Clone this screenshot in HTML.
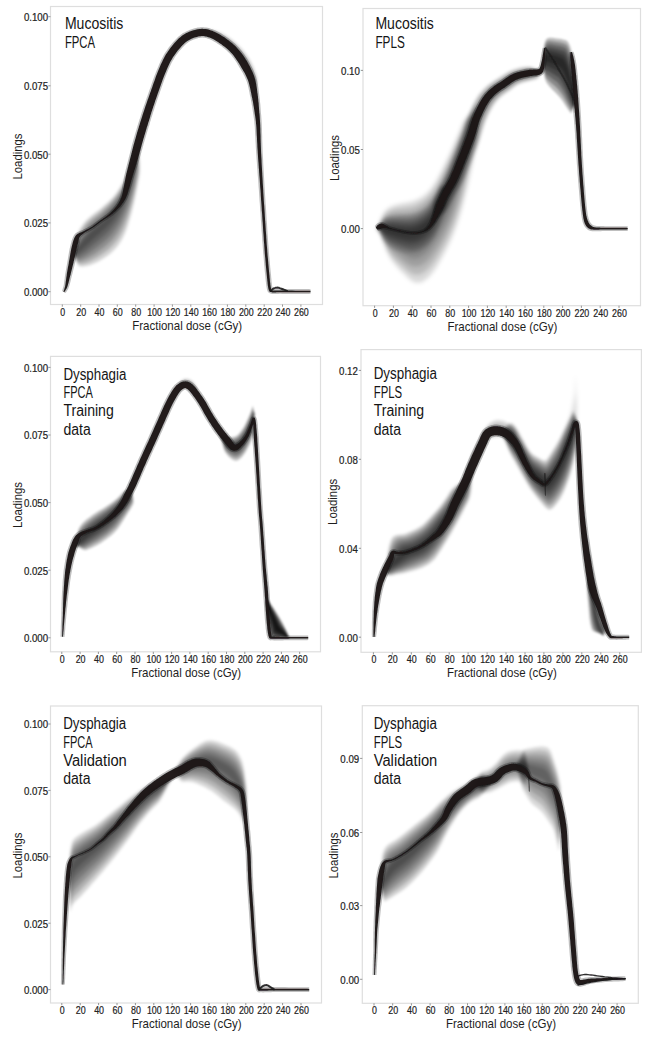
<!DOCTYPE html><html><head><meta charset="utf-8"><style>html,body{margin:0;padding:0;background:#fff;}svg{display:block}</style></head><body>
<svg width="650" height="1039" viewBox="0 0 650 1039">
<defs>
<filter id="b0_5" x="-20%" y="-20%" width="140%" height="140%"><feGaussianBlur stdDeviation="0.5"/></filter>
<filter id="b0_6" x="-20%" y="-20%" width="140%" height="140%"><feGaussianBlur stdDeviation="0.6"/></filter>
<filter id="b0_9" x="-20%" y="-20%" width="140%" height="140%"><feGaussianBlur stdDeviation="0.9"/></filter>
<filter id="b1_2" x="-20%" y="-20%" width="140%" height="140%"><feGaussianBlur stdDeviation="1.2"/></filter>
<filter id="b1_3" x="-20%" y="-20%" width="140%" height="140%"><feGaussianBlur stdDeviation="1.3"/></filter>
<filter id="b1_4" x="-20%" y="-20%" width="140%" height="140%"><feGaussianBlur stdDeviation="1.4"/></filter>
<filter id="b1_5" x="-20%" y="-20%" width="140%" height="140%"><feGaussianBlur stdDeviation="1.5"/></filter>
<filter id="b1_6" x="-20%" y="-20%" width="140%" height="140%"><feGaussianBlur stdDeviation="1.6"/></filter>
<filter id="b2_0" x="-20%" y="-20%" width="140%" height="140%"><feGaussianBlur stdDeviation="2.0"/></filter>
</defs>
<rect width="650" height="1039" fill="#fff"/>
<rect x="50.5" y="6.5" width="272" height="298" fill="none" stroke="#dedede" stroke-width="1.2"/>
<path d="M62.3,304.5v2.2M80.7,304.5v2.2M99,304.5v2.2M117.3,304.5v2.2M135.7,304.5v2.2M154.1,304.5v2.2M172.4,304.5v2.2M190.8,304.5v2.2M209.1,304.5v2.2M227.4,304.5v2.2M245.8,304.5v2.2M264.2,304.5v2.2M282.5,304.5v2.2M300.9,304.5v2.2M50.5,291.7h-2.2M50.5,222.9h-2.2M50.5,154.2h-2.2M50.5,85.8h-2.2M50.5,16.7h-2.2" stroke="#8a8a8a" stroke-width="0.9" fill="none"/>
<g font-family='"Liberation Sans", sans-serif' font-size="10.2" fill="#222" stroke="#222" stroke-width="0.2" text-anchor="middle"><text x="62.8" y="315.5" textLength="4.9" lengthAdjust="spacingAndGlyphs">0</text><text x="81.2" y="315.5" textLength="9.9" lengthAdjust="spacingAndGlyphs">20</text><text x="99.5" y="315.5" textLength="9.9" lengthAdjust="spacingAndGlyphs">40</text><text x="117.8" y="315.5" textLength="9.9" lengthAdjust="spacingAndGlyphs">60</text><text x="136.2" y="315.5" textLength="9.9" lengthAdjust="spacingAndGlyphs">80</text><text x="154.6" y="315.5" textLength="14.8" lengthAdjust="spacingAndGlyphs">100</text><text x="172.9" y="315.5" textLength="14.8" lengthAdjust="spacingAndGlyphs">120</text><text x="191.2" y="315.5" textLength="14.8" lengthAdjust="spacingAndGlyphs">140</text><text x="209.6" y="315.5" textLength="14.8" lengthAdjust="spacingAndGlyphs">160</text><text x="227.9" y="315.5" textLength="14.8" lengthAdjust="spacingAndGlyphs">180</text><text x="246.3" y="315.5" textLength="14.8" lengthAdjust="spacingAndGlyphs">200</text><text x="264.7" y="315.5" textLength="14.8" lengthAdjust="spacingAndGlyphs">220</text><text x="283" y="315.5" textLength="14.8" lengthAdjust="spacingAndGlyphs">240</text><text x="301.4" y="315.5" textLength="14.8" lengthAdjust="spacingAndGlyphs">260</text><text x="48.1" y="296" text-anchor="end" textLength="24.2" lengthAdjust="spacingAndGlyphs">0.000</text><text x="48.1" y="227.2" text-anchor="end" textLength="24.2" lengthAdjust="spacingAndGlyphs">0.025</text><text x="48.1" y="158.5" text-anchor="end" textLength="24.2" lengthAdjust="spacingAndGlyphs">0.050</text><text x="48.1" y="90.1" text-anchor="end" textLength="24.2" lengthAdjust="spacingAndGlyphs">0.075</text><text x="48.1" y="21" text-anchor="end" textLength="24.2" lengthAdjust="spacingAndGlyphs">0.100</text></g>
<text x="187.2" y="329.6" font-family='"Liberation Sans", sans-serif' font-size="12.8" fill="#1e1e1e" text-anchor="middle" textLength="110" lengthAdjust="spacingAndGlyphs">Fractional dose (cGy)</text>
<text transform="translate(22.3,156.5) rotate(-90)" font-family='"Liberation Sans", sans-serif' font-size="12.4" fill="#1e1e1e" text-anchor="middle" textLength="46" lengthAdjust="spacingAndGlyphs">Loadings</text>
<text x="64.9" y="28.8" font-family='"Liberation Sans", sans-serif' font-size="16" fill="#151515" textLength="58.5" lengthAdjust="spacingAndGlyphs">Mucositis</text>
<text x="64.9" y="47.7" font-family='"Liberation Sans", sans-serif' font-size="16" fill="#151515" textLength="30.2" lengthAdjust="spacingAndGlyphs">FPCA</text>
<g fill="#000" fill-opacity="0.182" filter="url(#b1_5)"><path d="M73,253.6 74,249.3 74.5,243.5 75.3,240.2 76.3,237 77.5,233.9 78.9,230.9 80.6,228 82.5,225.2 84.5,222.5 86.7,220 89.2,217.7 91.8,215.6 94.4,213.6 97.1,211.5 99.8,209.5 102.3,207.3 104.8,205.1 107.3,202.9 109.8,200.6 112.2,198.2 114.4,195.7 116.5,193.1 118.4,190.3 120.2,187.5 121.8,184.6 123.4,181.6 124.8,178.6 126.2,175.5 127.3,172.4 128.4,169.2 129.3,166 130.2,162.7 131.1,159.5 132.1,156.5 133.4,154 134.7,151.7 136,149.4 137.2,146.7 138.1,143.6 139.1,145.4 138.7,149.4 138.8,154.4 139.2,159.8 139.6,165.4 139.7,170.6 139.4,174.9 138.7,178.7 138,182.5 137.3,186.3 136.6,190.1 135.8,193.9 135,197.7 134.2,201.4 133.3,205.2 132.4,209 131.5,212.7 130.4,216.4 129.4,220.1 128.3,223.8 127.1,227.5 125.7,231.2 124.2,234.7 122.5,238.2 120.6,241.5 118.5,244.7 116.1,247.8 113.4,250.6 110.6,253.2 107.6,255.6 104.4,257.8 101.1,259.8 97.7,261.7 94.2,263.3 90.6,264.7 86.9,265.8 83.1,266.4 79.2,266.3 75.2,259.9 73,255.4Z"/><path d="M73,253.7 74.1,249.9 74.8,244.8 75.8,241.7 76.9,238.7 78.3,235.7 79.8,232.7 81.6,229.9 83.6,227.2 85.7,224.6 87.9,222.1 90.4,219.7 93,217.6 95.7,215.5 98.4,213.5 101,211.3 103.5,209.1 106,206.8 108.4,204.5 110.8,202.1 113.1,199.7 115.3,197.1 117.3,194.4 119.2,191.6 120.9,188.7 122.5,185.8 124,182.8 125.4,179.7 126.7,176.6 127.9,173.4 128.9,170.2 129.8,166.9 130.7,163.7 131.6,160.4 132.6,157.4 133.8,154.7 135,152.2 136.2,149.7 137.3,146.9 138.1,143.7 139,145.2 138.6,149.1 138.5,153.8 138.7,158.9 138.9,164.2 138.9,169.1 138.5,173.2 137.8,177 137.1,180.7 136.3,184.4 135.6,188.2 134.7,191.9 133.9,195.6 133,199.3 132.1,203 131.1,206.6 130,210.3 128.9,213.9 127.8,217.5 126.5,221.1 125.2,224.6 123.8,228.1 122.1,231.5 120.3,234.8 118.4,238.1 116.2,241.1 113.7,244.1 111.1,246.8 108.3,249.4 105.3,251.7 102.2,253.9 99.1,256.1 95.9,258 92.6,259.8 89.2,261.4 85.8,262.7 82.2,263.5 78.7,263.8 75.1,258.8 73,255.2Z"/><path d="M73,253.8 74.2,250.5 75.1,246.1 76.2,243.3 77.6,240.4 79,237.5 80.7,234.6 82.6,231.9 84.7,229.2 86.8,226.6 89.2,224.1 91.7,221.8 94.3,219.7 97,217.5 99.6,215.4 102.2,213.2 104.7,210.9 107.1,208.5 109.5,206.2 111.8,203.7 114,201.2 116.1,198.6 118.1,195.8 119.9,192.9 121.6,190 123.2,187 124.6,183.9 126,180.8 127.3,177.7 128.4,174.4 129.4,171.2 130.3,167.9 131.2,164.6 132.1,161.3 133,158.2 134.1,155.4 135.3,152.7 136.4,149.9 137.4,147 138.2,143.8 138.9,145 138.4,148.8 138.2,153.3 138.2,158.1 138.3,162.9 138.1,167.6 137.6,171.6 136.9,175.2 136.1,178.9 135.4,182.6 134.6,186.3 133.7,189.9 132.8,193.5 131.8,197.1 130.8,200.7 129.8,204.3 128.6,207.9 127.4,211.4 126.1,214.9 124.8,218.3 123.3,221.7 121.8,225 120,228.3 118.1,231.5 116.1,234.6 113.8,237.6 111.4,240.4 108.7,243 106,245.5 103,247.9 100.1,250.1 97.1,252.3 94,254.4 90.9,256.3 87.8,258.1 84.6,259.6 81.4,260.7 78.2,261.3 75,257.6 73,255Z"/><path d="M73,253.9 74.2,251.2 75.3,247.5 76.7,244.8 78.2,242.1 79.8,239.3 81.6,236.5 83.6,233.9 85.7,231.2 88,228.7 90.4,226.2 92.9,223.9 95.6,221.7 98.2,219.5 100.9,217.4 103.4,215.1 105.8,212.7 108.2,210.3 110.6,207.8 112.8,205.3 115,202.7 117,200 118.9,197.2 120.7,194.2 122.3,191.3 123.8,188.2 125.3,185.1 126.6,181.9 127.8,178.7 128.9,175.5 129.9,172.2 130.8,168.9 131.7,165.5 132.6,162.2 133.5,159 134.5,156 135.5,153.1 136.5,150.2 137.5,147.2 138.3,143.9 138.8,144.8 138.2,148.5 137.9,152.7 137.8,157.2 137.6,161.7 137.3,166 136.7,169.9 135.9,173.5 135.2,177.1 134.4,180.7 133.5,184.3 132.7,187.9 131.7,191.5 130.7,195 129.6,198.5 128.4,202 127.2,205.4 125.9,208.8 124.5,212.2 123,215.5 121.4,218.8 119.8,222 117.9,225.1 116,228.1 113.8,231.1 111.5,234 109,236.7 106.4,239.2 103.6,241.7 100.8,244 97.9,246.3 95,248.6 92.2,250.7 89.2,252.8 86.4,254.7 83.5,256.5 80.6,257.9 77.7,258.9 74.8,256.5 73,254.8Z"/><path d="M73,254 74.3,251.8 75.6,248.8 77.1,246.3 78.8,243.7 80.6,241.1 82.5,238.4 84.6,235.8 86.8,233.3 89.1,230.7 91.6,228.3 94.2,226 96.8,223.7 99.5,221.5 102.1,219.3 104.6,217 107,214.5 109.4,212 111.6,209.5 113.8,206.9 115.9,204.2 117.9,201.4 119.7,198.5 121.4,195.6 123,192.5 124.5,189.4 125.9,186.2 127.2,183 128.4,179.8 129.5,176.5 130.4,173.2 131.3,169.8 132.2,166.5 133.1,163.1 133.9,159.8 134.8,156.7 135.8,153.6 136.7,150.5 137.5,147.3 138.3,144 138.7,144.6 138.1,148.2 137.6,152.2 137.3,156.3 136.9,160.5 136.5,164.5 135.8,168.2 135,171.8 134.2,175.3 133.4,178.9 132.5,182.4 131.6,185.9 130.6,189.4 129.5,192.8 128.3,196.3 127.1,199.7 125.8,203 124.4,206.3 122.9,209.6 121.3,212.7 119.6,215.8 117.8,218.9 115.8,221.9 113.8,224.8 111.6,227.6 109.2,230.4 106.7,232.9 104.1,235.4 101.3,237.8 98.5,240.2 95.8,242.5 93,244.8 90.3,247.1 87.6,249.3 84.9,251.4 82.3,253.3 79.7,255 77.2,256.4 74.7,255.3 73,254.6Z"/><path d="M73,254.1 74.4,252.4 75.9,250.1 77.6,247.8 79.4,245.4 81.3,242.9 83.4,240.3 85.6,237.8 87.9,235.3 90.3,232.8 92.8,230.4 95.4,228 98.1,225.8 100.8,223.5 103.3,221.2 105.8,218.8 108.2,216.3 110.5,213.7 112.7,211.1 114.8,208.4 116.9,205.7 118.8,202.8 120.5,199.9 122.2,196.9 123.7,193.8 125.2,190.6 126.5,187.4 127.8,184.2 129,180.9 130,177.5 131,174.2 131.8,170.8 132.7,167.4 133.5,164 134.4,160.6 135.2,157.4 136,154.1 136.9,150.8 137.6,147.5 138.4,144.1 138.6,144.4 137.9,147.9 137.3,151.7 136.8,155.4 136.2,159.2 135.6,163 134.9,166.6 134.1,170.1 133.3,173.5 132.5,177 131.5,180.5 130.6,183.9 129.5,187.3 128.3,190.7 127.1,194 125.8,197.3 124.4,200.6 122.9,203.8 121.3,206.9 119.5,210 117.7,212.9 115.8,215.8 113.7,218.7 111.6,221.4 109.3,224.2 106.9,226.8 104.4,229.2 101.7,231.6 99,234 96.3,236.3 93.6,238.7 91,241 88.5,243.4 85.9,245.7 83.5,248 81.2,250.2 78.9,252.2 76.7,253.9 74.6,254.2 73,254.4Z"/></g>
<g fill="#000" fill-opacity="0.082" filter="url(#b1_2)"><path d="M176,43.6 178.6,41.6 181.2,39 183.9,36.1 186.7,33.5 189.5,31.8 192.4,30.5 195.4,29.6 198.5,28.9 201.6,28.5 204.8,28.5 207.9,28.6 211,29.1 214.1,29.8 217.1,30.7 220.1,31.8 223,33.1 225.7,34.6 228.4,36.3 231,38.1 233.5,40 235.9,42.1 238.2,44.2 240.5,46.5 242.6,48.8 244.6,51.2 246.5,53.7 248.3,56.3 250,59 251.5,61.8 253,64.6 254.3,67.5 255.4,70.4 256.5,73.4 257.4,76.4 257.9,79.7 257.5,83.5 256.8,87.4 256.3,91.1 256.4,94.4 255.5,95 254.7,92.2 253.7,89.6 252.5,87.1 251.4,84.6 250.6,81.9 249.7,79.1 248.7,76.4 247.6,73.6 246.5,71 245.2,68.4 243.9,65.8 242.4,63.3 240.7,60.9 239,58.6 237.2,56.3 235.2,54.1 233.2,52.1 231,50.1 228.8,48.2 226.5,46.4 224.2,44.6 221.9,42.9 219.4,41.3 216.9,39.9 214.3,38.7 211.5,37.7 208.7,36.9 205.9,36.3 203,36 200.1,36.1 197.2,36.6 194.4,37.4 191.7,38.4 189,39.4 186.3,40.5 183.7,41.4 181.2,42.2 178.6,43.2 176,44.5Z"/><path d="M176,43.7 178.6,41.8 181.2,39.4 183.9,36.7 186.6,34.3 189.4,32.7 192.3,31.4 195.3,30.5 198.3,29.8 201.4,29.4 204.6,29.3 207.7,29.5 210.8,30 213.8,30.7 216.8,31.6 219.7,32.8 222.6,34.1 225.3,35.6 227.9,37.3 230.5,39.1 233,41 235.4,43 237.6,45.1 239.8,47.4 241.9,49.7 244,52.1 245.9,54.6 247.6,57.2 249.3,59.8 250.8,62.6 252.2,65.4 253.5,68.2 254.6,71.1 255.7,74.1 256.6,77.1 257.1,80.3 256.9,83.9 256.4,87.7 256.1,91.3 256.3,94.5 255.6,95 254.8,92.1 253.9,89.5 252.8,86.9 251.8,84.4 250.9,81.6 250,78.8 249,76.1 248,73.3 246.8,70.7 245.6,68 244.2,65.4 242.7,62.9 241,60.5 239.3,58.2 237.4,55.9 235.5,53.8 233.4,51.7 231.3,49.7 229,47.8 226.8,46 224.4,44.2 222.1,42.5 219.6,40.9 217.1,39.5 214.4,38.3 211.7,37.3 208.8,36.5 206,36 203.1,35.7 200.2,35.7 197.3,36.2 194.5,37 191.7,38 189,39 186.3,40.2 183.7,41.1 181.2,42.1 178.6,43.1 176,44.4Z"/><path d="M176,43.8 178.6,42 181.2,39.7 183.9,37.3 186.6,35.1 189.4,33.6 192.2,32.4 195.2,31.4 198.2,30.7 201.2,30.3 204.3,30.2 207.4,30.4 210.5,30.9 213.5,31.6 216.5,32.6 219.4,33.7 222.1,35.1 224.8,36.6 227.5,38.2 230,40 232.4,41.9 234.8,43.9 237.1,46.1 239.2,48.3 241.3,50.6 243.3,53 245.2,55.4 246.9,58 248.6,60.6 250.1,63.3 251.5,66.1 252.7,68.9 253.9,71.8 254.9,74.7 255.8,77.7 256.4,80.8 256.3,84.3 256.1,87.9 255.9,91.4 256.2,94.5 255.6,94.9 254.9,92.1 254,89.4 253,86.8 252.1,84.1 251.3,81.3 250.4,78.5 249.4,75.8 248.3,73 247.1,70.3 245.9,67.7 244.5,65.1 243,62.6 241.3,60.2 239.6,57.8 237.7,55.6 235.7,53.4 233.7,51.3 231.5,49.3 229.3,47.4 227,45.6 224.6,43.8 222.3,42.1 219.8,40.5 217.2,39.1 214.5,37.9 211.8,36.9 209,36.1 206.1,35.6 203.2,35.3 200.2,35.3 197.3,35.8 194.5,36.6 191.7,37.6 189,38.7 186.4,39.8 183.8,40.9 181.2,41.9 178.6,43.1 176,44.4Z"/><path d="M176,43.9 178.6,42.2 181.2,40.1 183.9,38 186.5,35.9 189.3,34.4 192.1,33.3 195,32.3 198,31.6 201.1,31.2 204.1,31.1 207.2,31.3 210.2,31.8 213.2,32.6 216.1,33.5 219,34.6 221.7,36 224.4,37.5 227,39.2 229.5,41 231.9,42.9 234.2,44.9 236.5,47 238.6,49.2 240.7,51.4 242.6,53.8 244.5,56.2 246.2,58.8 247.9,61.4 249.3,64.1 250.7,66.8 251.9,69.6 253.1,72.5 254.1,75.4 255,78.3 255.6,81.4 255.8,84.8 255.7,88.2 255.7,91.5 256.1,94.6 255.7,94.9 255,92 254.2,89.3 253.3,86.6 252.4,83.9 251.6,81 250.7,78.2 249.7,75.5 248.6,72.7 247.5,70 246.2,67.4 244.8,64.8 243.3,62.3 241.6,59.8 239.8,57.5 238,55.2 236,53 233.9,50.9 231.8,48.9 229.5,47 227.2,45.2 224.8,43.4 222.4,41.7 220,40.1 217.4,38.7 214.7,37.5 211.9,36.5 209.1,35.7 206.2,35.2 203.3,34.9 200.3,35 197.4,35.4 194.6,36.2 191.8,37.2 189,38.3 186.4,39.5 183.8,40.6 181.2,41.7 178.6,43 176,44.3Z"/><path d="M176,44 178.6,42.4 181.2,40.5 183.8,38.6 186.5,36.8 189.2,35.3 192.1,34.2 194.9,33.2 197.9,32.5 200.9,32.1 203.9,32 207,32.2 210,32.7 212.9,33.5 215.8,34.4 218.6,35.6 221.3,37 223.9,38.5 226.5,40.2 228.9,42 231.3,43.9 233.6,45.8 235.9,47.9 238,50.1 240,52.3 242,54.7 243.8,57.1 245.6,59.6 247.1,62.2 248.6,64.9 249.9,67.6 251.2,70.4 252.3,73.2 253.3,76.1 254.2,79 254.9,82 255.2,85.2 255.4,88.4 255.6,91.6 256,94.7 255.7,94.9 255.1,92 254.3,89.2 253.5,86.4 252.7,83.6 251.9,80.8 251,78 250.1,75.2 249,72.4 247.8,69.7 246.5,67 245.1,64.4 243.6,61.9 241.9,59.5 240.1,57.1 238.2,54.8 236.3,52.6 234.2,50.5 232,48.5 229.8,46.6 227.4,44.7 225.1,43 222.6,41.3 220.1,39.7 217.5,38.3 214.8,37.1 212,36.1 209.2,35.4 206.3,34.8 203.3,34.5 200.4,34.6 197.5,35 194.6,35.8 191.8,36.8 189.1,37.9 186.4,39.1 183.8,40.3 181.2,41.6 178.6,42.9 176,44.3Z"/><path d="M176,44.1 178.6,42.5 181.2,40.9 183.8,39.2 186.5,37.6 189.2,36.2 192,35.1 194.8,34.1 197.7,33.4 200.7,32.9 203.7,32.9 206.7,33.1 209.7,33.7 212.6,34.4 215.5,35.4 218.2,36.5 220.9,37.9 223.5,39.5 226,41.2 228.4,42.9 230.8,44.8 233.1,46.8 235.3,48.8 237.4,51 239.4,53.2 241.3,55.5 243.2,57.9 244.9,60.4 246.4,63 247.9,65.6 249.2,68.3 250.4,71.1 251.5,73.9 252.5,76.7 253.4,79.6 254.1,82.5 254.6,85.6 255,88.7 255.4,91.8 255.9,94.7 255.8,94.8 255.1,91.9 254.5,89.1 253.8,86.2 253,83.4 252.3,80.5 251.4,77.7 250.4,74.9 249.3,72.1 248.1,69.4 246.8,66.7 245.4,64.1 243.9,61.6 242.2,59.1 240.4,56.7 238.5,54.4 236.5,52.2 234.4,50.1 232.3,48.1 230,46.2 227.7,44.3 225.3,42.6 222.8,40.9 220.3,39.3 217.7,37.9 215,36.7 212.2,35.7 209.3,35 206.4,34.4 203.4,34.1 200.5,34.2 197.5,34.7 194.7,35.4 191.9,36.4 189.1,37.5 186.4,38.8 183.8,40.1 181.2,41.4 178.6,42.8 176,44.2Z"/></g>
<path d="M62,291.1 62,290.9 62.1,290.7 62.2,290.5 62.3,290.3 62.3,290 62.4,289.8 62.5,289.5 62.6,289.2 62.7,288.9 62.8,288.6 62.9,288.2 63,287.8 63.1,287.5 63.2,287.3 63.3,287 63.4,286.7 63.4,286.4 63.5,285.9 63.7,285.4 63.8,284.7 63.9,283.9 64,283 64.2,281.9 64.3,280.7 64.5,279.5 64.7,278.2 64.8,276.9 65,275.6 65.2,274.3 65.4,273.1 65.6,271.9 65.8,270.8 66,269.6 66.2,268.4 66.4,267.3 66.6,266.1 66.8,265 67,263.8 67.2,262.7 67.4,261.5 67.6,260.4 67.8,259.2 68,258 68.2,256.8 68.4,255.6 68.6,254.5 68.8,253.3 69,252.1 69.2,251 69.4,249.9 69.6,248.8 69.9,247.8 70.1,246.8 70.3,245.8 70.6,244.8 70.8,243.8 71.1,242.9 71.3,242 71.5,241.1 71.8,240.3 72,239.7 72.2,239.1 72.5,238.5 72.7,237.8 73,237.2 73.3,236.5 73.7,235.8 74.1,235 74.7,234.3 75.3,233.6 76,233 76.8,232.5 77.6,232.1 78.3,231.7 79.1,231.4 79.8,231.1 80.6,230.8 81.3,230.5 82,230.2 82.8,229.9 83.5,229.5 84.3,229.1 85.1,228.7 85.9,228.3 86.7,227.9 87.5,227.5 88.3,227.1 89.1,226.6 90,226.2 90.8,225.7 91.6,225.1 92.6,224.4 93.5,223.7 94.5,223 95.5,222.3 96.5,221.5 97.5,220.8 98.4,220 99.3,219.4 100.2,218.7 101,218.1 101.8,217.5 102.6,217 103.3,216.5 104,216 104.6,215.6 105.3,215.1 105.9,214.7 106.5,214.2 107.1,213.8 107.6,213.3 108.2,212.8 108.7,212.4 109.2,211.9 109.7,211.5 110.2,211.1 110.6,210.6 111.1,210.1 111.6,209.6 112.1,209.1 112.6,208.5 113.1,207.9 113.6,207.3 114.2,206.7 114.7,206 115.2,205.4 115.7,204.8 116.1,204.1 116.6,203.4 117,202.8 117.4,202.1 117.8,201.3 118.2,200.6 118.5,199.9 118.9,199.1 119.2,198.4 119.5,197.6 119.8,196.8 120.1,195.9 120.4,195.1 120.6,194.2 120.9,193.3 121.1,192.3 121.3,191.2 121.6,190.1 121.8,189 122,187.8 122.2,186.7 122.4,185.5 122.6,184.4 122.9,183.4 123.1,182.3 123.3,181.3 123.5,180.3 123.6,179.3 123.8,178.3 124,177.3 124.2,176.2 124.4,175.2 124.7,174.2 124.9,173.2 125.1,172.2 125.4,171.2 125.6,170.2 125.8,169.3 126.1,168.3 126.3,167.4 126.5,166.4 126.8,165.5 127,164.6 127.2,163.7 127.5,162.8 127.7,161.9 127.9,161 128.2,160.1 128.4,159.2 128.6,158.3 128.8,157.4 129.1,156.5 129.3,155.6 129.5,154.7 129.8,153.7 130,152.8 130.2,151.8 130.5,150.9 130.7,149.9 131,148.9 131.2,148 131.4,147 131.7,146.1 131.9,145.1 132.2,144.2 132.4,143.3 132.7,142.4 132.9,141.5 133.2,140.6 133.4,139.7 133.7,138.8 133.9,137.9 134.2,137 134.5,136 134.8,135.1 135,134.1 135.3,133.2 135.6,132.2 135.9,131.2 136.2,130.3 136.5,129.3 136.8,128.3 137,127.4 137.3,126.5 137.6,125.6 137.9,124.7 138.1,123.8 138.4,122.9 138.7,122.1 139,121.2 139.3,120.3 139.5,119.3 139.9,118.4 140.2,117.4 140.5,116.4 140.8,115.4 141.1,114.4 141.4,113.4 141.8,112.3 142.2,111.2 142.5,110 142.9,108.8 143.4,107.5 143.8,106.2 144.3,104.8 144.8,103.4 145.3,102 145.8,100.5 146.3,98.9 146.9,97.3 147.5,95.7 148.1,94 148.7,92.2 149.3,90.4 150,88.4 150.8,86.4 151.5,84.2 152.3,82 153,79.8 153.8,77.7 154.6,75.5 155.4,73.5 156.2,71.5 156.9,69.7 157.7,67.9 158.4,66.2 159.1,64.5 159.9,62.8 160.6,61.2 161.4,59.6 162.2,58 163,56.4 163.9,54.8 164.8,53.3 165.8,51.8 166.8,50.4 167.7,48.9 168.7,47.6 169.7,46.3 170.8,45 171.8,43.8 172.8,42.6 173.7,41.5 174.7,40.4 175.6,39.4 176.6,38.4 177.5,37.5 178.5,36.6 179.6,35.7 180.7,34.8 181.8,33.9 183,33.1 184.3,32.4 185.7,31.7 187.1,31 188.5,30.4 190,29.8 191.5,29.2 193.1,28.7 194.6,28.3 196.1,27.9 197.7,27.6 199.2,27.4 200.6,27.3 202,27.2 203.4,27.3 204.8,27.4 206.1,27.5 207.5,27.8 208.8,28.1 210.1,28.4 211.4,28.9 212.7,29.3 214.2,29.9 215.6,30.5 217.1,31.2 218.5,32 220,32.8 221.4,33.6 222.8,34.5 224.2,35.4 225.6,36.3 226.9,37.2 228.1,38.1 229.4,39 230.6,39.9 231.9,40.9 233.1,41.9 234.3,43 235.5,44.1 236.6,45.2 237.8,46.4 238.9,47.6 240.1,48.9 241.2,50.2 242.2,51.5 243.3,52.9 244.3,54.3 245.2,55.7 246.2,57.1 247.1,58.6 248,60 248.9,61.4 249.7,62.9 250.5,64.4 251.3,65.9 252.1,67.4 252.9,69 253.6,70.6 254.3,72.2 255,73.9 255.6,75.6 256.2,77.3 256.7,79.2 257.2,81 257.6,82.9 257.9,84.8 258.2,86.7 258.5,88.5 258.7,90.3 258.9,92 259.1,93.6 259.3,95.2 259.5,96.8 259.7,98.3 259.9,99.8 260,101.2 260.1,102.6 260.3,103.9 260.4,105.3 260.5,106.7 260.6,108.1 260.7,109.5 260.8,110.9 260.9,112.3 261,113.7 261.2,115 261.3,116.4 261.4,117.9 261.5,119.4 261.6,121 261.7,122.8 261.8,124.8 261.9,126.9 262,129.1 262,131.4 262.1,133.7 262.2,136.2 262.2,138.8 262.3,141.4 262.4,144.1 262.5,146.9 262.6,149.8 262.7,152.8 262.9,156 263.1,159.2 263.2,162.6 263.4,166 263.6,169.5 263.8,173 264,176.5 264.2,179.9 264.4,183.3 264.6,186.7 264.8,190 265,193.4 265.2,196.7 265.4,200.1 265.6,203.4 265.9,206.8 266.1,210.1 266.3,213.5 266.5,216.8 266.7,220.2 267,223.7 267.2,227.1 267.4,230.6 267.6,234.1 267.9,237.6 268.1,240.9 268.3,244.1 268.6,247.2 268.8,250.2 269,253 269.2,255.7 269.5,258.3 269.7,260.8 269.9,263.2 270.1,265.5 270.3,267.7 270.5,269.8 270.7,271.8 270.9,273.7 271.1,275.5 271.2,277.2 271.4,278.8 271.5,280.3 271.6,281.7 271.8,283 271.9,284.1 272,285.2 272.2,286.1 272.3,287 272.5,287.8 272.6,288.4 272.6,288.9 272.6,289.1 272.6,289.1 272.4,288.8 272.2,288.6 272,288.5 272.1,288.6 272.4,288.8 272.7,288.9 272.9,288.9 273.1,289 273.4,289 273.9,289 274.6,289 275.5,289 276.7,288.9 278.2,288.9 280,289 282.3,289 285.2,289 288.5,289 292.1,289 295.8,289.1 299.4,289.1 302.9,289.1 306,289.1 308.6,289.1 310.5,289.2 310.5,293.8 308.6,293.9 306,293.9 302.9,293.9 299.4,293.9 295.8,293.9 292.1,293.9 288.5,293.9 285.2,293.9 282.3,293.9 280,293.8 278.2,293.9 276.8,293.9 275.7,294 274.8,294 274,294 273.4,294.1 272.7,294.1 272,294 271.3,293.8 270.6,293.6 270,293.4 269.4,293.1 268.7,292.7 268,292 267.5,291.3 267.3,290.6 267.1,290 267,289.4 266.8,288.8 266.7,288 266.5,287.1 266.3,286 266.2,284.8 266,283.6 265.9,282.3 265.7,280.9 265.6,279.4 265.4,277.8 265.3,276.1 265.1,274.3 264.9,272.4 264.7,270.4 264.5,268.2 264.3,266 264.1,263.7 263.9,261.3 263.7,258.8 263.5,256.1 263.2,253.4 263,250.6 262.8,247.7 262.6,244.6 262.3,241.3 262.1,237.9 261.9,234.5 261.6,231 261.4,227.5 261.2,224 260.9,220.6 260.7,217.2 260.5,213.8 260.2,210.5 260,207.2 259.8,203.8 259.5,200.4 259.3,197.1 259.1,193.7 258.9,190.4 258.6,187 258.4,183.7 258.2,180.3 257.9,176.9 257.6,173.4 257.4,169.9 257.1,166.4 256.9,163 256.6,159.6 256.4,156.3 256.2,153.2 256,150.2 255.8,147.3 255.7,144.4 255.5,141.7 255.4,139 255.3,136.5 255.1,134 255,131.6 254.9,129.4 254.8,127.3 254.6,125.2 254.4,123.4 254.3,121.6 254.1,120.1 253.9,118.6 253.7,117.2 253.5,115.9 253.3,114.6 253.1,113.2 252.9,111.9 252.7,110.5 252.5,109 252.3,107.7 252.1,106.3 251.8,105 251.6,103.7 251.4,102.4 251.1,101 250.9,99.7 250.6,98.3 250.3,96.8 249.9,95.2 249.6,93.5 249.3,91.8 248.9,90.1 248.6,88.4 248.2,86.8 247.8,85.1 247.3,83.6 246.9,82.1 246.4,80.7 245.8,79.3 245.2,77.9 244.6,76.5 243.9,75.2 243.2,73.8 242.5,72.5 241.7,71.2 240.9,69.8 240.1,68.5 239.3,67.2 238.5,65.8 237.7,64.5 236.9,63.1 236.1,61.8 235.2,60.6 234.4,59.3 233.5,58.1 232.6,57 231.8,55.8 230.9,54.8 230,53.8 229,52.8 228.1,51.9 227.1,50.9 226.1,50 225.1,49.2 224,48.3 222.9,47.5 221.9,46.6 220.7,45.8 219.6,45 218.4,44.2 217.2,43.4 216,42.6 214.7,41.9 213.5,41.2 212.3,40.6 211.2,40 210.1,39.5 209.1,39.1 208.1,38.7 207.1,38.4 206.2,38.1 205.4,38 204.6,37.8 203.8,37.7 203,37.7 202.2,37.6 201.3,37.7 200.4,37.8 199.5,37.9 198.4,38.1 197.3,38.4 196.1,38.8 194.9,39.2 193.8,39.6 192.6,40.1 191.5,40.6 190.4,41.1 189.5,41.6 188.6,42.1 187.8,42.7 187.1,43.2 186.3,43.8 185.6,44.4 184.9,45.1 184.1,45.9 183.3,46.7 182.5,47.6 181.7,48.5 180.8,49.5 179.9,50.6 179,51.6 178.1,52.8 177.2,53.9 176.4,55.1 175.5,56.3 174.7,57.6 173.9,58.9 173.1,60.2 172.3,61.5 171.6,62.8 170.9,64.2 170.2,65.7 169.5,67.2 168.8,68.7 168.1,70.3 167.4,72 166.7,73.7 166,75.5 165.3,77.3 164.5,79.3 163.8,81.3 163,83.4 162.3,85.6 161.5,87.7 160.8,89.8 160,91.9 159.4,93.9 158.7,95.8 158.1,97.5 157.5,99.2 157,100.8 156.4,102.4 155.9,103.9 155.4,105.4 154.9,106.8 154.5,108.2 154.1,109.6 153.6,110.9 153.2,112.1 152.9,113.3 152.5,114.5 152.2,115.5 151.9,116.6 151.5,117.6 151.2,118.6 150.9,119.6 150.7,120.6 150.3,121.6 150,122.6 149.7,123.6 149.5,124.5 149.2,125.4 148.9,126.2 148.6,127.1 148.4,127.9 148.1,128.8 147.8,129.7 147.6,130.6 147.3,131.5 147,132.5 146.7,133.4 146.4,134.4 146.2,135.3 145.9,136.3 145.6,137.2 145.3,138.2 145.1,139.1 144.8,140 144.5,140.9 144.3,141.8 144,142.7 143.8,143.6 143.5,144.5 143.3,145.4 143,146.2 142.8,147.1 142.6,148 142.3,148.9 142.1,149.8 141.8,150.8 141.5,151.7 141.3,152.7 141,153.6 140.8,154.6 140.5,155.5 140.2,156.5 140,157.5 139.7,158.4 139.4,159.3 139.2,160.2 138.9,161.2 138.6,162 138.4,162.9 138.1,163.8 137.8,164.7 137.6,165.6 137.3,166.5 137,167.4 136.7,168.3 136.4,169.2 136.1,170.2 135.8,171.1 135.6,172 135.3,172.9 135,173.8 134.7,174.8 134.4,175.7 134.1,176.6 133.9,177.5 133.6,178.5 133.3,179.4 133.1,180.4 132.8,181.4 132.5,182.4 132.3,183.4 132,184.5 131.7,185.5 131.4,186.6 131,187.6 130.7,188.7 130.4,189.8 130,191 129.7,192.2 129.3,193.3 128.9,194.5 128.5,195.7 128.1,196.8 127.6,197.9 127.2,198.9 126.7,199.9 126.1,200.8 125.6,201.7 125.1,202.6 124.5,203.4 124,204.2 123.4,204.9 122.8,205.7 122.2,206.4 121.6,207.2 121,207.9 120.4,208.6 119.7,209.3 119.1,210 118.4,210.6 117.8,211.2 117.1,211.8 116.5,212.4 115.9,212.9 115.3,213.5 114.7,214 114.1,214.5 113.6,214.9 113,215.4 112.4,215.8 111.8,216.3 111.2,216.7 110.6,217.2 109.9,217.6 109.3,218.1 108.6,218.6 107.9,219 107.2,219.4 106.5,219.9 105.8,220.3 105.1,220.8 104.3,221.3 103.6,221.8 102.8,222.3 101.9,222.9 101.1,223.6 100.1,224.3 99.1,225 98.1,225.8 97.1,226.5 96.1,227.3 95.1,228 94.2,228.7 93.2,229.3 92.3,229.9 91.4,230.5 90.5,231 89.7,231.5 88.9,232 88.1,232.4 87.3,232.8 86.6,233.2 85.9,233.6 85.2,234.1 84.6,234.6 83.9,235.1 83.3,235.6 82.7,236.1 82.2,236.5 81.7,236.9 81.4,237.3 81.1,237.7 80.8,238.1 80.7,238.4 80.6,238.6 80.5,238.8 80.5,239.1 80.4,239.3 80.4,239.6 80.3,240.1 80.2,240.6 80.1,241.2 80,241.9 79.8,242.7 79.6,243.4 79.4,244.2 79.2,245 79,245.9 78.7,246.8 78.5,247.7 78.3,248.7 78.1,249.7 77.8,250.7 77.6,251.7 77.3,252.7 77.1,253.8 76.8,254.9 76.6,256 76.3,257.2 76.1,258.4 75.8,259.5 75.6,260.7 75.3,261.9 75,263.1 74.7,264.2 74.5,265.4 74.2,266.5 73.9,267.7 73.6,268.8 73.3,269.9 73.1,271.1 72.8,272.2 72.5,273.4 72.2,274.5 71.9,275.7 71.6,276.9 71.3,278.1 71,279.4 70.7,280.7 70.4,281.9 70.1,283.1 69.8,284.2 69.5,285.2 69.2,286.1 69,286.8 68.7,287.5 68.5,288.1 68.3,288.6 68.1,289 67.9,289.4 67.7,289.7 67.5,290 67.4,290.2 67.2,290.4 67,290.8 66.8,291.1 66.6,291.4 66.5,291.7 66.3,292 66.1,292.2 65.9,292.5 65.8,292.6 65.7,292.8 65.6,292.9Z" fill="#000" fill-opacity="0.25" filter="url(#b0_6)"/>
<path d="M63.4,291.8 63.5,291.7 63.5,291.5 63.6,291.2 63.7,291 63.8,290.7 63.9,290.5 64,290.2 64.1,289.8 64.2,289.5 64.3,289.2 64.4,288.8 64.5,288.5 64.6,288.2 64.7,287.9 64.8,287.6 64.9,287.3 65,286.9 65.1,286.4 65.2,285.8 65.3,285.1 65.5,284.3 65.6,283.3 65.7,282.2 65.9,281 66.1,279.8 66.2,278.5 66.4,277.2 66.6,275.9 66.8,274.6 66.9,273.4 67.1,272.3 67.3,271.1 67.5,269.9 67.7,268.8 67.9,267.6 68.1,266.5 68.4,265.3 68.6,264.1 68.8,263 68.9,261.8 69.1,260.7 69.4,259.5 69.6,258.3 69.8,257.1 70,255.9 70.2,254.8 70.4,253.6 70.6,252.4 70.8,251.3 71,250.2 71.2,249.2 71.4,248.2 71.7,247.1 71.9,246.1 72.1,245.2 72.4,244.2 72.6,243.3 72.8,242.4 73.1,241.5 73.3,240.8 73.6,240.1 73.8,239.5 74,238.9 74.2,238.3 74.5,237.7 74.8,237.1 75.1,236.5 75.5,235.9 76,235.3 76.5,234.7 77.1,234.2 77.8,233.8 78.5,233.4 79.2,233 79.9,232.7 80.6,232.5 81.4,232.2 82.1,231.9 82.8,231.6 83.6,231.3 84.3,230.9 85.1,230.5 85.9,230.1 86.6,229.7 87.5,229.3 88.3,228.9 89.1,228.5 89.9,228 90.8,227.5 91.7,227 92.6,226.4 93.5,225.7 94.5,225 95.5,224.3 96.5,223.5 97.4,222.8 98.4,222 99.4,221.3 100.3,220.6 101.2,220 102,219.4 102.7,218.9 103.5,218.3 104.2,217.8 104.9,217.4 105.5,216.9 106.2,216.5 106.8,216 107.4,215.5 108,215.1 108.6,214.6 109.2,214.1 109.7,213.6 110.2,213.2 110.7,212.7 111.2,212.3 111.7,211.8 112.2,211.3 112.7,210.8 113.2,210.2 113.7,209.6 114.3,209 114.8,208.4 115.3,207.8 115.9,207.1 116.4,206.4 116.9,205.8 117.4,205.1 117.8,204.4 118.3,203.7 118.7,202.9 119.1,202.2 119.5,201.4 119.9,200.7 120.3,199.9 120.6,199.1 120.9,198.3 121.3,197.4 121.6,196.6 121.9,195.7 122.1,194.7 122.4,193.8 122.6,192.7 122.9,191.6 123.1,190.5 123.3,189.3 123.5,188.2 123.8,187 124,185.9 124.2,184.8 124.4,183.7 124.6,182.7 124.8,181.7 125,180.7 125.2,179.7 125.4,178.6 125.6,177.6 125.8,176.6 126,175.6 126.2,174.6 126.4,173.6 126.7,172.6 126.9,171.6 127.1,170.7 127.4,169.7 127.6,168.7 127.8,167.8 128.1,166.9 128.3,166 128.5,165 128.8,164.1 129,163.2 129.2,162.3 129.5,161.4 129.7,160.5 129.9,159.6 130.1,158.7 130.4,157.8 130.6,156.9 130.8,156 131.1,155.1 131.3,154.2 131.5,153.2 131.8,152.2 132,151.3 132.3,150.3 132.5,149.3 132.7,148.4 133,147.4 133.2,146.5 133.5,145.6 133.7,144.6 134,143.7 134.2,142.9 134.5,142 134.7,141.1 135,140.2 135.2,139.3 135.5,138.4 135.8,137.4 136,136.5 136.3,135.5 136.6,134.6 136.9,133.6 137.1,132.6 137.4,131.7 137.7,130.7 138,129.8 138.3,128.8 138.6,127.9 138.8,126.9 139.1,126.1 139.4,125.2 139.7,124.3 139.9,123.4 140.2,122.5 140.5,121.6 140.8,120.7 141.1,119.8 141.4,118.8 141.7,117.9 142,116.9 142.3,115.9 142.6,114.9 143,113.8 143.3,112.8 143.7,111.7 144.1,110.5 144.5,109.3 144.9,108 145.3,106.7 145.8,105.3 146.3,103.9 146.8,102.5 147.3,101 147.8,99.5 148.4,97.9 149,96.2 149.6,94.5 150.2,92.8 150.9,90.9 151.5,89 152.3,86.9 153,84.7 153.8,82.6 154.6,80.4 155.3,78.2 156.1,76.1 156.9,74.1 157.7,72.1 158.4,70.3 159.1,68.5 159.9,66.8 160.6,65.1 161.3,63.5 162.1,61.9 162.8,60.3 163.6,58.7 164.4,57.2 165.3,55.6 166.2,54.1 167.1,52.7 168.1,51.3 169,49.9 170,48.5 171,47.2 172,46 173,44.8 174,43.6 174.9,42.5 175.9,41.5 176.8,40.5 177.7,39.6 178.6,38.6 179.6,37.7 180.6,36.9 181.6,36.1 182.7,35.3 183.9,34.5 185.1,33.8 186.4,33.1 187.7,32.5 189.1,31.8 190.6,31.3 192,30.8 193.5,30.3 195,29.9 196.5,29.5 197.9,29.2 199.4,29 200.7,28.9 202.1,28.8 203.4,28.9 204.6,29 205.9,29.1 207.1,29.3 208.4,29.6 209.6,30 210.9,30.4 212.2,30.8 213.5,31.4 214.9,32 216.3,32.7 217.8,33.4 219.2,34.2 220.6,35 222,35.9 223.3,36.7 224.7,37.6 225.9,38.5 227.2,39.4 228.4,40.3 229.6,41.2 230.8,42.2 232,43.1 233.2,44.2 234.4,45.2 235.5,46.3 236.6,47.5 237.7,48.7 238.8,49.9 239.9,51.2 240.9,52.5 242,53.8 243,55.2 243.9,56.6 244.9,58 245.8,59.4 246.7,60.8 247.5,62.3 248.3,63.7 249.1,65.2 249.9,66.6 250.7,68.2 251.4,69.7 252.2,71.3 252.9,72.9 253.5,74.5 254.1,76.1 254.7,77.9 255.2,79.6 255.6,81.4 256,83.3 256.3,85.1 256.6,86.9 256.9,88.8 257.1,90.5 257.3,92.3 257.6,93.9 257.8,95.5 258,97 258.1,98.5 258.3,100 258.4,101.4 258.6,102.8 258.7,104.1 258.8,105.5 258.9,106.9 259,108.3 259.1,109.7 259.2,111.1 259.3,112.5 259.5,113.8 259.6,115.2 259.7,116.6 259.8,118 259.9,119.5 260,121.2 260.1,122.9 260.2,124.9 260.3,126.9 260.4,129.1 260.4,131.4 260.5,133.8 260.6,136.3 260.6,138.8 260.7,141.5 260.8,144.2 260.9,147 261,149.9 261.1,152.9 261.3,156.1 261.5,159.3 261.6,162.7 261.8,166.1 262,169.6 262.2,173.1 262.4,176.6 262.6,180 262.8,183.4 263,186.8 263.2,190.1 263.4,193.5 263.6,196.8 263.8,200.2 264,203.5 264.3,206.9 264.5,210.2 264.7,213.6 264.9,216.9 265.1,220.3 265.4,223.8 265.6,227.2 265.8,230.8 266.1,234.2 266.3,237.7 266.5,241 266.7,244.3 267,247.4 267.2,250.3 267.4,253.1 267.6,255.8 267.9,258.4 268.1,260.9 268.3,263.3 268.5,265.6 268.7,267.8 268.9,270 269.1,272 269.3,273.9 269.5,275.7 269.6,277.4 269.8,279 269.9,280.5 270,281.9 270.2,283.1 270.3,284.3 270.5,285.4 270.6,286.4 270.8,287.3 270.9,288.1 271,288.7 271,289.2 271.1,289.5 271.1,289.7 271.1,289.8 271.1,289.8 271.2,289.9 271.4,290.1 271.8,290.3 272.3,290.4 272.6,290.5 273,290.6 273.4,290.6 273.9,290.6 274.7,290.6 275.6,290.6 276.8,290.5 278.2,290.5 280,290.6 282.3,290.6 285.2,290.6 288.5,290.6 292.1,290.6 295.8,290.7 299.4,290.7 302.9,290.7 306,290.7 308.6,290.7 310.5,290.8 310.5,292.2 308.6,292.3 306,292.3 302.9,292.3 299.4,292.3 295.8,292.3 292.1,292.3 288.5,292.3 285.2,292.3 282.3,292.3 280,292.2 278.2,292.3 276.8,292.3 275.7,292.4 274.7,292.4 274,292.4 273.4,292.5 272.8,292.5 272.3,292.4 271.7,292.3 271.2,292.1 270.6,292 270.1,291.8 269.7,291.5 269.3,291.1 269,290.6 268.8,290.2 268.7,289.7 268.5,289.1 268.4,288.5 268.2,287.7 268.1,286.8 267.9,285.8 267.7,284.6 267.6,283.4 267.5,282.1 267.3,280.7 267.2,279.2 267,277.6 266.9,275.9 266.7,274.1 266.5,272.2 266.3,270.2 266.1,268.1 265.9,265.9 265.7,263.6 265.5,261.1 265.3,258.6 265,256 264.8,253.3 264.6,250.5 264.4,247.6 264.2,244.4 263.9,241.2 263.7,237.8 263.5,234.4 263.2,230.9 263,227.4 262.8,223.9 262.5,220.5 262.3,217.1 262.1,213.7 261.8,210.4 261.6,207 261.4,203.7 261.1,200.3 260.9,197 260.7,193.6 260.5,190.3 260.2,186.9 260,183.6 259.8,180.2 259.5,176.8 259.2,173.3 259,169.8 258.7,166.3 258.5,162.9 258.2,159.5 258,156.3 257.8,153.1 257.6,150.1 257.4,147.2 257.3,144.4 257.1,141.6 257,139 256.9,136.4 256.7,133.9 256.6,131.6 256.5,129.3 256.4,127.2 256.2,125.1 256,123.2 255.9,121.5 255.7,119.9 255.5,118.4 255.3,117 255.1,115.7 254.9,114.4 254.7,113.1 254.5,111.7 254.3,110.3 254.1,108.9 253.9,107.5 253.6,106.1 253.4,104.8 253.2,103.5 253,102.1 252.7,100.8 252.4,99.4 252.2,98 251.8,96.5 251.5,94.9 251.2,93.3 250.8,91.6 250.5,89.9 250.1,88.1 249.7,86.4 249.3,84.8 248.9,83.2 248.4,81.6 247.9,80.1 247.3,78.7 246.7,77.3 246.1,75.9 245.4,74.5 244.7,73.1 243.9,71.8 243.1,70.4 242.3,69 241.5,67.7 240.7,66.3 239.9,65 239.1,63.6 238.2,62.3 237.4,61 236.5,59.7 235.7,58.4 234.8,57.2 233.9,56 233,54.8 232.1,53.7 231.1,52.7 230.2,51.7 229.2,50.7 228.2,49.7 227.1,48.8 226.1,47.9 225,47.1 223.9,46.2 222.8,45.4 221.7,44.5 220.5,43.7 219.3,42.9 218,42.1 216.8,41.3 215.5,40.5 214.3,39.8 213,39.1 211.9,38.5 210.7,38 209.6,37.6 208.6,37.2 207.6,36.9 206.6,36.6 205.7,36.4 204.8,36.2 203.9,36.1 203.1,36.1 202.2,36 201.2,36.1 200.2,36.2 199.2,36.3 198.1,36.6 196.9,36.9 195.7,37.2 194.4,37.6 193.2,38.1 192,38.6 190.8,39.1 189.7,39.7 188.7,40.2 187.8,40.8 186.9,41.3 186.1,41.9 185.3,42.6 184.5,43.2 183.8,44 183,44.7 182.2,45.6 181.3,46.5 180.5,47.5 179.6,48.5 178.7,49.5 177.8,50.6 176.9,51.8 176,53 175.1,54.2 174.2,55.4 173.3,56.7 172.5,58 171.7,59.4 170.9,60.7 170.2,62.1 169.5,63.5 168.8,65 168.1,66.5 167.4,68.1 166.7,69.7 166,71.4 165.3,73.1 164.5,74.9 163.8,76.7 163,78.7 162.3,80.8 161.5,82.9 160.8,85 160,87.2 159.3,89.3 158.5,91.4 157.8,93.4 157.2,95.2 156.6,97 156,98.7 155.4,100.3 154.9,101.9 154.4,103.4 153.9,104.9 153.4,106.3 153,107.7 152.5,109.1 152.1,110.4 151.7,111.6 151.3,112.8 151,114 150.6,115.1 150.3,116.1 150,117.2 149.7,118.2 149.4,119.2 149.1,120.2 148.8,121.2 148.5,122.1 148.2,123.1 147.9,124 147.7,124.9 147.4,125.7 147.1,126.6 146.8,127.5 146.6,128.3 146.3,129.2 146,130.1 145.8,131.1 145.5,132 145.2,132.9 144.9,133.9 144.6,134.9 144.3,135.8 144.1,136.8 143.8,137.7 143.5,138.6 143.2,139.6 143,140.5 142.7,141.4 142.5,142.3 142.2,143.2 142,144 141.7,144.9 141.5,145.8 141.3,146.7 141,147.6 140.8,148.5 140.5,149.4 140.3,150.4 140,151.3 139.7,152.3 139.5,153.2 139.2,154.2 139,155.1 138.7,156.1 138.4,157 138.2,158 137.9,158.9 137.6,159.8 137.4,160.7 137.1,161.6 136.8,162.5 136.6,163.4 136.3,164.3 136,165.2 135.7,166.1 135.5,167 135.2,167.9 134.9,168.8 134.6,169.7 134.3,170.6 134,171.6 133.7,172.5 133.4,173.4 133.2,174.3 132.9,175.3 132.6,176.2 132.3,177.2 132,178.1 131.8,179.1 131.5,180 131.2,181 131,182 130.7,183.1 130.4,184.1 130.1,185.2 129.8,186.2 129.5,187.3 129.2,188.3 128.8,189.5 128.5,190.6 128.1,191.8 127.8,192.9 127.4,194.1 127,195.2 126.6,196.3 126.1,197.3 125.7,198.3 125.2,199.2 124.7,200.1 124.2,201 123.7,201.8 123.1,202.6 122.6,203.3 122,204.1 121.5,204.8 120.9,205.5 120.3,206.2 119.7,206.9 119.1,207.6 118.5,208.3 117.9,208.9 117.2,209.5 116.6,210.1 116,210.7 115.4,211.2 114.8,211.8 114.2,212.3 113.6,212.8 113.1,213.3 112.5,213.7 112,214.2 111.4,214.6 110.8,215 110.2,215.5 109.6,215.9 109,216.3 108.3,216.8 107.7,217.2 107,217.7 106.3,218.1 105.6,218.5 104.9,219 104.2,219.4 103.4,219.9 102.7,220.4 101.8,221 101,221.6 100.1,222.3 99.1,223 98.2,223.7 97.2,224.5 96.2,225.3 95.2,226 94.2,226.7 93.2,227.4 92.3,228 91.5,228.6 90.6,229.1 89.7,229.6 88.9,230.1 88.1,230.6 87.3,231 86.6,231.4 85.8,231.8 85.1,232.3 84.4,232.7 83.8,233.2 83.1,233.7 82.5,234.2 81.9,234.7 81.4,235.1 80.9,235.6 80.4,236 80,236.5 79.7,236.9 79.5,237.3 79.3,237.7 79.1,238 79,238.4 78.9,238.7 78.9,239.1 78.8,239.6 78.7,240.2 78.6,240.8 78.5,241.5 78.3,242.2 78.1,243 77.9,243.8 77.6,244.6 77.4,245.5 77.2,246.4 77,247.3 76.7,248.3 76.5,249.3 76.3,250.3 76,251.4 75.8,252.4 75.5,253.5 75.3,254.6 75,255.7 74.8,256.9 74.5,258.1 74.2,259.2 74,260.4 73.7,261.6 73.5,262.8 73.2,263.9 72.9,265.1 72.6,266.2 72.3,267.3 72.1,268.5 71.8,269.6 71.5,270.8 71.2,271.9 70.9,273 70.7,274.2 70.4,275.3 70,276.6 69.7,277.8 69.4,279.1 69.1,280.4 68.8,281.6 68.5,282.7 68.2,283.8 67.9,284.8 67.7,285.7 67.4,286.4 67.2,287 67,287.6 66.8,288 66.6,288.4 66.4,288.7 66.2,289 66.1,289.3 65.9,289.5 65.7,289.8 65.6,290.1 65.4,290.4 65.2,290.7 65,291 64.8,291.3 64.7,291.5 64.5,291.7 64.4,291.9 64.3,292.1 64.2,292.2Z" fill="#1a1718" fill-opacity="0.97" filter="url(#b0_5)"/>
<path d="M270.5,291 270.9,290.7 271.4,290.2 272,289.7 272.7,289.1 273.3,288.7 274,288.3 274.6,288.1 275.3,287.9 275.9,287.7 276.6,287.7 277.3,287.6 278,287.7 278.8,287.8 279.6,288.1 280.5,288.4 281.4,288.7 282.2,289 283,289.3 283.8,289.6 284.6,289.9 285.3,290.2 286,290.6 286.6,290.8 287,291" fill="none" stroke="#1a1718" stroke-opacity="0.9" stroke-width="2.0" stroke-linecap="round" stroke-linejoin="round" filter="url(#b0_5)"/>
<rect x="363" y="8.5" width="277.5" height="297.2" fill="none" stroke="#dedede" stroke-width="1.2"/>
<path d="M374.6,305.7v2.2M393.4,305.7v2.2M412.2,305.7v2.2M431,305.7v2.2M449.8,305.7v2.2M468.6,305.7v2.2M487.4,305.7v2.2M506.2,305.7v2.2M525,305.7v2.2M543.8,305.7v2.2M562.6,305.7v2.2M581.4,305.7v2.2M600.2,305.7v2.2M619,305.7v2.2M363,228.6h-2.2M363,149.5h-2.2M363,70.4h-2.2" stroke="#8a8a8a" stroke-width="0.9" fill="none"/>
<g font-family='"Liberation Sans", sans-serif' font-size="10.2" fill="#222" stroke="#222" stroke-width="0.2" text-anchor="middle"><text x="375.1" y="316.7" textLength="4.9" lengthAdjust="spacingAndGlyphs">0</text><text x="393.9" y="316.7" textLength="9.9" lengthAdjust="spacingAndGlyphs">20</text><text x="412.7" y="316.7" textLength="9.9" lengthAdjust="spacingAndGlyphs">40</text><text x="431.5" y="316.7" textLength="9.9" lengthAdjust="spacingAndGlyphs">60</text><text x="450.3" y="316.7" textLength="9.9" lengthAdjust="spacingAndGlyphs">80</text><text x="469.1" y="316.7" textLength="14.8" lengthAdjust="spacingAndGlyphs">100</text><text x="487.9" y="316.7" textLength="14.8" lengthAdjust="spacingAndGlyphs">120</text><text x="506.7" y="316.7" textLength="14.8" lengthAdjust="spacingAndGlyphs">140</text><text x="525.5" y="316.7" textLength="14.8" lengthAdjust="spacingAndGlyphs">160</text><text x="544.3" y="316.7" textLength="14.8" lengthAdjust="spacingAndGlyphs">180</text><text x="563.1" y="316.7" textLength="14.8" lengthAdjust="spacingAndGlyphs">200</text><text x="581.9" y="316.7" textLength="14.8" lengthAdjust="spacingAndGlyphs">220</text><text x="600.7" y="316.7" textLength="14.8" lengthAdjust="spacingAndGlyphs">240</text><text x="619.5" y="316.7" textLength="14.8" lengthAdjust="spacingAndGlyphs">260</text><text x="359.9" y="232.9" text-anchor="end" textLength="18.9" lengthAdjust="spacingAndGlyphs">0.00</text><text x="359.9" y="153.8" text-anchor="end" textLength="18.9" lengthAdjust="spacingAndGlyphs">0.05</text><text x="359.9" y="74.7" text-anchor="end" textLength="18.9" lengthAdjust="spacingAndGlyphs">0.10</text></g>
<text x="502.4" y="330.8" font-family='"Liberation Sans", sans-serif' font-size="12.8" fill="#1e1e1e" text-anchor="middle" textLength="110" lengthAdjust="spacingAndGlyphs">Fractional dose (cGy)</text>
<text transform="translate(338.8,158.1) rotate(-90)" font-family='"Liberation Sans", sans-serif' font-size="12.4" fill="#1e1e1e" text-anchor="middle" textLength="46" lengthAdjust="spacingAndGlyphs">Loadings</text>
<text x="375.4" y="28.7" font-family='"Liberation Sans", sans-serif' font-size="16" fill="#151515" textLength="58.5" lengthAdjust="spacingAndGlyphs">Mucositis</text>
<text x="375.4" y="47.5" font-family='"Liberation Sans", sans-serif' font-size="16" fill="#151515" textLength="29.4" lengthAdjust="spacingAndGlyphs">FPLS</text>
<g fill="#000" fill-opacity="0.149" filter="url(#b2_0)"><path d="M376.5,228.3 377.9,227.2 379.3,224.2 381,219.2 383.4,213.5 386.4,209.8 389.9,207.3 393.7,205.5 397.8,204.4 402,203.6 406.2,202.7 410.4,201.9 414.5,200.8 418.4,199.1 422.1,197 425.5,194.4 428.6,191.5 431.3,188.3 433.8,184.8 436.1,181.2 438.2,177.5 440.1,173.7 442.1,169.9 444,166.1 445.9,162.3 447.7,158.4 449.6,154.6 451.3,150.7 453.1,146.8 454.8,142.9 456.5,139 458.2,135.1 459.9,131.2 461.5,127.3 463,123.3 464.9,119.7 467.6,116.8 470.8,113.9 473.8,110.4 476.1,106 477.9,106.9 476.9,112.6 477,119.5 477.7,127.5 478,135.7 477.1,142.7 475.7,149.3 474.3,155.8 472.8,162.3 471.3,168.8 469.8,175.4 468.4,181.9 466.9,188.4 465.3,194.9 463.7,201.4 462,207.9 460.2,214.3 458.2,220.7 456.1,227 453.7,233.3 451.1,239.4 448.3,245.5 445.3,251.5 442.1,257.4 438.8,263.2 435.3,268.9 431.4,274.3 426.7,279 421,282.5 414.4,282.5 409,278.7 404.2,274.1 399.4,269.4 395,264.4 390.8,259.1 387.2,252.3 383.8,242.7 380.8,234.6 378.4,230.1 376.5,228.5Z"/><path d="M376.5,228.3 378,227.4 379.4,224.9 381.2,220.7 383.6,216.1 386.7,213.1 390.2,211.1 394.1,209.7 398.3,209.1 402.5,208.6 406.7,208.1 411.1,207.3 415.3,206 419.2,204.1 422.9,201.8 426.4,199 429.5,195.9 432.3,192.5 434.8,188.8 437.1,185.1 439.2,181.2 441.2,177.2 443.2,173.3 445.1,169.3 447,165.3 448.8,161.3 450.6,157.3 452.4,153.2 454.1,149.2 455.8,145.1 457.5,141 459.2,137 460.9,132.9 462.5,128.7 464,124.6 465.7,120.7 468.3,117.5 471.2,114.3 474,110.6 476.2,106.1 477.7,106.8 476.6,112.4 476.4,118.9 476.7,126.4 476.7,134.1 475.7,140.8 474.3,147.1 472.8,153.3 471.3,159.6 469.8,165.9 468.3,172.1 466.8,178.4 465.3,184.6 463.7,190.9 462.1,197.1 460.4,203.3 458.6,209.5 456.6,215.6 454.5,221.7 452.2,227.7 449.6,233.6 446.9,239.5 443.9,245.2 440.8,250.8 437.5,256.3 434,261.7 430.1,266.8 425.5,271.2 419.9,274.4 413.6,274.6 408.3,271.2 403.5,267.1 398.8,263 394.4,258.7 390.4,254.2 386.8,248.4 383.5,240.4 380.6,233.6 378.3,229.8 376.5,228.5Z"/><path d="M376.5,228.4 378,227.6 379.5,225.6 381.4,222.3 383.9,218.7 387,216.4 390.5,214.9 394.5,214 398.7,213.7 402.9,213.6 407.3,213.4 411.8,212.7 416.1,211.2 420.1,209.1 423.8,206.5 427.2,203.6 430.4,200.3 433.2,196.7 435.8,192.9 438.1,189 440.2,184.9 442.3,180.8 444.2,176.7 446.2,172.5 448,168.4 449.9,164.2 451.6,160 453.4,155.7 455.1,151.5 456.8,147.3 458.5,143 460.2,138.8 461.8,134.5 463.4,130.2 464.9,125.9 466.6,121.8 468.9,118.3 471.6,114.7 474.2,110.7 476.3,106.2 477.5,106.8 476.3,112.2 475.8,118.4 475.7,125.3 475.3,132.5 474.3,138.8 472.9,144.9 471.4,150.9 469.9,156.9 468.3,162.9 466.8,168.9 465.3,174.9 463.8,180.9 462.1,186.8 460.5,192.8 458.8,198.8 457,204.7 455,210.5 452.9,216.4 450.6,222.1 448.1,227.8 445.4,233.4 442.5,238.9 439.4,244.2 436.1,249.4 432.6,254.5 428.8,259.3 424.2,263.4 418.9,266.3 412.8,266.6 407.6,263.7 402.9,260.2 398.2,256.6 393.9,253 389.9,249.3 386.4,244.5 383.2,238 380.5,232.6 378.3,229.5 376.5,228.5Z"/><path d="M376.5,228.4 378,227.8 379.6,226.3 381.6,223.9 384.1,221.2 387.3,219.6 390.9,218.7 394.8,218.3 399.1,218.4 403.4,218.6 407.8,218.7 412.5,218 416.9,216.4 421,214.1 424.7,211.3 428.1,208.2 431.3,204.7 434.1,200.9 436.7,196.9 439.1,192.8 441.3,188.6 443.3,184.4 445.3,180.1 447.2,175.7 449.1,171.4 450.9,167 452.7,162.7 454.4,158.3 456.1,153.8 457.8,149.4 459.5,145 461.1,140.6 462.8,136.1 464.3,131.7 465.9,127.2 467.5,122.9 469.6,119 472,115.1 474.4,110.8 476.4,106.2 477.3,106.7 476,111.9 475.2,117.8 474.6,124.3 474,130.9 472.9,136.9 471.5,142.7 470,148.4 468.4,154.2 466.8,159.9 465.3,165.6 463.8,171.4 462.2,177.1 460.6,182.8 458.9,188.5 457.2,194.2 455.3,199.8 453.4,205.5 451.3,211 449,216.5 446.6,222 444,227.3 441.1,232.5 438.1,237.6 434.8,242.5 431.3,247.3 427.5,251.7 423,255.6 417.8,258.3 412,258.6 406.9,256.2 402.3,253.2 397.7,250.2 393.4,247.3 389.5,244.3 386,240.6 383,235.7 380.3,231.5 378.2,229.2 376.5,228.4Z"/><path d="M376.5,228.4 378.1,228 379.7,227 381.8,225.4 384.4,223.8 387.6,222.9 391.2,222.5 395.2,222.5 399.5,223 403.9,223.6 408.4,224 413.2,223.4 417.7,221.6 421.8,219.1 425.6,216.1 429,212.7 432.2,209 435.1,205.1 437.7,201 440.1,196.7 442.3,192.3 444.4,187.9 446.4,183.4 448.3,179 450.2,174.4 452,169.9 453.7,165.3 455.5,160.8 457.1,156.2 458.8,151.6 460.5,147 462.1,142.4 463.7,137.8 465.3,133.1 466.8,128.5 468.4,123.9 470.3,119.7 472.5,115.4 474.6,111 476.6,106.3 477.2,106.6 475.7,111.7 474.5,117.3 473.6,123.2 472.7,129.3 471.5,135 470,140.5 468.5,146 467,151.4 465.4,156.9 463.8,162.4 462.2,167.9 460.6,173.3 459,178.8 457.3,184.2 455.6,189.6 453.7,195 451.8,200.4 449.7,205.7 447.5,211 445.1,216.1 442.5,221.2 439.7,226.2 436.7,231 433.5,235.7 430,240.1 426.2,244.2 421.8,247.7 416.7,250.2 411.1,250.6 406.2,248.7 401.6,246.2 397.1,243.8 392.9,241.5 389.1,239.4 385.7,236.8 382.7,233.3 380.2,230.5 378.2,228.9 376.5,228.4Z"/><path d="M376.5,228.4 378.1,228.2 379.8,227.7 382,227 384.6,226.4 387.9,226.2 391.6,226.3 395.6,226.8 399.9,227.6 404.3,228.7 408.9,229.3 413.9,228.8 418.5,226.9 422.7,224.2 426.5,220.9 429.9,217.3 433.1,213.4 436,209.3 438.7,205 441.1,200.6 443.3,196.1 445.4,191.5 447.5,186.8 449.4,182.2 451.3,177.5 453.1,172.8 454.8,168 456.5,163.3 458.2,158.5 459.8,153.7 461.4,149 463.1,144.2 464.7,139.4 466.2,134.6 467.7,129.8 469.2,125 471,120.4 472.9,115.8 474.8,111.1 476.7,106.3 477,106.5 475.3,111.5 473.9,116.7 472.6,122.2 471.4,127.7 470.1,133 468.6,138.3 467.1,143.5 465.5,148.7 463.9,153.9 462.3,159.1 460.7,164.4 459.1,169.6 457.4,174.7 455.7,179.9 454,185.1 452.1,190.2 450.2,195.3 448.1,200.4 445.9,205.4 443.6,210.3 441.1,215.2 438.3,219.9 435.3,224.4 432.1,228.8 428.7,232.9 424.9,236.7 420.6,239.9 415.7,242.2 410.3,242.6 405.5,241.2 401,239.3 396.5,237.4 392.4,235.8 388.6,234.5 385.3,232.9 382.4,231 380,229.4 378.2,228.7 376.5,228.4Z"/></g>
<g fill="#000" fill-opacity="0.109" filter="url(#b1_5)"><path d="M377,228.1 378.1,227.5 379.2,225.7 380.5,222.7 382.1,219.5 384,217.7 386.2,216.6 388.4,215.9 390.8,215.5 393.2,215.3 395.6,215.2 397.9,215 400.3,214.8 402.7,214.7 405.1,214.6 407.5,214.3 409.8,214 412.2,213.6 414.5,213 416.8,212.3 419,211.5 421.1,210.4 423.2,209.2 425.1,207.7 426.9,206.2 428.5,204.4 429.9,202.5 431.3,200.5 432.5,198.5 433.7,196.5 435,194.4 436.2,192.4 437.4,190.3 438.6,188.3 439.9,186.2 441.2,184.7 442.8,184.9 444.6,185.6 446.2,185.7 447.5,184.4 448.1,187.7 447.3,191.4 446.7,196.9 446.3,203.1 445.8,208.6 445,212.1 444,214.9 443,217.8 442,220.6 441,223.4 439.9,226.2 438.8,229 437.6,231.8 436.4,234.5 435.1,237.2 433.5,239.7 431.8,242.2 429.8,244.5 427.7,246.6 425.4,248.5 422.9,250.1 420.3,251.5 417.5,252.6 414.5,253.3 411.5,253.5 408.6,253.5 405.6,253.2 402.6,252.7 399.7,252.1 396.8,251.2 394.1,250 391.4,248.6 388.9,246.9 386.7,245 384.6,242.9 382.7,240 381,235.6 379.5,231.8 378.2,229.5 377,228.6Z"/><path d="M377,228.2 378.1,227.6 379.2,226.1 380.5,223.6 382.1,221 384.1,219.6 386.2,218.8 388.5,218.2 390.8,218 393.2,217.9 395.6,217.9 398.1,217.8 400.5,217.7 402.9,217.6 405.3,217.5 407.8,217.3 410.2,217 412.6,216.5 414.9,215.9 417.2,215.2 419.5,214.2 421.6,213.1 423.7,211.8 425.6,210.3 427.4,208.7 429,206.9 430.4,204.9 431.7,202.9 433,200.8 434.2,198.7 435.4,196.6 436.6,194.5 437.8,192.4 439,190.3 440.2,188.2 441.5,186.5 443.1,186.2 444.7,186.4 446.3,186.2 447.6,184.7 448.1,187.4 447.2,190.9 446.5,195.9 446,201.4 445.4,206.4 444.5,209.7 443.5,212.5 442.5,215.3 441.5,218 440.4,220.8 439.3,223.5 438.2,226.2 437.1,228.9 435.8,231.6 434.5,234.2 432.9,236.7 431.1,239 429.2,241.2 427.1,243.3 424.8,245.1 422.3,246.7 419.7,248 417,249 414.1,249.7 411.2,250 408.2,249.9 405.3,249.7 402.4,249.3 399.5,248.7 396.7,247.9 394,246.9 391.4,245.6 388.9,244.1 386.6,242.4 384.5,240.6 382.6,238.1 380.9,234.5 379.5,231.2 378.2,229.3 377,228.6Z"/><path d="M377,228.2 378.1,227.8 379.3,226.6 380.5,224.6 382.2,222.6 384.1,221.5 386.3,220.9 388.5,220.5 390.9,220.5 393.3,220.5 395.7,220.6 398.2,220.6 400.7,220.5 403.1,220.5 405.6,220.4 408.1,220.2 410.5,219.9 413,219.4 415.3,218.8 417.7,218 419.9,217 422.1,215.8 424.2,214.5 426.1,212.9 427.9,211.2 429.5,209.3 430.9,207.3 432.2,205.2 433.4,203.1 434.6,200.9 435.9,198.8 437.1,196.6 438.3,194.5 439.4,192.3 440.6,190.1 441.9,188.3 443.4,187.6 444.9,187.3 446.4,186.6 447.6,184.9 448,187.1 447.1,190.4 446.3,194.9 445.7,199.8 445,204.2 444,207.4 443,210.1 442,212.7 441,215.4 439.9,218.1 438.8,220.8 437.6,223.4 436.5,226 435.2,228.6 433.9,231.2 432.3,233.6 430.5,235.9 428.6,238 426.5,239.9 424.2,241.7 421.8,243.2 419.2,244.5 416.5,245.5 413.7,246.1 410.8,246.4 407.9,246.4 405,246.2 402.2,245.8 399.4,245.3 396.6,244.6 393.9,243.7 391.3,242.6 388.9,241.3 386.6,239.8 384.5,238.2 382.6,236.2 380.9,233.3 379.4,230.7 378.2,229.1 377,228.5Z"/><path d="M377,228.2 378.1,227.9 379.3,227 380.6,225.6 382.2,224.1 384.2,223.3 386.3,223 388.6,222.9 390.9,222.9 393.4,223.1 395.8,223.3 398.3,223.3 400.8,223.4 403.3,223.4 405.9,223.3 408.4,223.2 410.9,222.9 413.3,222.4 415.8,221.7 418.1,220.8 420.4,219.8 422.6,218.5 424.7,217.1 426.6,215.5 428.4,213.7 430,211.8 431.4,209.7 432.7,207.6 433.9,205.4 435.1,203.2 436.3,201 437.5,198.7 438.7,196.5 439.8,194.3 441,192.1 442.2,190.1 443.6,189 445.1,188.1 446.4,187 447.7,185.2 448,186.8 447,189.9 446.1,193.8 445.4,198.1 444.6,202 443.6,205 442.5,207.6 441.5,210.2 440.4,212.8 439.3,215.5 438.2,218 437.1,220.6 435.9,223.2 434.6,225.7 433.3,228.2 431.7,230.5 429.9,232.7 428,234.7 425.9,236.6 423.6,238.3 421.2,239.7 418.7,240.9 416,241.9 413.2,242.5 410.4,242.8 407.6,242.8 404.8,242.6 402,242.3 399.2,241.9 396.5,241.3 393.8,240.5 391.2,239.5 388.8,238.4 386.5,237.2 384.4,235.9 382.5,234.3 380.8,232.1 379.4,230.1 378.2,228.9 377,228.5Z"/><path d="M377,228.3 378.1,228.1 379.3,227.5 380.6,226.6 382.3,225.6 384.2,225.2 386.3,225.1 388.6,225.2 391,225.4 393.4,225.7 395.9,226 398.5,226.1 401,226.2 403.6,226.3 406.1,226.2 408.7,226.1 411.2,225.8 413.7,225.3 416.2,224.6 418.6,223.7 420.9,222.6 423.1,221.3 425.2,219.7 427.1,218.1 428.9,216.2 430.5,214.3 431.9,212.1 433.2,209.9 434.4,207.6 435.6,205.4 436.8,203.1 438,200.9 439.1,198.6 440.2,196.3 441.4,194 442.6,191.9 443.9,190.3 445.2,189 446.5,187.4 447.7,185.4 447.9,186.5 446.9,189.3 445.9,192.8 445.1,196.4 444.1,199.9 443.1,202.6 442,205.2 441,207.7 439.9,210.3 438.8,212.8 437.6,215.3 436.5,217.8 435.3,220.3 434,222.8 432.7,225.2 431.1,227.4 429.3,229.5 427.4,231.5 425.3,233.3 423,234.9 420.6,236.3 418.1,237.4 415.5,238.3 412.8,238.9 410,239.2 407.3,239.2 404.5,239.1 401.8,238.8 399.1,238.5 396.4,238 393.7,237.3 391.2,236.5 388.8,235.6 386.5,234.6 384.4,233.6 382.4,232.5 380.8,230.9 379.4,229.5 378.2,228.7 377,228.4Z"/><path d="M377,228.3 378.2,228.2 379.3,228 380.6,227.5 382.3,227.2 384.2,227.1 386.4,227.3 388.6,227.5 391,227.9 393.5,228.3 396,228.7 398.6,228.9 401.2,229 403.8,229.1 406.4,229.2 409,229 411.6,228.7 414.1,228.2 416.6,227.5 419.1,226.5 421.4,225.3 423.6,224 425.7,222.4 427.6,220.6 429.4,218.7 431,216.7 432.4,214.5 433.6,212.2 434.8,209.9 436,207.6 437.2,205.3 438.4,203 439.5,200.6 440.6,198.3 441.8,195.9 442.9,193.7 444.2,191.7 445.4,189.8 446.6,187.9 447.8,185.7 447.9,186.2 446.8,188.8 445.7,191.7 444.7,194.8 443.7,197.7 442.6,200.2 441.5,202.7 440.4,205.2 439.4,207.7 438.2,210.1 437.1,212.6 435.9,215 434.7,217.5 433.5,219.9 432.1,222.2 430.5,224.3 428.7,226.4 426.8,228.3 424.7,230 422.4,231.5 420.1,232.8 417.6,233.9 415,234.7 412.4,235.3 409.7,235.6 407,235.7 404.3,235.6 401.6,235.4 398.9,235.1 396.2,234.7 393.7,234.1 391.1,233.4 388.7,232.7 386.4,232 384.3,231.3 382.4,230.6 380.7,229.7 379.4,229 378.2,228.6 377,228.4Z"/></g>
<g fill="#000" fill-opacity="0.149" filter="url(#b1_5)"><path d="M432.1,222 433.1,216.9 432.9,211 432.6,204.9 433.6,199.5 435.7,194.7 437.8,189.9 440.2,185.1 442.8,180.5 445.1,175.8 447.3,171 449.4,166.1 451.3,161.2 453.3,156.3 455.3,151.4 457.2,146.5 459.2,141.6 461,136.6 462.8,131.7 464.3,126.6 465.8,121.5 467.4,116.5 469.4,111.6 471.6,106.8 473.9,102.1 476.5,97.5 479.6,93.1 483.1,89.2 486.9,85.6 491.1,82.4 495.6,79.5 500.1,76.8 504.5,73.9 509,71.2 513.9,69.2 519,67.8 524.2,66.8 529.6,66.5 536.7,69.1 541.9,69.9 542.7,70.9 540.3,74.7 537.4,79.1 532.7,80.3 527.8,81.5 523,82.8 518.3,84.5 514.2,87.3 510.2,90.4 506.2,93.3 502.1,96.2 498.4,99.6 495.2,103.4 492.6,107.6 490.2,112 488,116.5 486,121.1 484.4,125.8 482.9,130.6 481.5,135.4 480,140.2 478.3,144.9 476.5,149.5 474.6,154.2 472.8,158.8 470.9,163.5 469,168.1 467.2,172.7 465.3,177.4 463.2,181.9 460.9,186.3 458.3,190.6 455.6,194.8 453.2,199.2 450.8,203.6 448.6,208 445.3,211.9 440.9,215.3 436.7,218.7 433.7,222.9Z"/><path d="M432.2,222.1 433.4,217 433.6,211.3 433.6,205.5 434.9,200.2 436.9,195.4 439.1,190.6 441.5,186 444.1,181.3 446.5,176.7 448.7,171.9 450.7,167 452.6,162.2 454.6,157.3 456.6,152.4 458.5,147.5 460.5,142.6 462.3,137.7 464.1,132.8 465.6,127.7 467.1,122.7 468.7,117.7 470.6,112.8 472.8,108 475.1,103.3 477.6,98.7 480.6,94.4 484.1,90.4 487.9,86.8 492,83.5 496.4,80.7 500.9,77.9 505.3,75 509.8,72.3 514.7,70.3 519.7,68.9 524.9,67.9 530.3,67.5 537,69.6 542,70 542.6,70.8 540,74.2 536.8,78.1 532,79.2 527.1,80.4 522.2,81.6 517.5,83.4 513.4,86.2 509.4,89.2 505.3,92.1 501.2,95.1 497.5,98.4 494.2,102.2 491.5,106.4 489,110.8 486.8,115.3 484.8,119.9 483.1,124.6 481.7,129.5 480.2,134.3 478.7,139 477,143.8 475.2,148.5 473.3,153.1 471.5,157.8 469.6,162.4 467.7,167.1 465.9,171.8 463.9,176.4 461.9,181 459.6,185.5 457,189.8 454.4,194 451.9,198.4 449.6,202.9 447.3,207.3 444.2,211.4 440.2,214.9 436.4,218.6 433.6,222.8Z"/><path d="M432.4,222.2 433.7,217.2 434.2,211.7 434.7,206.1 436.1,201 438.2,196.2 440.4,191.4 442.8,186.8 445.4,182.2 447.8,177.6 450,172.8 452,168 454,163.1 455.9,158.3 457.9,153.4 459.8,148.5 461.7,143.7 463.6,138.8 465.4,133.9 466.9,128.9 468.4,123.8 470,118.9 471.9,114 474,109.2 476.3,104.5 478.8,99.9 481.7,95.6 485.1,91.6 488.8,87.9 492.9,84.7 497.3,81.8 501.8,79.1 506.1,76.1 510.6,73.4 515.4,71.4 520.5,70.1 525.6,69 530.9,68.6 537.3,70 542,70 542.6,70.8 539.7,73.8 536.1,77 531.3,78.1 526.4,79.2 521.5,80.5 516.8,82.3 512.6,85.1 508.5,88.1 504.4,91 500.3,93.9 496.5,97.3 493.2,101.1 490.4,105.2 487.9,109.6 485.6,114.1 483.6,118.7 481.9,123.5 480.4,128.3 478.9,133.1 477.4,137.9 475.7,142.7 473.9,147.4 472,152.1 470.2,156.8 468.3,161.4 466.4,166.1 464.5,170.8 462.6,175.5 460.6,180.1 458.3,184.6 455.7,188.9 453.1,193.2 450.6,197.6 448.3,202.1 446.1,206.6 443.2,210.8 439.5,214.6 436.1,218.4 433.4,222.7Z"/><path d="M432.5,222.2 434,217.3 434.9,212.1 435.7,206.7 437.3,201.7 439.5,196.9 441.7,192.2 444.1,187.6 446.6,183 449.1,178.4 451.3,173.7 453.3,168.9 455.3,164.1 457.2,159.2 459.2,154.4 461.1,149.6 463,144.7 464.9,139.9 466.7,135 468.2,130 469.7,125 471.3,120 473.1,115.2 475.2,110.4 477.4,105.7 479.9,101.1 482.8,96.8 486.1,92.7 489.8,89.1 493.8,85.8 498.2,83 502.6,80.2 506.9,77.3 511.4,74.5 516.2,72.6 521.2,71.2 526.3,70.2 531.6,69.6 537.6,70.5 542.1,70.1 542.5,70.7 539.4,73.3 535.5,76 530.6,76.9 525.6,78.1 520.7,79.4 516,81.2 511.8,84 507.7,87 503.5,89.8 499.4,92.7 495.6,96.1 492.2,99.9 489.3,104 486.7,108.4 484.5,112.9 482.4,117.5 480.6,122.3 479.1,127.1 477.6,132 476.1,136.8 474.4,141.6 472.6,146.3 470.8,151 468.9,155.7 467,160.4 465.1,165.1 463.2,169.9 461.3,174.5 459.3,179.2 457,183.7 454.4,188.1 451.8,192.4 449.3,196.8 447,201.4 444.8,205.9 442.1,210.2 438.9,214.2 435.8,218.3 433.3,222.7Z"/><path d="M432.6,222.3 434.3,217.5 435.6,212.4 436.8,207.3 438.6,202.4 440.7,197.6 443,193 445.4,188.4 447.9,183.9 450.4,179.3 452.6,174.6 454.7,169.9 456.6,165 458.5,160.2 460.5,155.4 462.4,150.6 464.3,145.8 466.2,140.9 468,136.1 469.6,131.1 471,126.2 472.6,121.2 474.4,116.3 476.4,111.6 478.6,106.9 481.1,102.3 483.9,98 487.1,93.9 490.8,90.3 494.8,87 499.1,84.1 503.5,81.3 507.7,78.4 512.1,75.6 516.9,73.7 521.9,72.3 527,71.3 532.2,70.7 537.9,71 542.2,70.2 542.4,70.6 539.1,72.8 534.8,74.9 529.9,75.8 524.9,76.9 520,78.2 515.2,80.1 510.9,82.8 506.8,85.9 502.6,88.7 498.4,91.6 494.6,94.9 491.2,98.7 488.2,102.8 485.6,107.2 483.3,111.7 481.2,116.3 479.4,121.1 477.8,125.9 476.3,130.8 474.8,135.7 473.1,140.5 471.3,145.2 469.5,150 467.6,154.7 465.7,159.4 463.8,164.2 461.9,168.9 460,173.6 457.9,178.3 455.7,182.8 453.1,187.2 450.5,191.6 448.1,196.1 445.8,200.6 443.6,205.2 441,209.6 438.2,213.8 435.5,218.1 433.2,222.6Z"/><path d="M432.8,222.4 434.6,217.7 436.2,212.8 437.9,207.9 439.8,203.1 442,198.4 444.2,193.7 446.7,189.2 449.2,184.7 451.7,180.2 454,175.5 456,170.8 457.9,166 459.8,161.2 461.8,156.4 463.7,151.6 465.6,146.8 467.5,142 469.2,137.2 470.9,132.3 472.4,127.3 473.9,122.4 475.6,117.5 477.6,112.8 479.8,108.1 482.2,103.5 485,99.2 488.1,95.1 491.7,91.4 495.7,88.1 500,85.3 504.3,82.5 508.5,79.5 512.9,76.8 517.7,74.8 522.7,73.5 527.7,72.4 532.9,71.7 538.2,71.4 542.2,70.3 542.4,70.5 538.8,72.4 534.2,73.9 529.1,74.7 524.1,75.8 519.2,77.1 514.5,79 510.1,81.7 506,84.7 501.7,87.6 497.5,90.4 493.6,93.8 490.2,97.5 487.1,101.6 484.5,106 482.1,110.5 480,115.1 478.1,119.9 476.5,124.7 475,129.6 473.5,134.5 471.8,139.4 470,144.2 468.2,148.9 466.3,153.7 464.4,158.4 462.5,163.2 460.6,167.9 458.6,172.7 456.6,177.4 454.3,181.9 451.8,186.4 449.2,190.8 446.8,195.3 444.5,199.9 442.3,204.5 440,209 437.6,213.5 435.2,218 433,222.5Z"/></g>
<g fill="#000" fill-opacity="0.271" filter="url(#b1_2)"><path d="M543.5,64.9 543.6,59.7 543.7,56.9 543.8,54.3 543.9,51.7 544,49.2 544.2,46.6 544.5,44 545.1,41.5 546.2,39.2 548.3,37.9 550.9,37.7 553.4,38 556,38.4 558.5,38.7 561.1,39 563.6,39.7 566,40.3 568,42 569.2,44.2 570.1,46.6 570.8,49.1 571.4,51.6 571.9,54.1 572.3,56.6 572.7,59.2 573.1,61.7 573.4,64.3 573.7,66.8 573.9,69.4 574.2,71.9 574.4,74.5 574.6,77.1 574.8,79.6 575,82.2 575.2,84.7 575.2,88.6 575.1,94.3 575,99.7 575.3,103.2 575,106.7 574.3,106.7 573.1,109.4 571.8,112.5 570.7,113.1 569.9,111.8 569,110.6 568.2,109.4 567.3,108.2 566.5,106.9 565.7,105.7 564.9,104.4 564.1,103.2 563.3,101.9 562.5,100.7 561.6,99.5 560.7,98.3 559.7,97.2 558.8,96.1 557.8,94.9 556.8,93.9 555.7,92.8 554.7,91.7 553.6,90.7 552.5,89.7 551.5,88.6 550.5,87.5 549.5,86.4 548.6,85.3 547.6,84.1 546.8,82.9 546.1,81.6 545.5,80.2 545.1,78.8 544.8,77.3 544.5,75.9 544.2,74.4 544,72.9 543.7,71.1 543.5,66.1Z"/><path d="M543.5,64.9 543.6,60.5 543.7,58 543.8,55.7 543.9,53.4 544,51.1 544.2,48.9 544.6,46.6 545.1,44.3 546.2,42.3 548.3,41.1 550.7,41 553.2,41.4 555.6,41.8 558,42.2 560.5,42.6 562.9,43.2 565.2,43.9 567.1,45.5 568.3,47.7 569.2,50 570,52.4 570.6,54.8 571.1,57.2 571.6,59.6 572,62.1 572.4,64.5 572.7,67 573,69.5 573.4,71.9 573.6,74.4 573.9,76.9 574.2,79.3 574.4,81.8 574.7,84.3 574.9,86.7 575,90.3 574.9,95.3 575,100.2 575.3,103.5 575,106.3 574.3,106.1 573.3,108 572.1,110.2 571.1,110.3 570.4,109 569.6,107.6 568.8,106.3 568,104.9 567.2,103.6 566.5,102.2 565.7,100.8 565,99.4 564.3,98 563.5,96.7 562.6,95.3 561.8,94 560.9,92.8 559.9,91.5 559,90.3 558,89.1 556.9,87.9 555.8,86.8 554.6,85.8 553.4,84.8 552.2,83.8 551.1,82.7 549.9,81.7 548.8,80.7 547.7,79.6 546.7,78.7 546,77.7 545.4,76.7 545,75.7 544.7,74.6 544.4,73.5 544.2,72.5 543.9,71.4 543.7,70 543.5,65.9Z"/><path d="M543.5,65 543.6,61.3 543.7,59.1 543.8,57.1 543.9,55.1 544.1,53.1 544.3,51.1 544.6,49.1 545.2,47.1 546.3,45.4 548.2,44.4 550.5,44.3 552.9,44.8 555.2,45.3 557.5,45.7 559.9,46.1 562.2,46.8 564.4,47.5 566.3,49.1 567.5,51.2 568.4,53.4 569.1,55.7 569.8,58 570.3,60.3 570.8,62.6 571.3,65 571.7,67.4 572.1,69.7 572.4,72.1 572.8,74.5 573.1,76.8 573.4,79.2 573.7,81.6 574,84 574.3,86.3 574.6,88.7 574.8,92 574.8,96.4 574.9,100.7 575.2,103.7 575,106 574.4,105.4 573.5,106.5 572.5,107.9 571.6,107.6 570.9,106.1 570.2,104.6 569.4,103.1 568.7,101.7 568,100.2 567.3,98.7 566.6,97.2 565.9,95.6 565.2,94.1 564.5,92.7 563.7,91.2 562.9,89.8 562,88.4 561.1,87 560.1,85.6 559.2,84.3 558.1,83 556.9,81.8 555.5,80.8 554.2,79.9 552.9,78.9 551.6,78 550.3,77 549,76.1 547.8,75.2 546.7,74.4 545.9,73.8 545.3,73.2 544.9,72.5 544.6,71.9 544.4,71.2 544.1,70.5 543.9,69.8 543.7,68.9 543.5,65.8Z"/><path d="M543.5,65.1 543.6,62.1 543.7,60.2 543.8,58.5 544,56.8 544.1,55.1 544.4,53.4 544.7,51.6 545.3,49.9 546.3,48.4 548.2,47.6 550.4,47.7 552.6,48.1 554.8,48.7 557,49.1 559.3,49.7 561.5,50.4 563.6,51.1 565.4,52.6 566.6,54.6 567.5,56.8 568.3,58.9 569,61.2 569.6,63.4 570.1,65.6 570.6,67.9 571,70.2 571.4,72.4 571.8,74.7 572.2,77 572.6,79.3 572.9,81.6 573.3,83.8 573.6,86.1 574,88.4 574.3,90.7 574.5,93.6 574.7,97.5 574.9,101.2 575.2,103.9 575.1,105.7 574.5,104.7 573.7,105 572.8,105.6 572,104.8 571.4,103.2 570.7,101.6 570.1,100 569.4,98.4 568.7,96.8 568.1,95.2 567.4,93.5 566.8,91.9 566.1,90.3 565.5,88.6 564.7,87.1 563.9,85.5 563.1,84 562.3,82.4 561.3,80.9 560.4,79.5 559.3,78 558,76.8 556.5,75.9 555,75 553.5,74.1 552.1,73.2 550.7,72.3 549.2,71.5 547.8,70.7 546.6,70.2 545.8,70 545.2,69.7 544.8,69.4 544.5,69.2 544.3,68.9 544.1,68.6 543.9,68.3 543.7,67.8 543.5,65.7Z"/><path d="M543.5,65.2 543.6,62.9 543.8,61.4 543.9,59.9 544,58.5 544.2,57 544.4,55.6 544.8,54.2 545.3,52.8 546.3,51.5 548.1,50.8 550.2,51 552.3,51.5 554.4,52.1 556.6,52.6 558.7,53.2 560.8,53.9 562.8,54.7 564.5,56.2 565.7,58.1 566.6,60.2 567.4,62.2 568.1,64.4 568.8,66.5 569.3,68.6 569.9,70.8 570.3,73 570.8,75.2 571.2,77.4 571.6,79.6 572,81.7 572.4,83.9 572.8,86.1 573.2,88.3 573.6,90.5 574,92.7 574.3,95.3 574.5,98.5 574.8,101.7 575.2,104.2 575.1,105.3 574.6,104 573.9,103.6 573.1,103.3 572.5,102.1 571.9,100.4 571.3,98.6 570.7,96.9 570.1,95.1 569.5,93.4 568.9,91.7 568.3,89.9 567.7,88.1 567.1,86.4 566.4,84.6 565.8,82.9 565,81.2 564.2,79.5 563.4,77.9 562.5,76.3 561.6,74.7 560.5,73.1 559.1,71.9 557.4,71 555.8,70.1 554.2,69.3 552.6,68.5 551,67.7 549.5,66.9 547.9,66.2 546.5,66 545.7,66.1 545.1,66.2 544.7,66.3 544.5,66.4 544.2,66.5 544,66.6 543.9,66.7 543.7,66.7 543.5,65.6Z"/><path d="M543.5,65.3 543.6,63.7 543.8,62.5 543.9,61.3 544.1,60.2 544.3,59 544.5,57.9 544.9,56.7 545.4,55.6 546.4,54.5 548.1,54.1 550.1,54.3 552.1,54.9 554.1,55.6 556.1,56.1 558.1,56.7 560.1,57.5 562,58.3 563.7,59.7 564.8,61.6 565.8,63.5 566.6,65.5 567.3,67.5 568,69.6 568.6,71.6 569.1,73.7 569.6,75.8 570.1,77.9 570.6,80 571,82.1 571.5,84.2 571.9,86.3 572.4,88.4 572.8,90.5 573.2,92.6 573.7,94.7 574,97 574.4,99.6 574.8,102.2 575.2,104.4 575.1,105 574.6,103.3 574.1,102.1 573.5,100.9 572.9,99.4 572.4,97.5 571.8,95.6 571.3,93.8 570.8,91.9 570.2,90 569.7,88.1 569.1,86.3 568.6,84.4 568,82.5 567.4,80.6 566.8,78.8 566.1,76.9 565.4,75.1 564.6,73.4 563.7,71.6 562.8,69.9 561.6,68.2 560.2,66.9 558.4,66 556.7,65.2 554.9,64.5 553.2,63.7 551.4,63 549.7,62.3 548,61.8 546.5,61.8 545.6,62.2 545,62.7 544.7,63.2 544.4,63.7 544.2,64.2 544,64.7 543.8,65.2 543.7,65.6 543.5,65.5Z"/></g>
<path d="M374.9,226.3 375,226.1 375.1,225.9 375.2,225.6 375.4,225.4 375.7,225.1 375.9,224.7 376.2,224.4 376.5,224.1 376.9,223.7 377.2,223.4 377.5,223.3 377.8,223.1 378.1,223 378.5,222.8 378.9,222.6 379.4,222.4 380,222.3 380.6,222.1 381.3,222 382,222 382.7,222.1 383.3,222.3 383.8,222.6 384.3,222.8 384.8,223 385.2,223.3 385.6,223.6 386,223.8 386.4,224.1 386.8,224.3 387.3,224.6 387.9,224.8 388.3,225.1 388.8,225.4 389.3,225.6 389.8,225.9 390.3,226.2 391,226.5 391.7,226.8 392.5,227.1 393.5,227.3 394.7,227.6 396,228 397.3,228.3 398.7,228.7 400.1,229 401.5,229.3 402.9,229.6 404.2,229.9 405.3,230.1 406.4,230.3 407.5,230.5 408.5,230.6 409.5,230.8 410.5,230.9 411.4,231 412.3,231.1 413.2,231.1 414,231.1 414.9,231.1 415.8,231 416.7,230.8 417.6,230.7 418.4,230.5 419.3,230.3 420.1,230.1 420.9,229.8 421.7,229.5 422.4,229.2 423,228.9 423.6,228.5 424.1,228.1 424.6,227.7 425.1,227.3 425.5,226.9 425.9,226.4 426.3,225.9 426.7,225.3 427.1,224.7 427.6,224.1 427.9,223.4 428.3,222.7 428.7,221.9 429.1,221.1 429.4,220.3 429.8,219.3 430.2,218.4 430.6,217.4 431,216.4 431.4,215.3 431.8,214.3 432.2,213.2 432.5,212 432.9,210.8 433.3,209.6 433.8,208.3 434.2,207 434.6,205.7 435.1,204.4 435.6,203.1 436.1,201.8 436.7,200.5 437.2,199.3 437.8,198 438.3,196.7 438.9,195.4 439.5,194.1 440.1,192.8 440.7,191.5 441.4,190.1 442.1,188.7 442.9,187.3 443.7,185.9 444.5,184.5 445.2,183.2 446,181.8 446.8,180.5 447.5,179.1 448.2,177.7 448.9,176.2 449.7,174.6 450.4,173 451.1,171.3 451.8,169.6 452.6,167.8 453.3,165.9 454.1,164 454.9,162.1 455.7,160 456.5,158 457.4,155.8 458.3,153.6 459.2,151.3 460.1,148.9 461.1,146.5 462,144.2 462.9,141.8 463.8,139.5 464.6,137.3 465.4,135.2 466.1,133.2 466.7,131.3 467.3,129.4 467.9,127.5 468.4,125.6 469,123.7 469.5,121.8 470.2,119.9 470.8,118 471.6,116.1 472.3,114.2 473.1,112.3 474,110.5 474.8,108.7 475.7,106.9 476.6,105.1 477.5,103.4 478.4,101.8 479.3,100.2 480.2,98.7 481.1,97.3 482,96 483,94.8 483.9,93.6 484.8,92.5 485.8,91.5 486.8,90.5 487.8,89.5 488.7,88.6 489.8,87.6 490.9,86.6 492.1,85.7 493.3,84.8 494.5,84 495.7,83.2 496.8,82.5 498,81.7 499.1,81 500.2,80.3 501.2,79.7 502.2,79 503.2,78.3 504.3,77.5 505.3,76.8 506.4,76 507.6,75.2 508.8,74.4 510.1,73.7 511.4,73 512.8,72.3 514.2,71.7 515.7,71.2 517.2,70.8 518.6,70.4 520.1,70 521.5,69.7 522.9,69.4 524.2,69.1 525.5,68.8 526.8,68.6 528.2,68.4 529.6,68.2 530.9,68.1 532.2,68.1 533.4,68 534.5,68 535.4,67.9 536.2,67.9 536.9,67.8 537.3,67.8 537.7,67.7 537.9,67.7 538,67.7 537.9,67.9 537.7,68.1 537.6,68.3 537.6,68.4 537.7,68.3 537.9,68 538.2,67.6 538.4,67.2 538.6,66.8 538.8,66.2 539,65.5 539.2,64.7 539.4,63.9 539.6,63.1 539.8,62.2 540,61.4 540.2,60.5 540.4,59.8 540.6,59 540.7,58.2 540.8,57.3 541,56.5 541.1,55.7 541.2,54.9 541.4,54.1 541.5,53.4 541.6,52.7 541.7,52.1 541.9,51.4 542,50.8 542.1,50.3 542.2,49.7 542.3,49.2 542.4,48.8 542.5,48.4 542.6,48 542.7,47.7 546.9,48.3 546.9,48.5 546.9,48.9 546.9,49.3 546.9,49.8 546.9,50.3 546.9,50.8 546.9,51.4 546.8,52 546.8,52.7 546.8,53.3 546.8,54 546.7,54.7 546.7,55.4 546.7,56.3 546.6,57.1 546.6,58 546.6,58.8 546.5,59.7 546.4,60.6 546.4,61.5 546.3,62.3 546.3,63.1 546.2,64 546.1,65 546,65.9 545.9,66.8 545.8,67.8 545.7,68.7 545.5,69.6 545.2,70.4 545,71.1 544.8,71.6 544.6,72.2 544.2,73 543.6,73.7 542.9,74.5 542.2,75.1 541.4,75.5 540.6,75.9 539.7,76.2 538.6,76.5 537.5,76.8 536.3,76.9 535.2,77.1 534,77.2 532.9,77.3 531.8,77.5 530.7,77.6 529.6,77.8 528.6,78 527.4,78.3 526.2,78.5 524.9,78.8 523.7,79.1 522.4,79.4 521.2,79.7 520,80.1 518.9,80.5 517.8,80.9 516.8,81.3 515.9,81.7 514.9,82.2 514,82.8 513.1,83.4 512.1,84.1 511.1,84.8 510.1,85.6 509,86.3 507.9,87.1 506.8,87.9 505.7,88.7 504.5,89.5 503.4,90.2 502.3,90.9 501.3,91.6 500.2,92.3 499.3,93 498.3,93.7 497.5,94.4 496.6,95.2 495.7,96 494.9,96.8 494.1,97.6 493.3,98.4 492.6,99.3 491.9,100.1 491.2,101.1 490.5,102 489.7,103.1 489,104.3 488.2,105.5 487.5,106.9 486.7,108.4 485.9,109.9 485.1,111.5 484.3,113.1 483.6,114.8 482.8,116.5 482.1,118.2 481.4,119.9 480.8,121.6 480.3,123.2 479.7,125 479.2,126.7 478.7,128.6 478.2,130.5 477.6,132.5 477,134.5 476.3,136.6 475.6,138.8 474.8,141 473.9,143.3 473,145.7 472.1,148.1 471.1,150.5 470.2,152.9 469.2,155.3 468.3,157.6 467.4,159.9 466.5,162 465.7,164.1 464.9,166.1 464.1,168 463.3,170 462.6,171.8 461.8,173.7 461,175.5 460.3,177.3 459.5,179.1 458.7,180.8 457.8,182.5 456.9,184.1 456.1,185.7 455.2,187.2 454.4,188.6 453.5,189.9 452.7,191.2 452,192.5 451.3,193.7 450.6,194.9 449.9,196.2 449.2,197.4 448.6,198.6 448,199.8 447.3,201 446.7,202.2 446.1,203.4 445.5,204.6 445,205.8 444.4,206.9 443.8,208.1 443.2,209.3 442.7,210.4 442.1,211.6 441.5,212.8 441,214 440.4,215.2 439.8,216.4 439.2,217.6 438.6,218.7 438,219.7 437.5,220.7 436.9,221.7 436.3,222.7 435.7,223.6 435.1,224.5 434.5,225.4 433.8,226.3 433.1,227.1 432.4,227.9 431.8,228.6 431.1,229.3 430.4,229.9 429.7,230.5 429,231 428.2,231.5 427.5,232 426.7,232.4 425.8,232.7 425,233.1 424.1,233.4 423.1,233.7 422.2,234 421.2,234.3 420.2,234.5 419.2,234.6 418.2,234.7 417.1,234.8 416.1,234.9 415.1,234.9 414.1,235 413.1,235 412.1,234.9 411,234.8 410,234.7 409,234.6 408,234.4 406.9,234.3 405.8,234.1 404.7,233.9 403.4,233.7 402.1,233.4 400.7,233.1 399.2,232.8 397.8,232.5 396.4,232.1 395,231.8 393.7,231.5 392.5,231.2 391.5,230.9 390.5,230.8 389.7,230.6 388.9,230.4 388.2,230.3 387.6,230.1 387,230 386.5,229.9 386.1,229.8 385.6,229.7 385.2,229.7 384.6,229.6 384.1,229.6 383.7,229.6 383.2,229.6 382.9,229.6 382.6,229.6 382.3,229.7 382.1,229.8 382,229.9 382,230 382,230 382,230 382,230 382,230 381.9,230.1 381.7,230.1 381.6,230.2 381.3,230.3 381,230.5 380.8,230.6 380.6,230.6 380.3,230.5 380.1,230.6 379.8,230.6 379.5,230.7 379.2,230.7 378.9,230.8 378.6,230.9 378.3,230.9 378.1,230.9ZM573.4,51.7 573.5,52 573.7,52.3 573.8,52.7 574,53.1 574.1,53.6 574.3,54.1 574.4,54.7 574.6,55.3 574.8,55.9 575,56.6 575.1,57.3 575.3,58 575.4,58.7 575.6,59.5 575.8,60.3 575.9,61.2 576.1,62.2 576.3,63.2 576.5,64.4 576.7,65.6 576.8,66.9 577,68.3 577.2,69.9 577.3,71.4 577.5,73.1 577.7,74.8 577.9,76.5 578,78.2 578.2,79.9 578.4,81.7 578.5,83.4 578.7,85.2 578.8,87 579,88.9 579.2,90.7 579.3,92.6 579.5,94.4 579.6,96.2 579.7,98 579.9,99.7 580,101.3 580.1,102.9 580.2,104.4 580.3,105.9 580.4,107.3 580.5,108.8 580.6,110.2 580.7,111.7 580.8,113.2 580.9,114.7 581,116.2 581.1,117.6 581.1,119 581.2,120.4 581.3,121.8 581.4,123.3 581.5,124.9 581.6,126.6 581.7,128.6 581.8,130.8 581.9,133.3 582,136 582.2,138.9 582.3,142 582.5,145.1 582.6,148.4 582.8,151.7 582.9,155 583.1,158.2 583.3,161.3 583.5,164.4 583.7,167.6 583.9,170.8 584.1,174 584.4,177.3 584.6,180.4 584.8,183.5 585.1,186.5 585.3,189.4 585.5,192 585.7,194.6 585.9,197 586.1,199.3 586.3,201.6 586.5,203.7 586.7,205.7 586.9,207.6 587.1,209.4 587.3,211 587.5,212.6 587.7,213.9 587.9,215.2 588.1,216.2 588.4,217.2 588.6,218 588.8,218.7 589,219.4 589.2,220 589.5,220.6 589.7,221.2 590,221.7 590.2,222.1 590.4,222.5 590.6,222.8 590.8,223 591,223.3 591.2,223.5 591.4,223.7 591.7,223.9 592,224.1 592.2,224.4 592.4,224.6 592.6,224.7 592.7,224.9 593,225 593.2,225.1 593.6,225.3 594.1,225.4 594.6,225.6 595.3,225.7 595.9,225.8 596.6,225.9 597.3,225.9 598,226 598.9,226 599.8,226 600.9,226.1 602.1,226.1 603.5,226.1 605,226.2 606.9,226.2 609.1,226.2 611.6,226.2 614.3,226.2 617,226.2 619.6,226.2 622.2,226.2 624.4,226.2 626.3,226.2 627.7,226.3 627.7,230.9 626.3,231 624.4,231 622.2,231 619.6,231 617,231 614.3,231 611.6,231 609.1,231 606.9,231 605,231 603.5,231.1 602.1,231.1 600.9,231.2 599.9,231.2 598.9,231.3 598,231.3 597.2,231.3 596.4,231.3 595.5,231.3 594.7,231.3 593.9,231.3 593.2,231.2 592.6,231.2 591.9,231.2 591.2,231.1 590.6,230.9 589.9,230.7 589.2,230.5 588.6,230.2 588,229.9 587.5,229.5 586.9,229 586.4,228.6 585.9,228 585.4,227.5 584.9,226.8 584.4,226.2 584,225.4 583.6,224.6 583.3,223.8 583,223 582.7,222.2 582.5,221.4 582.3,220.5 582,219.5 581.9,218.5 581.7,217.4 581.5,216.2 581.3,214.9 581.1,213.4 580.9,211.8 580.7,210.1 580.5,208.3 580.3,206.3 580.1,204.3 579.9,202.1 579.7,199.9 579.5,197.5 579.3,195.1 579.1,192.6 578.9,189.9 578.6,187 578.4,184 578.1,180.9 577.9,177.8 577.6,174.5 577.4,171.3 577.2,168 576.9,164.8 576.7,161.7 576.5,158.6 576.3,155.3 576.1,152.1 575.9,148.8 575.7,145.5 575.5,142.3 575.3,139.3 575.1,136.4 575,133.7 574.8,131.2 574.7,129 574.5,127.1 574.4,125.3 574.2,123.8 574.1,122.3 574,120.9 573.9,119.5 573.8,118.2 573.6,116.8 573.5,115.3 573.4,113.8 573.2,112.3 573.1,110.8 573,109.4 572.8,107.9 572.7,106.5 572.6,105 572.4,103.5 572.3,101.9 572.1,100.3 572,98.6 571.8,96.9 571.7,95.1 571.5,93.2 571.4,91.4 571.2,89.5 571.1,87.7 570.9,85.9 570.8,84.1 570.6,82.3 570.5,80.6 570.4,78.9 570.2,77.2 570.1,75.5 569.9,73.8 569.8,72.2 569.7,70.6 569.6,69.1 569.4,67.7 569.3,66.4 569.2,65.2 569.2,64.1 569.1,63.1 569,62.2 568.9,61.3 568.9,60.5 568.8,59.7 568.7,58.9 568.7,58.1 568.6,57.4 568.6,56.7 568.7,56 568.7,55.4 568.7,54.8 568.7,54.3 568.8,53.7 568.8,53.3 568.9,52.9 568.9,52.5 569,52.3Z" fill="#000" fill-opacity="0.25" filter="url(#b0_6)"/>
<path d="M375.8,227.6 375.9,227.4 376,227.2 376.2,226.9 376.3,226.7 376.6,226.4 376.8,226.1 377.1,225.8 377.3,225.4 377.6,225.1 377.9,224.9 378.2,224.7 378.5,224.6 378.8,224.4 379.1,224.3 379.5,224.1 379.9,224 380.4,223.8 380.9,223.7 381.4,223.6 382,223.6 382.5,223.7 383,223.9 383.5,224.1 383.9,224.3 384.3,224.6 384.7,224.8 385.1,225.1 385.5,225.3 385.9,225.6 386.4,225.9 386.8,226.1 387.3,226.3 387.8,226.6 388.2,226.9 388.7,227.1 389.2,227.4 389.8,227.7 390.5,228 391.2,228.3 392.1,228.6 393.1,228.9 394.3,229.2 395.6,229.5 396.9,229.9 398.3,230.2 399.8,230.6 401.2,230.9 402.5,231.2 403.8,231.5 405.1,231.7 406.2,231.9 407.3,232.1 408.3,232.2 409.3,232.4 410.3,232.5 411.2,232.6 412.2,232.6 413.1,232.7 414,232.7 415,232.7 415.9,232.6 416.9,232.4 417.8,232.3 418.7,232.1 419.6,231.9 420.5,231.6 421.4,231.3 422.2,231 423,230.7 423.7,230.4 424.4,229.9 425,229.5 425.5,229.1 426,228.6 426.5,228.1 427,227.6 427.5,227 427.9,226.4 428.4,225.8 428.8,225.1 429.2,224.4 429.7,223.6 430.1,222.8 430.5,221.9 430.8,221 431.2,220.1 431.6,219.1 432,218.1 432.4,217 432.8,216 433.2,214.9 433.6,213.8 434,212.6 434.4,211.4 434.8,210.2 435.3,208.9 435.7,207.6 436.1,206.3 436.6,205 437.1,203.7 437.6,202.4 438.1,201.2 438.7,199.9 439.2,198.7 439.8,197.4 440.3,196.1 440.9,194.8 441.5,193.5 442.2,192.2 442.8,190.8 443.5,189.4 444.3,188.1 445.1,186.7 445.8,185.4 446.6,184 447.4,182.6 448.1,181.2 448.9,179.8 449.6,178.4 450.4,176.9 451.1,175.3 451.8,173.6 452.6,171.9 453.3,170.2 454.1,168.4 454.8,166.5 455.6,164.6 456.3,162.7 457.1,160.6 458,158.6 458.8,156.4 459.7,154.2 460.7,151.9 461.6,149.5 462.6,147.1 463.5,144.7 464.4,142.4 465.3,140.1 466.2,137.8 466.9,135.7 467.6,133.7 468.2,131.8 468.8,129.9 469.4,128 470,126.1 470.5,124.2 471.1,122.3 471.7,120.4 472.3,118.5 473.1,116.7 473.8,114.8 474.6,113 475.4,111.2 476.3,109.4 477.1,107.6 478,105.9 478.9,104.2 479.8,102.6 480.7,101 481.6,99.6 482.4,98.2 483.3,96.9 484.2,95.8 485.1,94.6 486.1,93.6 487,92.5 487.9,91.6 488.9,90.6 489.8,89.7 490.9,88.8 492,87.9 493.1,87 494.2,86.1 495.4,85.3 496.5,84.5 497.7,83.8 498.8,83.1 499.9,82.4 501,81.7 502.1,81 503.1,80.3 504.2,79.6 505.2,78.8 506.3,78.1 507.4,77.3 508.5,76.5 509.6,75.8 510.9,75.1 512.1,74.4 513.5,73.8 514.8,73.2 516.2,72.7 517.6,72.3 519,71.9 520.5,71.5 521.9,71.2 523.2,70.9 524.6,70.7 525.8,70.4 527.1,70.2 528.4,70 529.8,69.8 531.1,69.7 532.3,69.7 533.5,69.6 534.6,69.6 535.6,69.5 536.5,69.5 537.2,69.4 537.7,69.3 538.2,69.2 538.6,69.1 538.8,69.1 538.8,69.1 538.9,69.2 538.9,69.2 539,69.2 539.2,69 539.4,68.6 539.7,68.2 539.9,67.7 540.1,67.2 540.4,66.5 540.6,65.8 540.8,65 541,64.2 541.2,63.3 541.4,62.4 541.6,61.6 541.8,60.8 542,60 542.1,59.2 542.3,58.4 542.4,57.5 542.6,56.7 542.7,55.9 542.8,55.1 543,54.3 543.1,53.6 543.2,52.9 543.3,52.2 543.5,51.6 543.6,51 543.7,50.4 543.8,49.9 543.9,49.4 544,49 544.1,48.6 544.2,48.2 544.3,47.9 545.3,48.1 545.3,48.4 545.3,48.7 545.3,49.1 545.3,49.6 545.3,50.1 545.3,50.6 545.3,51.2 545.2,51.8 545.2,52.5 545.2,53.1 545.2,53.8 545.1,54.5 545.1,55.3 545.1,56.1 545.1,56.9 545,57.8 545,58.7 544.9,59.5 544.9,60.4 544.8,61.2 544.7,62.1 544.7,62.9 544.6,63.8 544.5,64.7 544.5,65.6 544.4,66.5 544.3,67.4 544.1,68.3 543.9,69.1 543.7,69.8 543.5,70.4 543.4,70.9 543.2,71.5 542.9,72 542.5,72.6 542,73.2 541.4,73.7 540.7,74 540.1,74.4 539.3,74.7 538.3,75 537.3,75.2 536.2,75.4 535.1,75.5 533.9,75.6 532.8,75.7 531.6,75.9 530.5,76 529.4,76.2 528.3,76.4 527.1,76.7 525.9,77 524.6,77.2 523.3,77.5 522,77.8 520.8,78.2 519.5,78.6 518.3,78.9 517.2,79.4 516.1,79.8 515.1,80.3 514.1,80.9 513.2,81.5 512.2,82.1 511.2,82.8 510.2,83.5 509.2,84.3 508.1,85 507,85.8 505.9,86.6 504.8,87.4 503.7,88.1 502.5,88.8 501.4,89.6 500.4,90.3 499.3,91 498.3,91.7 497.4,92.5 496.4,93.2 495.5,94 494.7,94.8 493.8,95.7 493,96.5 492.2,97.4 491.4,98.2 490.7,99.1 489.9,100.1 489.2,101.1 488.4,102.2 487.6,103.4 486.9,104.7 486.1,106.1 485.3,107.6 484.5,109.2 483.7,110.8 482.9,112.5 482.1,114.2 481.4,115.9 480.6,117.6 479.9,119.3 479.3,121 478.7,122.7 478.2,124.5 477.7,126.3 477.2,128.1 476.6,130 476.1,132 475.5,134 474.8,136.1 474.1,138.3 473.3,140.5 472.4,142.8 471.5,145.1 470.6,147.5 469.6,149.9 468.7,152.3 467.7,154.7 466.8,157 465.9,159.3 465,161.4 464.2,163.5 463.4,165.5 462.6,167.4 461.9,169.4 461.1,171.2 460.3,173.1 459.6,174.9 458.8,176.7 458,178.4 457.2,180.1 456.4,181.8 455.5,183.4 454.7,184.9 453.8,186.4 453,187.8 452.2,189.1 451.4,190.4 450.6,191.7 449.9,192.9 449.2,194.2 448.5,195.4 447.8,196.7 447.2,197.9 446.5,199.1 445.9,200.3 445.3,201.5 444.7,202.7 444.1,203.9 443.5,205.1 442.9,206.3 442.3,207.5 441.7,208.6 441.2,209.8 440.6,211 440,212.3 439.5,213.5 438.9,214.6 438.3,215.8 437.8,216.9 437.2,218 436.6,219 436,220 435.4,221 434.9,221.9 434.3,222.9 433.7,223.7 433.1,224.6 432.5,225.4 431.8,226.2 431.2,226.9 430.5,227.6 429.9,228.2 429.3,228.8 428.6,229.3 428,229.8 427.3,230.2 426.6,230.6 425.8,231 425.1,231.3 424.3,231.6 423.5,232 422.6,232.2 421.7,232.5 420.8,232.7 419.9,232.9 418.9,233 417.9,233.2 417,233.3 416,233.3 415,233.3 414.1,233.4 413.1,233.4 412.1,233.3 411.2,233.2 410.2,233.1 409.2,233 408.2,232.9 407.2,232.7 406.1,232.5 404.9,232.3 403.7,232.1 402.4,231.8 401,231.5 399.6,231.2 398.2,230.9 396.8,230.6 395.4,230.2 394.1,229.9 392.9,229.6 391.9,229.4 391,229.2 390.2,229.1 389.4,228.9 388.8,228.8 388.2,228.6 387.6,228.5 387.1,228.4 386.6,228.3 386.1,228.2 385.6,228.1 385.1,228.1 384.6,228.1 384.1,228 383.7,228 383.3,228 383,228.1 382.6,228.1 382.4,228.2 382.2,228.3 382,228.4 381.9,228.4 381.8,228.4 381.6,228.5 381.5,228.5 381.3,228.6 381.1,228.7 380.9,228.8 380.6,228.9 380.3,229 380.1,229.1 379.8,229.2 379.5,229.2 379.2,229.2 378.9,229.3 378.6,229.4 378.3,229.4 377.9,229.5 377.7,229.6 377.4,229.6 377.2,229.6ZM571.8,51.9 571.9,52.2 572.1,52.5 572.2,52.9 572.4,53.3 572.5,53.8 572.7,54.3 572.8,54.9 573,55.5 573.2,56.1 573.4,56.8 573.5,57.5 573.7,58.2 573.8,58.9 574,59.7 574.2,60.6 574.4,61.4 574.5,62.4 574.7,63.4 574.9,64.6 575.1,65.8 575.2,67.1 575.4,68.5 575.6,70 575.7,71.6 575.9,73.2 576.1,74.9 576.3,76.6 576.4,78.4 576.6,80.1 576.8,81.8 576.9,83.5 577.1,85.3 577.3,87.2 577.4,89 577.6,90.9 577.7,92.7 577.9,94.6 578,96.4 578.2,98.1 578.3,99.8 578.4,101.4 578.5,103 578.6,104.5 578.7,106 578.8,107.4 578.9,108.9 579,110.4 579.1,111.8 579.2,113.3 579.3,114.8 579.4,116.3 579.5,117.8 579.6,119.1 579.6,120.5 579.7,121.9 579.8,123.4 579.9,125 580,126.7 580.1,128.7 580.2,130.9 580.3,133.4 580.4,136.1 580.6,139 580.7,142 580.9,145.2 581,148.5 581.2,151.8 581.3,155 581.5,158.3 581.7,161.4 581.9,164.5 582.1,167.7 582.3,170.9 582.5,174.2 582.8,177.4 583,180.6 583.2,183.7 583.5,186.7 583.7,189.5 583.9,192.2 584.1,194.7 584.3,197.1 584.5,199.5 584.7,201.7 584.9,203.8 585.1,205.9 585.3,207.8 585.5,209.6 585.7,211.2 585.9,212.8 586.1,214.2 586.3,215.4 586.6,216.5 586.8,217.5 587,218.4 587.2,219.1 587.5,219.8 587.7,220.5 588,221.1 588.3,221.8 588.5,222.4 588.8,222.9 589,223.3 589.3,223.7 589.5,224 589.8,224.4 590.1,224.7 590.4,224.9 590.7,225.2 591.1,225.4 591.4,225.7 591.7,226 591.9,226.2 592.2,226.4 592.5,226.5 592.9,226.7 593.3,226.9 593.8,227 594.4,227.2 595.1,227.3 595.8,227.4 596.5,227.5 597.3,227.5 598,227.6 598.9,227.6 599.8,227.6 600.9,227.7 602.1,227.7 603.5,227.7 605,227.8 606.9,227.8 609.1,227.8 611.6,227.8 614.3,227.8 617,227.8 619.6,227.8 622.2,227.8 624.4,227.8 626.3,227.8 627.7,227.9 627.7,229.3 626.3,229.4 624.4,229.4 622.2,229.4 619.6,229.4 617,229.4 614.3,229.4 611.6,229.4 609.1,229.4 606.9,229.4 605,229.4 603.5,229.5 602.1,229.5 600.9,229.6 599.9,229.6 598.9,229.7 598,229.7 597.2,229.7 596.4,229.7 595.7,229.7 594.9,229.7 594.1,229.7 593.5,229.7 592.8,229.6 592.2,229.6 591.7,229.5 591.1,229.4 590.5,229.3 590,229.1 589.4,228.8 588.9,228.6 588.4,228.2 588,227.8 587.5,227.4 587,227 586.6,226.5 586.2,225.9 585.8,225.3 585.4,224.7 585.1,224 584.7,223.2 584.5,222.5 584.2,221.7 584,220.9 583.8,220.1 583.6,219.2 583.4,218.2 583.2,217.1 583.1,216 582.9,214.7 582.7,213.2 582.5,211.6 582.3,209.9 582.1,208.1 581.9,206.2 581.7,204.1 581.5,202 581.3,199.7 581.1,197.4 580.9,195 580.7,192.4 580.5,189.8 580.2,186.9 580,183.9 579.7,180.8 579.5,177.6 579.2,174.4 579,171.2 578.8,167.9 578.5,164.7 578.3,161.6 578.1,158.5 577.9,155.2 577.7,152 577.5,148.7 577.3,145.4 577.1,142.2 576.9,139.2 576.7,136.3 576.6,133.6 576.4,131.1 576.2,128.9 576.1,127 576,125.2 575.8,123.6 575.7,122.2 575.6,120.8 575.5,119.4 575.4,118.1 575.2,116.6 575.1,115.2 575,113.6 574.8,112.1 574.7,110.7 574.6,109.2 574.4,107.8 574.3,106.3 574.2,104.9 574,103.4 573.9,101.8 573.7,100.2 573.6,98.5 573.4,96.7 573.3,94.9 573.1,93.1 573,91.3 572.8,89.4 572.7,87.5 572.5,85.7 572.4,83.9 572.2,82.2 572.1,80.5 571.9,78.8 571.8,77 571.7,75.3 571.5,73.6 571.4,72 571.3,70.4 571.2,68.9 571,67.5 570.9,66.2 570.8,65 570.7,63.9 570.7,62.9 570.6,62 570.5,61.1 570.4,60.2 570.4,59.4 570.3,58.7 570.3,57.9 570.2,57.2 570.2,56.5 570.2,55.8 570.3,55.2 570.3,54.6 570.3,54.1 570.4,53.6 570.4,53.1 570.5,52.7 570.5,52.4 570.6,52.1Z" fill="#1a1718" fill-opacity="0.97" filter="url(#b0_5)"/>
<path d="M545.5,48 545.8,48.4 546.1,49 546.5,49.6 547,50.4 547.5,51.2 548,52 548.6,52.9 549.2,53.8 549.9,54.7 550.5,55.8 551.3,56.8 552,58 552.8,59.3 553.6,60.6 554.5,62.1 555.3,63.5 556.1,64.9 556.9,66.2 557.6,67.4 558.2,68.4 558.8,69.5 559.3,70.5 559.9,71.5 560.5,72.5 561.1,73.5 561.7,74.5 562.3,75.5 562.9,76.5 563.6,77.6 564.3,79 565.1,80.6 566.1,82.4 567,84.3 568,86.3 568.9,88.3 569.8,90.1 570.6,91.9 571.5,93.9 572.2,95.7 573,97.5 573.6,98.9 574,100" fill="none" stroke="#1a1718" stroke-opacity="0.55" stroke-width="2.0" stroke-linecap="round" stroke-linejoin="round" filter="url(#b0_5)"/>
<rect x="50.5" y="356.4" width="270" height="295.4" fill="none" stroke="#dedede" stroke-width="1.2"/>
<path d="M61.8,651.8v2.2M80.1,651.8v2.2M98.4,651.8v2.2M116.7,651.8v2.2M135,651.8v2.2M153.3,651.8v2.2M171.6,651.8v2.2M189.9,651.8v2.2M208.2,651.8v2.2M226.5,651.8v2.2M244.8,651.8v2.2M263.1,651.8v2.2M281.4,651.8v2.2M299.7,651.8v2.2M50.5,637.8h-2.2M50.5,570.2h-2.2M50.5,502.6h-2.2M50.5,435h-2.2M50.5,367.4h-2.2" stroke="#8a8a8a" stroke-width="0.9" fill="none"/>
<g font-family='"Liberation Sans", sans-serif' font-size="10.2" fill="#222" stroke="#222" stroke-width="0.2" text-anchor="middle"><text x="62.3" y="662.8" textLength="4.9" lengthAdjust="spacingAndGlyphs">0</text><text x="80.6" y="662.8" textLength="9.9" lengthAdjust="spacingAndGlyphs">20</text><text x="98.9" y="662.8" textLength="9.9" lengthAdjust="spacingAndGlyphs">40</text><text x="117.2" y="662.8" textLength="9.9" lengthAdjust="spacingAndGlyphs">60</text><text x="135.5" y="662.8" textLength="9.9" lengthAdjust="spacingAndGlyphs">80</text><text x="153.8" y="662.8" textLength="14.8" lengthAdjust="spacingAndGlyphs">100</text><text x="172.1" y="662.8" textLength="14.8" lengthAdjust="spacingAndGlyphs">120</text><text x="190.4" y="662.8" textLength="14.8" lengthAdjust="spacingAndGlyphs">140</text><text x="208.7" y="662.8" textLength="14.8" lengthAdjust="spacingAndGlyphs">160</text><text x="227" y="662.8" textLength="14.8" lengthAdjust="spacingAndGlyphs">180</text><text x="245.3" y="662.8" textLength="14.8" lengthAdjust="spacingAndGlyphs">200</text><text x="263.6" y="662.8" textLength="14.8" lengthAdjust="spacingAndGlyphs">220</text><text x="281.9" y="662.8" textLength="14.8" lengthAdjust="spacingAndGlyphs">240</text><text x="300.2" y="662.8" textLength="14.8" lengthAdjust="spacingAndGlyphs">260</text><text x="48.1" y="642.1" text-anchor="end" textLength="24.2" lengthAdjust="spacingAndGlyphs">0.000</text><text x="48.1" y="574.5" text-anchor="end" textLength="24.2" lengthAdjust="spacingAndGlyphs">0.025</text><text x="48.1" y="506.9" text-anchor="end" textLength="24.2" lengthAdjust="spacingAndGlyphs">0.050</text><text x="48.1" y="439.3" text-anchor="end" textLength="24.2" lengthAdjust="spacingAndGlyphs">0.075</text><text x="48.1" y="371.7" text-anchor="end" textLength="24.2" lengthAdjust="spacingAndGlyphs">0.100</text></g>
<text x="186.2" y="676.9" font-family='"Liberation Sans", sans-serif' font-size="12.8" fill="#1e1e1e" text-anchor="middle" textLength="110" lengthAdjust="spacingAndGlyphs">Fractional dose (cGy)</text>
<text transform="translate(22.3,505.1) rotate(-90)" font-family='"Liberation Sans", sans-serif' font-size="12.4" fill="#1e1e1e" text-anchor="middle" textLength="46" lengthAdjust="spacingAndGlyphs">Loadings</text>
<text x="63.4" y="379.6" font-family='"Liberation Sans", sans-serif' font-size="16" fill="#151515" textLength="63" lengthAdjust="spacingAndGlyphs">Dysphagia</text>
<text x="63.4" y="397.9" font-family='"Liberation Sans", sans-serif' font-size="16" fill="#151515" textLength="29.4" lengthAdjust="spacingAndGlyphs">FPCA</text>
<text x="63.4" y="416.3" font-family='"Liberation Sans", sans-serif' font-size="16" fill="#151515" textLength="50.4" lengthAdjust="spacingAndGlyphs">Training</text>
<text x="63.4" y="434.6" font-family='"Liberation Sans", sans-serif' font-size="16" fill="#151515" textLength="27.3" lengthAdjust="spacingAndGlyphs">data</text>
<g fill="#000" fill-opacity="0.223" filter="url(#b1_3)"><path d="M76,545.4 76.9,543 77.4,539.7 77.6,535.9 77.6,532.4 78.1,530.1 78.9,528.2 79.9,526.5 81.1,524.8 82.3,523.2 83.7,521.8 85.3,520.4 86.8,519.1 88.4,517.9 90.1,516.7 91.7,515.5 93.4,514.3 95.1,513.2 96.8,512.1 98.5,511 100.2,510 102,508.9 103.7,507.9 105.4,506.8 107.1,505.7 108.8,504.5 110.5,503.4 112.1,502.2 113.8,501 115.4,499.7 116.9,498.4 118.4,497 119.8,495.6 121.2,494.1 122.5,492.5 123.9,491.1 125.9,490.5 128.2,490 130.1,489.3 131.4,487.8 132.8,489.3 132.4,491.9 132.9,495.3 133.5,499 133.7,502.3 133,504.7 131.9,506.7 130.7,508.7 129.6,510.7 128.3,512.6 127.1,514.6 125.9,516.5 124.6,518.4 123.4,520.4 122.2,522.3 121,524.2 119.7,526.2 118.4,528 117,529.8 115.4,531.6 113.8,533.2 112.1,534.7 110.4,536.2 108.6,537.6 106.7,539 104.9,540.3 103,541.6 101.1,542.9 99.1,544.1 97.1,545.2 95.1,546.2 93,547.2 90.9,548.2 88.8,549.1 86.7,550 84.4,550.3 81.6,549 79.1,547.5 77.3,546.7 76,547.5Z"/><path d="M76,545.5 76.9,543.3 77.6,540.3 77.9,536.9 78.1,533.8 78.7,531.6 79.6,529.8 80.7,528.1 81.9,526.5 83.3,525 84.8,523.5 86.3,522.2 87.9,520.9 89.5,519.7 91.2,518.4 92.9,517.3 94.5,516.1 96.2,514.9 97.9,513.8 99.6,512.7 101.4,511.6 103.1,510.5 104.8,509.4 106.5,508.2 108.2,507 109.8,505.9 111.5,504.6 113.1,503.4 114.7,502.2 116.2,500.8 117.8,499.5 119.2,498.1 120.7,496.6 122,495 123.3,493.4 124.7,492 126.5,491.1 128.5,490.4 130.3,489.5 131.5,487.9 132.7,489.2 132.2,491.6 132.4,494.8 132.8,498.2 132.8,501.3 132,503.6 130.9,505.6 129.7,507.5 128.5,509.4 127.3,511.3 126,513.2 124.8,515.1 123.5,516.9 122.2,518.8 121,520.7 119.7,522.5 118.4,524.4 117,526.2 115.6,527.9 114,529.6 112.4,531.1 110.7,532.6 109,534.1 107.2,535.5 105.4,536.8 103.5,538.2 101.6,539.4 99.8,540.7 97.8,541.9 95.9,543 93.9,544.1 91.9,545.2 89.9,546.2 87.9,547.2 85.9,548.2 83.7,548.6 81.2,547.8 79,546.8 77.3,546.4 76,547.3Z"/><path d="M76,545.7 76.9,543.6 77.7,540.9 78.2,537.9 78.6,535.1 79.4,533.1 80.4,531.4 81.6,529.7 82.8,528.2 84.3,526.7 85.8,525.3 87.3,523.9 89,522.7 90.6,521.4 92.3,520.2 94,519 95.7,517.8 97.4,516.6 99.1,515.5 100.8,514.3 102.5,513.2 104.2,512.1 105.9,510.9 107.6,509.7 109.2,508.4 110.8,507.2 112.4,505.9 114,504.6 115.6,503.3 117.1,502 118.6,500.5 120.1,499.1 121.5,497.6 122.8,496 124.1,494.4 125.4,492.8 127.1,491.7 128.9,490.8 130.5,489.7 131.6,488.1 132.5,489.1 132,491.4 132,494.3 132.1,497.4 131.9,500.3 131.1,502.5 129.9,504.4 128.7,506.3 127.5,508.2 126.2,510 125,511.8 123.7,513.7 122.3,515.5 121,517.3 119.7,519 118.4,520.8 117.1,522.6 115.7,524.3 114.2,526 112.7,527.6 111,529.1 109.3,530.6 107.6,532 105.8,533.4 104,534.7 102.2,536 100.3,537.3 98.5,538.5 96.6,539.7 94.6,540.9 92.7,542 90.8,543.1 88.9,544.2 87,545.3 85.1,546.4 83.1,547 80.9,546.6 78.8,546.1 77.2,546.1 76,547.1Z"/><path d="M76,545.8 77,543.9 77.8,541.5 78.5,538.9 79.1,536.4 80,534.6 81.1,532.9 82.4,531.4 83.7,529.8 85.2,528.4 86.8,527 88.4,525.7 90,524.5 91.7,523.2 93.4,522 95.1,520.8 96.8,519.6 98.5,518.4 100.2,517.2 101.9,516 103.7,514.8 105.3,513.6 107,512.4 108.6,511.1 110.2,509.8 111.8,508.5 113.4,507.2 115,505.9 116.5,504.5 118,503.1 119.5,501.6 120.9,500.1 122.3,498.6 123.6,496.9 124.9,495.3 126.1,493.7 127.6,492.4 129.2,491.2 130.6,489.8 131.7,488.2 132.4,488.9 131.8,491.2 131.6,493.8 131.4,496.6 131,499.3 130.1,501.4 128.9,503.3 127.7,505.1 126.5,506.9 125.2,508.7 123.9,510.5 122.5,512.2 121.2,514 119.9,515.7 118.5,517.4 117.2,519.1 115.8,520.8 114.3,522.5 112.8,524.1 111.3,525.6 109.6,527.1 107.9,528.5 106.2,529.9 104.4,531.2 102.6,532.5 100.8,533.8 99,535.1 97.1,536.3 95.3,537.6 93.4,538.7 91.6,539.9 89.7,541.1 87.9,542.2 86.1,543.4 84.3,544.5 82.5,545.4 80.5,545.4 78.7,545.3 77.2,545.7 76,546.9Z"/><path d="M76,546 77,544.1 77.9,542 78.8,539.9 79.6,537.8 80.6,536.1 81.9,534.5 83.2,533 84.6,531.5 86.2,530.1 87.8,528.8 89.4,527.5 91.1,526.2 92.8,525 94.5,523.8 96.2,522.5 98,521.3 99.7,520.1 101.4,518.9 103.1,517.7 104.8,516.4 106.5,515.2 108.1,513.9 109.7,512.6 111.3,511.2 112.8,509.9 114.4,508.5 115.9,507.1 117.4,505.6 118.9,504.2 120.3,502.7 121.8,501.1 123.1,499.5 124.4,497.9 125.6,496.2 126.9,494.5 128.2,493 129.6,491.6 130.8,490 131.8,488.3 132.3,488.8 131.6,490.9 131.1,493.3 130.7,495.9 130.1,498.2 129.1,500.2 128,502.1 126.7,503.9 125.5,505.7 124.2,507.4 122.8,509.1 121.4,510.8 120.1,512.5 118.7,514.1 117.3,515.8 115.9,517.4 114.5,519.1 113,520.6 111.5,522.2 109.9,523.6 108.2,525 106.5,526.4 104.8,527.8 103,529.1 101.2,530.4 99.4,531.7 97.6,532.9 95.8,534.2 94,535.4 92.2,536.6 90.4,537.8 88.6,539 86.9,540.2 85.2,541.5 83.5,542.7 81.9,543.7 80.1,544.2 78.5,544.6 77.1,545.4 76,546.7Z"/><path d="M76,546.1 77,544.4 78.1,542.6 79.1,540.9 80.1,539.1 81.3,537.6 82.6,536.1 84,534.6 85.5,533.2 87.1,531.9 88.8,530.5 90.4,529.3 92.2,528 93.9,526.8 95.6,525.5 97.4,524.3 99.1,523.1 100.8,521.8 102.5,520.6 104.2,519.3 105.9,518.1 107.6,516.8 109.2,515.4 110.8,514 112.3,512.6 113.8,511.2 115.3,509.7 116.8,508.3 118.3,506.8 119.8,505.3 121.2,503.7 122.6,502.2 123.9,500.5 125.2,498.8 126.4,497.1 127.6,495.3 128.8,493.7 129.9,492 131,490.2 131.9,488.4 132.2,488.6 131.4,490.7 130.7,492.9 130,495.1 129.2,497.2 128.2,499.1 127,500.9 125.7,502.7 124.4,504.4 123.1,506.1 121.7,507.8 120.3,509.4 118.9,511 117.5,512.6 116.1,514.2 114.6,515.7 113.2,517.3 111.7,518.8 110.1,520.2 108.5,521.7 106.8,523 105.1,524.3 103.4,525.7 101.6,527 99.9,528.2 98.1,529.5 96.3,530.7 94.5,532 92.8,533.2 91,534.4 89.2,535.7 87.5,536.9 85.9,538.2 84.3,539.5 82.7,540.9 81.2,542.1 79.7,543 78.3,543.9 77.1,545 76,546.5Z"/></g>
<g fill="#000" fill-opacity="0.206" filter="url(#b1_3)"><path d="M220,434.1 221,434.9 221.9,434.9 223,434.6 224,434.2 225.2,434.1 226.3,434.8 227.6,435.7 229,436.4 230.5,436.8 232,437 233.6,436.8 235.1,436.4 236.4,435.7 237.7,434.8 238.8,433.7 239.8,432.5 240.7,431.3 241.6,430 242.5,428.7 243.4,427.4 244.2,426.1 244.9,424.7 245.6,423.3 246.2,421.9 246.9,420.5 247.5,419.1 248.2,417.7 248.8,416.2 249.4,414.8 250,413.4 250.6,411.9 251.1,410.5 251.6,409 252.1,407.5 252.6,406.1 253,406.1 253.5,408.5 253.9,411.1 254.4,411.5 254.5,416 254.2,419.8 253.9,426.3 253.5,432.6 253,436 252.5,437.5 251.9,439 251.4,440.5 250.8,441.9 250.2,443.4 249.5,444.9 248.9,446.3 248.1,447.7 247.4,449.1 246.7,450.5 245.9,451.9 245,453.2 244.1,454.5 243.2,455.8 242.2,457 241.1,458.1 239.9,459.2 238.6,460.1 237.2,460.8 235.6,461 234.1,460.6 232.7,459.9 231.4,459.1 230.1,458.1 229,457 227.9,455.9 226.9,454.6 225.9,453.4 225,452.1 224.2,450.3 223.4,447.5 222.6,444.3 221.8,441.1 220.9,438.4 220,436.5Z"/><path d="M220,434.3 221,435.1 221.9,435.4 222.9,435.3 224,435.2 225.1,435.4 226.2,436.1 227.5,437.1 228.8,437.8 230.3,438.3 231.8,438.5 233.3,438.4 234.8,438.1 236.2,437.5 237.4,436.7 238.5,435.7 239.6,434.6 240.6,433.4 241.5,432.2 242.4,430.9 243.3,429.6 244.1,428.3 244.8,427 245.5,425.6 246.2,424.2 246.9,422.7 247.5,421.3 248.2,419.9 248.8,418.5 249.4,417.1 250,415.6 250.6,414.2 251.1,412.7 251.7,411.3 252.2,409.8 252.6,408.3 253,408.1 253.5,409.9 254,411.8 254.4,411.8 254.5,415.6 254.2,419 253.8,424.7 253.5,430.2 253,433.3 252.4,434.7 251.9,436.2 251.3,437.7 250.8,439.2 250.2,440.7 249.5,442.1 248.9,443.5 248.1,444.9 247.4,446.3 246.7,447.7 245.9,449.1 245.1,450.5 244.2,451.8 243.3,453 242.3,454.3 241.2,455.4 240.1,456.5 238.8,457.5 237.4,458.2 235.9,458.5 234.4,458.3 233,457.7 231.7,457 230.4,456.1 229.3,455.2 228.1,454.1 227.1,453 226.1,451.7 225.2,450.5 224.3,448.8 223.5,446.3 222.6,443.4 221.8,440.5 220.9,438 220,436.3Z"/><path d="M220,434.5 221,435.4 221.9,435.8 222.9,436 223.9,436.2 225,436.6 226.1,437.4 227.3,438.4 228.7,439.2 230.1,439.7 231.6,440 233.1,440 234.5,439.8 235.9,439.3 237.1,438.7 238.3,437.8 239.4,436.7 240.4,435.6 241.4,434.4 242.3,433.1 243.2,431.9 244,430.5 244.8,429.2 245.5,427.8 246.2,426.4 246.9,425 247.5,423.6 248.2,422.2 248.8,420.7 249.4,419.3 250,417.9 250.6,416.4 251.2,415 251.7,413.5 252.2,412 252.6,410.5 253.1,410.1 253.5,411.2 254,412.4 254.4,412.2 254.5,415.2 254.1,418.2 253.8,423 253.4,427.8 252.9,430.5 252.4,432 251.9,433.5 251.3,435 250.7,436.4 250.2,437.9 249.5,439.3 248.8,440.8 248.1,442.2 247.4,443.6 246.7,445 245.9,446.4 245.1,447.7 244.3,449 243.4,450.3 242.4,451.5 241.3,452.7 240.2,453.8 239,454.8 237.7,455.6 236.2,456 234.8,455.9 233.4,455.5 232,454.9 230.8,454.2 229.5,453.3 228.4,452.4 227.2,451.3 226.2,450.1 225.3,448.9 224.4,447.3 223.5,445.1 222.7,442.5 221.8,440 220.9,437.7 220,436.1Z"/><path d="M220,434.7 221,435.7 221.9,436.3 222.9,436.8 223.9,437.2 225,437.8 226,438.7 227.2,439.7 228.5,440.5 229.9,441.1 231.3,441.5 232.8,441.6 234.2,441.5 235.6,441.2 236.9,440.6 238.1,439.8 239.2,438.9 240.3,437.8 241.2,436.6 242.2,435.3 243.1,434.1 243.9,432.8 244.7,431.4 245.5,430 246.2,428.7 246.8,427.2 247.5,425.8 248.1,424.4 248.8,423 249.4,421.6 250,420.1 250.6,418.7 251.2,417.2 251.7,415.8 252.2,414.3 252.7,412.8 253.1,412.1 253.6,412.5 254,413.1 254.4,412.5 254.5,414.7 254.1,417.4 253.8,421.4 253.4,425.3 252.9,427.8 252.4,429.3 251.8,430.7 251.3,432.2 250.7,433.7 250.1,435.1 249.5,436.6 248.8,438 248.1,439.4 247.4,440.8 246.7,442.2 246,443.6 245.2,445 244.4,446.3 243.5,447.6 242.5,448.8 241.5,450 240.4,451.2 239.2,452.2 237.9,453 236.5,453.5 235.1,453.5 233.7,453.3 232.4,452.8 231.1,452.2 229.8,451.5 228.6,450.6 227.4,449.6 226.4,448.5 225.4,447.3 224.5,445.8 223.6,443.9 222.7,441.6 221.8,439.4 220.9,437.4 220,435.9Z"/><path d="M220,434.8 221,435.9 221.9,436.8 222.9,437.5 223.9,438.2 224.9,439 226,440 227.1,441 228.3,441.9 229.7,442.5 231.1,443 232.5,443.2 234,443.2 235.3,443 236.6,442.5 237.8,441.9 239,441 240.1,439.9 241.1,438.8 242.1,437.5 243,436.3 243.9,435 244.7,433.7 245.4,432.3 246.1,430.9 246.8,429.5 247.5,428.1 248.1,426.7 248.8,425.2 249.4,423.8 250,422.4 250.6,420.9 251.2,419.5 251.7,418 252.2,416.5 252.7,415 253.2,414.1 253.6,413.9 254,413.7 254.4,412.8 254.5,414.3 254.1,416.6 253.7,419.8 253.3,422.9 252.8,425 252.3,426.5 251.8,428 251.3,429.5 250.7,430.9 250.1,432.4 249.5,433.8 248.8,435.3 248.1,436.7 247.5,438.1 246.7,439.5 246,440.9 245.2,442.2 244.4,443.6 243.5,444.9 242.6,446.1 241.6,447.3 240.5,448.5 239.4,449.6 238.1,450.4 236.8,451 235.4,451.1 234.1,451.1 232.7,450.8 231.4,450.3 230.1,449.7 228.8,448.9 227.6,448 226.5,446.9 225.5,445.7 224.6,444.4 223.6,442.6 222.7,440.7 221.8,438.8 220.9,437.1 220,435.6Z"/><path d="M220,435 221,436.2 221.9,437.2 222.8,438.2 223.8,439.2 224.8,440.2 225.9,441.3 227,442.3 228.2,443.3 229.5,444 230.9,444.5 232.3,444.8 233.7,444.9 235,444.8 236.3,444.5 237.6,443.9 238.8,443.1 239.9,442.1 241,440.9 242,439.7 242.9,438.5 243.8,437.2 244.6,435.9 245.4,434.5 246.1,433.1 246.8,431.7 247.5,430.3 248.1,428.9 248.8,427.5 249.4,426.1 250.1,424.6 250.6,423.2 251.2,421.7 251.7,420.3 252.3,418.8 252.7,417.3 253.2,416 253.6,415.2 254,414.4 254.4,413.2 254.5,413.9 254.1,415.8 253.7,418.2 253.3,420.5 252.8,422.3 252.3,423.8 251.8,425.2 251.2,426.7 250.7,428.2 250.1,429.6 249.5,431.1 248.8,432.5 248.1,433.9 247.5,435.3 246.8,436.7 246,438.1 245.3,439.5 244.5,440.9 243.6,442.2 242.7,443.4 241.7,444.6 240.7,445.8 239.6,446.9 238.4,447.8 237.1,448.5 235.7,448.8 234.4,448.8 233.1,448.7 231.7,448.3 230.4,447.8 229.1,447.1 227.8,446.3 226.7,445.3 225.6,444.2 224.6,442.9 223.7,441.4 222.8,439.8 221.9,438.3 220.9,436.8 220,435.4Z"/></g>
<g fill="#000" fill-opacity="0.058" filter="url(#b1_3)"><path d="M178,385.1 178.6,384.4 179.1,383.2 179.6,381.8 180.2,380.7 180.7,380.1 181.2,379.8 181.8,379.4 182.4,379.1 182.9,378.8 183.5,378.5 184.1,378.2 184.8,378.1 185.4,378 186.1,377.9 186.7,377.9 187.4,378 188,378.1 188.7,378.3 189.3,378.5 189.9,378.7 190.5,379 191.1,379.4 191.6,379.7 192.1,380.1 192.6,380.6 193.1,381 193.5,381.5 193.9,382 194.3,382.6 194.7,383.1 195.1,383.6 195.5,384.2 195.8,384.7 196.2,385.3 196.5,386 196.9,387.3 197.3,388.8 197.6,390.2 198,391.1 198,392 197.6,391.7 197.2,391.8 196.9,391.9 196.5,391.9 196.1,391.5 195.7,391 195.4,390.5 195,390 194.6,389.6 194.2,389.1 193.8,388.6 193.3,388.2 192.9,387.7 192.4,387.3 191.9,386.9 191.4,386.6 190.8,386.3 190.3,386 189.7,385.8 189.1,385.6 188.5,385.4 187.9,385.2 187.3,385.1 186.7,385 186.1,385 185.4,385 184.8,385 184.2,385.1 183.6,385.3 183,385.5 182.4,385.7 181.9,386 181.3,386.3 180.8,386.5 180.2,386.7 179.7,386.5 179.1,386.2 178.6,385.9 178,386Z"/><path d="M178,385.1 178.6,384.5 179.1,383.5 179.6,382.3 180.2,381.3 180.7,380.8 181.3,380.4 181.8,380.1 182.4,379.7 182.9,379.4 183.5,379.2 184.1,378.9 184.8,378.8 185.4,378.7 186.1,378.6 186.7,378.6 187.4,378.7 188,378.8 188.7,379 189.3,379.2 189.9,379.5 190.5,379.7 191,380.1 191.6,380.4 192.1,380.8 192.6,381.2 193.1,381.7 193.5,382.2 193.9,382.7 194.3,383.2 194.7,383.7 195.1,384.3 195.5,384.8 195.8,385.3 196.2,385.9 196.5,386.6 196.9,387.7 197.3,389.1 197.6,390.3 198,391.1 198,391.9 197.6,391.6 197.2,391.6 196.9,391.6 196.5,391.5 196.1,391.1 195.7,390.6 195.4,390.1 195,389.6 194.6,389.1 194.2,388.6 193.8,388.2 193.3,387.7 192.9,387.3 192.4,386.9 191.9,386.5 191.4,386.1 190.9,385.8 190.3,385.6 189.7,385.3 189.1,385.1 188.5,384.9 187.9,384.8 187.3,384.6 186.7,384.6 186.1,384.5 185.4,384.5 184.8,384.6 184.2,384.7 183.6,384.8 183,385 182.4,385.3 181.9,385.5 181.3,385.8 180.8,386.1 180.2,386.3 179.6,386.2 179.1,386 178.6,385.8 178,385.9Z"/><path d="M178,385.2 178.6,384.7 179.1,383.8 179.6,382.8 180.2,381.9 180.7,381.4 181.3,381.1 181.8,380.7 182.4,380.4 183,380.1 183.5,379.8 184.2,379.6 184.8,379.5 185.4,379.4 186.1,379.3 186.7,379.4 187.4,379.4 188,379.5 188.6,379.7 189.3,379.9 189.9,380.2 190.4,380.4 191,380.7 191.6,381.1 192.1,381.5 192.6,381.9 193,382.4 193.5,382.9 193.9,383.4 194.3,383.9 194.7,384.4 195.1,384.9 195.4,385.4 195.8,386 196.2,386.5 196.5,387.2 196.9,388.2 197.3,389.4 197.6,390.5 198,391.2 198,391.8 197.6,391.5 197.2,391.4 196.9,391.3 196.5,391.1 196.1,390.7 195.7,390.2 195.4,389.7 195,389.2 194.6,388.7 194.2,388.2 193.8,387.7 193.3,387.3 192.9,386.8 192.4,386.4 191.9,386 191.4,385.7 190.9,385.4 190.3,385.1 189.7,384.8 189.1,384.6 188.6,384.4 187.9,384.3 187.3,384.2 186.7,384.1 186.1,384 185.4,384.1 184.8,384.1 184.2,384.2 183.6,384.4 183,384.6 182.4,384.8 181.9,385.1 181.3,385.4 180.7,385.7 180.2,385.9 179.6,385.9 179.1,385.8 178.6,385.7 178,385.8Z"/><path d="M178,385.3 178.6,384.8 179.1,384.1 179.6,383.2 180.2,382.5 180.7,382 181.3,381.7 181.8,381.4 182.4,381.1 183,380.8 183.6,380.5 184.2,380.3 184.8,380.1 185.4,380.1 186.1,380 186.7,380.1 187.4,380.1 188,380.3 188.6,380.4 189.2,380.6 189.8,380.9 190.4,381.1 191,381.4 191.5,381.8 192.1,382.2 192.6,382.6 193,383 193.4,383.5 193.9,384 194.3,384.5 194.7,385 195.1,385.5 195.4,386.1 195.8,386.6 196.2,387.1 196.5,387.8 196.9,388.7 197.3,389.7 197.6,390.6 198,391.3 198,391.8 197.6,391.4 197.2,391.2 196.9,391 196.5,390.7 196.1,390.3 195.8,389.8 195.4,389.3 195,388.8 194.6,388.3 194.2,387.8 193.8,387.3 193.4,386.8 192.9,386.4 192.4,386 192,385.6 191.4,385.2 190.9,384.9 190.3,384.6 189.7,384.4 189.2,384.1 188.6,384 187.9,383.8 187.3,383.7 186.7,383.6 186.1,383.6 185.4,383.6 184.8,383.6 184.2,383.8 183.6,383.9 183,384.1 182.4,384.4 181.9,384.7 181.3,385 180.7,385.3 180.2,385.5 179.6,385.6 179.1,385.6 178.6,385.6 178,385.8Z"/><path d="M178,385.4 178.6,385 179.1,384.4 179.6,383.7 180.2,383.1 180.7,382.7 181.3,382.4 181.8,382 182.4,381.7 183,381.5 183.6,381.2 184.2,381 184.8,380.8 185.4,380.8 186.1,380.8 186.7,380.8 187.4,380.9 188,381 188.6,381.1 189.2,381.3 189.8,381.6 190.4,381.8 191,382.1 191.5,382.5 192,382.8 192.5,383.3 193,383.7 193.4,384.2 193.9,384.7 194.3,385.2 194.7,385.7 195,386.2 195.4,386.7 195.8,387.2 196.2,387.8 196.5,388.4 196.9,389.1 197.2,390 197.6,390.8 198,391.4 198,391.7 197.6,391.3 197.2,391 196.9,390.7 196.5,390.3 196.1,389.8 195.8,389.3 195.4,388.8 195,388.3 194.6,387.8 194.2,387.3 193.8,386.9 193.4,386.4 192.9,385.9 192.5,385.5 192,385.1 191.4,384.8 190.9,384.5 190.3,384.2 189.8,383.9 189.2,383.7 188.6,383.5 188,383.3 187.3,383.2 186.7,383.1 186.1,383.1 185.4,383.1 184.8,383.2 184.2,383.3 183.6,383.5 183,383.7 182.4,384 181.9,384.2 181.3,384.5 180.7,384.8 180.2,385.1 179.6,385.3 179.1,385.4 178.6,385.5 178,385.7Z"/><path d="M178,385.5 178.6,385.1 179.1,384.7 179.6,384.2 180.2,383.7 180.7,383.3 181.3,383 181.8,382.7 182.4,382.4 183,382.1 183.6,381.9 184.2,381.7 184.8,381.5 185.4,381.5 186.1,381.5 186.7,381.5 187.3,381.6 188,381.7 188.6,381.8 189.2,382 189.8,382.3 190.4,382.5 191,382.8 191.5,383.2 192,383.5 192.5,383.9 193,384.4 193.4,384.8 193.8,385.3 194.2,385.8 194.6,386.3 195,386.8 195.4,387.3 195.8,387.9 196.2,388.4 196.5,388.9 196.9,389.6 197.2,390.3 197.6,390.9 198,391.5 198,391.7 197.6,391.2 197.2,390.8 196.9,390.4 196.5,389.9 196.1,389.4 195.8,388.9 195.4,388.4 195,387.9 194.6,387.4 194.2,386.9 193.8,386.4 193.4,386 192.9,385.5 192.5,385.1 192,384.7 191.5,384.3 190.9,384 190.4,383.7 189.8,383.4 189.2,383.2 188.6,383 188,382.9 187.3,382.7 186.7,382.7 186.1,382.6 185.4,382.6 184.8,382.7 184.2,382.8 183.6,383 183,383.2 182.4,383.5 181.8,383.8 181.3,384.1 180.7,384.4 180.2,384.7 179.6,384.9 179.1,385.2 178.6,385.4 178,385.7Z"/></g>
<g fill="#000" fill-opacity="0.358" filter="url(#b0_9)"><path d="M266,600.4 266.7,600.1 267.5,599.8 268.2,600.7 269,601.6 269.7,602.5 270.3,603.5 271,604.4 271.7,605.4 272.3,606.4 273,607.3 273.6,608.3 274.2,609.3 274.9,610.3 275.5,611.2 276.1,612.2 276.8,613.2 277.4,614.2 278,615.2 278.6,616.2 279.2,617.2 279.8,618.2 280.4,619.2 281,620.2 281.5,621.2 282.1,622.2 282.7,623.2 283.2,624.3 283.7,625.3 284.3,626.4 284.8,627.4 285.3,628.5 285.8,629.5 286.3,630.6 286.7,631.6 287.2,632.7 287.7,633.8 288.1,634.8 288.4,636.3 289,637.3 289,637.5 287.9,637.5 286.4,638 285,638 283.7,638 282.4,638 281.1,638 279.7,638 278.4,638 277.1,638.1 275.8,638.2 274.5,638.3 273.1,638.3 271.8,638.1 270.7,637.5 269.9,636.5 269.8,635.2 269.7,633.8 269.6,632.5 269.4,631.2 269.2,629.9 269,628.6 268.9,627.3 268.7,626 268.6,624.7 268.4,623.3 268.3,622 268.1,620.7 267.9,619.4 267.8,618.1 267.6,616.8 267.4,615.5 267.2,614.2 267.1,612.9 266.9,611.5 266.7,610.2 266.5,608.9 266.4,607.6 266.3,604.5 266,601.4Z"/><path d="M266,600.5 266.6,600.4 267.4,600.3 268.1,601.2 268.8,602.2 269.5,603.1 270.1,604.1 270.8,605.1 271.4,606.1 272,607.1 272.6,608 273.2,609 273.8,610 274.4,611 275,612 275.6,613 276.2,614.1 276.8,615.1 277.4,616.1 278,617.1 278.5,618.1 279.1,619.1 279.7,620.2 280.2,621.2 280.8,622.2 281.4,623.2 282,624.2 282.5,625.2 283.1,626.2 283.7,627.1 284.3,628.1 284.8,629.1 285.4,630.1 285.9,631.1 286.4,632.1 287,633.1 287.5,634.1 288,635.1 288.4,636.3 289,637.4 289,637.5 287.9,637.4 286.5,637.7 285.3,637.6 284.1,637.5 282.8,637.4 281.6,637.3 280.4,637.2 279.1,637.1 277.9,637.1 276.6,637 275.4,637 274.2,636.9 272.9,636.6 271.8,636 271.1,634.9 270.9,633.7 270.8,632.4 270.6,631.1 270.4,629.8 270.1,628.5 269.9,627.3 269.7,626 269.5,624.7 269.3,623.4 269.1,622.1 268.9,620.9 268.7,619.6 268.5,618.3 268.3,617 268.1,615.7 267.8,614.5 267.6,613.2 267.4,611.9 267.2,610.6 266.9,609.4 266.7,608.1 266.5,606.8 266.3,604.1 266,601.3Z"/><path d="M266,600.5 266.6,600.7 267.3,600.8 268,601.8 268.7,602.8 269.3,603.7 269.9,604.7 270.5,605.7 271.1,606.7 271.7,607.8 272.3,608.8 272.9,609.8 273.4,610.8 274,611.8 274.6,612.8 275.1,613.9 275.7,614.9 276.2,615.9 276.8,617 277.3,618 277.9,619 278.4,620.1 279,621.1 279.5,622.2 280,623.2 280.6,624.3 281.2,625.2 281.9,626.1 282.5,627 283.1,627.9 283.8,628.8 284.4,629.7 285,630.6 285.6,631.6 286.2,632.5 286.7,633.4 287.3,634.3 287.9,635.3 288.3,636.4 289,637.4 289,637.5 288,637.2 286.7,637.4 285.6,637.2 284.4,637 283.3,636.7 282.1,636.5 281,636.3 279.8,636.1 278.6,636 277.5,635.8 276.3,635.7 275.2,635.5 274,635.1 273,634.5 272.3,633.4 272,632.2 271.8,630.9 271.6,629.7 271.3,628.4 271.1,627.2 270.8,625.9 270.6,624.7 270.3,623.4 270.1,622.2 269.8,620.9 269.6,619.7 269.3,618.4 269.1,617.2 268.8,615.9 268.5,614.7 268.3,613.5 268,612.2 267.7,611 267.4,609.7 267.2,608.5 266.9,607.3 266.6,606.1 266.4,603.6 266,601.2Z"/><path d="M266,600.6 266.6,601 267.3,601.4 267.9,602.3 268.5,603.3 269.1,604.3 269.7,605.4 270.3,606.4 270.8,607.4 271.4,608.4 271.9,609.5 272.5,610.5 273,611.6 273.6,612.6 274.1,613.7 274.6,614.7 275.1,615.8 275.7,616.8 276.2,617.9 276.7,618.9 277.2,620 277.7,621 278.2,622.1 278.7,623.2 279.2,624.3 279.8,625.3 280.5,626.2 281.2,627.1 281.9,627.9 282.6,628.7 283.2,629.5 283.9,630.4 284.6,631.2 285.2,632.1 285.9,632.9 286.5,633.8 287.1,634.6 287.8,635.5 288.3,636.5 289,637.4 289,637.4 288,637.1 286.9,637.1 285.8,636.7 284.8,636.4 283.7,636.1 282.6,635.8 281.6,635.5 280.5,635.2 279.4,634.9 278.3,634.7 277.3,634.4 276.2,634.1 275.1,633.6 274.1,632.9 273.4,631.9 273.1,630.7 272.9,629.4 272.6,628.2 272.3,627 272,625.8 271.7,624.6 271.4,623.4 271.1,622.1 270.8,620.9 270.5,619.7 270.2,618.5 269.9,617.3 269.6,616.1 269.3,614.9 269,613.7 268.7,612.5 268.4,611.2 268,610 267.7,608.8 267.4,607.6 267,606.5 266.7,605.3 266.4,603.2 266,601.1Z"/><path d="M266,600.7 266.6,601.3 267.2,601.9 267.8,602.9 268.4,603.9 268.9,604.9 269.5,606 270,607 270.5,608.1 271.1,609.1 271.6,610.2 272.1,611.3 272.6,612.3 273.1,613.4 273.6,614.5 274.1,615.5 274.6,616.6 275.1,617.7 275.6,618.8 276.1,619.8 276.6,620.9 277.1,622 277.5,623.1 278,624.2 278.5,625.3 279.1,626.3 279.8,627.2 280.5,628 281.3,628.8 282,629.5 282.7,630.3 283.4,631 284.2,631.8 284.9,632.6 285.6,633.3 286.3,634.1 287,634.9 287.6,635.7 288.3,636.6 289,637.4 289,637.4 288.1,637 287.1,636.7 286.1,636.3 285.1,635.9 284.1,635.5 283.1,635 282.2,634.6 281.2,634.2 280.2,633.8 279.2,633.5 278.2,633.1 277.2,632.7 276.2,632.2 275.2,631.4 274.6,630.4 274.2,629.2 274,628 273.7,626.8 273.3,625.6 273,624.4 272.6,623.2 272.3,622 271.9,620.9 271.6,619.7 271.3,618.5 270.9,617.3 270.6,616.1 270.2,615 269.8,613.8 269.5,612.6 269.1,611.4 268.7,610.3 268.4,609.1 268,607.9 267.6,606.8 267.2,605.6 266.8,604.5 266.5,602.7 266,601Z"/><path d="M266,600.7 266.5,601.6 267.1,602.4 267.7,603.4 268.2,604.5 268.7,605.5 269.2,606.6 269.7,607.7 270.2,608.8 270.7,609.8 271.2,610.9 271.7,612 272.2,613.1 272.7,614.2 273.1,615.3 273.6,616.4 274.1,617.5 274.5,618.6 275,619.7 275.5,620.8 275.9,621.9 276.4,623 276.8,624.1 277.2,625.2 277.7,626.3 278.3,627.3 279.1,628.2 279.9,628.9 280.7,629.6 281.4,630.3 282.2,631 283,631.7 283.8,632.3 284.5,633 285.3,633.8 286,634.5 286.8,635.2 287.5,635.9 288.2,636.7 289,637.4 289,637.4 288.2,636.9 287.2,636.4 286.3,635.9 285.5,635.4 284.6,634.8 283.7,634.3 282.8,633.8 281.9,633.3 280.9,632.8 280,632.3 279.1,631.8 278.2,631.3 277.3,630.7 276.4,629.9 275.7,628.8 275.4,627.7 275,626.5 274.7,625.4 274.3,624.2 273.9,623 273.5,621.9 273.1,620.7 272.7,619.6 272.3,618.4 272,617.3 271.6,616.1 271.2,615 270.8,613.9 270.4,612.7 269.9,611.6 269.5,610.4 269.1,609.3 268.7,608.2 268.3,607 267.8,605.9 267.4,604.8 266.9,603.7 266.5,602.3 266,600.9Z"/></g>
<path d="M60.5,636.7 60.5,635.5 60.6,634.1 60.6,632.4 60.7,630.5 60.8,628.5 60.8,626.3 60.9,624 61,621.8 61.1,619.5 61.2,617.3 61.3,615.2 61.3,613 61.4,610.7 61.4,608.4 61.5,606 61.5,603.6 61.6,601.3 61.7,598.9 61.8,596.5 61.9,594.1 62,591.8 62.2,589.4 62.3,586.9 62.5,584.5 62.6,582.1 62.8,579.6 63,577.3 63.2,575 63.4,572.7 63.6,570.6 63.9,568.6 64.2,566.6 64.5,564.7 64.8,562.8 65.1,561 65.4,559.3 65.7,557.6 66,555.9 66.4,554.3 66.8,552.7 67.2,551.1 67.7,549.6 68.2,548 68.7,546.6 69.2,545.2 69.7,543.8 70.2,542.5 70.7,541.3 71.1,540.2 71.6,539.2 72.1,538.3 72.5,537.6 72.9,536.8 73.4,536.1 73.9,535.4 74.4,534.7 75,534 75.7,533.4 76.4,532.8 77.2,532.2 78.1,531.6 79.1,531.1 80,530.6 81,530.2 82,529.8 83,529.5 83.9,529.2 84.8,528.9 85.7,528.6 86.6,528.3 87.5,528 88.4,527.6 89.3,527.4 90.1,527.1 90.9,526.9 91.7,526.6 92.4,526.4 93.2,526.1 93.9,525.8 94.7,525.4 95.5,524.9 96.3,524.4 97.2,523.8 98.1,523.2 99,522.5 100,521.8 100.9,521.1 101.8,520.4 102.8,519.6 103.7,518.9 104.6,518.1 105.5,517.3 106.5,516.4 107.4,515.5 108.3,514.6 109.2,513.7 110.1,512.8 111,511.9 111.8,511.1 112.5,510.2 113.3,509.4 113.9,508.6 114.6,507.8 115.2,507 115.8,506.2 116.3,505.4 116.9,504.6 117.4,503.7 117.9,502.9 118.5,502 119,501.1 119.5,500.2 120,499.2 120.5,498.2 121.1,497.1 121.6,496.1 122.1,495 122.6,493.9 123.1,492.8 123.7,491.7 124.2,490.7 124.6,489.9 125.1,489 125.5,488.2 125.9,487.5 126.3,486.6 126.7,485.7 127.2,484.6 127.8,483.4 128.4,481.9 129.2,480.3 130,478.4 130.9,476.3 131.9,474.2 132.8,471.9 133.9,469.5 134.9,467.1 135.9,464.7 137,462.3 138,460 139.1,457.6 140.2,455.2 141.3,452.8 142.4,450.3 143.5,447.9 144.6,445.5 145.7,443.1 146.8,440.7 147.9,438.4 148.8,436.2 149.8,434.1 150.7,432.1 151.6,430.1 152.5,428.1 153.3,426.2 154.2,424.3 155,422.4 155.8,420.6 156.6,418.8 157.4,417 158.2,415.2 159,413.4 159.8,411.7 160.5,410 161.3,408.3 162,406.6 162.8,404.9 163.5,403.3 164.3,401.8 165,400.2 165.8,398.8 166.6,397.3 167.3,395.9 168.1,394.5 168.9,393.2 169.6,392 170.4,390.8 171.1,389.6 171.8,388.6 172.4,387.6 173.1,386.7 173.8,385.9 174.4,385.1 175.1,384.5 175.7,383.9 176.3,383.4 176.9,383 177.3,382.6 177.8,382.4 178.2,382.1 178.7,381.7 179.2,381.4 179.8,381.1 180.4,380.8 181,380.5 181.6,380.3 182.2,380.1 182.9,380 183.4,379.9 184,379.8 184.5,379.8 185,379.8 185.6,379.7 186.2,379.8 186.9,379.9 187.7,380 188.4,380.2 189.2,380.5 189.9,380.8 190.5,381.2 191,381.5 191.5,381.8 192.1,382.2 192.7,382.6 193.3,383.1 194,383.7 194.6,384.3 195.3,385 196,385.7 196.7,386.6 197.5,387.5 198.3,388.6 199.2,389.7 200.1,390.9 201,392.1 202,393.4 202.9,394.8 203.9,396.2 204.8,397.6 205.7,399 206.6,400.5 207.6,402 208.5,403.6 209.3,405.2 210.2,406.8 211.1,408.3 212,409.9 212.8,411.4 213.6,412.8 214.5,414.2 215.3,415.5 216.2,416.9 217,418.2 217.9,419.5 218.7,420.7 219.6,422 220.4,423.2 221.2,424.4 222.1,425.6 222.9,426.7 223.8,427.8 224.6,429 225.5,430.1 226.3,431.2 227.2,432.3 228.1,433.3 228.9,434.4 229.7,435.4 230.5,436.3 231.3,437.3 232.1,438.3 232.8,439.3 233.5,440.2 234.1,441.1 234.6,441.8 235.1,442.4 235.4,442.8 235.6,443 235.5,443 235.3,442.9 234.9,443 234.6,443 234.6,443.2 234.7,443.2 235,443.2 235.4,443 235.9,442.8 236.5,442.5 237.1,442.1 237.8,441.7 238.4,441.2 239,440.7 239.6,440.1 240.3,439.4 240.9,438.7 241.6,437.9 242.2,437.1 242.8,436.3 243.4,435.5 244,434.6 244.5,433.7 245,432.7 245.6,431.7 246.1,430.5 246.6,429.3 247,428.2 247.5,427 248,425.9 248.4,424.8 248.8,423.9 249.1,423.1 249.4,422.3 249.7,421.3 250,420.4 250.2,419.4 250.5,418.6 250.9,417.7 251.9,416.4 255.7,416.6 256.6,418.1 257,419.2 257.2,420.3 257.4,421.7 257.6,423.3 257.8,425 257.9,426.9 258.1,429 258.3,431.2 258.5,433.6 258.7,436 258.9,438.6 259,441.4 259.2,444.4 259.4,447.6 259.6,450.9 259.8,454.3 260,457.8 260.2,461.3 260.4,464.8 260.6,468.3 260.8,471.8 261,475.5 261.2,479.3 261.4,483.1 261.6,486.9 261.9,490.7 262.1,494.4 262.3,498 262.5,501.5 262.7,504.8 262.9,507.9 263.1,510.7 263.3,513.5 263.5,516.1 263.7,518.7 263.9,521.2 264.2,523.8 264.4,526.4 264.6,529.2 264.8,532.1 265,535.1 265.2,538.3 265.5,541.6 265.7,545 265.9,548.3 266.2,551.7 266.4,555 266.6,558.3 266.9,561.4 267.1,564.4 267.3,567.2 267.6,569.9 267.8,572.4 268.1,574.9 268.3,577.4 268.5,579.9 268.8,582.3 269,584.9 269.3,587.5 269.5,590.2 269.7,593.2 269.9,596.3 270.1,599.5 270.4,602.7 270.6,606 270.8,609.2 271,612.3 271.2,615.2 271.4,617.9 271.6,620.3 271.7,622.5 271.9,624.5 272,626.3 272.2,628 272.3,629.5 272.4,630.8 272.5,632 272.7,633 272.8,633.9 273,634.8 273.2,635.5 273.3,636.2 273.3,636.4 273,636 271.9,634.9 271,634.7 271,634.7 271.5,634.7 272.3,634.8 273.2,634.9 274.3,635 275.6,635.1 277.1,635.2 278.8,635.2 280.5,635.3 282.4,635.3 284.4,635.3 286.3,635.3 288.2,635.3 290,635.4 291.9,635.4 293.9,635.4 295.9,635.4 298.1,635.4 300.2,635.4 302.2,635.4 304,635.4 305.7,635.4 307.1,635.4 308.2,635.5 308.2,640.1 307.1,640.2 305.7,640.2 304,640.2 302.2,640.2 300.2,640.2 298.1,640.2 295.9,640.2 293.9,640.2 291.8,640.2 290,640.2 288.2,640.3 286.3,640.3 284.4,640.3 282.5,640.4 280.6,640.4 278.7,640.4 277,640.4 275.4,640.4 274,640.4 272.8,640.3 272,640.3 271.5,640.3 271,640.3 270.5,640.4 269.2,640 267.8,638.7 267.5,637.8 267.3,637.4 267.2,636.9 267,636.2 266.7,635.3 266.5,634.1 266.3,632.9 266.1,631.6 265.9,630.1 265.7,628.6 265.6,626.9 265.4,625 265.2,623 265,620.9 264.8,618.4 264.6,615.7 264.4,612.8 264.2,609.7 264,606.5 263.8,603.2 263.6,599.9 263.3,596.7 263.1,593.6 262.9,590.8 262.7,588 262.5,585.4 262.3,582.9 262.1,580.4 261.9,578 261.7,575.5 261.5,573 261.3,570.4 261.1,567.7 260.9,564.8 260.7,561.8 260.5,558.7 260.3,555.4 260.1,552.1 259.9,548.7 259.6,545.4 259.4,542 259.2,538.7 259,535.6 258.8,532.5 258.6,529.6 258.4,526.9 258.2,524.3 258,521.7 257.8,519.2 257.6,516.6 257.3,513.9 257.1,511.2 256.9,508.3 256.7,505.2 256.5,501.9 256.3,498.4 256,494.8 255.8,491 255.6,487.2 255.3,483.4 255.1,479.6 254.9,475.9 254.6,472.2 254.4,468.7 254.2,465.2 253.9,461.7 253.7,458.2 253.4,454.8 253.2,451.4 253,448 252.7,444.9 252.5,441.8 252.3,439 252.1,436.4 252,434 251.9,431.6 251.8,429.4 251.7,427.3 251.7,425.4 251.6,423.7 251.5,422.3 251.5,421.1 251.4,420.3 251.4,419.9 251.9,420.7 255.3,420.9 255.9,420.2 255.9,420.4 255.7,421 255.5,421.9 255.2,422.9 254.9,423.9 254.6,425 254.2,426.1 253.9,427 253.5,428 253.1,429.1 252.7,430.3 252.2,431.6 251.8,432.8 251.3,434.1 250.7,435.4 250.2,436.6 249.6,437.8 249,438.9 248.4,439.9 247.8,441 247.1,442 246.4,443 245.7,444 245,444.9 244.3,445.8 243.5,446.6 242.8,447.3 242.2,448 241.5,448.7 240.8,449.4 240,450.1 239.1,450.7 238.1,451.3 236.9,451.8 235.5,452.2 234,452.3 232.3,452.1 230.8,451.4 229.5,450.6 228.5,449.7 227.6,448.8 226.8,447.9 226.1,447 225.5,446.2 224.8,445.3 224.1,444.5 223.5,443.7 222.7,442.9 221.9,441.9 221,440.9 220.2,439.8 219.3,438.7 218.3,437.5 217.4,436.3 216.5,435.1 215.6,433.9 214.7,432.7 213.8,431.5 212.9,430.2 212,428.9 211.2,427.6 210.3,426.3 209.4,425 208.6,423.6 207.7,422.2 206.8,420.8 205.9,419.4 205,417.9 204.1,416.4 203.2,414.8 202.4,413.2 201.5,411.6 200.6,410.1 199.8,408.5 198.9,407.1 198.1,405.7 197.3,404.4 196.4,403.1 195.6,401.8 194.7,400.5 193.8,399.2 192.9,398 192.1,396.8 191.2,395.7 190.4,394.7 189.7,393.8 189.1,393 188.5,392.4 188,391.8 187.6,391.4 187.3,391.1 186.9,390.8 186.7,390.6 186.4,390.4 186.1,390.2 185.8,390 185.5,389.8 185.3,389.7 185.3,389.7 185.3,389.7 185.3,389.7 185.4,389.7 185.4,389.7 185.4,389.7 185.4,389.7 185.2,389.8 185,389.8 184.9,389.8 184.8,389.8 184.7,389.8 184.7,389.8 184.6,389.9 184.5,389.9 184.4,389.9 184.3,390 184.1,390.1 183.8,390.3 183.4,390.6 183.1,390.9 182.7,391.1 182.5,391.3 182.2,391.5 182,391.7 181.7,392 181.4,392.3 181,392.8 180.6,393.4 180.1,394.2 179.5,395 178.8,396 178.2,397.1 177.5,398.3 176.8,399.5 176.1,400.7 175.4,402.1 174.7,403.4 174,404.8 173.3,406.2 172.6,407.6 171.9,409.1 171.1,410.7 170.4,412.3 169.7,414 168.9,415.7 168.2,417.5 167.4,419.2 166.6,421 165.8,422.8 165,424.6 164.1,426.5 163.3,428.3 162.5,430.2 161.6,432.2 160.7,434.1 159.8,436.2 158.9,438.2 158,440.4 157,442.6 155.9,444.9 154.8,447.2 153.7,449.6 152.6,452.1 151.5,454.5 150.4,457 149.3,459.4 148.2,461.7 147.2,464 146.1,466.3 145.1,468.7 144.1,471.1 143,473.5 142,475.8 141,478.1 140.1,480.3 139.2,482.4 138.3,484.3 137.6,486.1 136.8,487.6 136.2,488.9 135.7,490 135.1,491.1 134.7,492 134.2,492.8 133.8,493.6 133.3,494.5 132.8,495.3 132.3,496.3 131.8,497.3 131.2,498.3 130.7,499.4 130.1,500.4 129.5,501.5 128.9,502.7 128.2,503.8 127.5,504.9 126.9,506 126.1,507 125.4,508 124.7,508.9 123.9,509.8 123.2,510.7 122.4,511.6 121.7,512.4 120.9,513.3 120,514.1 119.2,514.9 118.3,515.8 117.3,516.7 116.3,517.5 115.3,518.4 114.2,519.3 113.1,520.1 112,521 110.9,521.8 109.9,522.6 108.8,523.4 107.7,524.1 106.7,524.8 105.7,525.6 104.6,526.3 103.6,527 102.5,527.7 101.5,528.3 100.4,528.9 99.4,529.5 98.4,530.1 97.3,530.6 96.3,531.1 95.3,531.5 94.4,531.9 93.5,532.2 92.6,532.4 91.8,532.7 91,532.9 90.2,533.1 89.5,533.4 88.8,533.7 88,534.1 87.1,534.5 86.3,534.9 85.4,535.4 84.6,535.8 83.9,536.2 83.2,536.6 82.6,537 82.2,537.4 81.8,537.8 81.5,538.2 81.3,538.5 81.2,538.8 81.1,539.1 81,539.5 80.9,539.9 80.7,540.4 80.6,541.1 80.3,541.9 80,542.8 79.6,543.8 79.2,544.8 78.7,545.9 78.3,547.1 77.8,548.3 77.3,549.6 76.9,550.9 76.5,552.3 76,553.7 75.6,555.1 75.2,556.5 74.8,558 74.4,559.6 74,561.1 73.6,562.8 73.2,564.5 72.8,566.2 72.5,568 72.1,569.9 71.8,571.8 71.4,573.8 71,576 70.7,578.2 70.3,580.5 70,582.8 69.7,585.2 69.4,587.6 69.1,590 68.8,592.4 68.5,594.7 68.2,597 68,599.3 67.7,601.7 67.5,604 67.3,606.4 67,608.7 66.8,611 66.6,613.3 66.4,615.5 66.2,617.7 66,619.8 65.8,622.1 65.6,624.3 65.4,626.6 65.3,628.7 65.1,630.8 64.9,632.7 64.8,634.4 64.6,635.8 64.5,636.9Z" fill="#000" fill-opacity="0.25" filter="url(#b0_6)"/>
<path d="M62.1,636.8 62.1,635.6 62.2,634.2 62.2,632.5 62.3,630.6 62.4,628.6 62.4,626.4 62.5,624.1 62.6,621.9 62.7,619.6 62.8,617.4 62.9,615.3 62.9,613.1 63,610.8 63,608.5 63.1,606.1 63.1,603.7 63.2,601.4 63.3,599 63.4,596.6 63.5,594.3 63.6,591.9 63.8,589.5 63.9,587.1 64.1,584.6 64.2,582.2 64.4,579.8 64.6,577.5 64.8,575.2 65,573 65.2,570.8 65.5,568.8 65.8,566.9 66,565 66.3,563.1 66.6,561.4 66.9,559.6 67.3,557.9 67.6,556.3 67.9,554.7 68.3,553.1 68.7,551.6 69.2,550 69.7,548.5 70.2,547.1 70.7,545.7 71.2,544.4 71.7,543.1 72.1,541.9 72.6,540.8 73,539.8 73.5,539 74,538.2 74.4,537.5 74.8,536.8 75.2,536.2 75.7,535.6 76.3,535 76.9,534.5 77.5,534 78.2,533.5 79,532.9 79.9,532.5 80.8,532 81.7,531.7 82.6,531.3 83.6,531 84.5,530.7 85.4,530.4 86.3,530.1 87.2,529.8 88.1,529.5 88.9,529.2 89.8,528.9 90.6,528.6 91.4,528.4 92.2,528.2 93,527.9 93.8,527.6 94.6,527.3 95.4,526.8 96.3,526.3 97.1,525.8 98.1,525.2 99,524.5 99.9,523.9 100.9,523.1 101.8,522.4 102.8,521.7 103.7,520.9 104.7,520.2 105.6,519.3 106.5,518.5 107.5,517.6 108.4,516.7 109.4,515.8 110.3,514.9 111.2,514 112.1,513.1 112.9,512.2 113.7,511.3 114.4,510.5 115.1,509.6 115.8,508.8 116.4,508 117,507.2 117.6,506.3 118.1,505.5 118.7,504.7 119.2,503.8 119.8,502.9 120.3,501.9 120.9,501 121.4,500 122,498.9 122.5,497.9 123,496.8 123.5,495.7 124,494.6 124.6,493.5 125.1,492.5 125.6,491.5 126,490.6 126.5,489.8 126.9,489 127.3,488.2 127.7,487.3 128.2,486.4 128.7,485.3 129.2,484.1 129.9,482.6 130.7,480.9 131.5,479 132.4,477 133.3,474.8 134.3,472.5 135.3,470.2 136.4,467.8 137.4,465.3 138.5,463 139.5,460.6 140.5,458.3 141.6,455.9 142.7,453.5 143.8,451 145,448.6 146.1,446.1 147.2,443.7 148.3,441.4 149.3,439.1 150.3,436.9 151.3,434.8 152.2,432.7 153.1,430.7 153.9,428.7 154.8,426.8 155.6,424.9 156.5,423.1 157.3,421.2 158.1,419.4 158.9,417.6 159.7,415.8 160.5,414.1 161.2,412.3 162,410.6 162.7,408.9 163.5,407.2 164.2,405.6 165,404 165.7,402.5 166.5,401 167.2,399.5 168,398.1 168.7,396.7 169.5,395.3 170.3,394 171,392.8 171.7,391.6 172.4,390.5 173.1,389.5 173.7,388.5 174.4,387.7 175,386.9 175.6,386.2 176.2,385.6 176.7,385.1 177.3,384.7 177.8,384.3 178.3,384 178.7,383.7 179.1,383.4 179.5,383.1 180,382.8 180.5,382.5 181.1,382.2 181.6,382 182.1,381.8 182.6,381.7 183.2,381.6 183.7,381.5 184.1,381.4 184.6,381.4 185,381.4 185.5,381.3 186.1,381.4 186.7,381.4 187.3,381.6 187.9,381.7 188.5,382 189.1,382.2 189.7,382.6 190.2,382.8 190.7,383.1 191.2,383.5 191.7,383.9 192.3,384.3 192.9,384.8 193.5,385.4 194.1,386.1 194.8,386.8 195.5,387.6 196.3,388.5 197.1,389.5 197.9,390.7 198.8,391.8 199.7,393.1 200.6,394.4 201.6,395.7 202.5,397.1 203.5,398.5 204.4,399.9 205.3,401.3 206.2,402.8 207.1,404.4 207.9,406 208.8,407.5 209.7,409.1 210.6,410.7 211.4,412.2 212.3,413.6 213.1,415 214,416.4 214.8,417.7 215.7,419 216.5,420.3 217.4,421.6 218.2,422.9 219.1,424.1 219.9,425.3 220.8,426.5 221.6,427.6 222.5,428.8 223.3,429.9 224.2,431.1 225.1,432.2 226,433.3 226.8,434.3 227.7,435.4 228.5,436.4 229.3,437.3 230.1,438.3 230.9,439.3 231.6,440.2 232.2,441.2 232.8,442 233.4,442.8 233.8,443.4 234.3,443.9 234.6,444.2 234.7,444.4 234.8,444.5 234.7,444.5 234.8,444.6 235,444.7 235.3,444.7 235.7,444.6 236.3,444.4 236.9,444.1 237.5,443.7 238.2,443.3 238.8,442.9 239.5,442.4 240.1,441.8 240.8,441.1 241.5,440.4 242.2,439.7 242.8,438.9 243.5,438.1 244.2,437.2 244.8,436.3 245.4,435.4 246,434.5 246.5,433.4 247,432.3 247.5,431.1 248,429.9 248.5,428.7 249,427.6 249.5,426.5 249.9,425.4 250.3,424.5 250.6,423.7 250.9,422.7 251.2,421.7 251.5,420.8 251.8,419.9 252,419.1 252.3,418.4 252.9,417.6 254.6,417.8 255.1,418.6 255.4,419.5 255.6,420.5 255.8,421.8 256,423.4 256.2,425.1 256.3,427 256.5,429.1 256.7,431.3 256.9,433.7 257.1,436.1 257.3,438.7 257.4,441.5 257.6,444.5 257.8,447.7 258,451 258.2,454.5 258.4,457.9 258.6,461.4 258.8,464.9 259,468.4 259.2,471.9 259.4,475.6 259.6,479.3 259.8,483.2 260,487 260.3,490.8 260.5,494.5 260.7,498.1 260.9,501.6 261.1,504.9 261.3,508 261.5,510.9 261.7,513.6 261.9,516.2 262.1,518.8 262.4,521.3 262.6,523.9 262.8,526.6 263,529.3 263.2,532.2 263.4,535.3 263.7,538.4 263.9,541.7 264.1,545.1 264.3,548.4 264.6,551.8 264.8,555.1 265,558.4 265.3,561.5 265.5,564.5 265.7,567.3 266,570 266.2,572.6 266.5,575.1 266.7,577.5 266.9,580 267.2,582.5 267.4,585 267.7,587.6 267.9,590.4 268.1,593.3 268.3,596.4 268.5,599.6 268.8,602.9 269,606.1 269.2,609.3 269.4,612.4 269.6,615.4 269.8,618.1 270,620.5 270.2,622.6 270.3,624.6 270.4,626.5 270.6,628.1 270.7,629.6 270.8,631 271,632.2 271.1,633.3 271.3,634.3 271.5,635.1 271.6,635.9 271.7,636.5 271.7,636.8 271.6,636.7 271.2,636.3 270.8,636.3 271,636.3 271.5,636.3 272.2,636.4 273.1,636.5 274.2,636.6 275.5,636.7 277.1,636.8 278.7,636.8 280.5,636.9 282.4,636.9 284.4,636.9 286.3,636.9 288.2,636.9 290,637 291.9,637 293.9,637 295.9,637 298.1,637 300.2,637 302.2,637 304,637 305.7,637 307.1,637 308.2,637.1 308.2,638.5 307.1,638.6 305.7,638.6 304,638.6 302.2,638.6 300.2,638.6 298.1,638.6 295.9,638.6 293.9,638.6 291.9,638.6 290,638.6 288.2,638.7 286.3,638.7 284.4,638.7 282.4,638.8 280.6,638.8 278.7,638.8 277,638.8 275.4,638.8 274.1,638.8 272.9,638.7 272.1,638.7 271.5,638.7 271,638.7 270.6,638.8 269.9,638.6 269.3,638 269,637.5 268.9,637 268.8,636.6 268.5,635.9 268.3,634.9 268.1,633.8 267.9,632.7 267.7,631.4 267.5,630 267.3,628.4 267.2,626.7 267,624.9 266.8,622.9 266.6,620.7 266.4,618.3 266.2,615.6 266,612.7 265.8,609.6 265.6,606.3 265.4,603.1 265.2,599.8 264.9,596.6 264.7,593.5 264.5,590.6 264.3,587.9 264.1,585.3 263.9,582.8 263.7,580.3 263.5,577.8 263.3,575.4 263.1,572.8 262.9,570.3 262.7,567.6 262.5,564.7 262.3,561.7 262.1,558.6 261.9,555.3 261.7,552 261.4,548.6 261.2,545.3 261,541.9 260.8,538.6 260.6,535.5 260.4,532.4 260.2,529.5 260,526.8 259.8,524.1 259.6,521.6 259.4,519 259.1,516.5 258.9,513.8 258.7,511.1 258.5,508.2 258.3,505.1 258.1,501.8 257.8,498.3 257.6,494.7 257.4,490.9 257.2,487.1 256.9,483.3 256.7,479.5 256.5,475.8 256.2,472.1 256,468.6 255.8,465.1 255.5,461.6 255.3,458.1 255,454.7 254.8,451.2 254.6,447.9 254.3,444.8 254.1,441.7 253.9,438.9 253.7,436.3 253.6,433.9 253.5,431.5 253.4,429.3 253.3,427.2 253.3,425.3 253.2,423.6 253.1,422.1 253.1,420.9 253,420 252.9,419.4 253,419.5 254.3,419.6 254.5,419.5 254.4,419.9 254.2,420.6 253.9,421.4 253.7,422.4 253.4,423.5 253.1,424.5 252.7,425.5 252.4,426.4 252,427.4 251.6,428.6 251.2,429.7 250.8,431 250.3,432.2 249.8,433.5 249.3,434.7 248.8,435.9 248.2,437 247.6,438 247.1,439.1 246.4,440.1 245.8,441.1 245.2,442 244.5,443 243.8,443.8 243.1,444.7 242.4,445.4 241.8,446.1 241.1,446.8 240.5,447.5 239.8,448.1 239.1,448.7 238.3,449.3 237.5,449.9 236.5,450.3 235.4,450.6 234.1,450.7 232.8,450.5 231.6,450 230.5,449.4 229.6,448.6 228.8,447.8 228.1,446.9 227.4,446.1 226.7,445.2 226.1,444.4 225.4,443.5 224.7,442.7 223.9,441.8 223.1,440.9 222.3,439.8 221.4,438.8 220.5,437.7 219.6,436.5 218.7,435.4 217.8,434.2 216.9,433 216,431.8 215.1,430.5 214.2,429.3 213.4,428 212.5,426.7 211.6,425.4 210.8,424.1 209.9,422.8 209,421.4 208.2,420 207.3,418.6 206.4,417.1 205.5,415.6 204.6,414 203.7,412.4 202.9,410.8 202,409.3 201.2,407.7 200.3,406.3 199.5,404.9 198.6,403.5 197.8,402.2 196.9,400.9 196,399.6 195.1,398.3 194.2,397.1 193.3,395.9 192.5,394.8 191.7,393.7 191,392.8 190.3,392 189.7,391.3 189.2,390.7 188.7,390.3 188.3,389.9 188,389.6 187.6,389.3 187.3,389.1 187,388.9 186.6,388.7 186.3,388.4 186,388.3 185.9,388.2 185.8,388.2 185.7,388.2 185.6,388.2 185.6,388.1 185.5,388.1 185.3,388.1 185.1,388.2 184.9,388.2 184.6,388.2 184.5,388.2 184.3,388.3 184.2,388.3 184,388.4 183.9,388.4 183.7,388.5 183.5,388.6 183.3,388.8 182.9,389 182.5,389.3 182.1,389.5 181.8,389.8 181.5,390 181.2,390.3 180.9,390.5 180.5,390.9 180.2,391.3 179.8,391.8 179.3,392.5 178.7,393.3 178.1,394.2 177.5,395.2 176.8,396.3 176.1,397.5 175.4,398.7 174.7,400 174,401.3 173.2,402.7 172.5,404 171.8,405.4 171.1,406.9 170.4,408.5 169.7,410 169,411.7 168.2,413.4 167.5,415.1 166.7,416.8 165.9,418.6 165.1,420.4 164.3,422.2 163.5,424 162.7,425.8 161.9,427.7 161,429.6 160.2,431.5 159.3,433.5 158.4,435.5 157.5,437.6 156.5,439.7 155.5,441.9 154.5,444.2 153.4,446.6 152.3,449 151.2,451.4 150,453.8 148.9,456.3 147.8,458.7 146.7,461.1 145.7,463.4 144.7,465.7 143.6,468.1 142.6,470.5 141.6,472.8 140.6,475.2 139.6,477.5 138.6,479.7 137.7,481.8 136.9,483.7 136.1,485.4 135.4,486.9 134.8,488.2 134.2,489.3 133.7,490.3 133.2,491.2 132.8,492.1 132.3,492.9 131.9,493.7 131.4,494.6 130.9,495.5 130.4,496.5 129.8,497.6 129.2,498.6 128.7,499.7 128.1,500.8 127.4,501.9 126.8,503 126.2,504.1 125.5,505.1 124.8,506.1 124.1,507.1 123.4,508 122.7,508.9 121.9,509.7 121.2,510.6 120.4,511.4 119.6,512.2 118.8,513 118,513.8 117.1,514.7 116.2,515.5 115.2,516.4 114.2,517.2 113.1,518.1 112.1,518.9 111,519.8 109.9,520.6 108.8,521.4 107.8,522.1 106.7,522.8 105.7,523.6 104.7,524.3 103.7,525 102.6,525.7 101.6,526.3 100.6,527 99.6,527.6 98.6,528.1 97.6,528.7 96.6,529.2 95.7,529.6 94.7,530 93.8,530.4 93,530.6 92.1,530.9 91.3,531.1 90.5,531.4 89.7,531.6 89,531.9 88.2,532.2 87.4,532.6 86.5,533 85.7,533.5 84.8,533.9 84,534.3 83.2,534.8 82.5,535.2 81.8,535.7 81.2,536.1 80.8,536.5 80.4,537 80.1,537.4 79.9,537.8 79.7,538.2 79.6,538.7 79.5,539.2 79.3,539.8 79.1,540.4 78.8,541.3 78.6,542.2 78.1,543.2 77.7,544.2 77.2,545.3 76.8,546.5 76.3,547.8 75.8,549.1 75.4,550.4 74.9,551.8 74.5,553.2 74.1,554.7 73.7,556.2 73.2,557.7 72.8,559.2 72.4,560.8 72,562.5 71.6,564.2 71.2,565.9 70.9,567.7 70.5,569.6 70.2,571.6 69.8,573.6 69.4,575.8 69.1,578 68.7,580.3 68.4,582.7 68.1,585 67.8,587.4 67.5,589.8 67.2,592.2 66.9,594.5 66.6,596.9 66.4,599.2 66.1,601.6 65.9,603.9 65.7,606.3 65.4,608.6 65.2,610.9 65,613.2 64.8,615.4 64.6,617.6 64.4,619.7 64.2,622 64,624.2 63.8,626.5 63.7,628.6 63.5,630.7 63.3,632.6 63.2,634.3 63,635.7 62.9,636.8Z" fill="#1a1718" fill-opacity="0.97" filter="url(#b0_5)"/>
<rect x="361" y="349.6" width="280.4" height="302.7" fill="none" stroke="#dedede" stroke-width="1.2"/>
<path d="M373.4,652.3v2.2M392.3,652.3v2.2M411.3,652.3v2.2M430.2,652.3v2.2M449.2,652.3v2.2M468.1,652.3v2.2M487.1,652.3v2.2M506,652.3v2.2M525,652.3v2.2M543.9,652.3v2.2M562.9,652.3v2.2M581.8,652.3v2.2M600.8,652.3v2.2M619.8,652.3v2.2M361,637.2h-2.2M361,548.3h-2.2M361,459.3h-2.2M361,370.4h-2.2" stroke="#8a8a8a" stroke-width="0.9" fill="none"/>
<g font-family='"Liberation Sans", sans-serif' font-size="10.2" fill="#222" stroke="#222" stroke-width="0.2" text-anchor="middle"><text x="373.9" y="663.3" textLength="4.9" lengthAdjust="spacingAndGlyphs">0</text><text x="392.8" y="663.3" textLength="9.9" lengthAdjust="spacingAndGlyphs">20</text><text x="411.8" y="663.3" textLength="9.9" lengthAdjust="spacingAndGlyphs">40</text><text x="430.8" y="663.3" textLength="9.9" lengthAdjust="spacingAndGlyphs">60</text><text x="449.7" y="663.3" textLength="9.9" lengthAdjust="spacingAndGlyphs">80</text><text x="468.6" y="663.3" textLength="14.8" lengthAdjust="spacingAndGlyphs">100</text><text x="487.6" y="663.3" textLength="14.8" lengthAdjust="spacingAndGlyphs">120</text><text x="506.5" y="663.3" textLength="14.8" lengthAdjust="spacingAndGlyphs">140</text><text x="525.5" y="663.3" textLength="14.8" lengthAdjust="spacingAndGlyphs">160</text><text x="544.4" y="663.3" textLength="14.8" lengthAdjust="spacingAndGlyphs">180</text><text x="563.4" y="663.3" textLength="14.8" lengthAdjust="spacingAndGlyphs">200</text><text x="582.3" y="663.3" textLength="14.8" lengthAdjust="spacingAndGlyphs">220</text><text x="601.3" y="663.3" textLength="14.8" lengthAdjust="spacingAndGlyphs">240</text><text x="620.2" y="663.3" textLength="14.8" lengthAdjust="spacingAndGlyphs">260</text><text x="357.9" y="641.5" text-anchor="end" textLength="18.9" lengthAdjust="spacingAndGlyphs">0.00</text><text x="357.9" y="552.6" text-anchor="end" textLength="18.9" lengthAdjust="spacingAndGlyphs">0.04</text><text x="357.9" y="463.6" text-anchor="end" textLength="18.9" lengthAdjust="spacingAndGlyphs">0.08</text><text x="357.9" y="374.7" text-anchor="end" textLength="18.9" lengthAdjust="spacingAndGlyphs">0.12</text></g>
<text x="501.9" y="677.4" font-family='"Liberation Sans", sans-serif' font-size="12.8" fill="#1e1e1e" text-anchor="middle" textLength="110" lengthAdjust="spacingAndGlyphs">Fractional dose (cGy)</text>
<text transform="translate(336.8,501.9) rotate(-90)" font-family='"Liberation Sans", sans-serif' font-size="12.4" fill="#1e1e1e" text-anchor="middle" textLength="46" lengthAdjust="spacingAndGlyphs">Loadings</text>
<text x="373.7" y="379.2" font-family='"Liberation Sans", sans-serif' font-size="16" fill="#151515" textLength="63.3" lengthAdjust="spacingAndGlyphs">Dysphagia</text>
<text x="373.7" y="397.7" font-family='"Liberation Sans", sans-serif' font-size="16" fill="#151515" textLength="28.4" lengthAdjust="spacingAndGlyphs">FPLS</text>
<text x="373.7" y="416.3" font-family='"Liberation Sans", sans-serif' font-size="16" fill="#151515" textLength="50.4" lengthAdjust="spacingAndGlyphs">Training</text>
<text x="373.7" y="434.8" font-family='"Liberation Sans", sans-serif' font-size="16" fill="#151515" textLength="27.3" lengthAdjust="spacingAndGlyphs">data</text>
<g fill="#000" fill-opacity="0.223" filter="url(#b1_6)"><path d="M386,572 386.8,564.5 387.1,559.2 387.6,555.9 388.1,552.5 388.7,549.1 389.4,545.8 390.3,542.5 391.5,539.3 393.6,536.6 396.7,535.2 400.1,534.8 403.5,534.4 406.7,533.4 409.9,532.1 413,530.7 416.1,529.3 419.1,527.6 421.9,525.7 424.5,523.4 426.9,521 429.3,518.5 431.5,516 433.8,513.4 436.2,510.9 438.4,508.4 440.6,505.7 442.7,503 444.7,500.3 446.6,497.4 448.5,494.5 450.3,491.6 452.4,488.9 455.1,486.5 458.2,484.2 461.3,481.9 464.2,479.4 466.9,476.7 469.1,473.7 470.8,470.6 473.2,471.4 472.2,475 471.6,478.8 471.4,482.7 471.2,486.8 470.9,490.9 470.3,494.9 469.3,498.7 467.7,502.3 465.9,505.7 464.1,509.1 462.4,512.6 460.5,516 458.7,519.4 456.9,522.8 455,526.2 453.1,529.5 451.2,532.9 449.3,536.2 447.3,539.5 445.3,542.8 443.3,546.1 441.2,549.4 439.1,552.6 437,555.8 434.6,558.9 431.8,561.6 428.7,563.9 425.4,565.8 421.9,567.4 418.3,568.8 414.6,570 410.9,571 407.1,572 403.4,572.9 399.6,573.6 395.8,574.3 392.1,575.3 388.5,575.5 386,574Z"/><path d="M386,572.1 387,565.4 387.5,560.6 388.2,557.4 389.1,554.2 389.9,551.1 390.9,547.9 392,544.8 393.5,541.8 395.7,539.3 398.8,537.8 402.2,537.4 405.6,536.9 408.8,535.8 411.9,534.3 415,532.8 418,531.2 420.9,529.4 423.7,527.4 426.2,525.1 428.6,522.6 430.9,520 433.2,517.4 435.5,514.8 437.7,512.2 440,509.6 442.2,506.9 444.2,504.1 446.2,501.3 448.1,498.4 449.9,495.5 451.8,492.5 453.8,489.7 456.4,487.2 459.2,484.8 462.1,482.3 464.8,479.7 467.3,476.9 469.4,473.9 471,470.6 473,471.4 471.9,474.9 471.2,478.6 470.8,482.5 470.4,486.4 469.8,490.3 469,494.2 467.9,497.9 466.3,501.4 464.5,504.8 462.7,508.2 460.9,511.5 459.1,514.9 457.2,518.2 455.3,521.6 453.5,524.9 451.5,528.2 449.6,531.5 447.6,534.7 445.6,538 443.6,541.2 441.5,544.4 439.4,547.6 437.2,550.7 435,553.7 432.5,556.6 429.7,559.2 426.6,561.4 423.2,563.2 419.8,564.7 416.2,566.2 412.7,567.4 409.2,568.6 405.6,569.8 402.1,570.9 398.6,571.8 395.1,572.8 391.6,574 388.3,574.5 386,573.9Z"/><path d="M386,572.3 387.1,566.3 387.9,561.9 388.9,558.9 390,556 391.1,553.1 392.4,550.1 393.7,547.2 395.4,544.4 397.7,542 400.9,540.5 404.3,539.9 407.7,539.3 410.9,538.1 414,536.6 417,534.9 419.9,533.2 422.8,531.2 425.5,529.1 428,526.7 430.3,524.1 432.6,521.5 434.8,518.8 437.1,516.1 439.3,513.5 441.5,510.8 443.7,508 445.7,505.2 447.7,502.3 449.5,499.4 451.4,496.4 453.2,493.4 455.2,490.5 457.6,487.9 460.3,485.3 462.9,482.7 465.4,480 467.7,477 469.6,474 471.2,470.7 472.8,471.3 471.6,474.8 470.8,478.4 470.2,482.2 469.6,486 468.8,489.8 467.8,493.5 466.5,497.1 464.8,500.5 463,503.8 461.2,507.2 459.4,510.5 457.6,513.8 455.7,517.1 453.8,520.4 451.9,523.6 449.9,526.8 448,530.1 446,533.3 443.9,536.5 441.8,539.6 439.7,542.7 437.5,545.8 435.3,548.8 433,551.6 430.4,554.4 427.6,556.9 424.5,559 421.1,560.6 417.7,562 414.2,563.5 410.8,564.9 407.4,566.3 404.2,567.6 400.9,568.9 397.7,570.1 394.4,571.3 391.2,572.7 388.2,573.6 386,573.7Z"/><path d="M386,572.5 387.2,567.2 388.3,563.3 389.6,560.5 391,557.8 392.4,555 393.8,552.3 395.4,549.6 397.3,547 399.8,544.7 403,543.2 406.4,542.5 409.8,541.8 413,540.5 416.1,538.8 419,537 421.9,535.1 424.6,533 427.2,530.8 429.7,528.3 432,525.7 434.3,522.9 436.5,520.2 438.7,517.5 440.9,514.7 443.1,512 445.2,509.2 447.2,506.3 449.1,503.3 451,500.3 452.8,497.3 454.7,494.3 456.6,491.4 458.9,488.6 461.4,485.9 463.8,483.1 466,480.2 468.1,477.2 469.9,474.1 471.4,470.8 472.6,471.2 471.4,474.7 470.4,478.2 469.6,481.9 468.7,485.6 467.7,489.2 466.5,492.8 465.1,496.3 463.4,499.6 461.6,502.9 459.8,506.2 457.9,509.5 456.1,512.7 454.2,516 452.3,519.2 450.3,522.3 448.3,525.5 446.3,528.7 444.3,531.8 442.2,534.9 440.1,538 437.9,541 435.7,543.9 433.4,546.8 431,549.6 428.4,552.2 425.5,554.5 422.4,556.5 419,558 415.6,559.3 412.1,560.8 408.8,562.3 405.7,563.9 402.7,565.4 399.7,566.9 396.7,568.3 393.7,569.7 390.8,571.3 388.1,572.7 386,573.5Z"/><path d="M386,572.6 387.4,568.1 388.7,564.6 390.3,562 391.9,559.5 393.6,557 395.3,554.5 397.2,552 399.2,549.5 401.8,547.3 405.1,545.9 408.5,545.1 411.9,544.2 415.1,542.8 418.1,541 421,539.1 423.8,537.1 426.5,534.9 429,532.5 431.4,529.9 433.7,527.2 435.9,524.4 438.1,521.6 440.3,518.8 442.5,516 444.6,513.2 446.7,510.3 448.7,507.4 450.6,504.4 452.5,501.3 454.3,498.3 456.1,495.2 458,492.2 460.2,489.3 462.4,486.5 464.6,483.5 466.6,480.5 468.5,477.4 470.1,474.2 471.6,470.9 472.4,471.1 471.1,474.6 470,478.1 469,481.6 467.9,485.2 466.7,488.7 465.2,492.1 463.7,495.5 461.9,498.7 460.1,502 458.3,505.2 456.5,508.5 454.6,511.7 452.7,514.8 450.7,518 448.7,521.1 446.7,524.2 444.7,527.2 442.6,530.3 440.5,533.4 438.4,536.4 436.1,539.3 433.8,542.1 431.5,544.9 429,547.5 426.3,549.9 423.4,552.2 420.3,554.1 416.9,555.4 413.5,556.7 410.1,558.1 406.9,559.8 404,561.5 401.2,563.2 398.5,564.9 395.8,566.6 393,568.2 390.4,570 387.9,571.8 386,573.4Z"/><path d="M386,572.8 387.5,569 389.1,566 391,563.6 392.9,561.3 394.8,559 396.8,556.7 398.9,554.4 401.1,552.1 403.9,550 407.2,548.6 410.6,547.7 414,546.7 417.2,545.1 420.2,543.2 423,541.2 425.7,539 428.3,536.7 430.8,534.2 433.2,531.5 435.4,528.7 437.6,525.9 439.7,523 441.9,520.1 444,517.3 446.1,514.4 448.2,511.4 450.2,508.4 452.1,505.4 453.9,502.3 455.8,499.2 457.6,496.1 459.4,493 461.4,490 463.5,487 465.4,484 467.2,480.8 468.9,477.6 470.4,474.3 471.8,470.9 472.2,471.1 470.9,474.5 469.6,477.9 468.4,481.3 467.1,484.8 465.6,488.1 464,491.4 462.3,494.6 460.5,497.9 458.7,501.1 456.8,504.2 455,507.4 453.1,510.6 451.2,513.7 449.2,516.8 447.2,519.8 445.1,522.8 443,525.8 441,528.8 438.8,531.8 436.6,534.8 434.4,537.6 432,540.3 429.5,542.9 427,545.4 424.3,547.7 421.4,549.8 418.2,551.6 414.8,552.9 411.4,554 408,555.4 405,557.2 402.3,559.1 399.7,561 397.3,563 394.8,564.8 392.4,566.6 390,568.6 387.8,570.9 386,573.2Z"/></g>
<g fill="#000" fill-opacity="0.069" filter="url(#b1_3)"><path d="M466,471.9 466.9,469.2 467.8,465.4 468.7,461.5 469.6,457.9 470.4,455.5 471.4,453.4 472.3,451.3 473.3,449.3 474.3,447.2 475.3,445.2 476.3,443.2 477.4,441.1 478.5,439.1 479.5,437.1 480.5,435.1 481.6,433.1 482.7,431.1 483.8,429.1 485.1,427.2 486.5,425.4 488.1,423.7 489.8,422.3 491.7,421 493.7,419.9 495.9,419.3 498.2,419.1 500.4,419.2 502.7,419.7 504.8,420.4 506.9,421.5 508.7,422.8 510.4,424.3 512,425.9 513.5,427.6 514.9,430 516.3,434.5 517.6,439.8 518.8,444.8 520,448.1 520,451.9 518.8,451.3 517.7,452.3 516.5,453.7 515.4,454.3 514.2,452.9 513,451 511.7,449 510.5,447 509.3,445 508,443.1 506.5,441.3 504.7,439.8 502.7,438.7 500.5,438.1 498.1,437.8 495.8,437.9 493.5,438.3 491.3,439 489.3,440.1 487.5,441.6 485.8,443.2 484.5,445.1 483.2,447.1 482.1,449.1 481,451.1 480,453.2 478.9,455.3 477.8,457.3 476.7,459.4 475.6,461.4 474.4,463.4 473.3,465.5 472.2,467.5 471.2,469.6 470.1,471.3 469,472 468,472.2 467,472.7 466,474.1Z"/><path d="M466,472.1 466.9,469.4 467.9,466 468.7,462.3 469.6,459.1 470.5,456.7 471.4,454.6 472.4,452.5 473.4,450.5 474.4,448.4 475.4,446.4 476.4,444.3 477.5,442.3 478.6,440.3 479.6,438.3 480.7,436.2 481.7,434.2 482.8,432.2 484,430.3 485.3,428.4 486.8,426.6 488.4,425 490.1,423.6 492,422.4 494.1,421.4 496.3,420.9 498.5,420.7 500.8,421 503,421.5 505.1,422.3 507.1,423.4 508.9,424.8 510.5,426.4 512.1,428 513.6,429.7 515,432.1 516.3,436.1 517.6,440.9 518.8,445.3 520,448.4 520,451.6 518.8,450.7 517.7,451.3 516.5,452.1 515.4,452.3 514.2,450.8 512.9,448.9 511.6,446.9 510.4,445 509.1,443.1 507.7,441.2 506.2,439.5 504.4,438.1 502.3,437.1 500.1,436.5 497.8,436.3 495.5,436.5 493.2,437 491.1,437.8 489.1,438.9 487.3,440.4 485.7,442 484.3,443.9 483.1,445.9 482,447.9 480.9,450 479.9,452 478.8,454.1 477.7,456.2 476.6,458.2 475.4,460.2 474.3,462.3 473.2,464.3 472.2,466.4 471.1,468.4 470.1,470.2 469,471.1 468,471.6 467,472.4 466,473.9Z"/><path d="M466,472.3 466.9,469.7 467.9,466.6 468.8,463.2 469.6,460.2 470.6,457.9 471.5,455.8 472.5,453.7 473.5,451.6 474.5,449.6 475.5,447.6 476.6,445.5 477.6,443.5 478.7,441.5 479.8,439.4 480.8,437.4 481.9,435.4 483,433.4 484.2,431.4 485.5,429.6 487,427.9 488.6,426.3 490.4,424.9 492.4,423.8 494.5,422.9 496.7,422.4 498.9,422.4 501.1,422.7 503.3,423.3 505.3,424.2 507.3,425.4 509,426.8 510.6,428.4 512.2,430.1 513.6,431.8 515,434.1 516.3,437.7 517.6,441.9 518.8,445.9 520,448.7 520,451.3 518.8,450.2 517.6,450.2 516.5,450.5 515.3,450.3 514.1,448.7 512.8,446.8 511.5,444.9 510.2,443 508.9,441.1 507.4,439.3 505.8,437.7 504,436.4 501.9,435.5 499.7,435 497.4,434.8 495.1,435.1 492.9,435.6 490.8,436.5 488.8,437.7 487.1,439.2 485.5,440.9 484.2,442.7 483,444.7 481.8,446.8 480.8,448.8 479.7,450.9 478.7,452.9 477.6,455 476.4,457 475.3,459 474.2,461.1 473.2,463.1 472.1,465.2 471.1,467.2 470,469.1 469,470.2 468,471.1 467,472.1 466,473.7Z"/><path d="M466,472.5 466.9,470 467.9,467.1 468.8,464.1 469.7,461.3 470.6,459 471.6,456.9 472.6,454.9 473.6,452.8 474.6,450.8 475.6,448.7 476.7,446.7 477.8,444.7 478.8,442.7 479.9,440.6 480.9,438.6 482,436.6 483.1,434.6 484.3,432.6 485.7,430.8 487.2,429.1 488.9,427.6 490.7,426.3 492.7,425.2 494.8,424.4 497,424 499.3,424 501.5,424.4 503.6,425.1 505.6,426.1 507.5,427.4 509.2,428.8 510.7,430.5 512.3,432.2 513.7,434 515.1,436.1 516.3,439.3 517.6,443 518.8,446.4 520,449 520,451 518.8,449.7 517.6,449.2 516.5,448.9 515.3,448.2 514,446.6 512.7,444.7 511.4,442.8 510.1,441 508.7,439.1 507.2,437.5 505.5,435.9 503.7,434.7 501.6,433.8 499.3,433.4 497,433.4 494.8,433.7 492.6,434.3 490.5,435.2 488.6,436.5 486.9,438 485.3,439.7 484,441.6 482.8,443.6 481.7,445.6 480.6,447.6 479.6,449.7 478.5,451.8 477.4,453.8 476.3,455.8 475.2,457.9 474.1,459.9 473.1,461.9 472,464 471,466.1 470,468 469,469.4 467.9,470.5 467,471.8 466,473.5Z"/><path d="M466,472.6 467,470.3 467.9,467.7 468.8,465 469.7,462.4 470.7,460.2 471.7,458.1 472.6,456.1 473.7,454 474.7,452 475.8,449.9 476.8,447.9 477.9,445.9 479,443.8 480,441.8 481.1,439.7 482.1,437.7 483.3,435.7 484.5,433.8 485.9,432 487.4,430.3 489.2,428.8 491.1,427.6 493.1,426.6 495.2,425.9 497.4,425.6 499.7,425.6 501.9,426.1 503.9,426.9 505.9,428 507.7,429.3 509.3,430.9 510.9,432.5 512.3,434.3 513.8,436.1 515.1,438.1 516.4,440.9 517.6,444 518.8,447 520,449.4 520,450.6 518.8,449.1 517.6,448.1 516.4,447.3 515.2,446.2 514,444.5 512.7,442.6 511.3,440.8 509.9,438.9 508.5,437.2 506.9,435.6 505.2,434.1 503.3,433 501.2,432.2 498.9,431.8 496.7,431.9 494.4,432.3 492.3,433 490.3,433.9 488.4,435.2 486.7,436.8 485.2,438.5 483.9,440.4 482.7,442.4 481.6,444.4 480.5,446.5 479.5,448.5 478.4,450.6 477.3,452.6 476.2,454.6 475.1,456.7 474,458.7 473,460.8 472,462.8 470.9,464.9 469.9,466.9 468.9,468.5 467.9,469.9 467,471.5 466,473.4Z"/><path d="M466,472.8 467,470.6 467.9,468.2 468.8,465.8 469.8,463.5 470.7,461.4 471.7,459.3 472.7,457.2 473.8,455.2 474.8,453.1 475.9,451.1 476.9,449.1 478,447 479.1,445 480.1,443 481.2,440.9 482.3,438.9 483.4,436.9 484.7,435 486.1,433.2 487.7,431.5 489.4,430.1 491.4,428.9 493.4,428 495.6,427.4 497.8,427.1 500,427.3 502.2,427.8 504.3,428.7 506.1,429.9 507.9,431.3 509.5,432.9 511,434.6 512.4,436.4 513.8,438.2 515.1,440.1 516.4,442.5 517.6,445 518.8,447.5 520,449.7 520,450.3 518.8,448.6 517.6,447.1 516.4,445.7 515.2,444.2 513.9,442.4 512.6,440.5 511.2,438.7 509.8,436.9 508.3,435.2 506.7,433.7 504.9,432.3 502.9,431.3 500.8,430.5 498.6,430.3 496.3,430.4 494.1,430.8 492,431.6 490,432.7 488.1,434 486.5,435.6 485,437.3 483.7,439.2 482.6,441.2 481.5,443.2 480.4,445.3 479.3,447.3 478.3,449.4 477.2,451.4 476.1,453.5 475,455.5 474,457.5 472.9,459.6 471.9,461.7 470.9,463.7 469.9,465.7 468.9,467.6 467.9,469.4 467,471.2 466,473.2Z"/></g>
<g fill="#000" fill-opacity="0.235" filter="url(#b1_5)"><path d="M500,428.6 503.1,428.5 506.2,426.1 509.2,423.6 512.1,423.6 514.6,425.8 516.6,428.5 518.3,431.3 519.8,434.3 521.3,437.2 523,440.1 524.6,443 526.2,446 527.9,448.8 529.7,451.6 532,454.1 534.7,456 537.6,457.6 540.5,459.2 543.5,460.8 546.2,460.7 548.1,458 549.9,455.2 551.7,452.4 553.4,449.6 555.2,446.7 556.9,443.8 558.5,440.9 560.1,438 561.6,435 563.1,432.1 564.5,429.1 566,426.1 567.5,423.1 568.9,420.1 570.4,417.1 571.9,414.1 573.3,411.1 575.1,414.7 576.4,418.4 576.5,423.6 576.1,436 576,448.1 575.4,452.1 574.6,456.1 573.8,460.1 572.9,464.1 571.9,468.1 570.9,472 569.7,475.9 568.4,479.8 567,483.6 565.5,487.4 563.9,491.2 562.1,494.9 560.2,498.4 557.9,501.8 555.4,505 552.6,508 549.2,509.7 545.9,507.4 543.1,504.4 540.5,501.3 537.8,498.2 535.3,495 532.8,491.8 530.4,488.5 528.2,485 526.2,481.5 524.2,477.9 522.2,474.4 520.1,470.8 518.2,467.3 516.2,463.7 514.2,460.1 512,456.7 509.4,451.6 506.3,444 503.2,436.9 500,432.8Z"/><path d="M500,428.9 503.1,429.2 506.2,427.4 509.2,425.7 512,426.1 514.5,428.4 516.6,431.1 518.3,434 519.8,437 521.4,440 523.1,443 524.7,445.9 526.4,448.9 528.1,451.8 530,454.6 532.2,457.1 534.9,459.2 537.8,460.8 540.7,462.6 543.6,464.3 546.4,464.4 548.4,461.8 550.3,458.9 552.2,456.1 553.9,453.2 555.7,450.3 557.4,447.4 559,444.4 560.6,441.4 562.1,438.4 563.6,435.3 565,432.3 566.4,429.2 567.9,426.1 569.3,423.1 570.7,420 572.2,417 573.5,413.9 575.1,416.3 576.4,418.8 576.5,423.2 576,434 575.8,444.7 575.1,448.7 574.3,452.6 573.3,456.5 572.4,460.4 571.4,464.2 570.3,468.1 569.1,471.9 567.8,475.7 566.4,479.5 564.9,483.2 563.2,486.8 561.5,490.4 559.5,494 557.3,497.3 554.9,500.5 552.2,503.4 548.9,505.2 545.7,503.1 542.9,500.2 540.2,497.3 537.5,494.3 535,491.3 532.5,488.1 530.2,484.8 528,481.4 526,478 524,474.5 522.1,471 520.1,467.5 518.2,464 516.2,460.4 514.2,457 512,453.7 509.3,449 506.3,442.3 503.2,436.1 500,432.4Z"/><path d="M500,429.2 503.1,429.8 506.2,428.8 509.2,427.8 512,428.6 514.5,431 516.5,433.7 518.2,436.7 519.8,439.8 521.4,442.8 523.2,445.8 524.8,448.8 526.5,451.8 528.3,454.8 530.2,457.6 532.5,460.2 535.2,462.3 538.1,464.1 540.9,466 543.8,467.8 546.6,468.1 548.8,465.5 550.7,462.7 552.6,459.8 554.4,456.9 556.2,453.9 557.9,450.9 559.6,447.9 561.1,444.9 562.6,441.8 564.1,438.6 565.5,435.5 566.9,432.4 568.3,429.2 569.7,426.1 571.1,423 572.4,419.8 573.7,416.7 575.2,417.9 576.4,419.2 576.5,422.7 575.9,432.1 575.5,441.3 574.8,445.2 573.9,449 572.9,452.8 571.9,456.6 570.8,460.4 569.7,464.1 568.5,467.9 567.2,471.6 565.8,475.3 564.2,478.9 562.6,482.5 560.8,486 558.9,489.5 556.8,492.8 554.4,495.9 551.8,498.8 548.7,500.7 545.5,498.8 542.7,496.1 539.9,493.3 537.3,490.4 534.7,487.5 532.2,484.4 529.9,481.2 527.8,477.9 525.9,474.4 523.9,471 522,467.6 520.1,464.1 518.2,460.7 516.3,457.2 514.2,453.8 512,450.6 509.3,446.4 506.3,440.7 503.2,435.4 500,432Z"/><path d="M500,429.5 503.1,430.4 506.2,430.1 509.2,429.9 512,431.1 514.5,433.5 516.5,436.4 518.2,439.4 519.9,442.5 521.5,445.6 523.2,448.6 525,451.7 526.7,454.7 528.5,457.8 530.4,460.7 532.7,463.3 535.4,465.5 538.3,467.4 541.1,469.4 544,471.2 546.9,471.7 549.1,469.3 551.1,466.4 553.1,463.5 555,460.6 556.7,457.5 558.4,454.5 560.1,451.4 561.6,448.3 563.1,445.1 564.6,441.9 566,438.7 567.3,435.5 568.7,432.3 570,429.1 571.4,425.9 572.7,422.7 573.9,419.4 575.3,419.5 576.4,419.6 576.5,422.2 575.8,430.1 575.3,437.9 574.4,441.7 573.5,445.4 572.5,449.1 571.4,452.8 570.3,456.5 569.1,460.2 567.9,463.9 566.6,467.5 565.1,471.1 563.6,474.6 561.9,478.2 560.2,481.6 558.3,485 556.2,488.2 553.9,491.3 551.4,494.3 548.4,496.2 545.2,494.6 542.4,492 539.7,489.3 537,486.6 534.4,483.8 531.9,480.7 529.7,477.6 527.7,474.3 525.7,470.9 523.8,467.5 521.9,464.2 520,460.8 518.2,457.4 516.3,454 514.3,450.7 512,447.6 509.3,443.9 506.3,439.1 503.2,434.6 500,431.6Z"/><path d="M500,429.8 503.1,431 506.2,431.5 509.2,432 512,433.6 514.4,436.1 516.5,439 518.2,442.1 519.9,445.3 521.6,448.4 523.3,451.5 525.1,454.6 526.8,457.7 528.6,460.7 530.6,463.7 533,466.4 535.6,468.7 538.5,470.7 541.3,472.8 544.2,474.7 547.1,475.4 549.4,473 551.5,470.2 553.6,467.2 555.5,464.2 557.3,461.1 559,458 560.6,454.9 562.2,451.7 563.7,448.5 565.1,445.2 566.4,441.9 567.8,438.7 569.1,435.4 570.4,432.1 571.7,428.8 572.9,425.5 574.1,422.2 575.4,421.1 576.4,420 576.5,421.7 575.7,428.2 575,434.5 574.1,438.2 573.1,441.8 572,445.5 570.9,449.1 569.7,452.7 568.5,456.3 567.3,459.8 565.9,463.4 564.5,466.9 562.9,470.4 561.3,473.8 559.6,477.2 557.7,480.5 555.6,483.7 553.4,486.8 550.9,489.7 548.1,491.8 545,490.3 542.2,487.8 539.4,485.3 536.7,482.7 534.1,480 531.7,477.1 529.5,473.9 527.5,470.7 525.6,467.4 523.7,464.1 521.9,460.8 520,457.4 518.2,454.1 516.3,450.8 514.3,447.5 512,444.6 509.3,441.3 506.3,437.4 503.1,433.8 500,431.2Z"/><path d="M500,430.2 503.1,431.7 506.3,432.8 509.2,434.1 512,436 514.4,438.7 516.4,441.7 518.2,444.8 519.9,448 521.6,451.2 523.4,454.3 525.2,457.5 527,460.6 528.8,463.7 530.9,466.7 533.2,469.4 535.9,471.8 538.7,474 541.5,476.2 544.4,478.2 547.3,479.1 549.8,476.8 552,473.9 554,470.9 556,467.9 557.8,464.8 559.5,461.6 561.1,458.4 562.7,455.1 564.2,451.8 565.6,448.5 566.9,445.2 568.2,441.8 569.5,438.5 570.8,435.1 572,431.7 573.2,428.4 574.3,425 575.5,422.7 576.4,420.4 576.5,421.2 575.6,426.2 574.8,431.1 573.8,434.7 572.7,438.3 571.6,441.8 570.4,445.3 569.2,448.8 568,452.3 566.7,455.8 565.3,459.3 563.8,462.7 562.3,466.1 560.7,469.5 558.9,472.8 557.1,476 555.1,479.2 552.9,482.2 550.5,485.1 547.8,487.3 544.8,486 541.9,483.7 539.2,481.2 536.4,478.8 533.8,476.2 531.4,473.4 529.3,470.3 527.3,467.1 525.4,463.9 523.6,460.6 521.8,457.4 520,454.1 518.2,450.8 516.4,447.5 514.4,444.4 512,441.5 509.3,438.7 506.3,435.8 503.1,433.1 500,430.8Z"/></g>
<g fill="#000" fill-opacity="0.037" filter="url(#b2_0)"><path d="M560,452.8 560.9,449.4 561.7,444.1 562.4,438.3 563,433.7 563.7,431.2 564.4,429.5 565.1,427.7 565.8,425.9 566.5,424.1 567.2,422.3 567.8,420.5 568.4,418.7 569,416.9 569.5,415.1 570,413.2 570.5,411.4 570.9,409.5 571.3,407.7 571.8,405.8 572.2,404 572.6,402.1 573,400.2 573.3,398.3 573.7,396.5 574,394.6 574.3,392.7 574.6,390.8 574.8,388.9 574.9,387 575,385.1 575,383.2 575,381.3 574.9,379.4 574.8,377.5 574.7,375.9 574.7,375.4 574.8,375.2 574.9,374.6 574.9,373.1 575.1,374.9 575.4,377.7 575.7,381.4 576.1,385.5 576.3,389.2 576.5,392 576.6,394.4 576.7,396.7 576.8,399.1 576.8,401.5 576.9,403.9 577,406.3 577,408.7 577,411.1 577,413.5 577,415.9 577,418.3 576.9,420.7 576.8,423.1 576.6,425.5 576.3,427.8 576,430.2 575.5,432.5 575,434.9 574.4,437.2 573.7,439.5 573,441.8 572.2,444 571.4,446.3 570.6,448.5 569.7,450.8 568.7,453 567.7,455.1 566.7,457.3 565.6,459.4 564.4,460.8 563.2,460 562,458.2 561,456.8 560,457.2Z"/><path d="M560,453.1 560.9,450 561.7,445.2 562.4,440.2 563.1,435.9 563.9,433.6 564.6,431.8 565.4,430 566.1,428.2 566.8,426.3 567.5,424.5 568.1,422.7 568.7,420.8 569.3,419 569.8,417.1 570.3,415.2 570.8,413.3 571.3,411.4 571.7,409.6 572.2,407.7 572.5,405.7 572.9,403.8 573.3,401.9 573.6,400 574,398.1 574.3,396.2 574.5,394.2 574.8,392.3 574.9,390.4 575.1,388.4 575.1,386.5 575.2,384.5 575.1,382.6 575,380.7 574.9,378.7 574.8,377 574.8,376.2 574.9,375.7 574.9,374.8 574.9,373.2 575.1,374.8 575.3,377.4 575.6,380.9 576,384.6 576.2,388.1 576.3,390.8 576.4,393.1 576.5,395.5 576.6,397.8 576.7,400.2 576.7,402.5 576.8,404.9 576.8,407.2 576.8,409.6 576.8,411.9 576.7,414.3 576.7,416.6 576.6,419 576.5,421.3 576.3,423.7 576,426 575.6,428.3 575.1,430.6 574.6,432.9 574,435.2 573.4,437.5 572.7,439.7 571.9,441.9 571.1,444.2 570.3,446.4 569.4,448.5 568.5,450.7 567.5,452.8 566.5,455 565.4,457.1 564.3,458.6 563.1,458.2 562,457 561,456.1 560,456.9Z"/><path d="M560,453.5 560.9,450.6 561.7,446.4 562.5,442 563.2,438.2 564,435.9 564.8,434.1 565.6,432.3 566.3,430.4 567.1,428.6 567.8,426.7 568.4,424.8 569,422.9 569.6,421 570.2,419.1 570.7,417.2 571.2,415.3 571.7,413.4 572.1,411.4 572.5,409.5 572.9,407.5 573.3,405.6 573.6,403.6 573.9,401.7 574.2,399.7 574.5,397.7 574.8,395.8 575,393.8 575.1,391.8 575.2,389.8 575.3,387.9 575.3,385.9 575.2,383.9 575.2,381.9 575.1,379.9 575,378.2 574.9,377.1 574.9,376.2 575,375.1 574.9,373.4 575.1,374.6 575.3,377.2 575.6,380.4 575.8,383.8 576.1,387 576.2,389.5 576.3,391.9 576.4,394.2 576.5,396.5 576.5,398.8 576.6,401.1 576.6,403.4 576.6,405.7 576.6,408 576.5,410.3 576.5,412.7 576.4,415 576.3,417.3 576.1,419.6 575.9,421.9 575.6,424.2 575.2,426.4 574.7,428.7 574.2,431 573.6,433.2 573,435.4 572.3,437.6 571.6,439.8 570.8,442 570,444.2 569.2,446.3 568.2,448.4 567.3,450.5 566.3,452.6 565.3,454.7 564.2,456.3 563.1,456.4 562,455.8 561,455.5 560,456.5Z"/><path d="M560,453.9 560.9,451.2 561.8,447.6 562.6,443.8 563.4,440.5 564.2,438.3 565,436.4 565.8,434.5 566.6,432.7 567.3,430.8 568,428.9 568.7,427 569.4,425.1 570,423.1 570.5,421.2 571.1,419.2 571.6,417.3 572.1,415.3 572.5,413.3 572.9,411.3 573.3,409.3 573.6,407.3 574,405.3 574.2,403.3 574.5,401.3 574.8,399.3 575,397.3 575.2,395.3 575.3,393.3 575.4,391.3 575.5,389.2 575.4,387.2 575.4,385.2 575.3,383.1 575.2,381.1 575.1,379.3 575,377.9 575,376.7 575,375.4 574.9,373.6 575.1,374.4 575.2,376.9 575.5,379.9 575.7,383 575.9,385.9 576.1,388.3 576.2,390.6 576.2,392.9 576.3,395.2 576.4,397.4 576.4,399.7 576.4,402 576.4,404.2 576.3,406.5 576.3,408.8 576.2,411 576.1,413.3 575.9,415.6 575.8,417.8 575.5,420.1 575.2,422.3 574.8,424.6 574.4,426.8 573.8,429 573.3,431.2 572.7,433.4 572,435.6 571.3,437.7 570.5,439.9 569.7,442 568.9,444.1 568,446.2 567.1,448.3 566.1,450.3 565.1,452.4 564.1,454 563,454.6 561.9,454.7 560.9,454.9 560,456.1Z"/><path d="M560,454.2 560.9,451.8 561.8,448.8 562.6,445.6 563.5,442.7 564.3,440.6 565.2,438.7 566,436.8 566.8,434.9 567.6,433 568.3,431.1 569,429.1 569.7,427.2 570.3,425.2 570.9,423.2 571.4,421.2 572,419.2 572.4,417.2 572.9,415.2 573.3,413.2 573.7,411.1 574,409.1 574.3,407 574.5,405 574.8,402.9 575,400.9 575.2,398.8 575.4,396.8 575.5,394.7 575.6,392.7 575.6,390.6 575.6,388.5 575.5,386.5 575.4,384.4 575.3,382.3 575.2,380.4 575.2,378.8 575.1,377.2 575,375.6 575,373.7 575,374.3 575.2,376.7 575.4,379.3 575.6,382.1 575.8,384.8 575.9,387.1 576,389.4 576.1,391.6 576.2,393.8 576.2,396.1 576.2,398.3 576.2,400.5 576.2,402.7 576.1,405 576,407.2 575.9,409.4 575.8,411.6 575.6,413.9 575.4,416.1 575.1,418.3 574.8,420.5 574.4,422.7 574,424.9 573.5,427 572.9,429.2 572.3,431.4 571.6,433.5 571,435.6 570.2,437.7 569.4,439.8 568.6,441.9 567.8,443.9 566.9,446 565.9,448 564.9,450 564,451.8 562.9,452.8 561.9,453.5 560.9,454.3 560,455.8Z"/><path d="M560,454.6 560.9,452.4 561.8,449.9 562.7,447.4 563.6,445 564.5,443 565.4,441 566.2,439.1 567,437.2 567.8,435.2 568.6,433.3 569.3,431.3 570,429.3 570.6,427.3 571.2,425.2 571.8,423.2 572.3,421.2 572.8,419.1 573.3,417.1 573.7,415 574,412.9 574.3,410.8 574.6,408.7 574.9,406.7 575.1,404.6 575.3,402.5 575.4,400.4 575.6,398.3 575.7,396.2 575.7,394.1 575.8,392 575.7,389.8 575.7,387.7 575.6,385.6 575.5,383.5 575.4,381.5 575.3,379.6 575.2,377.8 575.1,375.9 575,373.9 575,374.1 575.2,376.4 575.3,378.8 575.5,381.3 575.7,383.7 575.8,385.9 575.9,388.1 576,390.3 576,392.5 576.1,394.7 576.1,396.9 576,399.1 576,401.3 575.9,403.4 575.8,405.6 575.6,407.8 575.5,410 575.3,412.2 575.1,414.3 574.8,416.5 574.4,418.7 574,420.8 573.6,423 573.1,425.1 572.5,427.2 571.9,429.3 571.3,431.4 570.6,433.5 569.9,435.6 569.2,437.6 568.4,439.7 567.5,441.7 566.6,443.7 565.7,445.7 564.8,447.7 563.8,449.5 562.9,451 561.9,452.3 560.9,453.7 560,455.4Z"/></g>
<g fill="#000" fill-opacity="0.206" filter="url(#b1_2)"><path d="M587.4,570 587.6,571.7 587.7,573.4 587.7,575.2 587.6,576.9 587.5,578.7 587.3,580.4 587.1,582.2 586.9,583.9 586.8,585.7 586.8,587.4 586.9,589.1 587.1,590.9 587.2,592.6 587.3,594.4 587.5,596.1 587.6,597.8 587.8,599.6 588,601.3 588.1,603 588.3,604.8 588.4,606.5 588.6,608.2 588.7,610 588.8,611.7 588.9,613.4 589.1,615.2 589.2,616.9 589.4,618.7 589.7,620.4 589.9,622.1 590.2,623.8 590.6,625.5 591,627.2 591.5,628.9 592.3,630.4 594.1,631.8 597.4,632.8 600.6,634 602.6,635.3 604.4,635.2 604.3,633.7 605.2,632 606.2,630.3 606.2,628.6 605.6,627 604.9,625.4 604.2,623.7 603.6,622.1 602.9,620.5 602.3,618.9 601.7,617.2 601.2,615.6 600.6,613.9 600.1,612.2 599.6,610.6 599.1,608.9 598.6,607.2 598.2,605.5 597.7,603.8 597.2,602.2 596.7,600.5 596.3,598.8 595.8,597.1 595.4,595.4 595,593.7 594.5,592 594.1,590.3 593.7,588.6 593.2,587 592.8,585.3 592.2,583.6 591.6,581.9 590.9,580.2 590.2,578.5 589.6,576.8 589.1,575.1 588.6,573.4 588.2,571.7 587.9,570Z"/><path d="M587.4,570 587.7,571.7 587.8,573.4 587.8,575.2 587.8,576.9 587.7,578.6 587.6,580.4 587.5,582.1 587.4,583.9 587.3,585.6 587.4,587.4 587.6,589.1 587.7,590.8 587.9,592.6 588,594.3 588.2,596 588.4,597.8 588.6,599.5 588.8,601.2 589,602.9 589.1,604.7 589.3,606.4 589.5,608.1 589.6,609.9 589.8,611.6 590,613.3 590.1,615.1 590.3,616.8 590.6,618.5 590.8,620.2 591.1,622 591.4,623.7 591.8,625.4 592.3,627 592.8,628.7 593.5,630.3 595.2,631.6 598.1,632.8 601,633.9 602.8,635.3 604.3,635.2 604,633.7 604.6,632.1 605.3,630.4 605.2,628.7 604.5,627.1 603.8,625.5 603.2,623.9 602.6,622.3 601.9,620.6 601.4,619 600.8,617.3 600.3,615.7 599.8,614 599.3,612.3 598.8,610.6 598.3,609 597.9,607.3 597.4,605.6 597,603.9 596.5,602.2 596.1,600.5 595.7,598.8 595.2,597.2 594.8,595.5 594.4,593.8 594,592.1 593.6,590.4 593.2,588.7 592.7,587 592.3,585.3 591.8,583.6 591.2,581.9 590.6,580.2 590,578.5 589.5,576.8 589,575.1 588.5,573.4 588.1,571.7 587.8,570Z"/><path d="M587.5,570 587.7,571.7 587.9,573.4 587.9,575.2 588,576.9 588,578.6 587.9,580.4 587.9,582.1 587.9,583.8 587.9,585.6 588,587.3 588.2,589 588.3,590.8 588.5,592.5 588.7,594.2 588.9,596 589.1,597.7 589.4,599.4 589.6,601.1 589.8,602.9 590,604.6 590.2,606.3 590.4,608 590.6,609.8 590.8,611.5 591,613.2 591.2,614.9 591.4,616.7 591.7,618.4 592,620.1 592.3,621.8 592.7,623.5 593.1,625.2 593.5,626.9 594.1,628.5 594.8,630.1 596.3,631.5 598.8,632.7 601.3,633.9 602.9,635.3 604.1,635.2 603.7,633.7 604,632.2 604.4,630.5 604.1,628.9 603.5,627.3 602.8,625.6 602.2,624 601.6,622.4 601,620.7 600.4,619.1 599.9,617.4 599.4,615.8 598.9,614.1 598.4,612.4 598,610.7 597.6,609 597.1,607.4 596.7,605.7 596.3,604 595.8,602.3 595.4,600.6 595,598.9 594.6,597.2 594.2,595.5 593.8,593.8 593.4,592.1 593,590.4 592.6,588.7 592.3,587 591.9,585.3 591.4,583.6 590.9,581.9 590.3,580.2 589.8,578.5 589.3,576.8 588.9,575.1 588.5,573.4 588.1,571.7 587.8,570Z"/><path d="M587.5,570 587.8,571.7 587.9,573.4 588.1,575.2 588.2,576.9 588.2,578.6 588.3,580.3 588.3,582.1 588.3,583.8 588.4,585.5 588.6,587.3 588.8,589 589,590.7 589.2,592.5 589.4,594.2 589.7,595.9 589.9,597.6 590.1,599.3 590.4,601.1 590.6,602.8 590.9,604.5 591.1,606.2 591.3,608 591.6,609.7 591.8,611.4 592,613.1 592.3,614.8 592.5,616.5 592.8,618.3 593.1,620 593.5,621.7 593.9,623.4 594.3,625 594.8,626.7 595.4,628.3 596.1,629.9 597.4,631.4 599.5,632.6 601.6,633.9 603.1,635.2 604,635.2 603.5,633.8 603.4,632.2 603.5,630.6 603.1,629 602.4,627.4 601.8,625.8 601.1,624.1 600.6,622.5 600,620.9 599.5,619.2 599,617.5 598.5,615.9 598,614.2 597.6,612.5 597.2,610.8 596.8,609.1 596.4,607.4 596,605.7 595.6,604.1 595.2,602.4 594.8,600.7 594.4,599 594,597.3 593.6,595.6 593.2,593.9 592.9,592.2 592.5,590.5 592.1,588.8 591.8,587.1 591.4,585.3 591,583.6 590.5,582 590.1,580.3 589.6,578.5 589.2,576.8 588.8,575.1 588.4,573.4 588.1,571.7 587.8,570Z"/><path d="M587.6,570 587.8,571.7 588,573.4 588.2,575.2 588.4,576.9 588.5,578.6 588.6,580.3 588.7,582.1 588.8,583.8 589,585.5 589.2,587.2 589.4,589 589.6,590.7 589.9,592.4 590.1,594.1 590.4,595.8 590.6,597.6 590.9,599.3 591.2,601 591.5,602.7 591.7,604.4 592,606.1 592.2,607.9 592.5,609.6 592.8,611.3 593,613 593.3,614.7 593.6,616.4 593.9,618.1 594.3,619.8 594.7,621.5 595.1,623.2 595.6,624.9 596.1,626.5 596.7,628.2 597.4,629.8 598.5,631.2 600.2,632.6 602,633.9 603.3,635.2 603.9,635.2 603.2,633.8 602.8,632.3 602.6,630.7 602,629.1 601.4,627.5 600.7,625.9 600.1,624.3 599.6,622.6 599,621 598.5,619.3 598,617.6 597.6,616 597.2,614.3 596.8,612.6 596.4,610.9 596,609.2 595.6,607.5 595.2,605.8 594.9,604.1 594.5,602.4 594.1,600.7 593.7,599 593.4,597.3 593,595.6 592.7,593.9 592.3,592.2 592,590.5 591.6,588.8 591.3,587.1 591,585.4 590.6,583.7 590.2,582 589.8,580.3 589.4,578.6 589,576.9 588.7,575.1 588.3,573.4 588,571.7 587.7,570Z"/><path d="M587.6,570 587.9,571.7 588.1,573.4 588.3,575.2 588.5,576.9 588.7,578.6 588.9,580.3 589.1,582 589.3,583.8 589.5,585.5 589.8,587.2 590,588.9 590.3,590.6 590.5,592.3 590.8,594.1 591.1,595.8 591.4,597.5 591.7,599.2 592,600.9 592.3,602.6 592.6,604.3 592.9,606.1 593.2,607.8 593.5,609.5 593.8,611.2 594.1,612.9 594.4,614.6 594.7,616.3 595.1,618 595.5,619.7 595.9,621.4 596.3,623 596.8,624.7 597.4,626.4 598,628 598.7,629.6 599.7,631.1 601,632.5 602.3,633.8 603.4,635.2 603.7,635.2 602.9,633.8 602.3,632.3 601.7,630.8 601,629.3 600.3,627.7 599.7,626.1 599.1,624.4 598.6,622.8 598,621.1 597.6,619.4 597.1,617.8 596.7,616.1 596.3,614.4 595.9,612.7 595.6,611 595.2,609.3 594.9,607.6 594.5,605.9 594.2,604.2 593.8,602.5 593.4,600.8 593.1,599.1 592.8,597.4 592.4,595.7 592.1,594 591.8,592.2 591.5,590.5 591.1,588.8 590.8,587.1 590.5,585.4 590.2,583.7 589.9,582 589.5,580.3 589.2,578.6 588.9,576.9 588.6,575.1 588.3,573.4 588,571.7 587.7,570Z"/></g>
<g fill="#000" fill-opacity="0.069" filter="url(#b1_5)"><path d="M584.7,531.3 585.1,533 585.5,534.7 585.8,536.3 586.3,537.8 586.7,539.4 587.1,540.9 587.5,542.6 587.9,544.4 588.2,546.2 588.6,547.9 588.9,549.7 589.3,551.5 589.7,553.3 590,555.1 590.4,556.9 590.7,558.7 591.1,560.5 591.5,562.3 591.8,564.1 592.2,565.9 592.5,567.7 592.9,569.5 593.3,571.3 593.6,573.1 594,574.9 594.3,576.7 594.7,578.5 595.1,580.3 595.4,582.1 595.8,583.8 596.1,585.6 596.5,587.5 596.8,589.4 597,591.4 597.3,593.5 597.6,595.5 598,597.5 598.3,599.4 598.7,601.3 598.6,602 598.1,600.4 597.5,599 596.8,597.7 596.1,596.6 595.3,595.4 594.6,594.2 593.9,592.8 593.3,591.1 592.8,589.3 592.4,587.5 592,585.7 591.6,584 591.2,582.2 590.9,580.4 590.5,578.6 590.2,576.7 589.9,574.9 589.6,573.1 589.2,571.3 588.9,569.5 588.6,567.7 588.3,565.9 588,564.1 587.8,562.3 587.5,560.5 587.2,558.6 587,556.8 586.7,555 586.5,553.2 586.2,551.4 585.9,549.6 585.7,547.6 585.6,545.5 585.5,543.2 585.4,540.8 585.3,538.4 585.1,536.1 584.9,534 584.6,532Z"/><path d="M584.7,531.3 585.1,533.1 585.4,534.7 585.8,536.4 586.2,538 586.6,539.6 587,541.2 587.4,542.9 587.8,544.6 588.1,546.4 588.5,548.2 588.8,550 589.2,551.8 589.5,553.6 589.9,555.4 590.3,557.2 590.6,559 591,560.8 591.3,562.6 591.7,564.4 592,566.2 592.4,568 592.7,569.8 593.1,571.6 593.5,573.4 593.8,575.1 594.2,576.9 594.5,578.7 594.9,580.5 595.3,582.3 595.6,584.1 596,585.9 596.3,587.7 596.6,589.7 596.9,591.6 597.3,593.6 597.6,595.6 597.9,597.6 598.3,599.5 598.7,601.3 598.6,601.9 598.1,600.3 597.6,598.8 596.9,597.5 596.2,596.2 595.5,595 594.8,593.6 594.2,592.1 593.6,590.5 593.2,588.7 592.8,586.9 592.4,585.1 592,583.3 591.6,581.5 591.2,579.7 590.9,577.9 590.6,576.1 590.2,574.3 589.9,572.5 589.6,570.7 589.3,568.9 588.9,567.1 588.6,565.3 588.4,563.5 588.1,561.6 587.8,559.8 587.5,558 587.2,556.2 587,554.4 586.7,552.6 586.4,550.8 586.2,548.9 585.9,547.1 585.7,545 585.6,542.8 585.5,540.5 585.3,538.2 585.1,536 584.9,533.9 584.6,531.9Z"/><path d="M584.7,531.4 585.1,533.1 585.4,534.8 585.8,536.5 586.2,538.1 586.6,539.7 586.9,541.4 587.3,543.1 587.7,544.9 588,546.7 588.4,548.5 588.7,550.3 589.1,552.1 589.4,553.9 589.8,555.7 590.1,557.5 590.5,559.3 590.8,561.1 591.2,562.8 591.5,564.6 591.9,566.4 592.2,568.2 592.6,570 593,571.8 593.3,573.6 593.7,575.4 594,577.2 594.4,579 594.7,580.8 595.1,582.6 595.5,584.4 595.8,586.2 596.2,588 596.5,589.9 596.9,591.8 597.2,593.8 597.5,595.7 597.9,597.7 598.3,599.5 598.7,601.4 598.6,601.9 598.2,600.2 597.6,598.6 597,597.2 596.4,595.9 595.7,594.5 595.1,593.1 594.5,591.5 594,589.8 593.5,588 593.1,586.3 592.7,584.5 592.3,582.7 592,580.9 591.6,579.1 591.3,577.3 590.9,575.5 590.6,573.7 590.2,571.9 589.9,570.1 589.6,568.3 589.3,566.4 589,564.6 588.7,562.8 588.4,561 588.1,559.2 587.8,557.4 587.5,555.6 587.2,553.8 586.9,552 586.7,550.2 586.4,548.3 586.1,546.5 585.9,544.4 585.8,542.3 585.6,540.1 585.4,537.9 585.2,535.8 584.9,533.7 584.6,531.9Z"/><path d="M584.7,531.4 585.1,533.2 585.4,534.9 585.8,536.6 586.1,538.3 586.5,539.9 586.9,541.6 587.2,543.4 587.6,545.1 587.9,546.9 588.3,548.7 588.6,550.5 589,552.3 589.3,554.1 589.6,555.9 590,557.7 590.3,559.5 590.7,561.3 591,563.1 591.4,564.9 591.7,566.7 592.1,568.5 592.4,570.3 592.8,572.1 593.2,573.9 593.5,575.7 593.9,577.5 594.2,579.3 594.6,581.1 595,582.9 595.3,584.7 595.7,586.5 596.1,588.3 596.4,590.1 596.8,592 597.1,593.9 597.5,595.8 597.9,597.7 598.3,599.6 598.7,601.4 598.6,601.8 598.2,600.1 597.7,598.5 597.1,597 596.5,595.5 595.9,594 595.3,592.5 594.8,590.9 594.3,589.2 593.9,587.4 593.5,585.6 593.1,583.8 592.7,582 592.3,580.2 592,578.4 591.6,576.6 591.3,574.8 590.9,573 590.6,571.2 590.3,569.4 589.9,567.6 589.6,565.8 589.3,564 589,562.2 588.7,560.4 588.4,558.6 588.1,556.8 587.8,555 587.5,553.2 587.2,551.4 586.9,549.5 586.6,547.7 586.3,545.9 586.1,543.9 585.9,541.9 585.7,539.8 585.5,537.7 585.2,535.6 584.9,533.6 584.6,531.8Z"/><path d="M584.7,531.4 585,533.2 585.4,535 585.7,536.7 586.1,538.4 586.4,540.1 586.8,541.9 587.1,543.6 587.5,545.4 587.8,547.2 588.2,549 588.5,550.8 588.8,552.6 589.2,554.4 589.5,556.2 589.9,558 590.2,559.8 590.5,561.6 590.9,563.4 591.2,565.2 591.6,567 591.9,568.8 592.3,570.6 592.6,572.4 593,574.2 593.4,576 593.7,577.8 594.1,579.6 594.4,581.4 594.8,583.1 595.2,584.9 595.6,586.7 595.9,588.5 596.3,590.4 596.7,592.2 597.1,594.1 597.5,596 597.9,597.8 598.3,599.6 598.7,601.4 598.7,601.7 598.2,599.9 597.7,598.3 597.2,596.7 596.7,595.1 596.1,593.6 595.6,592 595.1,590.3 594.6,588.5 594.2,586.8 593.8,585 593.4,583.2 593,581.4 592.7,579.6 592.3,577.8 592,576 591.6,574.2 591.3,572.4 590.9,570.6 590.6,568.8 590.3,567 589.9,565.2 589.6,563.4 589.3,561.6 589,559.8 588.7,558 588.4,556.2 588.1,554.4 587.8,552.5 587.4,550.7 587.1,548.9 586.8,547.1 586.5,545.3 586.3,543.4 586,541.4 585.8,539.4 585.5,537.4 585.3,535.4 585,533.5 584.7,531.7Z"/><path d="M584.7,531.5 585,533.3 585.4,535 585.7,536.8 586,538.6 586.4,540.3 586.7,542.1 587.1,543.9 587.4,545.7 587.7,547.5 588.1,549.3 588.4,551.1 588.7,552.9 589.1,554.7 589.4,556.5 589.7,558.3 590.1,560.1 590.4,561.9 590.7,563.7 591.1,565.5 591.4,567.3 591.8,569.1 592.1,570.9 592.5,572.6 592.8,574.4 593.2,576.2 593.6,578 593.9,579.8 594.3,581.6 594.7,583.4 595,585.2 595.4,587 595.8,588.8 596.2,590.6 596.6,592.4 597,594.2 597.4,596.1 597.8,597.9 598.3,599.7 598.7,601.5 598.7,601.6 598.2,599.8 597.8,598.1 597.3,596.4 596.8,594.8 596.3,593.1 595.8,591.4 595.4,589.7 595,587.9 594.5,586.1 594.2,584.3 593.8,582.5 593.4,580.7 593,579 592.7,577.2 592.3,575.4 592,573.6 591.6,571.8 591.3,570 591,568.2 590.6,566.4 590.3,564.6 589.9,562.8 589.6,561 589.3,559.2 589,557.3 588.6,555.5 588.3,553.7 588,551.9 587.7,550.1 587.4,548.3 587.1,546.5 586.8,544.7 586.5,542.8 586.2,541 585.9,539.1 585.6,537.2 585.3,535.3 585,533.4 584.7,531.6Z"/></g>
<path d="M371.9,636.9 371.9,635.8 371.8,634.4 371.8,632.7 371.8,630.8 371.9,628.7 371.9,626.6 371.9,624.4 371.9,622.3 372,620.3 372,618.4 372.1,616.6 372.1,614.9 372.2,613.2 372.2,611.5 372.3,609.9 372.4,608.2 372.5,606.5 372.6,604.9 372.7,603.2 372.8,601.5 373,599.8 373.2,598 373.3,596.3 373.5,594.5 373.8,592.7 374,590.9 374.2,589.2 374.5,587.5 374.7,585.9 375,584.3 375.4,582.9 375.8,581.5 376.2,580.2 376.6,578.9 377,577.7 377.4,576.6 377.8,575.6 378.2,574.5 378.6,573.5 378.9,572.6 379.3,571.6 379.8,570.6 380.2,569.6 380.6,568.7 381,567.8 381.4,566.9 381.8,566 382.2,565.2 382.6,564.4 383,563.5 383.5,562.7 383.9,561.9 384.4,561 384.8,560.2 385.3,559.4 385.7,558.6 386.1,557.9 386.5,557.2 386.9,556.6 387.1,556 387.4,555.7 387.6,555.3 387.8,554.8 388,554.2 388.2,553.6 388.5,553 388.9,552.2 389.4,551.4 390.1,550.5 391.1,549.7 392.3,549.2 393.5,549 394.5,549.1 395.3,549.3 395.9,549.5 396.4,549.7 396.9,549.9 397.3,550.1 397.6,550.2 398,550.3 398.6,550.3 399.3,550.3 400,550.2 400.8,550.2 401.5,550.2 402.3,550.1 403,550 403.8,549.9 404.5,549.8 405.2,549.7 405.9,549.5 406.6,549.3 407.4,549 408.1,548.8 408.9,548.5 409.6,548.2 410.4,547.9 411.2,547.5 412,547.2 412.8,546.9 413.5,546.6 414.3,546.3 415,546 415.8,545.7 416.5,545.4 417.2,545.1 417.8,544.8 418.5,544.5 419.2,544.1 419.8,543.8 420.4,543.4 421.1,542.9 421.7,542.5 422.3,542 422.9,541.5 423.6,541 424.2,540.5 424.8,539.9 425.5,539.4 426.1,538.9 426.7,538.4 427.3,537.9 427.9,537.4 428.4,536.9 429,536.4 429.5,536 430.1,535.5 430.6,535 431.1,534.5 431.7,534 432.2,533.5 432.8,533 433.3,532.5 433.8,532.1 434.2,531.7 434.7,531.3 435.1,530.9 435.4,530.4 435.8,530 436.1,529.6 436.5,529.1 436.9,528.5 437.2,527.9 437.6,527.3 438,526.6 438.4,525.9 438.9,525.2 439.3,524.5 439.7,523.7 440.2,522.9 440.6,522.1 441.1,521.3 441.5,520.5 441.9,519.7 442.4,519 442.8,518.2 443.2,517.4 443.6,516.5 444,515.6 444.4,514.7 444.8,513.8 445.3,512.7 445.7,511.6 446.1,510.4 446.6,509.2 447,507.9 447.5,506.7 448,505.3 448.5,504 449.1,502.7 449.6,501.4 450.2,500.2 450.8,499 451.3,497.7 451.9,496.5 452.5,495.3 453.1,494.1 453.6,492.9 454.2,491.7 454.8,490.5 455.4,489.2 456,488 456.6,486.7 457.2,485.4 457.8,484.2 458.4,482.9 459,481.7 459.5,480.5 460.1,479.3 460.6,478.1 461.1,476.9 461.6,475.8 462.1,474.6 462.5,473.5 463,472.3 463.5,471.1 463.9,469.9 464.4,468.7 464.9,467.4 465.5,466.1 466.1,464.8 466.6,463.5 467.3,462.1 467.9,460.7 468.5,459.3 469.1,457.9 469.7,456.5 470.3,455.2 470.9,453.8 471.5,452.5 472.1,451.3 472.7,450 473.3,448.7 473.9,447.5 474.4,446.3 475,445 475.5,443.8 476.1,442.7 476.6,441.5 477.2,440.5 477.6,439.5 478.1,438.5 478.5,437.5 479,436.5 479.4,435.5 479.9,434.4 480.5,433.3 481.1,432.3 481.8,431.2 482.6,430.1 483.6,429.1 484.5,428.3 485.5,427.5 486.6,426.9 487.5,426.4 488.5,426 489.4,425.7 490.2,425.5 490.9,425.3 491.6,425.1 492.5,424.9 493.5,424.7 494.4,424.6 495.3,424.6 496.2,424.6 497.1,424.6 497.9,424.7 498.7,424.8 499.5,424.9 500.2,425 501,425.2 501.8,425.4 502.6,425.6 503.3,425.8 504.1,426.1 504.9,426.4 505.6,426.8 506.4,427.1 507.1,427.5 507.8,427.9 508.5,428.3 509.1,428.8 509.7,429.2 510.3,429.7 510.9,430.2 511.5,430.8 512.1,431.4 512.7,432 513.3,432.6 513.9,433.2 514.4,433.9 515.1,434.6 515.7,435.4 516.4,436.3 517.1,437.2 517.8,438.1 518.6,439.1 519.3,440.2 520,441.3 520.7,442.5 521.4,443.8 522,445 522.6,446.3 523.1,447.7 523.7,449 524.2,450.3 524.7,451.6 525.2,452.8 525.7,454 526.2,455.1 526.7,456.3 527.2,457.4 527.7,458.6 528.2,459.7 528.7,460.9 529.2,462 529.7,463 530.2,464.1 530.7,465.1 531.2,466.1 531.7,467 532.2,468 532.7,468.9 533.1,469.8 533.6,470.6 534,471.4 534.5,472.1 534.9,472.8 535.4,473.5 535.9,474.1 536.4,474.7 536.9,475.3 537.5,475.8 538.1,476.4 538.8,476.9 539.4,477.5 540.1,478 540.7,478.4 541.3,478.9 542,479.3 542.6,479.8 543.2,480.3 543.7,480.8 544.1,481.1 544.3,481.3 544.3,481.3 544.1,481.3 543.9,481.3 543.7,481.4 543.7,481.4 544,481.3 544.4,481 545,480.5 545.6,480 546.2,479.3 546.9,478.5 547.7,477.6 548.4,476.6 549.2,475.6 549.9,474.6 550.7,473.5 551.4,472.3 552.2,471 553.1,469.7 553.9,468.3 554.7,466.8 555.5,465.4 556.3,463.9 557.1,462.4 557.9,460.9 558.6,459.4 559.3,457.9 560,456.3 560.7,454.7 561.4,453 562.1,451.4 562.8,449.8 563.4,448.2 564.1,446.6 564.7,445.1 565.2,443.6 565.8,442.1 566.3,440.6 566.7,439.2 567.2,437.7 567.7,436.3 568.1,434.9 568.5,433.5 569,432.3 569.4,431.1 569.7,429.9 570,428.7 570.4,427.5 570.7,426.2 571,425.1 571.3,423.9 571.6,422.9 572.1,421.9 573,420.6 574.7,419.7 575.1,419.6 575.3,419.5 577.1,419.5 579.2,420.8 580,422.2 580.4,423.4 580.7,424.8 580.9,426.7 581.2,429.2 581.5,432.4 581.8,436.7 582.1,442.1 582.4,448.3 582.8,455.1 583.1,462.3 583.5,469.5 583.8,476.7 584.2,483.4 584.5,489.5 584.8,494.8 585.1,499.2 585.4,503.1 585.7,506.6 585.9,509.8 586.2,512.7 586.4,515.5 586.7,518.2 587,520.9 587.3,523.8 587.7,526.8 588.1,530.1 588.5,533.3 588.9,536.6 589.4,539.8 589.9,543.1 590.3,546.3 590.8,549.5 591.3,552.7 591.8,555.8 592.3,558.9 592.8,561.9 593.3,564.9 593.8,567.9 594.3,570.9 594.9,573.8 595.4,576.6 595.9,579.3 596.5,581.9 597.1,584.4 597.6,586.7 598.1,588.8 598.6,590.8 599.1,592.7 599.7,594.5 600.2,596.3 600.8,598 601.4,599.8 602,601.7 602.7,603.6 603.3,605.6 603.9,607.6 604.5,609.7 605.1,611.8 605.7,614 606.4,616.1 606.9,618.1 607.5,620.1 608.1,621.9 608.6,623.6 609.1,625.1 609.5,626.4 609.9,627.7 610.3,628.8 610.6,629.8 610.9,630.7 611.2,631.5 611.5,632.1 611.7,632.7 612,633.2 612.3,633.7 612.5,634.2 612.7,634.4 612.7,634.5 612.4,634.3 612.1,634.3 611.9,634.3 612.1,634.3 612.6,634.4 613.3,634.5 614.2,634.6 615.2,634.7 616.6,634.8 618.2,634.8 620,634.8 621.8,634.8 623.7,634.8 625.4,634.8 626.9,634.8 628.2,634.8 629.2,634.9 629.2,639.5 628.3,639.6 627,639.6 625.4,639.7 623.7,639.7 621.9,639.8 620,639.8 618.2,639.8 616.5,639.9 615,639.8 613.8,639.8 613,639.8 612.3,639.8 611.7,639.8 611.1,639.8 610.4,639.7 609.5,639.4 608.8,638.9 608.2,638.4 607.8,638 607.3,637.5 606.8,636.8 606.2,636.1 605.7,635.3 605.2,634.5 604.6,633.5 604.1,632.6 603.6,631.5 603.1,630.3 602.5,629.1 601.9,627.7 601.3,626.2 600.6,624.4 600,622.6 599.3,620.6 598.5,618.6 597.8,616.5 597.1,614.4 596.4,612.3 595.6,610.3 594.9,608.4 594.2,606.7 593.5,605 592.7,603.3 591.9,601.6 591.1,599.8 590.3,598 589.5,596 588.7,594 587.9,591.7 587.2,589.3 586.6,586.7 586.1,584.1 585.6,581.3 585.1,578.4 584.6,575.5 584.2,572.5 583.7,569.5 583.3,566.4 582.9,563.4 582.5,560.3 582.1,557.2 581.7,554.1 581.3,550.8 580.9,547.6 580.5,544.3 580.2,541 579.8,537.7 579.5,534.3 579.2,531 578.9,527.8 578.6,524.6 578.4,521.7 578.2,518.9 578,516.2 577.8,513.4 577.6,510.4 577.4,507.2 577.2,503.6 577,499.7 576.8,495.2 576.5,490 576.2,483.8 575.9,477 575.6,469.9 575.3,462.6 575,455.5 574.7,448.7 574.4,442.5 574.2,437.2 573.9,433 573.7,429.8 573.5,427.5 573.4,425.8 573.2,424.9 573.2,424.6 573.6,425.2 575.4,426.3 576.7,426.3 576.4,426.4 576.3,426.3 577.4,425.6 577.7,425.2 577.6,425.4 577.2,426.1 576.9,427 576.5,428 576,429.2 575.6,430.5 575.1,431.7 574.6,432.9 574.2,434.1 573.7,435.3 573.2,436.6 572.7,438 572.2,439.4 571.7,440.9 571.1,442.4 570.6,443.9 570,445.4 569.3,446.9 568.7,448.5 568,450 567.4,451.7 566.7,453.3 565.9,455 565.2,456.6 564.4,458.3 563.7,459.9 562.9,461.5 562.1,463.1 561.4,464.6 560.6,466.2 559.8,467.7 559,469.2 558.1,470.7 557.3,472.2 556.5,473.6 555.7,474.9 554.9,476.2 554.1,477.4 553.3,478.5 552.6,479.7 551.9,480.7 551.1,481.8 550.4,482.7 549.6,483.7 548.9,484.5 548.1,485.3 547.2,486 546.3,486.6 545.2,487 544,487.3 542.8,487.2 541.8,486.8 540.9,486.4 540.3,486 539.8,485.6 539.3,485.2 538.9,484.9 538.4,484.7 537.8,484.3 537.1,483.9 536.3,483.4 535.5,482.9 534.7,482.4 533.9,481.8 533,481.1 532.2,480.4 531.3,479.7 530.5,478.9 529.8,478.1 529.1,477.2 528.4,476.4 527.7,475.5 527.1,474.6 526.5,473.7 525.9,472.8 525.4,471.8 524.8,470.9 524.2,469.9 523.6,468.9 523,467.9 522.4,466.8 521.8,465.7 521.2,464.6 520.6,463.4 520,462.3 519.4,461.2 518.8,460 518.2,458.9 517.6,457.7 517,456.4 516.4,455.1 515.8,453.9 515.3,452.7 514.7,451.5 514.1,450.3 513.6,449.3 513,448.3 512.5,447.5 511.9,446.7 511.3,446 510.7,445.2 510.1,444.5 509.4,443.8 508.7,443.2 508.1,442.5 507.4,441.9 506.8,441.3 506.1,440.8 505.6,440.3 505.1,439.9 504.7,439.5 504.3,439.2 504,439 503.6,438.8 503.3,438.6 503,438.4 502.6,438.3 502.2,438.1 501.8,437.9 501.4,437.8 501,437.6 500.7,437.5 500.2,437.4 499.8,437.3 499.4,437.2 499,437.1 498.6,437.1 498.2,437 497.7,436.9 497.3,436.9 496.8,436.8 496.4,436.8 496,436.8 495.6,436.8 495.3,436.8 495,436.8 494.7,436.9 494.4,436.9 493.9,437 493.4,437.2 493,437.3 492.6,437.3 492.4,437.4 492.1,437.5 492,437.6 491.8,437.7 491.7,437.7 491.6,437.9 491.4,438.1 491.1,438.5 490.8,439 490.5,439.6 490.1,440.4 489.7,441.3 489.3,442.3 488.8,443.3 488.4,444.4 487.8,445.5 487.3,446.6 486.8,447.7 486.3,448.8 485.8,450 485.3,451.2 484.7,452.4 484.2,453.7 483.6,454.9 483,456.2 482.5,457.5 481.9,458.8 481.3,460.1 480.7,461.4 480.1,462.8 479.4,464.2 478.8,465.6 478.2,466.9 477.6,468.3 477.1,469.6 476.5,470.9 476,472.1 475.5,473.3 475,474.4 474.5,475.6 474,476.8 473.5,478 473,479.2 472.5,480.4 472,481.6 471.4,482.9 470.8,484.2 470.2,485.5 469.6,486.8 468.9,488 468.3,489.3 467.7,490.6 467.1,491.8 466.4,493.1 465.8,494.3 465.2,495.5 464.6,496.8 464,498 463.4,499.2 462.8,500.4 462.2,501.5 461.6,502.7 461,503.9 460.4,505 459.8,506.2 459.3,507.3 458.8,508.4 458.3,509.6 457.8,510.8 457.2,512 456.7,513.2 456.2,514.5 455.7,515.7 455.1,516.9 454.6,518.1 454,519.3 453.4,520.4 452.8,521.4 452.3,522.4 451.7,523.3 451.1,524.2 450.6,525 450,525.8 449.5,526.6 449,527.4 448.4,528.1 447.9,528.9 447.4,529.6 446.8,530.4 446.3,531.1 445.7,531.9 445.2,532.6 444.6,533.3 444,534.1 443.3,534.8 442.7,535.4 442,536.1 441.3,536.7 440.6,537.2 439.9,537.7 439.3,538.1 438.7,538.5 438.1,538.9 437.5,539.3 436.9,539.6 436.3,540 435.7,540.4 435.1,540.8 434.5,541.2 433.8,541.6 433.2,542 432.5,542.4 431.9,542.9 431.2,543.3 430.5,543.7 429.9,544.1 429.2,544.5 428.6,545 427.9,545.4 427.2,545.9 426.4,546.4 425.7,546.8 424.9,547.3 424.2,547.8 423.4,548.2 422.6,548.6 421.8,549.1 421,549.5 420.2,549.8 419.5,550.2 418.7,550.5 417.9,550.9 417.1,551.2 416.4,551.5 415.6,551.8 414.8,552.1 414.1,552.4 413.3,552.7 412.5,553 411.6,553.3 410.8,553.6 409.9,553.9 409.1,554.2 408.2,554.5 407.3,554.7 406.4,554.9 405.5,555.1 404.6,555.3 403.7,555.4 402.8,555.5 401.9,555.5 401.1,555.6 400.2,555.6 399.5,555.7 398.7,555.7 398,555.7 397.1,555.7 396.3,555.7 395.5,555.6 394.9,555.5 394.4,555.4 394,555.4 393.9,555.4 394,555.5 394.4,555.5 394.9,555.3 395.3,555.1 395.5,554.9 395.6,554.9 395.6,555.1 395.6,555.5 395.6,556.1 395.5,556.8 395.3,557.5 395.1,558.4 394.9,559.4 394.5,560.2 394.2,560.9 393.9,561.7 393.5,562.5 393.2,563.3 392.8,564.2 392.4,565 392.1,565.8 391.7,566.6 391.4,567.5 391,568.3 390.6,569.1 390.2,569.9 389.9,570.8 389.5,571.6 389.1,572.5 388.8,573.3 388.4,574.2 388,575.1 387.7,576 387.2,577 386.8,578 386.4,579 386,580 385.6,581 385.2,582 384.8,583 384.5,584.1 384.1,585.2 383.8,586.5 383.4,587.8 383,589.2 382.7,590.8 382.3,592.4 382,594 381.6,595.7 381.3,597.4 381,599.1 380.7,600.8 380.4,602.5 380.1,604.1 379.8,605.7 379.6,607.3 379.3,608.9 379.1,610.5 378.8,612.1 378.6,613.8 378.4,615.4 378.2,617.1 378,618.8 377.8,620.6 377.6,622.6 377.4,624.7 377.1,626.9 376.9,629 376.8,631 376.6,632.9 376.4,634.6 376.2,636 376.1,637.1Z" fill="#000" fill-opacity="0.25" filter="url(#b0_6)"/>
<path d="M373.5,637 373.5,635.9 373.4,634.4 373.4,632.7 373.4,630.8 373.5,628.8 373.5,626.7 373.5,624.5 373.5,622.4 373.6,620.4 373.6,618.5 373.7,616.8 373.7,615 373.8,613.4 373.8,611.7 373.9,610 374,608.4 374.1,606.7 374.2,605.1 374.3,603.4 374.4,601.7 374.6,600 374.7,598.3 374.9,596.5 375.1,594.7 375.3,592.9 375.6,591.2 375.8,589.5 376,587.8 376.3,586.2 376.6,584.7 376.9,583.3 377.3,581.9 377.7,580.7 378.1,579.5 378.5,578.3 378.9,577.2 379.3,576.2 379.7,575.1 380,574.1 380.4,573.2 380.8,572.2 381.2,571.2 381.7,570.2 382.1,569.3 382.5,568.4 382.9,567.6 383.3,566.7 383.7,565.9 384.1,565.1 384.5,564.2 384.9,563.4 385.4,562.6 385.8,561.7 386.3,560.9 386.7,560.1 387.1,559.4 387.6,558.6 387.9,557.9 388.3,557.3 388.6,556.7 388.9,556.2 389.1,555.7 389.4,555.2 389.6,554.6 389.8,554 390,553.4 390.3,552.8 390.7,552.2 391.3,551.5 392,551 392.8,550.7 393.7,550.6 394.4,550.7 395,550.9 395.5,551.1 396,551.3 396.5,551.5 397,551.7 397.5,551.8 398,551.9 398.6,551.9 399.3,551.9 400.1,551.8 400.8,551.8 401.6,551.8 402.4,551.7 403.2,551.6 404,551.5 404.8,551.4 405.6,551.2 406.3,551 407.1,550.8 407.9,550.6 408.6,550.3 409.4,550 410.2,549.7 411,549.4 411.8,549 412.6,548.7 413.4,548.4 414.1,548.1 414.9,547.8 415.6,547.5 416.4,547.2 417.1,546.9 417.8,546.6 418.5,546.2 419.2,545.9 419.9,545.5 420.6,545.2 421.3,544.7 421.9,544.3 422.6,543.8 423.2,543.3 423.9,542.8 424.5,542.3 425.2,541.7 425.8,541.2 426.4,540.7 427.1,540.2 427.7,539.7 428.2,539.2 428.8,538.7 429.4,538.2 429.9,537.7 430.5,537.2 431,536.7 431.6,536.3 432.1,535.8 432.6,535.3 433.2,534.8 433.7,534.3 434.3,533.8 434.8,533.4 435.2,532.9 435.7,532.5 436.1,532.1 436.5,531.6 436.9,531.1 437.3,530.6 437.7,530.1 438.1,529.5 438.5,528.9 438.9,528.2 439.4,527.5 439.8,526.8 440.2,526.1 440.6,525.3 441.1,524.5 441.5,523.7 442,522.9 442.4,522.2 442.9,521.4 443.3,520.6 443.7,519.8 444.2,519 444.6,518.1 445,517.3 445.4,516.3 445.9,515.4 446.3,514.4 446.7,513.3 447.2,512.2 447.6,511 448.1,509.8 448.5,508.5 449,507.3 449.5,506 450,504.7 450.5,503.4 451.1,502.1 451.7,500.9 452.2,499.7 452.8,498.4 453.4,497.2 453.9,496 454.5,494.8 455.1,493.6 455.7,492.4 456.2,491.2 456.8,489.9 457.4,488.7 458,487.4 458.6,486.1 459.2,484.9 459.8,483.6 460.4,482.4 461,481.2 461.5,479.9 462.1,478.7 462.6,477.6 463.1,476.4 463.5,475.3 464,474.1 464.5,472.9 464.9,471.7 465.4,470.5 465.9,469.3 466.4,468.1 467,466.8 467.5,465.4 468.1,464.1 468.7,462.7 469.3,461.4 470,460 470.6,458.6 471.2,457.2 471.8,455.8 472.4,454.5 473,453.2 473.6,451.9 474.2,450.7 474.7,449.4 475.3,448.1 475.9,446.9 476.4,445.7 477,444.5 477.6,443.4 478.1,442.2 478.6,441.2 479.1,440.2 479.5,439.2 480,438.2 480.4,437.1 480.9,436.1 481.4,435.1 481.9,434.1 482.5,433.1 483.1,432.1 483.9,431.2 484.7,430.3 485.5,429.5 486.4,428.9 487.3,428.4 488.2,427.9 489,427.5 489.8,427.3 490.6,427 491.3,426.8 492,426.6 492.8,426.4 493.7,426.3 494.5,426.2 495.4,426.2 496.2,426.2 497,426.2 497.8,426.3 498.5,426.4 499.2,426.5 500,426.6 500.7,426.7 501.4,426.9 502.1,427.1 502.9,427.4 503.6,427.6 504.3,427.9 505,428.2 505.7,428.6 506.4,428.9 507,429.3 507.6,429.7 508.2,430.1 508.8,430.6 509.4,431 509.9,431.5 510.5,432 511,432.5 511.6,433.1 512.2,433.7 512.7,434.3 513.3,435 513.9,435.7 514.5,436.5 515.2,437.3 515.9,438.2 516.6,439.1 517.3,440.1 518,441.1 518.7,442.2 519.3,443.3 520,444.5 520.6,445.8 521.1,447 521.7,448.3 522.2,449.6 522.7,450.9 523.2,452.2 523.7,453.4 524.2,454.6 524.7,455.8 525.2,457 525.8,458.1 526.3,459.3 526.8,460.4 527.3,461.6 527.8,462.7 528.3,463.8 528.8,464.8 529.3,465.8 529.8,466.8 530.3,467.8 530.8,468.8 531.3,469.7 531.8,470.6 532.2,471.4 532.7,472.3 533.2,473 533.7,473.8 534.2,474.5 534.7,475.2 535.2,475.8 535.8,476.4 536.5,477 537.1,477.6 537.8,478.2 538.5,478.8 539.2,479.3 539.8,479.8 540.5,480.2 541.1,480.7 541.7,481.1 542.2,481.6 542.7,482 543.1,482.4 543.4,482.6 543.6,482.8 543.8,482.9 543.9,482.9 544.1,482.9 544.4,482.8 544.9,482.6 545.5,482.2 546.1,481.7 546.8,481 547.5,480.3 548.2,479.5 548.9,478.5 549.7,477.6 550.5,476.5 551.3,475.5 552,474.4 552.8,473.1 553.6,471.9 554.4,470.5 555.3,469.1 556.1,467.6 556.9,466.1 557.7,464.6 558.5,463.1 559.3,461.6 560,460.1 560.8,458.5 561.5,456.9 562.2,455.3 562.9,453.7 563.6,452 564.3,450.4 564.9,448.8 565.6,447.2 566.2,445.7 566.7,444.2 567.3,442.7 567.8,441.2 568.3,439.7 568.7,438.2 569.2,436.8 569.6,435.4 570.1,434.1 570.5,432.8 570.9,431.6 571.2,430.4 571.6,429.2 571.9,427.9 572.2,426.7 572.5,425.6 572.8,424.5 573.1,423.5 573.5,422.7 574.1,421.8 575.1,421.3 575.4,421.2 575.6,421.1 576.7,421 578,421.8 578.5,422.7 578.8,423.7 579.1,425.1 579.3,426.9 579.6,429.3 579.9,432.5 580.2,436.8 580.5,442.2 580.8,448.4 581.2,455.2 581.5,462.3 581.9,469.6 582.2,476.7 582.6,483.5 582.9,489.6 583.2,494.9 583.5,499.3 583.8,503.2 584.1,506.7 584.3,509.9 584.6,512.8 584.8,515.6 585.1,518.3 585.4,521.1 585.7,523.9 586.1,527 586.5,530.2 586.9,533.5 587.3,536.8 587.8,540 588.3,543.3 588.8,546.5 589.2,549.8 589.7,552.9 590.3,556 590.8,559.1 591.3,562.1 591.8,565.2 592.3,568.2 592.8,571.1 593.3,574 593.8,576.9 594.4,579.6 594.9,582.2 595.5,584.7 596.1,587.1 596.6,589.3 597.1,591.3 597.6,593.2 598.2,595.1 598.7,596.9 599.3,598.6 599.9,600.4 600.6,602.2 601.2,604.1 601.7,606.1 602.4,608.1 603,610.2 603.6,612.3 604.2,614.4 604.8,616.6 605.4,618.6 606,620.6 606.6,622.4 607.1,624.1 607.6,625.6 608,627 608.4,628.3 608.8,629.4 609.1,630.4 609.5,631.3 609.8,632.2 610.1,632.9 610.4,633.6 610.7,634.1 611,634.7 611.3,635.2 611.5,635.5 611.6,635.7 611.6,635.7 611.6,635.8 611.7,635.9 612,635.9 612.5,636 613.2,636.1 614.1,636.2 615.2,636.3 616.6,636.4 618.2,636.4 620,636.4 621.9,636.4 623.7,636.4 625.4,636.4 626.9,636.4 628.2,636.4 629.2,636.5 629.2,637.9 628.3,638 627,638 625.4,638.1 623.7,638.1 621.9,638.2 620,638.2 618.2,638.2 616.6,638.3 615.1,638.2 613.9,638.2 613.1,638.2 612.4,638.2 611.9,638.2 611.4,638.2 610.9,638.2 610.3,638 609.8,637.7 609.4,637.4 609,637 608.6,636.5 608.1,635.9 607.6,635.3 607.1,634.5 606.6,633.7 606.1,632.9 605.6,631.9 605.1,630.9 604.6,629.8 604,628.5 603.4,627.2 602.8,625.6 602.2,623.9 601.5,622.1 600.8,620.1 600.1,618.1 599.3,616 598.6,613.9 597.9,611.8 597.2,609.8 596.5,607.9 595.7,606.1 595,604.4 594.2,602.7 593.4,601 592.6,599.3 591.8,597.4 591,595.5 590.2,593.5 589.4,591.3 588.7,588.9 588.2,586.4 587.6,583.7 587.1,581 586.7,578.1 586.2,575.2 585.7,572.3 585.3,569.2 584.9,566.2 584.5,563.2 584,560.1 583.6,557 583.2,553.8 582.9,550.6 582.5,547.4 582.1,544.1 581.8,540.8 581.4,537.5 581.1,534.2 580.8,530.9 580.5,527.6 580.2,524.5 580,521.6 579.8,518.8 579.6,516 579.4,513.2 579.2,510.3 579,507.1 578.8,503.5 578.6,499.6 578.4,495.1 578.1,489.9 577.8,483.7 577.5,477 577.2,469.8 576.9,462.5 576.6,455.4 576.3,448.6 576,442.4 575.8,437.1 575.5,432.9 575.3,429.7 575.1,427.3 575,425.6 574.8,424.5 574.7,424 574.9,424.2 575.8,424.7 576.4,424.7 576.1,424.8 575.9,424.7 576.4,424.4 576.4,424.4 576.1,424.8 575.7,425.5 575.4,426.5 574.9,427.6 574.5,428.8 574.1,430 573.6,431.2 573.1,432.4 572.7,433.6 572.2,434.8 571.7,436.1 571.2,437.5 570.7,438.9 570.2,440.4 569.6,441.8 569.1,443.3 568.5,444.8 567.8,446.3 567.2,447.9 566.6,449.4 565.9,451.1 565.2,452.7 564.5,454.3 563.7,456 563,457.6 562.2,459.2 561.5,460.8 560.7,462.4 560,463.9 559.2,465.4 558.4,466.9 557.6,468.4 556.7,469.9 555.9,471.4 555.1,472.8 554.3,474.1 553.5,475.3 552.7,476.5 552,477.6 551.3,478.7 550.6,479.8 549.9,480.8 549.1,481.7 548.4,482.6 547.7,483.4 547,484.1 546.3,484.7 545.6,485.2 544.8,485.5 544,485.7 543.2,485.6 542.4,485.4 541.8,485.1 541.3,484.7 540.8,484.3 540.3,484 539.8,483.7 539.3,483.3 538.7,483 538,482.6 537.2,482.1 536.5,481.6 535.7,481.1 534.9,480.5 534,479.9 533.2,479.3 532.5,478.6 531.7,477.8 531,477.1 530.3,476.3 529.7,475.5 529.1,474.6 528.5,473.8 527.9,472.9 527.3,472 526.8,471.1 526.2,470.1 525.6,469.2 525,468.2 524.4,467.1 523.8,466.1 523.2,465 522.6,463.9 522,462.7 521.4,461.6 520.9,460.5 520.3,459.3 519.7,458.2 519.1,457 518.5,455.8 517.9,454.5 517.3,453.2 516.7,452 516.1,450.8 515.6,449.7 515,448.6 514.4,447.6 513.9,446.7 513.3,445.8 512.6,445 512,444.2 511.3,443.5 510.6,442.8 509.9,442.1 509.2,441.4 508.6,440.8 507.9,440.2 507.3,439.7 506.7,439.1 506.2,438.7 505.8,438.3 505.4,438 505,437.8 504.6,437.5 504.2,437.3 503.8,437.1 503.4,436.9 503,436.7 502.5,436.5 502.1,436.3 501.7,436.1 501.2,436 500.8,435.9 500.3,435.7 499.8,435.6 499.4,435.6 498.9,435.5 498.4,435.4 498,435.4 497.4,435.3 497,435.2 496.5,435.2 496,435.2 495.6,435.2 495.2,435.2 494.8,435.2 494.4,435.3 494,435.4 493.5,435.5 493,435.6 492.5,435.7 492.1,435.8 491.7,436 491.4,436.1 491.1,436.2 490.9,436.4 490.6,436.6 490.3,436.8 490.1,437.2 489.8,437.6 489.4,438.2 489.1,438.9 488.7,439.7 488.3,440.6 487.8,441.6 487.4,442.7 486.9,443.7 486.4,444.8 485.9,445.9 485.4,447 484.9,448.2 484.3,449.3 483.8,450.5 483.3,451.7 482.7,453 482.1,454.3 481.6,455.5 481,456.8 480.4,458.1 479.8,459.4 479.2,460.8 478.6,462.2 478,463.5 477.4,464.9 476.8,466.3 476.2,467.6 475.6,469 475,470.2 474.5,471.5 474,472.7 473.5,473.8 473,475 472.5,476.2 472,477.4 471.5,478.6 471,479.8 470.5,481 469.9,482.3 469.3,483.5 468.7,484.8 468.1,486.1 467.5,487.3 466.9,488.6 466.2,489.9 465.6,491.1 465,492.4 464.4,493.6 463.8,494.8 463.2,496.1 462.5,497.3 461.9,498.5 461.3,499.7 460.7,500.8 460.1,502 459.5,503.2 459,504.3 458.4,505.5 457.9,506.6 457.3,507.8 456.8,509 456.3,510.2 455.7,511.4 455.2,512.6 454.7,513.9 454.2,515.1 453.6,516.3 453.1,517.5 452.5,518.6 452,519.7 451.4,520.6 450.9,521.6 450.3,522.5 449.8,523.3 449.2,524.2 448.7,525 448.1,525.7 447.6,526.5 447.1,527.3 446.6,528 446,528.8 445.5,529.5 445,530.2 444.4,531 443.8,531.7 443.3,532.4 442.7,533.1 442.1,533.7 441.5,534.4 440.8,535 440.2,535.5 439.6,536 438.9,536.5 438.3,536.9 437.7,537.3 437.1,537.6 436.5,538 435.9,538.4 435.4,538.7 434.7,539.1 434.1,539.5 433.5,539.9 432.9,540.4 432.2,540.8 431.6,541.2 430.9,541.6 430.3,542 429.6,542.4 428.9,542.8 428.3,543.2 427.6,543.7 426.9,544.1 426.2,544.6 425.5,545.1 424.8,545.5 424,546 423.3,546.4 422.5,546.8 421.8,547.2 421,547.6 420.3,548 419.6,548.4 418.8,548.7 418.1,549.1 417.3,549.4 416.5,549.7 415.8,550 415,550.3 414.2,550.6 413.5,550.9 412.7,551.2 411.9,551.5 411,551.8 410.2,552.1 409.4,552.4 408.6,552.7 407.7,553 406.9,553.2 406,553.4 405.2,553.5 404.3,553.7 403.5,553.8 402.6,553.9 401.8,554 401,554 400.2,554 399.4,554.1 398.7,554.1 398,554.1 397.3,554.1 396.6,554.1 395.9,554 395.3,553.9 394.8,553.9 394.3,553.8 394,553.9 393.9,553.9 393.9,554 394,554 394.1,554 394.1,554.1 394.1,554.3 394.1,554.7 394.1,555.1 394,555.7 393.9,556.4 393.8,557.1 393.6,557.9 393.4,558.7 393.1,559.5 392.8,560.2 392.4,561 392.1,561.8 391.7,562.6 391.4,563.5 391,564.3 390.6,565.1 390.3,565.9 389.9,566.8 389.5,567.6 389.2,568.4 388.8,569.3 388.4,570.1 388,571 387.7,571.8 387.3,572.7 386.9,573.6 386.6,574.5 386.2,575.4 385.8,576.4 385.3,577.4 384.9,578.4 384.5,579.4 384.1,580.4 383.7,581.5 383.3,582.5 382.9,583.6 382.6,584.8 382.2,586.1 381.8,587.4 381.5,588.9 381.1,590.5 380.7,592.1 380.4,593.8 380,595.5 379.7,597.2 379.4,598.9 379.1,600.6 378.8,602.3 378.5,603.9 378.2,605.5 378,607.1 377.7,608.7 377.5,610.4 377.3,612 377,613.6 376.8,615.3 376.6,617 376.4,618.7 376.2,620.5 376,622.5 375.8,624.6 375.5,626.8 375.3,628.9 375.2,630.9 375,632.8 374.8,634.5 374.6,635.9 374.5,637Z" fill="#1a1718" fill-opacity="0.97" filter="url(#b0_5)"/>
<path d="M544.8,474 544.9,475.1 544.9,476.6 545,478.3 545.1,480.2 545.2,482.2 545.3,484 545.4,485.9 545.5,488 545.6,490.1 545.7,492.1 545.7,493.8 545.8,495" fill="none" stroke="#1a1718" stroke-opacity="0.55" stroke-width="1.8" stroke-linecap="round" stroke-linejoin="round" filter="url(#b0_5)"/>
<rect x="50.5" y="706" width="271" height="297" fill="none" stroke="#dedede" stroke-width="1.2"/>
<path d="M61.8,1003v2.2M80.2,1003v2.2M98.6,1003v2.2M117,1003v2.2M135.4,1003v2.2M153.8,1003v2.2M172.2,1003v2.2M190.6,1003v2.2M209,1003v2.2M227.4,1003v2.2M245.8,1003v2.2M264.2,1003v2.2M282.6,1003v2.2M301,1003v2.2M50.5,989.6h-2.2M50.5,923.2h-2.2M50.5,856.8h-2.2M50.5,790.4h-2.2M50.5,724h-2.2" stroke="#8a8a8a" stroke-width="0.9" fill="none"/>
<g font-family='"Liberation Sans", sans-serif' font-size="10.2" fill="#222" stroke="#222" stroke-width="0.2" text-anchor="middle"><text x="62.3" y="1014" textLength="4.9" lengthAdjust="spacingAndGlyphs">0</text><text x="80.7" y="1014" textLength="9.9" lengthAdjust="spacingAndGlyphs">20</text><text x="99.1" y="1014" textLength="9.9" lengthAdjust="spacingAndGlyphs">40</text><text x="117.5" y="1014" textLength="9.9" lengthAdjust="spacingAndGlyphs">60</text><text x="135.9" y="1014" textLength="9.9" lengthAdjust="spacingAndGlyphs">80</text><text x="154.3" y="1014" textLength="14.8" lengthAdjust="spacingAndGlyphs">100</text><text x="172.7" y="1014" textLength="14.8" lengthAdjust="spacingAndGlyphs">120</text><text x="191.1" y="1014" textLength="14.8" lengthAdjust="spacingAndGlyphs">140</text><text x="209.5" y="1014" textLength="14.8" lengthAdjust="spacingAndGlyphs">160</text><text x="227.9" y="1014" textLength="14.8" lengthAdjust="spacingAndGlyphs">180</text><text x="246.3" y="1014" textLength="14.8" lengthAdjust="spacingAndGlyphs">200</text><text x="264.7" y="1014" textLength="14.8" lengthAdjust="spacingAndGlyphs">220</text><text x="283.1" y="1014" textLength="14.8" lengthAdjust="spacingAndGlyphs">240</text><text x="301.5" y="1014" textLength="14.8" lengthAdjust="spacingAndGlyphs">260</text><text x="48.1" y="993.9" text-anchor="end" textLength="24.2" lengthAdjust="spacingAndGlyphs">0.000</text><text x="48.1" y="927.5" text-anchor="end" textLength="24.2" lengthAdjust="spacingAndGlyphs">0.025</text><text x="48.1" y="861.1" text-anchor="end" textLength="24.2" lengthAdjust="spacingAndGlyphs">0.050</text><text x="48.1" y="794.7" text-anchor="end" textLength="24.2" lengthAdjust="spacingAndGlyphs">0.075</text><text x="48.1" y="728.3" text-anchor="end" textLength="24.2" lengthAdjust="spacingAndGlyphs">0.100</text></g>
<text x="186.7" y="1028.1" font-family='"Liberation Sans", sans-serif' font-size="12.8" fill="#1e1e1e" text-anchor="middle" textLength="110" lengthAdjust="spacingAndGlyphs">Fractional dose (cGy)</text>
<text transform="translate(22.3,855.5) rotate(-90)" font-family='"Liberation Sans", sans-serif' font-size="12.4" fill="#1e1e1e" text-anchor="middle" textLength="46" lengthAdjust="spacingAndGlyphs">Loadings</text>
<text x="63.2" y="729.4" font-family='"Liberation Sans", sans-serif' font-size="16" fill="#151515" textLength="63" lengthAdjust="spacingAndGlyphs">Dysphagia</text>
<text x="63.2" y="747.7" font-family='"Liberation Sans", sans-serif' font-size="16" fill="#151515" textLength="29.4" lengthAdjust="spacingAndGlyphs">FPCA</text>
<text x="63.2" y="766.1" font-family='"Liberation Sans", sans-serif' font-size="16" fill="#151515" textLength="63.6" lengthAdjust="spacingAndGlyphs">Validation</text>
<text x="63.2" y="784.4" font-family='"Liberation Sans", sans-serif' font-size="16" fill="#151515" textLength="27.3" lengthAdjust="spacingAndGlyphs">data</text>
<g fill="#000" fill-opacity="0.173" filter="url(#b1_6)"><path d="M69.5,878.4 70,855.7 70.4,851 71,847.5 71.6,844.1 72.7,840.8 74.9,838.1 77.9,836.1 80.7,834.1 83.8,832.3 86.8,830.5 89.9,828.8 92.9,827 95.9,825.2 98.8,823.1 101.5,821 104.2,818.7 106.9,816.5 109.7,814.2 112.4,812 115.2,809.8 117.9,807.7 120.7,805.5 123.4,803.3 126.1,801 128.9,798.8 131.6,796.7 134.4,794.5 137.3,792.4 140.1,790.4 143,788.3 145.9,786.3 148.9,784.5 152,782.9 155.3,781.8 158.7,781.4 162.2,781 165.5,780.2 168.7,778.9 171.7,776.8 172.4,778.9 169.8,782.1 167.4,786.5 165,791.4 162.5,796.5 159.7,801.2 156.5,804.7 153.3,807.7 150.3,810.8 147.4,814.1 144.5,817.4 141.7,820.8 139,824.2 136.4,827.8 133.9,831.3 131.4,834.9 128.8,838.5 126.2,842 123.6,845.5 120.9,849 118.2,852.4 115.5,855.9 112.8,859.3 110,862.7 107.2,866.1 104.4,869.4 101.6,872.8 98.7,876.1 95.8,879.4 92.9,882.6 90,885.9 87.1,889.2 84.1,892.4 81.2,895.7 78.1,898.8 74.8,901.7 72.2,905.2 70.9,909.4 70.2,911.9 69.5,887.4Z"/><path d="M69.5,879 70,859.4 70.5,854.9 71,851.4 71.8,847.9 73.1,844.6 75.4,841.9 78.3,839.9 81.2,837.8 84.2,835.9 87.2,834 90.3,832.2 93.3,830.3 96.3,828.3 99.1,826.2 101.9,824 104.6,821.6 107.3,819.3 110,817 112.8,814.7 115.5,812.5 118.3,810.2 121,807.9 123.8,805.6 126.5,803.3 129.2,801 132,798.7 134.7,796.5 137.6,794.3 140.4,792.2 143.3,790 146.2,788 149.2,786 152.3,784.3 155.6,783.1 159,782.4 162.4,781.7 165.7,780.6 168.8,779.1 171.8,776.9 172.4,778.6 169.7,781.8 167.2,785.8 164.7,790.4 162.1,795 159.2,799.2 156.1,802.5 152.9,805.3 149.9,808.4 146.9,811.5 144.1,814.7 141.3,818 138.6,821.3 136,824.7 133.4,828.1 130.9,831.5 128.3,835 125.7,838.3 123,841.7 120.3,845.1 117.6,848.4 114.9,851.7 112.2,855 109.4,858.3 106.7,861.6 103.9,864.8 101,868 98.1,871.2 95.2,874.3 92.3,877.4 89.4,880.6 86.4,883.7 83.5,886.8 80.6,889.9 77.6,893 74.5,895.9 72.1,899.4 70.9,903.5 70.1,906.3 69.5,886.5Z"/><path d="M69.5,879.6 70,863.2 70.5,858.8 71.1,855.2 72.1,851.8 73.5,848.5 75.8,845.8 78.7,843.6 81.6,841.4 84.6,839.4 87.6,837.5 90.7,835.5 93.7,833.6 96.7,831.5 99.5,829.3 102.3,827 105,824.6 107.7,822.2 110.4,819.8 113.2,817.4 115.9,815.1 118.7,812.7 121.4,810.3 124.1,808 126.8,805.6 129.5,803.2 132.3,800.8 135.1,798.5 137.9,796.2 140.7,794 143.6,791.7 146.5,789.6 149.5,787.6 152.6,785.8 155.9,784.4 159.2,783.4 162.6,782.4 165.8,781.1 168.9,779.3 171.8,777 172.3,778.4 169.6,781.5 167,785.2 164.5,789.4 161.8,793.5 158.8,797.3 155.6,800.3 152.4,803 149.4,805.9 146.5,808.9 143.6,812 140.9,815.1 138.1,818.3 135.5,821.5 132.9,824.8 130.3,828.1 127.7,831.4 125.1,834.7 122.4,837.9 119.8,841.1 117.1,844.3 114.3,847.5 111.6,850.7 108.9,853.9 106.1,857.1 103.3,860.2 100.4,863.3 97.5,866.3 94.6,869.3 91.7,872.2 88.7,875.2 85.8,878.2 82.9,881.2 79.9,884.2 77.1,887.2 74.2,890.2 72,893.7 70.8,897.7 70.1,900.7 69.5,885.6Z"/><path d="M69.5,880.2 70,866.9 70.5,862.7 71.2,859.1 72.3,855.6 73.8,852.4 76.2,849.6 79.1,847.4 82,845.1 85,843 88,840.9 91.1,838.9 94.1,836.9 97,834.7 99.9,832.4 102.7,830 105.4,827.5 108.1,825 110.8,822.6 113.6,820.1 116.3,817.7 119,815.2 121.8,812.8 124.5,810.3 127.2,807.8 129.9,805.3 132.6,802.9 135.4,800.5 138.2,798.1 141,795.8 143.8,793.5 146.8,791.2 149.8,789.1 152.9,787.2 156.2,785.7 159.5,784.4 162.8,783.1 165.9,781.5 168.9,779.5 171.8,777.2 172.2,778.2 169.5,781.2 166.8,784.6 164.2,788.3 161.4,792 158.4,795.4 155.2,798.1 152,800.7 149,803.5 146,806.3 143.2,809.3 140.4,812.3 137.7,815.3 135,818.4 132.4,821.6 129.8,824.8 127.2,827.9 124.5,831 121.9,834.1 119.2,837.2 116.5,840.3 113.8,843.4 111,846.4 108.3,849.5 105.5,852.5 102.7,855.5 99.9,858.5 97,861.4 94,864.2 91.1,867 88.1,869.8 85.2,872.7 82.3,875.5 79.3,878.4 76.5,881.4 73.9,884.4 71.8,887.9 70.8,891.9 70.1,895.1 69.5,884.7Z"/><path d="M69.5,880.8 70,870.7 70.6,866.6 71.3,862.9 72.5,859.5 74.2,856.2 76.6,853.4 79.5,851.1 82.4,848.8 85.4,846.6 88.4,844.4 91.5,842.3 94.5,840.1 97.4,837.9 100.3,835.5 103,833 105.8,830.4 108.5,827.9 111.2,825.3 114,822.8 116.7,820.3 119.4,817.7 122.1,815.2 124.9,812.7 127.5,810.1 130.2,807.5 132.9,804.9 135.7,802.4 138.5,800 141.3,797.6 144.1,795.2 147.1,792.9 150.1,790.7 153.2,788.7 156.5,787 159.8,785.5 162.9,783.8 166,781.9 169,779.7 171.9,777.3 172.1,778 169.4,780.8 166.6,784 163.9,787.3 161,790.5 157.9,793.4 154.7,795.9 151.6,798.4 148.5,801 145.6,803.8 142.8,806.6 140,809.4 137.2,812.4 134.5,815.3 131.9,818.3 129.3,821.4 126.7,824.4 124,827.4 121.3,830.4 118.6,833.3 115.9,836.3 113.2,839.2 110.4,842.2 107.7,845.1 104.9,848 102.2,850.9 99.3,853.7 96.4,856.5 93.4,859.1 90.5,861.8 87.5,864.5 84.5,867.1 81.6,869.9 78.7,872.6 76,875.6 73.5,878.7 71.7,882.1 70.7,886 70.1,889.4 69.5,883.8Z"/><path d="M69.5,881.4 70,874.4 70.6,870.5 71.4,866.8 72.7,863.3 74.5,860.1 77,857.3 80,854.9 82.8,852.5 85.8,850.2 88.8,847.9 91.8,845.7 94.8,843.4 97.8,841 100.6,838.6 103.4,836 106.2,833.4 108.9,830.7 111.6,828.1 114.3,825.5 117.1,822.9 119.8,820.3 122.5,817.6 125.2,815 127.9,812.3 130.5,809.7 133.2,807 136,804.4 138.8,801.9 141.6,799.4 144.4,796.9 147.4,794.5 150.4,792.2 153.5,790.1 156.7,788.3 160,786.5 163.1,784.5 166.1,782.3 169.1,779.9 171.9,777.5 172.1,777.8 169.2,780.5 166.5,783.3 163.6,786.2 160.6,789 157.5,791.5 154.3,793.8 151.1,796.1 148.1,798.6 145.2,801.2 142.3,803.9 139.5,806.6 136.7,809.4 134,812.2 131.4,815.1 128.8,818 126.1,820.9 123.4,823.7 120.7,826.6 118,829.4 115.3,832.2 112.6,835 109.9,837.9 107.1,840.7 104.4,843.5 101.6,846.3 98.7,849 95.8,851.6 92.8,854.1 89.8,856.6 86.9,859.1 83.9,861.6 81,864.3 78.1,866.9 75.4,869.8 73.2,872.9 71.6,876.4 70.7,880.2 70.1,883.8 69.5,882.9Z"/></g>
<g fill="#000" fill-opacity="0.161" filter="url(#b1_5)"><path d="M172,771 174.5,769.3 177.1,766.4 179.7,762.5 182.2,758.6 184.6,755.9 187,753.8 189.5,751.6 192,749.7 194.6,747.8 197.3,745.9 199.9,744.1 202.7,742.5 205.7,741.1 208.8,740.4 212,740.5 215.2,741.2 218.3,742.1 221.3,743.3 224.3,744.5 227.3,745.7 230.2,747 233,748.7 235.6,750.6 237.8,753 239.5,755.7 240.9,758.6 242.1,761.6 243,764.7 243.7,767.9 244.3,771.1 244.7,774.3 245.1,777.5 245.5,780.7 245.9,783.9 246.2,787.1 246.4,790.4 246.3,796.9 246.1,805.1 246.3,810.7 246,815.2 245.3,816.1 244.2,820.7 243.1,822.9 242.4,820.6 241.5,818.3 240.5,816.1 239.3,813.9 237.9,812 236.2,810.2 234.4,808.6 232.5,807 230.6,805.5 228.6,804.1 226.6,802.6 224.7,801.2 222.7,799.7 220.8,798.2 219,796.6 217.1,795 215.2,793.5 213.2,792 211.2,790.6 209.1,789.4 207,788.2 204.8,787 202.7,785.9 200.4,784.9 198.2,783.9 195.9,783 193.6,782.2 191.2,781.7 188.8,781.5 186.4,781.6 183.9,781.8 181.5,781.4 179.2,778.7 176.8,775.6 174.5,773.5 172,773.1Z"/><path d="M172,771.1 174.5,769.6 177.1,767 179.7,763.6 182.2,760.2 184.6,757.7 187,755.7 189.4,753.7 192,751.9 194.6,750.2 197.2,748.5 199.8,746.9 202.6,745.4 205.5,744.3 208.5,743.7 211.7,743.8 214.8,744.5 217.8,745.5 220.7,746.7 223.7,747.9 226.6,749.1 229.4,750.5 232.2,752.1 234.7,754.1 236.8,756.4 238.6,759 240.1,761.8 241.2,764.7 242.2,767.7 243,770.7 243.7,773.8 244.2,776.9 244.7,780 245.2,783.1 245.6,786.3 245.9,789.4 246.2,792.6 246.2,798.5 246.1,805.9 246.3,811 246,814.8 245.4,815 244.4,818.4 243.4,819.7 242.7,817.4 241.9,815 241,812.7 239.9,810.4 238.5,808.3 237,806.4 235.3,804.6 233.5,802.9 231.7,801.3 229.8,799.7 227.9,798.1 225.9,796.5 224,795 222,793.4 220,791.8 218.1,790.2 216.1,788.7 214,787.3 211.9,786 209.7,784.7 207.5,783.6 205.2,782.5 202.9,781.6 200.7,780.8 198.4,780 196.1,779.4 193.7,778.9 191.3,778.6 188.9,778.6 186.4,778.9 184,779.3 181.6,779.2 179.2,777.2 176.9,774.7 174.5,773.1 172,772.9Z"/><path d="M172,771.3 174.5,769.9 177.1,767.7 179.6,764.7 182.1,761.8 184.5,759.5 186.9,757.7 189.4,755.8 191.9,754.1 194.5,752.6 197.1,751.1 199.7,749.7 202.4,748.4 205.2,747.4 208.3,747 211.3,747.2 214.3,747.9 217.3,748.9 220.2,750.1 223,751.3 225.9,752.6 228.6,754 231.3,755.6 233.8,757.5 235.9,759.7 237.7,762.3 239.2,765 240.4,767.8 241.5,770.6 242.4,773.6 243.1,776.5 243.8,779.5 244.3,782.6 244.8,785.6 245.3,788.7 245.7,791.8 246,794.9 246,800.2 246,806.7 246.2,811.3 246,814.3 245.4,814 244.6,816.1 243.7,816.6 243.1,814.1 242.4,811.6 241.5,809.2 240.4,806.9 239.2,804.7 237.8,802.6 236.2,800.7 234.5,798.8 232.8,797 231,795.3 229.1,793.6 227.2,791.9 225.2,790.2 223.2,788.6 221.1,787 219.1,785.5 216.9,784 214.8,782.6 212.6,781.3 210.3,780 208,779 205.6,778 203.2,777.3 200.9,776.7 198.5,776.2 196.2,775.8 193.8,775.6 191.4,775.5 188.9,775.7 186.5,776.2 184.1,776.8 181.7,777 179.3,775.6 176.9,773.8 174.5,772.7 172,772.7Z"/><path d="M172,771.4 174.5,770.2 177,768.3 179.6,765.9 182.1,763.4 184.5,761.4 186.9,759.6 189.3,757.9 191.8,756.4 194.4,755 197,753.7 199.6,752.4 202.2,751.4 205,750.5 208,750.2 211,750.5 213.9,751.3 216.8,752.3 219.6,753.5 222.4,754.8 225.1,756 227.9,757.4 230.5,759.1 232.9,760.9 235,763.1 236.8,765.5 238.3,768.2 239.6,770.9 240.8,773.6 241.7,776.4 242.6,779.3 243.3,782.2 243.9,785.1 244.5,788.1 245,791.1 245.4,794.1 245.7,797.2 245.9,801.9 246,807.4 246.2,811.7 246.1,813.9 245.5,812.9 244.8,813.8 244.1,813.4 243.5,810.9 242.8,808.3 242,805.8 241,803.4 239.9,801 238.5,798.9 237.1,796.8 235.5,794.7 233.9,792.8 232.2,790.9 230.4,789 228.5,787.2 226.4,785.5 224.4,783.8 222.2,782.2 220,780.7 217.8,779.3 215.6,777.9 213.3,776.6 210.9,775.4 208.5,774.3 206,773.5 203.5,772.9 201.1,772.6 198.7,772.3 196.3,772.2 193.9,772.2 191.5,772.4 189,772.8 186.6,773.5 184.1,774.3 181.7,774.8 179.3,774 176.9,772.9 174.5,772.3 172,772.5Z"/><path d="M172,771.6 174.5,770.5 177,769 179.5,767 182,765 184.4,763.2 186.8,761.6 189.3,760 191.8,758.6 194.3,757.4 196.9,756.3 199.5,755.2 202.1,754.3 204.8,753.7 207.7,753.5 210.6,753.8 213.5,754.7 216.3,755.7 219,756.9 221.7,758.2 224.4,759.5 227.1,760.9 229.6,762.5 232,764.4 234.1,766.5 235.9,768.8 237.5,771.3 238.8,773.9 240,776.6 241.1,779.3 242,782 242.8,784.8 243.5,787.7 244.1,790.6 244.7,793.5 245.1,796.5 245.5,799.5 245.7,803.5 245.9,808.2 246.2,812 246.1,813.5 245.6,811.9 245,811.5 244.4,810.3 243.9,807.6 243.2,805 242.5,802.4 241.6,799.8 240.5,797.4 239.3,795.1 238,792.8 236.6,790.7 235,788.6 233.4,786.5 231.6,784.5 229.7,782.6 227.7,780.7 225.5,779 223.3,777.4 221,775.9 218.7,774.5 216.3,773.2 213.9,771.9 211.5,770.7 208.9,769.7 206.4,769 203.8,768.6 201.3,768.5 198.9,768.5 196.5,768.7 194,768.9 191.5,769.3 189.1,770 186.6,770.8 184.2,771.8 181.8,772.5 179.4,772.4 176.9,772 174.5,771.9 172,772.3Z"/><path d="M172,771.7 174.5,770.8 177,769.6 179.5,768.2 182,766.6 184.4,765 186.8,763.5 189.2,762.1 191.7,760.9 194.3,759.8 196.8,758.9 199.3,758 201.9,757.3 204.6,756.8 207.4,756.7 210.3,757.2 213.1,758 215.8,759.1 218.5,760.3 221.1,761.6 223.7,762.9 226.3,764.4 228.7,766 231.1,767.8 233.2,769.9 235,772.1 236.6,774.5 238,777 239.3,779.5 240.4,782.1 241.4,784.8 242.3,787.5 243.1,790.2 243.8,793.1 244.4,795.9 244.9,798.8 245.3,801.7 245.6,805.2 245.8,809 246.2,812.3 246.1,813 245.7,810.8 245.2,809.2 244.7,807.2 244.2,804.4 243.6,801.7 242.9,799 242.1,796.3 241.2,793.8 240.1,791.3 238.9,788.9 237.6,786.6 236.1,784.3 234.6,782.1 232.9,779.9 231,777.9 228.9,776 226.7,774.2 224.4,772.6 222,771.2 219.6,769.8 217.1,768.5 214.6,767.2 212.1,766.1 209.4,765.1 206.8,764.5 204.1,764.3 201.5,764.4 199,764.7 196.6,765.1 194.1,765.6 191.6,766.2 189.1,767.1 186.7,768.1 184.3,769.3 181.9,770.3 179.4,770.9 177,771.2 174.5,771.5 172,772.1Z"/></g>
<path d="M60.9,984.4 60.9,983.6 60.9,982.5 60.9,981.2 61,979.7 61,978.1 61,976.4 61,974.7 61.1,973.1 61.1,971.5 61.1,969.9 61.1,968.6 61.1,967.3 61.1,966.1 61.1,964.8 61.2,963.6 61.2,962.3 61.2,960.8 61.2,959.2 61.3,957.5 61.3,955.4 61.3,953.1 61.4,950.6 61.4,947.8 61.5,944.9 61.5,941.8 61.6,938.7 61.7,935.6 61.7,932.5 61.8,929.4 61.9,926.5 62,923.5 62.1,920.6 62.2,917.6 62.3,914.6 62.4,911.6 62.5,908.6 62.6,905.7 62.7,902.9 62.8,900.2 62.9,897.6 63,895.1 63.2,892.6 63.3,890.2 63.5,887.8 63.6,885.5 63.7,883.3 63.9,881.3 64,879.3 64.1,877.4 64.3,875.7 64.4,874.1 64.6,872.6 64.7,871.2 64.9,870 65,868.8 65.2,867.7 65.3,866.7 65.5,865.7 65.7,864.7 65.9,863.8 66.1,862.9 66.4,862.1 66.7,861.3 67,860.6 67.3,859.9 67.7,859.2 68,858.6 68.4,858 68.8,857.5 69.3,856.9 69.9,856.3 70.5,855.8 71.1,855.5 71.7,855.2 72.3,855 72.7,854.9 73.2,854.8 73.5,854.7 73.8,854.7 74,854.6 74.3,854.5 74.6,854.4 74.9,854.2 75.1,854.1 75.4,854 75.7,853.8 76,853.7 76.4,853.6 76.8,853.4 77.2,853.2 77.7,853 78.3,852.8 78.8,852.5 79.4,852.3 80,852.1 80.7,851.8 81.3,851.6 81.9,851.3 82.6,851 83.2,850.7 83.8,850.4 84.5,850.1 85.2,849.8 85.8,849.5 86.5,849.1 87.2,848.8 87.8,848.4 88.5,848.1 89.1,847.7 89.7,847.3 90.3,846.9 90.8,846.5 91.4,846 92,845.5 92.6,845 93.2,844.4 93.8,843.9 94.4,843.4 95,842.8 95.6,842.3 96.3,841.8 96.9,841.2 97.5,840.8 98.1,840.3 98.7,839.8 99.2,839.3 99.8,838.8 100.3,838.4 100.9,837.9 101.4,837.4 101.9,836.8 102.5,836.3 103,835.7 103.5,835 104.1,834.4 104.6,833.7 105.2,833.1 105.8,832.4 106.4,831.7 107,831 107.7,830.3 108.3,829.7 108.9,829.1 109.5,828.4 110.2,827.8 110.8,827.2 111.4,826.6 111.9,826 112.5,825.4 113.1,824.7 113.6,824.1 114.1,823.4 114.7,822.6 115.2,821.9 115.8,821.1 116.3,820.3 116.9,819.5 117.5,818.7 118.1,817.9 118.7,817.1 119.2,816.4 119.8,815.6 120.3,814.9 120.9,814.2 121.4,813.4 122,812.7 122.6,811.9 123.2,811.2 123.8,810.3 124.5,809.5 125.2,808.5 126,807.6 126.7,806.6 127.5,805.5 128.4,804.5 129.2,803.4 130.1,802.3 131,801.2 131.9,800.1 132.8,799 133.7,798 134.6,797 135.5,795.9 136.4,794.9 137.3,793.8 138.3,792.8 139.3,791.7 140.3,790.6 141.4,789.6 142.5,788.5 143.6,787.5 144.8,786.5 146,785.5 147.1,784.5 148.3,783.6 149.6,782.6 150.8,781.7 152,780.7 153.3,779.8 154.5,778.9 155.8,778 157.1,777.1 158.4,776.2 159.7,775.3 161,774.5 162.4,773.6 163.7,772.8 165.1,771.9 166.4,771.1 167.8,770.3 169.2,769.6 170.6,768.8 172.1,768.1 173.5,767.4 174.9,766.7 176.3,766 177.6,765.4 178.8,764.8 179.8,764.3 180.8,763.8 181.5,763.4 182.2,763 182.8,762.6 183.3,762.2 183.9,761.9 184.5,761.5 185.1,761.1 185.9,760.6 186.7,760.2 187.5,759.8 188.2,759.4 188.9,759.1 189.7,758.8 190.5,758.5 191.4,758.1 192.3,757.8 193.3,757.5 194.4,757.3 195.5,757.1 196.6,756.9 197.7,756.9 198.8,756.9 199.9,757 201,757.1 202.1,757.3 203.2,757.5 204.3,757.7 205.4,758 206.6,758.4 207.7,758.9 208.7,759.5 209.7,760.1 210.6,760.8 211.4,761.5 212.1,762.3 212.7,763 213.3,763.7 213.8,764.3 214.4,765 214.9,765.6 215.6,766.3 216.2,767.1 216.8,767.8 217.4,768.5 218,769.3 218.5,770 219.1,770.7 219.6,771.3 220.2,772 220.8,772.7 221.5,773.3 222.3,774 223.1,774.7 223.9,775.3 224.8,776 225.6,776.7 226.4,777.3 227.3,778 228.1,778.6 228.9,779.1 229.7,779.6 230.5,780.1 231.4,780.5 232.3,780.9 233.2,781.4 234.1,781.8 235,782.2 235.9,782.7 236.8,783.2 237.6,783.7 238.3,784.1 239,784.5 239.7,784.8 240.3,785.3 241.1,785.7 241.8,786.3 242.5,786.9 243.2,787.7 243.9,788.5 244.4,789.5 244.9,790.5 245.3,791.5 245.6,792.5 245.9,793.5 246.1,794.6 246.3,795.7 246.5,796.8 246.7,798 246.8,799.3 247.1,800.7 247.3,802.3 247.5,804 247.7,805.9 247.9,807.8 248.1,809.8 248.3,811.9 248.6,814 248.8,816.1 249,818.2 249.2,820.2 249.4,822.4 249.6,824.6 249.8,826.9 250,829.2 250.3,831.5 250.5,833.8 250.7,836 250.9,838.1 251,840.1 251.2,841.9 251.3,843.4 251.4,844.7 251.6,845.9 251.7,846.9 251.7,847.9 251.8,849 251.9,850.1 252,851.4 252.1,853 252.2,854.8 252.3,857 252.4,859.3 252.5,861.9 252.5,864.5 252.6,867.3 252.7,870.2 252.8,873.2 252.9,876.2 253.1,879.1 253.2,882.1 253.4,885.1 253.5,888.2 253.7,891.4 254,894.6 254.2,897.9 254.4,901.2 254.6,904.5 254.9,907.8 255.1,911.1 255.3,914.4 255.5,917.7 255.7,921 255.9,924.3 256.1,927.6 256.3,931 256.6,934.2 256.8,937.5 257,940.6 257.2,943.7 257.4,946.7 257.6,949.6 257.8,952.4 258,955.2 258.3,958 258.5,960.7 258.7,963.3 258.9,965.8 259.2,968.1 259.4,970.4 259.6,972.5 259.8,974.5 260,976.4 260.2,978.2 260.4,979.8 260.6,981.4 260.8,982.8 260.9,984.1 261.1,985.3 261.3,986.2 261.5,987.1 261.7,987.9 261.8,988.5 261.8,988.8 261.6,988.4 260.1,987 259,986.8 259.1,986.8 259.6,986.8 260.4,986.8 261.2,986.9 262,987 262.8,987.1 263.7,987.1 264.8,987.1 266,987.1 267.3,987.1 268.9,987.1 270.7,987.1 272.7,987.1 275,987.1 277.8,987.1 281.1,987.1 284.9,987.1 288.9,987.2 293,987.2 297,987.2 300.8,987.2 304.2,987.2 307.1,987.2 309.2,987.2 309.2,992 307.1,992 304.2,992 300.8,992 297,992 293,992 288.9,992 284.9,992.1 281.1,992.1 277.8,992.1 275,992.1 272.7,992.1 270.8,992.2 269,992.2 267.4,992.3 266.1,992.3 264.8,992.3 263.7,992.4 262.7,992.4 261.7,992.3 260.8,992.3 260.2,992.3 259.9,992.3 259.8,992.4 259.4,992.5 258,992.3 256.4,990.8 256.1,989.9 256,989.6 255.9,989.2 255.7,988.5 255.4,987.5 255.2,986.4 255,985.1 254.7,983.7 254.5,982.2 254.3,980.6 254.1,978.9 253.9,977.1 253.6,975.1 253.4,973.1 253.2,971 253,968.7 252.8,966.3 252.5,963.8 252.3,961.2 252.1,958.5 251.9,955.7 251.6,952.9 251.4,950 251.2,947.1 251,944.1 250.8,941.1 250.6,937.9 250.4,934.6 250.2,931.3 249.9,928 249.7,924.7 249.5,921.4 249.3,918.1 249.1,914.8 248.9,911.6 248.6,908.3 248.4,905 248.1,901.7 247.9,898.4 247.7,895.1 247.4,891.8 247.2,888.6 247,885.5 246.8,882.5 246.6,879.5 246.5,876.4 246.4,873.4 246.2,870.4 246.1,867.5 246,864.7 245.9,862.1 245.8,859.6 245.7,857.3 245.6,855.2 245.5,853.4 245.4,851.9 245.3,850.6 245.2,849.6 245.1,848.6 245,847.6 244.9,846.6 244.7,845.4 244.6,844.1 244.4,842.5 244.2,840.7 244,838.7 243.8,836.6 243.6,834.4 243.4,832.1 243.2,829.8 242.9,827.5 242.7,825.3 242.4,823.1 242.2,821 242,818.9 241.8,816.8 241.5,814.7 241.3,812.6 241.1,810.6 240.8,808.6 240.6,806.7 240.4,804.9 240.2,803.2 239.9,801.7 239.8,800.3 239.6,799 239.5,797.8 239.3,796.7 239.2,795.8 239.1,795 238.9,794.2 238.8,793.6 238.6,793 238.4,792.5 238.2,792.1 238,791.7 237.7,791.4 237.5,791.1 237.2,790.8 236.8,790.5 236.3,790.1 235.7,789.7 235,789.2 234.4,788.7 233.7,788.3 233,787.9 232.3,787.4 231.5,787 230.6,786.6 229.7,786.1 228.8,785.6 227.8,785 226.8,784.5 225.9,783.9 224.9,783.3 224,782.7 223.1,782 222.1,781.4 221.2,780.7 220.3,780 219.3,779.4 218.5,778.7 217.6,778 216.8,777.3 215.9,776.7 215.1,776 214.3,775.3 213.6,774.7 212.9,774 212.2,773.4 211.5,772.9 210.9,772.3 210.3,771.9 209.7,771.4 209,770.9 208.2,770.4 207.5,769.9 206.9,769.4 206.3,769 205.7,768.7 205.2,768.5 204.8,768.3 204.3,768.2 203.9,768.1 203.5,768 202.9,768 202.3,767.9 201.7,767.8 201,767.8 200.3,767.8 199.6,767.8 198.9,767.9 198.3,768 197.8,768.1 197.3,768.1 196.9,768.2 196.5,768.4 196,768.6 195.5,768.8 195,769 194.4,769.3 193.8,769.6 193.1,769.9 192.5,770.2 192,770.5 191.7,770.7 191.3,770.9 190.8,771.2 190.3,771.5 189.7,771.9 189,772.4 188.2,772.9 187.3,773.4 186.2,774 185.1,774.6 183.9,775.2 182.6,775.8 181.3,776.5 180,777.1 178.6,777.8 177.3,778.4 175.9,779.1 174.7,779.8 173.4,780.5 172.2,781.1 170.9,781.9 169.7,782.6 168.4,783.4 167.1,784.1 165.8,784.9 164.6,785.7 163.3,786.5 162.1,787.3 160.9,788.1 159.7,788.9 158.5,789.7 157.3,790.6 156.1,791.4 155,792.2 153.8,793.1 152.7,793.9 151.6,794.8 150.5,795.6 149.5,796.5 148.5,797.3 147.5,798.2 146.5,799.1 145.5,800 144.6,800.9 143.6,801.8 142.7,802.7 141.7,803.7 140.8,804.6 139.8,805.6 138.9,806.5 138,807.4 137,808.4 136.1,809.4 135.2,810.3 134.3,811.3 133.4,812.3 132.5,813.2 131.7,814.1 130.9,814.9 130.1,815.7 129.4,816.5 128.7,817.2 128.1,817.9 127.5,818.6 126.8,819.2 126.2,819.9 125.6,820.5 125,821.2 124.3,821.9 123.7,822.6 123.1,823.2 122.4,824 121.8,824.7 121.2,825.4 120.5,826.2 119.8,826.9 119.1,827.6 118.5,828.4 117.7,829.1 117,829.8 116.3,830.4 115.6,831.1 114.9,831.7 114.2,832.2 113.5,832.8 112.9,833.4 112.2,833.9 111.6,834.4 111,835 110.4,835.5 109.8,836.1 109.2,836.7 108.6,837.3 108,838 107.4,838.6 106.8,839.2 106.1,839.8 105.5,840.5 104.8,841 104.1,841.6 103.4,842.1 102.8,842.6 102.1,843.1 101.5,843.6 100.8,844 100.2,844.4 99.6,844.9 99,845.3 98.4,845.7 97.8,846.2 97.2,846.7 96.6,847.2 95.9,847.7 95.3,848.2 94.7,848.7 94,849.2 93.3,849.7 92.6,850.2 91.9,850.7 91.2,851.1 90.5,851.5 89.7,851.9 89,852.3 88.3,852.7 87.5,853 86.8,853.3 86.1,853.7 85.5,854 84.8,854.3 84.1,854.6 83.5,854.9 82.8,855.2 82.1,855.4 81.5,855.7 80.9,855.9 80.3,856.2 79.7,856.4 79.2,856.6 78.8,856.8 78.4,857 78.1,857.2 77.8,857.3 77.5,857.4 77.3,857.6 77,857.7 76.8,857.9 76.6,858 76.3,858.2 76,858.4 75.5,858.6 75.1,858.9 74.7,859.1 74.4,859.3 74.1,859.4 73.9,859.6 73.8,859.7 73.8,859.8 73.7,859.9 73.7,860.1 73.6,860.4 73.5,860.7 73.4,861.1 73.4,861.5 73.3,861.9 73.2,862.5 73.1,863 73.1,863.7 73,864.4 72.9,865.2 72.8,866 72.7,866.9 72.5,867.7 72.4,868.7 72.3,869.7 72.2,870.8 72.1,872 72,873.3 71.9,874.8 71.7,876.3 71.5,878.1 71.3,879.9 71.1,881.9 70.9,883.9 70.7,886.1 70.5,888.4 70.3,890.7 70.1,893.1 69.9,895.5 69.7,898 69.5,900.6 69.3,903.3 69.1,906.1 68.9,909 68.7,911.9 68.5,914.9 68.3,917.9 68.1,920.9 67.9,923.8 67.7,926.7 67.5,929.7 67.3,932.7 67.2,935.8 67,938.9 66.8,942 66.7,945.1 66.5,948 66.4,950.7 66.2,953.3 66.1,955.6 66,957.6 65.9,959.4 65.9,961 65.8,962.4 65.8,963.7 65.7,964.9 65.7,966.2 65.6,967.4 65.6,968.7 65.5,970.1 65.4,971.6 65.4,973.2 65.3,974.9 65.2,976.6 65.2,978.2 65.1,979.8 65,981.3 65,982.6 64.9,983.7 64.9,984.6Z" fill="#000" fill-opacity="0.25" filter="url(#b0_6)"/>
<path d="M62.5,984.5 62.5,983.6 62.5,982.5 62.5,981.2 62.6,979.7 62.6,978.1 62.6,976.5 62.6,974.8 62.7,973.1 62.7,971.5 62.7,970 62.7,968.6 62.7,967.3 62.7,966.1 62.7,964.9 62.8,963.6 62.8,962.3 62.8,960.9 62.8,959.3 62.9,957.5 62.9,955.5 62.9,953.2 63,950.6 63,947.9 63.1,944.9 63.1,941.9 63.2,938.8 63.3,935.7 63.3,932.6 63.4,929.5 63.5,926.5 63.6,923.6 63.7,920.7 63.8,917.7 63.9,914.7 64,911.7 64.1,908.7 64.2,905.8 64.3,903 64.4,900.3 64.5,897.7 64.6,895.2 64.8,892.7 64.9,890.3 65,887.9 65.2,885.7 65.3,883.5 65.5,881.4 65.6,879.4 65.7,877.5 65.9,875.8 66,874.2 66.2,872.7 66.3,871.4 66.5,870.2 66.6,869 66.8,867.9 66.9,866.9 67.1,866 67.2,865 67.4,864.1 67.7,863.3 68,862.5 68.3,861.7 68.6,861 68.9,860.4 69.2,859.8 69.5,859.3 69.8,858.8 70.2,858.3 70.6,857.9 71,857.4 71.5,857.1 72,856.8 72.4,856.6 72.9,856.5 73.3,856.4 73.7,856.3 74.1,856.2 74.4,856.1 74.8,856.1 75.1,855.9 75.4,855.8 75.6,855.6 75.9,855.5 76.2,855.4 76.4,855.3 76.7,855.2 77.1,855 77.4,854.9 77.9,854.7 78.3,854.5 78.9,854.3 79.4,854 80,853.8 80.6,853.5 81.3,853.3 81.9,853 82.6,852.8 83.2,852.5 83.9,852.2 84.5,851.9 85.2,851.6 85.8,851.2 86.5,850.9 87.2,850.6 87.9,850.2 88.6,849.9 89.3,849.5 89.9,849.1 90.6,848.7 91.2,848.2 91.8,847.7 92.4,847.2 93,846.7 93.6,846.2 94.2,845.7 94.8,845.1 95.4,844.6 96,844.1 96.6,843.5 97.2,843 97.8,842.5 98.4,842 99,841.6 99.6,841.1 100.2,840.6 100.8,840.1 101.4,839.6 101.9,839.1 102.5,838.5 103,838 103.6,837.4 104.1,836.8 104.7,836.1 105.3,835.5 105.8,834.8 106.4,834.1 107,833.5 107.5,832.8 108.2,832.2 108.8,831.5 109.4,830.9 110,830.2 110.6,829.6 111.2,829 111.9,828.4 112.5,827.7 113.1,827.1 113.7,826.5 114.2,825.8 114.8,825.1 115.3,824.4 115.9,823.7 116.5,822.9 117,822.1 117.6,821.3 118.1,820.5 118.7,819.7 119.3,818.9 119.9,818.2 120.5,817.4 121,816.7 121.6,815.9 122.1,815.2 122.7,814.5 123.2,813.7 123.8,813 124.4,812.2 125,811.4 125.7,810.5 126.4,809.6 127.2,808.6 127.9,807.6 128.8,806.6 129.6,805.5 130.4,804.4 131.3,803.4 132.2,802.3 133.1,801.2 133.9,800.1 134.8,799.1 135.7,798.1 136.6,797 137.5,796 138.5,794.9 139.4,793.9 140.4,792.8 141.4,791.8 142.5,790.8 143.6,789.7 144.7,788.7 145.8,787.7 147,786.8 148.1,785.8 149.3,784.8 150.5,783.9 151.7,783 153,782 154.2,781.1 155.4,780.2 156.7,779.3 158,778.4 159.3,777.6 160.6,776.7 161.9,775.8 163.2,775 164.6,774.1 165.9,773.3 167.2,772.5 168.5,771.7 169.9,771 171.4,770.2 172.8,769.5 174.2,768.8 175.6,768.1 177,767.5 178.3,766.8 179.5,766.2 180.6,765.7 181.5,765.2 182.3,764.8 183,764.3 183.6,764 184.2,763.6 184.8,763.2 185.4,762.8 186,762.4 186.7,762 187.4,761.6 188.2,761.2 188.9,760.9 189.6,760.6 190.4,760.3 191.2,759.9 192,759.6 192.9,759.3 193.8,759 194.8,758.8 195.8,758.6 196.8,758.5 197.8,758.5 198.8,758.5 199.8,758.6 200.9,758.7 201.9,758.9 203,759 204,759.3 205.1,759.6 206.1,759.9 207.1,760.3 208,760.9 208.9,761.5 209.7,762.1 210.4,762.8 211,763.5 211.6,764.2 212.2,764.8 212.8,765.5 213.3,766.1 213.8,766.8 214.5,767.5 215.1,768.2 215.7,768.9 216.2,769.6 216.8,770.4 217.4,771.1 217.9,771.8 218.5,772.5 219.1,773.2 219.8,773.9 220.5,774.5 221.3,775.2 222.1,775.9 222.9,776.6 223.8,777.3 224.6,778 225.5,778.6 226.4,779.3 227.2,779.9 228,780.5 228.9,781 229.8,781.5 230.7,781.9 231.6,782.4 232.5,782.8 233.4,783.2 234.3,783.7 235.1,784.1 236,784.6 236.8,785 237.5,785.4 238.1,785.8 238.8,786.2 239.4,786.6 240.1,787 240.7,787.5 241.3,788 241.9,788.6 242.5,789.4 243,790.2 243.4,791.1 243.8,792 244.1,792.9 244.3,793.9 244.5,794.9 244.7,795.9 244.9,797 245.1,798.2 245.3,799.5 245.5,800.9 245.7,802.5 245.9,804.2 246.1,806 246.3,808 246.5,810 246.8,812 247,814.1 247.2,816.2 247.4,818.3 247.6,820.4 247.8,822.5 248,824.7 248.2,827 248.4,829.3 248.7,831.6 248.9,833.9 249.1,836.1 249.3,838.2 249.4,840.2 249.6,842 249.7,843.6 249.9,844.9 250,846 250.1,847.1 250.2,848.1 250.2,849.1 250.3,850.2 250.4,851.5 250.5,853.1 250.6,854.9 250.7,857 250.8,859.4 250.9,861.9 250.9,864.6 251,867.4 251.1,870.3 251.2,873.2 251.3,876.2 251.5,879.2 251.6,882.2 251.8,885.2 251.9,888.3 252.1,891.5 252.4,894.8 252.6,898 252.8,901.3 253,904.6 253.3,908 253.5,911.2 253.7,914.5 253.9,917.8 254.1,921.1 254.3,924.4 254.5,927.7 254.7,931.1 255,934.3 255.2,937.6 255.4,940.7 255.6,943.8 255.8,946.8 256,949.7 256.2,952.5 256.5,955.4 256.7,958.1 256.9,960.8 257.1,963.4 257.3,965.9 257.6,968.3 257.8,970.5 258,972.6 258.2,974.6 258.4,976.5 258.6,978.3 258.8,980 259,981.6 259.2,983.1 259.4,984.4 259.6,985.6 259.8,986.6 260,987.5 260.1,988.2 260.2,988.8 260.2,989.1 260.1,989 259.5,988.5 259.1,988.4 259.3,988.4 259.7,988.4 260.3,988.4 261.1,988.5 261.9,988.6 262.8,988.7 263.7,988.7 264.8,988.7 266,988.7 267.4,988.7 268.9,988.7 270.7,988.7 272.7,988.7 275,988.7 277.8,988.7 281.1,988.7 284.9,988.7 288.9,988.8 293,988.8 297,988.8 300.8,988.8 304.2,988.8 307.1,988.8 309.2,988.9 309.2,990.4 307.1,990.4 304.2,990.4 300.8,990.4 297,990.4 293,990.4 288.9,990.4 284.9,990.5 281.1,990.5 277.8,990.5 275,990.5 272.7,990.5 270.7,990.6 269,990.6 267.4,990.7 266,990.7 264.8,990.7 263.7,990.8 262.7,990.8 261.8,990.8 260.9,990.7 260.3,990.7 259.8,990.7 259.6,990.8 259.3,990.9 258.6,990.8 257.8,990.1 257.6,989.6 257.6,989.3 257.4,988.8 257.2,988.1 257,987.2 256.8,986.1 256.5,984.8 256.3,983.5 256.1,982 255.9,980.4 255.7,978.7 255.5,976.9 255.2,975 255,973 254.8,970.8 254.6,968.6 254.4,966.2 254.1,963.7 253.9,961.1 253.7,958.4 253.5,955.6 253.2,952.8 253,949.9 252.8,947 252.6,944 252.4,941 252.2,937.8 252,934.5 251.8,931.2 251.5,927.9 251.3,924.6 251.1,921.3 250.9,918 250.7,914.7 250.5,911.5 250.2,908.2 250,904.9 249.7,901.6 249.5,898.2 249.2,895 249,891.7 248.8,888.5 248.6,885.4 248.4,882.4 248.2,879.4 248.1,876.4 248,873.3 247.8,870.4 247.7,867.5 247.6,864.7 247.5,862 247.4,859.5 247.3,857.2 247.2,855.1 247.1,853.3 247,851.8 246.9,850.5 246.8,849.4 246.7,848.4 246.6,847.4 246.4,846.4 246.3,845.3 246.2,843.9 246,842.4 245.8,840.6 245.6,838.6 245.4,836.5 245.2,834.3 245,832 244.7,829.7 244.5,827.4 244.3,825.1 244,822.9 243.8,820.8 243.6,818.7 243.4,816.6 243.1,814.5 242.9,812.4 242.7,810.4 242.4,808.4 242.2,806.5 242,804.7 241.7,803 241.5,801.5 241.3,800.1 241.2,798.7 241,797.6 240.9,796.5 240.8,795.5 240.6,794.6 240.5,793.8 240.3,793.1 240.1,792.4 239.8,791.8 239.5,791.2 239.2,790.7 238.9,790.3 238.5,789.9 238.1,789.5 237.7,789.1 237.1,788.7 236.5,788.3 235.9,787.9 235.2,787.4 234.6,786.9 233.8,786.5 233,786 232.2,785.6 231.3,785.1 230.4,784.6 229.5,784.2 228.6,783.6 227.7,783.1 226.8,782.5 225.8,781.9 224.9,781.3 224,780.7 223.1,780.1 222.2,779.4 221.2,778.8 220.3,778.1 219.5,777.4 218.6,776.8 217.8,776.1 217,775.5 216.2,774.9 215.5,774.2 214.7,773.6 214,773 213.4,772.3 212.7,771.8 212,771.2 211.4,770.7 210.8,770.2 210,769.7 209.3,769.2 208.6,768.7 208,768.2 207.3,767.8 206.7,767.5 206.1,767.2 205.6,766.9 205.1,766.8 204.5,766.7 204,766.5 203.3,766.4 202.6,766.3 201.9,766.2 201.2,766.2 200.4,766.2 199.6,766.2 198.9,766.3 198.2,766.4 197.6,766.5 197.1,766.6 196.6,766.7 196,766.8 195.5,767 194.9,767.3 194.4,767.5 193.8,767.8 193.1,768.1 192.5,768.5 191.8,768.8 191.3,769 190.9,769.3 190.4,769.6 190,769.9 189.4,770.2 188.8,770.6 188.2,771 187.4,771.5 186.5,772 185.5,772.6 184.4,773.2 183.2,773.8 181.9,774.4 180.6,775 179.3,775.7 177.9,776.3 176.6,777 175.2,777.7 173.9,778.4 172.7,779.1 171.4,779.8 170.1,780.5 168.8,781.2 167.5,782 166.3,782.8 165,783.6 163.7,784.4 162.4,785.2 161.2,786 160,786.8 158.8,787.6 157.6,788.4 156.3,789.3 155.2,790.1 154,791 152.8,791.8 151.7,792.7 150.6,793.5 149.5,794.4 148.4,795.3 147.4,796.1 146.4,797 145.4,797.9 144.4,798.8 143.4,799.7 142.5,800.7 141.5,801.6 140.6,802.6 139.6,803.5 138.7,804.5 137.7,805.4 136.8,806.4 135.8,807.3 134.9,808.3 134,809.3 133.1,810.3 132.2,811.2 131.3,812.1 130.5,813 129.7,813.9 128.9,814.7 128.2,815.5 127.5,816.2 126.9,816.9 126.2,817.5 125.6,818.2 125,818.8 124.4,819.5 123.8,820.2 123.1,820.8 122.5,821.5 121.8,822.2 121.2,823 120.6,823.7 119.9,824.4 119.3,825.2 118.6,825.9 117.9,826.6 117.3,827.3 116.6,828 115.9,828.7 115.2,829.3 114.5,829.9 113.8,830.5 113.1,831.1 112.5,831.6 111.8,832.2 111.1,832.7 110.5,833.3 109.8,833.8 109.2,834.4 108.6,835 108,835.6 107.4,836.3 106.8,836.9 106.2,837.5 105.6,838.1 105,838.7 104.3,839.3 103.7,839.9 103.1,840.4 102.4,840.9 101.8,841.4 101.2,841.8 100.5,842.3 99.9,842.7 99.3,843.1 98.6,843.6 98,844 97.4,844.5 96.8,844.9 96.1,845.4 95.5,845.9 94.9,846.5 94.3,847 93.6,847.5 93,848 92.3,848.4 91.7,848.9 91,849.3 90.3,849.8 89.7,850.2 89,850.5 88.3,850.9 87.6,851.2 86.9,851.6 86.2,851.9 85.5,852.2 84.8,852.5 84.1,852.8 83.5,853.1 82.8,853.4 82.2,853.7 81.5,853.9 80.9,854.2 80.3,854.4 79.7,854.7 79.1,854.9 78.6,855.1 78.1,855.3 77.7,855.5 77.4,855.7 77.1,855.9 76.8,856 76.5,856.2 76.3,856.3 76.1,856.4 75.8,856.6 75.5,856.8 75.2,856.9 74.9,857.2 74.5,857.4 74.2,857.6 73.8,857.8 73.5,858 73.2,858.2 73,858.4 72.7,858.6 72.6,858.8 72.4,859.1 72.2,859.5 72.1,860 72,860.4 71.9,860.9 71.8,861.4 71.7,862 71.6,862.6 71.5,863.3 71.4,864.1 71.4,864.9 71.2,865.7 71.1,866.6 71,867.5 70.8,868.5 70.7,869.5 70.6,870.6 70.5,871.8 70.4,873.2 70.3,874.6 70.1,876.2 69.9,877.9 69.7,879.8 69.5,881.7 69.3,883.8 69.1,886 68.9,888.2 68.7,890.6 68.5,893 68.3,895.4 68.1,897.9 67.9,900.5 67.7,903.2 67.5,906 67.3,908.9 67.1,911.8 66.9,914.8 66.7,917.8 66.5,920.8 66.3,923.7 66.1,926.7 65.9,929.6 65.7,932.7 65.6,935.8 65.4,938.9 65.2,942 65.1,945 64.9,947.9 64.8,950.7 64.6,953.2 64.5,955.5 64.4,957.6 64.3,959.3 64.3,960.9 64.2,962.4 64.2,963.7 64.1,964.9 64.1,966.1 64,967.3 64,968.6 63.9,970 63.8,971.5 63.8,973.1 63.7,974.8 63.6,976.5 63.6,978.2 63.5,979.8 63.5,981.2 63.4,982.5 63.3,983.6 63.3,984.5Z" fill="#1a1718" fill-opacity="0.97" filter="url(#b0_5)"/>
<path d="M259.5,989 259.9,988.6 260.4,988.1 261,987.6 261.7,986.9 262.3,986.4 263,986 263.6,985.7 264.3,985.5 265,985.3 265.6,985.2 266.3,985.1 267,985.2 267.7,985.4 268.4,985.8 269.1,986.2 269.7,986.7 270.4,987.1 271,987.5 271.6,987.8 272.2,988.2 272.8,988.5 273.3,988.9 273.7,989.1 274,989.3" fill="none" stroke="#1a1718" stroke-opacity="0.9" stroke-width="2.0" stroke-linecap="round" stroke-linejoin="round" filter="url(#b0_5)"/>
<rect x="362.3" y="705.7" width="276" height="297.6" fill="none" stroke="#dedede" stroke-width="1.2"/>
<path d="M374,1003.3v2.2M392.7,1003.3v2.2M411.4,1003.3v2.2M430.1,1003.3v2.2M448.8,1003.3v2.2M467.5,1003.3v2.2M486.2,1003.3v2.2M504.9,1003.3v2.2M523.6,1003.3v2.2M542.3,1003.3v2.2M561,1003.3v2.2M579.7,1003.3v2.2M598.4,1003.3v2.2M617.1,1003.3v2.2M362.3,979.3h-2.2M362.3,905.6h-2.2M362.3,832.5h-2.2M362.3,758.4h-2.2" stroke="#8a8a8a" stroke-width="0.9" fill="none"/>
<g font-family='"Liberation Sans", sans-serif' font-size="10.2" fill="#222" stroke="#222" stroke-width="0.2" text-anchor="middle"><text x="374.5" y="1014.3" textLength="4.9" lengthAdjust="spacingAndGlyphs">0</text><text x="393.2" y="1014.3" textLength="9.9" lengthAdjust="spacingAndGlyphs">20</text><text x="411.9" y="1014.3" textLength="9.9" lengthAdjust="spacingAndGlyphs">40</text><text x="430.6" y="1014.3" textLength="9.9" lengthAdjust="spacingAndGlyphs">60</text><text x="449.3" y="1014.3" textLength="9.9" lengthAdjust="spacingAndGlyphs">80</text><text x="468" y="1014.3" textLength="14.8" lengthAdjust="spacingAndGlyphs">100</text><text x="486.7" y="1014.3" textLength="14.8" lengthAdjust="spacingAndGlyphs">120</text><text x="505.4" y="1014.3" textLength="14.8" lengthAdjust="spacingAndGlyphs">140</text><text x="524.1" y="1014.3" textLength="14.8" lengthAdjust="spacingAndGlyphs">160</text><text x="542.8" y="1014.3" textLength="14.8" lengthAdjust="spacingAndGlyphs">180</text><text x="561.5" y="1014.3" textLength="14.8" lengthAdjust="spacingAndGlyphs">200</text><text x="580.2" y="1014.3" textLength="14.8" lengthAdjust="spacingAndGlyphs">220</text><text x="598.9" y="1014.3" textLength="14.8" lengthAdjust="spacingAndGlyphs">240</text><text x="617.6" y="1014.3" textLength="14.8" lengthAdjust="spacingAndGlyphs">260</text><text x="359.2" y="983.6" text-anchor="end" textLength="18.9" lengthAdjust="spacingAndGlyphs">0.00</text><text x="359.2" y="909.9" text-anchor="end" textLength="18.9" lengthAdjust="spacingAndGlyphs">0.03</text><text x="359.2" y="836.8" text-anchor="end" textLength="18.9" lengthAdjust="spacingAndGlyphs">0.06</text><text x="359.2" y="762.7" text-anchor="end" textLength="18.9" lengthAdjust="spacingAndGlyphs">0.09</text></g>
<text x="501" y="1028.4" font-family='"Liberation Sans", sans-serif' font-size="12.8" fill="#1e1e1e" text-anchor="middle" textLength="110" lengthAdjust="spacingAndGlyphs">Fractional dose (cGy)</text>
<text transform="translate(338.1,855.5) rotate(-90)" font-family='"Liberation Sans", sans-serif' font-size="12.4" fill="#1e1e1e" text-anchor="middle" textLength="46" lengthAdjust="spacingAndGlyphs">Loadings</text>
<text x="373.7" y="729.4" font-family='"Liberation Sans", sans-serif' font-size="16" fill="#151515" textLength="63.3" lengthAdjust="spacingAndGlyphs">Dysphagia</text>
<text x="373.7" y="747.7" font-family='"Liberation Sans", sans-serif' font-size="16" fill="#151515" textLength="28.4" lengthAdjust="spacingAndGlyphs">FPLS</text>
<text x="373.7" y="766.1" font-family='"Liberation Sans", sans-serif' font-size="16" fill="#151515" textLength="63.6" lengthAdjust="spacingAndGlyphs">Validation</text>
<text x="373.7" y="784.4" font-family='"Liberation Sans", sans-serif' font-size="16" fill="#151515" textLength="27.3" lengthAdjust="spacingAndGlyphs">data</text>
<g fill="#000" fill-opacity="0.182" filter="url(#b1_6)"><path d="M381,884.6 381.4,868.6 381.6,863.7 381.9,859.6 382.4,855.5 383.4,851.4 385.2,847.7 388.1,844.8 391.6,842.5 395.2,840.5 398.6,838.1 401.9,835.5 405.1,832.9 408.4,830.3 411.6,827.7 414.8,825.1 418.1,822.6 421.3,820 424.6,817.4 427.8,814.7 430.8,811.9 433.8,809 436.7,806 439.6,803.1 442.7,800.2 445.7,797.4 448.8,794.7 452.1,792.1 455.6,789.9 459.2,787.8 462.8,785.8 466.4,783.7 469.9,781.3 473.2,778.8 476.5,776.3 479.9,774.6 483.5,774.9 487.3,776.4 491.1,777.6 495,777.3 495,781.4 491.1,784.3 487.1,789 482.9,794 478.7,797.5 474.7,799.4 471,801.6 467.7,804.2 464.6,807 461.8,810.1 459.1,813.4 456.6,816.8 454.3,820.3 452,823.9 449.8,827.5 447.7,831.1 445.7,834.9 443.8,838.6 442,842.4 440,846.2 438,849.9 435.8,853.4 433.4,856.9 430.9,860.3 428.3,863.7 425.7,867 423,870.2 420.2,873.4 417.4,876.5 414.5,879.6 411.5,882.6 408.4,885.4 405.2,888.2 401.8,890.7 398.3,893 394.7,895.3 391.2,897.5 387.6,899.8 384.1,901.4 381,889.6Z"/><path d="M381,885 381.6,871.1 382,866.4 382.6,862.4 383.4,858.4 384.5,854.5 386.4,850.9 389.4,848 392.8,845.7 396.4,843.6 399.8,841.2 403,838.6 406.2,836 409.5,833.3 412.6,830.7 415.8,828 419,825.4 422.2,822.7 425.4,820.1 428.5,817.3 431.5,814.5 434.4,811.5 437.2,808.4 440.1,805.5 443,802.5 446,799.7 449.1,796.9 452.3,794.3 455.7,791.9 459.2,789.7 462.8,787.6 466.3,785.4 469.7,783 473,780.5 476.3,778 479.8,776.3 483.5,776.4 487.3,777.4 491.1,778.1 495,777.6 495,781 491.1,783.7 487.1,787.9 483,792.2 478.8,795.4 474.8,797.3 471.2,799.5 467.9,802.1 464.8,804.9 461.9,807.9 459.1,811.1 456.5,814.4 454.1,817.7 451.7,821.2 449.4,824.7 447.2,828.3 445.2,831.9 443.2,835.6 441.2,839.3 439.2,843 437,846.6 434.7,850.1 432.3,853.5 429.7,856.9 427.1,860.1 424.4,863.4 421.7,866.6 418.8,869.7 416,872.8 413.1,875.8 410,878.7 406.9,881.5 403.6,884.2 400.3,886.7 396.9,889.2 393.6,891.6 390.3,894 387.1,896.5 383.9,898.4 381,889.1Z"/><path d="M381,885.4 381.8,873.5 382.5,869.1 383.3,865.3 384.3,861.4 385.6,857.6 387.7,854.1 390.7,851.3 394.1,849 397.6,846.8 401,844.3 404.2,841.7 407.4,839 410.5,836.3 413.7,833.6 416.9,830.9 420,828.2 423.1,825.5 426.3,822.8 429.3,820 432.2,817 435,814 437.7,810.9 440.5,807.8 443.4,804.9 446.3,801.9 449.3,799.1 452.5,796.4 455.8,793.9 459.2,791.6 462.7,789.4 466.1,787.2 469.5,784.8 472.8,782.2 476.2,779.8 479.7,778 483.4,777.8 487.2,778.3 491.1,778.6 495,777.9 495,780.6 491.1,783.1 487.1,786.7 483.1,790.5 478.9,793.3 475,795.2 471.4,797.4 468.1,800 465,802.8 462,805.7 459.1,808.7 456.4,811.9 453.9,815.2 451.4,818.5 449.1,822 446.8,825.5 444.6,829 442.5,832.6 440.5,836.3 438.3,839.9 436.1,843.4 433.7,846.8 431.2,850.1 428.6,853.4 425.9,856.6 423.1,859.8 420.3,862.9 417.5,866 414.6,869 411.6,872 408.5,874.9 405.3,877.6 402.1,880.2 398.8,882.8 395.6,885.4 392.5,888 389.5,890.5 386.5,893.2 383.6,895.4 381,888.7Z"/><path d="M381,885.7 382,876 382.9,871.8 384,868.1 385.2,864.4 386.7,860.8 388.9,857.4 391.9,854.5 395.4,852.2 398.9,849.9 402.2,847.4 405.4,844.8 408.5,842 411.6,839.3 414.8,836.6 417.9,833.8 421,831.1 424.1,828.3 427.1,825.5 430.1,822.6 432.9,819.6 435.6,816.5 438.3,813.3 441,810.2 443.8,807.2 446.6,804.2 449.6,801.2 452.6,798.5 455.8,795.9 459.2,793.6 462.6,791.3 466,788.9 469.4,786.5 472.7,783.9 476.1,781.5 479.6,779.7 483.4,779.2 487.2,779.3 491.1,779.1 495,778.2 495,780.3 491.1,782.4 487.1,785.6 483.1,788.7 479,791.2 475.2,793.1 471.6,795.3 468.3,797.9 465.1,800.6 462.1,803.4 459.1,806.4 456.4,809.4 453.7,812.6 451.1,815.9 448.7,819.2 446.3,822.6 444,826.1 441.9,829.7 439.7,833.2 437.5,836.7 435.2,840.2 432.7,843.5 430.1,846.8 427.4,849.9 424.6,853.1 421.8,856.2 419,859.2 416.1,862.3 413.1,865.3 410.2,868.2 407,871 403.8,873.6 400.5,876.2 397.2,878.8 394.2,881.6 391.4,884.3 388.6,887.1 386,889.9 383.4,892.3 381,888.2Z"/><path d="M381,886.1 382.2,878.4 383.4,874.5 384.7,870.9 386.1,867.4 387.8,863.9 390.2,860.6 393.2,857.8 396.6,855.4 400.1,853.1 403.4,850.6 406.5,847.8 409.6,845.1 412.7,842.3 415.8,839.5 418.9,836.7 421.9,833.9 425,831.1 427.9,828.2 430.8,825.2 433.6,822.2 436.2,819 438.8,815.8 441.5,812.6 444.2,809.5 446.9,806.4 449.8,803.4 452.8,800.6 455.9,798 459.2,795.5 462.5,793.1 465.9,790.7 469.2,788.2 472.5,785.6 475.9,783.2 479.6,781.4 483.4,780.7 487.2,780.2 491.1,779.6 495,778.5 495,779.9 491.1,781.8 487.1,784.4 483.2,787 479.2,789.1 475.3,790.9 471.8,793.2 468.5,795.8 465.3,798.5 462.2,801.2 459.2,804 456.3,806.9 453.5,810 450.9,813.2 448.3,816.5 445.9,819.8 443.5,823.2 441.2,826.7 439,830.1 436.7,833.6 434.2,837 431.7,840.2 429,843.4 426.2,846.5 423.4,849.5 420.5,852.6 417.6,855.6 414.7,858.6 411.7,861.5 408.7,864.4 405.5,867.1 402.3,869.7 398.9,872.2 395.7,874.9 392.8,877.8 390.2,880.7 387.8,883.6 385.4,886.6 383.1,889.3 381,887.8Z"/><path d="M381,886.5 382.4,880.9 383.8,877.2 385.4,873.8 387.1,870.4 389,867 391.4,863.8 394.5,861 397.9,858.6 401.3,856.3 404.6,853.7 407.7,850.9 410.8,848.1 413.8,845.3 416.9,842.4 419.9,839.6 422.9,836.7 425.9,833.8 428.8,830.9 431.6,827.9 434.3,824.8 436.8,821.5 439.4,818.2 441.9,815 444.5,811.8 447.2,808.7 450,805.6 452.9,802.7 456,800 459.2,797.4 462.4,794.9 465.7,792.4 469.1,789.9 472.4,787.4 475.8,785 479.5,783.2 483.3,782.1 487.2,781.1 491.1,780.1 495,778.8 495,779.5 491.1,781.2 487.2,783.2 483.2,785.3 479.3,787 475.5,788.8 472,791.1 468.7,793.7 465.5,796.3 462.3,799 459.2,801.7 456.2,804.5 453.3,807.4 450.6,810.5 447.9,813.7 445.4,817 442.9,820.3 440.5,823.7 438.2,827.1 435.8,830.5 433.3,833.7 430.6,836.9 427.9,840 425,843 422.1,846 419.2,849 416.3,851.9 413.3,854.9 410.3,857.7 407.2,860.6 404,863.3 400.7,865.8 397.4,868.3 394.2,871 391.5,873.9 389.1,877 386.9,880.1 384.8,883.3 382.9,886.3 381,887.3Z"/></g>
<g fill="#000" fill-opacity="0.125" filter="url(#b1_4)"><path d="M476,780.9 477.5,779.4 479,776 480.6,772.7 482.1,771.2 483.6,771 485.1,770.6 486.6,770.2 488,769.5 489.3,768.8 490.6,767.9 491.8,767 493,766 494.1,765 495.2,764 496.3,762.9 497.3,761.7 498.3,760.5 499.2,759.3 500.2,758.1 501.2,756.9 502.2,755.8 503.3,754.7 504.5,753.8 505.8,752.9 507.1,752.1 508.5,751.5 509.9,751 511.4,750.6 512.9,750.4 514.5,750.2 516,750 517.5,750 519.1,750 520.6,750.1 522.1,750.3 523.6,750.6 525.1,751.1 526.6,758.6 528,766.9 528,772.1 526.8,779.1 525.7,785.3 524.5,784.5 523.3,783.6 522.1,782.9 520.8,782.3 519.4,781.9 518,781.7 516.6,781.6 515.2,781.6 513.7,781.8 512.3,782 510.9,782.3 509.5,782.7 508.2,783.2 506.9,783.9 505.7,784.5 504.4,785.3 503.1,785.9 501.9,786.6 500.6,787.3 499.4,788 498.1,788.7 496.8,789.3 495.5,789.9 494.2,790.5 492.9,791.1 491.6,791.7 490.2,792.2 488.9,792.6 487.5,792.9 486,793.1 484.6,793.2 483.2,793.2 481.7,793.2 480.3,791.9 478.9,788.7 477.5,785.5 476,784.1Z"/><path d="M476,781.2 477.5,779.9 479,777.1 480.5,774.3 482.1,773.1 483.6,772.8 485.1,772.5 486.5,772.1 487.9,771.5 489.3,770.8 490.5,770 491.8,769.1 493,768.1 494.1,767.1 495.3,766.1 496.4,765.1 497.4,764 498.4,762.8 499.4,761.6 500.3,760.5 501.3,759.3 502.4,758.2 503.5,757.2 504.7,756.3 506,755.4 507.3,754.7 508.7,754.1 510.1,753.6 511.6,753.2 513.1,753 514.6,752.8 516.2,752.7 517.7,752.6 519.2,752.7 520.7,752.8 522.2,753.1 523.7,753.5 525.1,753.9 526.6,760.3 528,767.3 528,771.7 526.8,777.4 525.6,782.4 524.5,781.6 523.2,780.9 522,780.2 520.7,779.6 519.3,779.2 517.9,779 516.4,779 515,779 513.5,779.2 512.1,779.4 510.7,779.7 509.3,780.1 508,780.7 506.7,781.4 505.5,782.1 504.2,782.8 503,783.5 501.7,784.2 500.5,784.9 499.3,785.7 498,786.4 496.8,787.1 495.5,787.8 494.2,788.4 492.9,789 491.6,789.6 490.3,790.2 488.9,790.6 487.5,791 486.1,791.2 484.6,791.3 483.2,791.4 481.8,791.4 480.3,790.3 478.9,787.7 477.5,785 476,783.8Z"/><path d="M476,781.4 477.5,780.4 479,778.1 480.5,775.9 482,774.9 483.5,774.7 485,774.4 486.5,774 487.9,773.4 489.2,772.8 490.5,772 491.8,771.1 493,770.2 494.1,769.3 495.3,768.3 496.4,767.3 497.5,766.2 498.5,765.1 499.5,764 500.5,762.9 501.5,761.8 502.6,760.7 503.7,759.7 504.9,758.8 506.2,757.9 507.5,757.2 508.9,756.6 510.3,756.2 511.8,755.8 513.3,755.6 514.8,755.4 516.3,755.3 517.8,755.3 519.4,755.4 520.8,755.5 522.3,755.9 523.8,756.3 525.2,756.8 526.6,762 528,767.8 528,771.2 526.7,775.7 525.6,779.6 524.4,778.8 523.1,778.1 521.9,777.4 520.5,776.9 519.1,776.6 517.7,776.4 516.2,776.3 514.8,776.4 513.3,776.6 511.9,776.8 510.5,777.1 509.1,777.6 507.8,778.2 506.5,778.8 505.3,779.6 504,780.3 502.8,781.1 501.6,781.8 500.4,782.6 499.2,783.4 498,784.2 496.7,784.9 495.5,785.6 494.2,786.3 492.9,786.9 491.6,787.6 490.3,788.1 488.9,788.6 487.5,789 486.1,789.3 484.7,789.4 483.2,789.5 481.8,789.5 480.4,788.7 478.9,786.6 477.5,784.5 476,783.6Z"/><path d="M476,781.7 477.5,780.9 479,779.2 480.5,777.5 482,776.7 483.5,776.5 485,776.3 486.4,775.9 487.8,775.4 489.2,774.8 490.5,774 491.7,773.2 493,772.3 494.1,771.4 495.3,770.5 496.4,769.5 497.5,768.5 498.6,767.4 499.6,766.3 500.6,765.2 501.7,764.2 502.7,763.2 503.9,762.2 505.1,761.3 506.4,760.5 507.7,759.8 509.1,759.2 510.5,758.8 512,758.4 513.5,758.2 515,758 516.5,757.9 518,757.9 519.5,758.1 521,758.3 522.4,758.6 523.8,759.1 525.2,759.6 526.6,763.7 528,768.2 528,770.8 526.7,774 525.5,776.7 524.3,776 523,775.3 521.7,774.7 520.4,774.2 519,773.9 517.5,773.8 516.1,773.7 514.6,773.8 513.2,774 511.7,774.2 510.3,774.6 508.9,775 507.6,775.6 506.3,776.3 505.1,777.1 503.9,777.9 502.6,778.7 501.4,779.5 500.3,780.3 499.1,781.1 497.9,781.9 496.7,782.7 495.4,783.4 494.2,784.1 492.9,784.8 491.6,785.5 490.3,786.1 489,786.6 487.6,787.1 486.2,787.4 484.7,787.5 483.3,787.7 481.8,787.7 480.4,787.1 478.9,785.5 477.5,784 476,783.3Z"/><path d="M476,782 477.5,781.4 479,780.2 480.5,779.1 482,778.5 483.5,778.4 484.9,778.1 486.4,777.8 487.8,777.3 489.2,776.7 490.5,776 491.7,775.2 492.9,774.4 494.1,773.5 495.3,772.6 496.5,771.7 497.6,770.7 498.6,769.7 499.7,768.6 500.7,767.6 501.8,766.6 502.9,765.6 504.1,764.7 505.3,763.8 506.6,763 507.9,762.3 509.3,761.8 510.7,761.3 512.2,761 513.7,760.8 515.2,760.6 516.7,760.6 518.2,760.6 519.6,760.7 521.1,761 522.5,761.4 523.9,761.9 525.3,762.5 526.7,765.4 528,768.6 528,770.4 526.7,772.3 525.5,773.9 524.2,773.2 522.9,772.5 521.6,772 520.2,771.5 518.8,771.2 517.3,771.1 515.9,771.1 514.4,771.2 513,771.4 511.5,771.7 510.1,772 508.7,772.5 507.4,773.1 506.1,773.8 504.9,774.6 503.7,775.4 502.5,776.3 501.3,777.1 500.2,778 499,778.8 497.8,779.7 496.7,780.5 495.4,781.3 494.2,782 492.9,782.8 491.7,783.5 490.4,784.1 489,784.7 487.6,785.1 486.2,785.5 484.8,785.7 483.3,785.8 481.9,785.9 480.4,785.5 478.9,784.5 477.5,783.4 476,783Z"/><path d="M476,782.2 477.5,781.9 479,781.3 480.5,780.7 481.9,780.4 483.4,780.2 484.9,780 486.3,779.7 487.8,779.3 489.1,778.7 490.4,778 491.7,777.3 492.9,776.5 494.2,775.6 495.4,774.8 496.5,773.9 497.6,772.9 498.7,772 499.8,771 500.9,770 502,769 503.1,768.1 504.3,767.2 505.5,766.3 506.8,765.5 508.1,764.9 509.5,764.3 510.9,763.9 512.4,763.6 513.9,763.4 515.4,763.3 516.8,763.2 518.3,763.3 519.8,763.4 521.2,763.7 522.6,764.2 524,764.7 525.3,765.3 526.7,767.1 528,769.1 528,769.9 526.7,770.6 525.4,771 524.1,770.4 522.8,769.8 521.5,769.2 520.1,768.8 518.6,768.6 517.2,768.5 515.7,768.5 514.2,768.6 512.8,768.8 511.3,769.1 509.9,769.5 508.5,769.9 507.2,770.6 505.9,771.3 504.7,772.1 503.5,773 502.3,773.8 501.2,774.7 500,775.6 498.9,776.5 497.8,777.4 496.6,778.3 495.4,779.1 494.2,779.9 492.9,780.7 491.7,781.4 490.4,782.1 489,782.7 487.7,783.2 486.3,783.5 484.8,783.8 483.4,783.9 481.9,784 480.4,783.9 478.9,783.4 477.5,782.9 476,782.8Z"/></g>
<g fill="#000" fill-opacity="0.149" filter="url(#b1_5)"><path d="M516,763.7 517.9,761.8 519.8,757.2 521.8,752.2 523.8,749.7 525.9,749.1 527.9,748.6 530,748.2 532.1,747.7 534.2,747.3 536.3,747 538.4,746.7 540.5,746.5 542.6,746.6 544.7,746.8 546.8,747.3 548.6,748.4 550,750 551,751.9 551.8,753.8 552.4,755.9 553.1,757.9 553.8,759.9 554.4,761.9 555.1,763.9 555.7,766 556.4,768 557,770 557.5,772.1 558,774.1 558.5,776.2 559,778.3 559.4,780.4 559.8,782.4 560.2,784.5 560.6,786.6 560.8,791.8 560.9,801.9 561,812.2 561.3,818.2 561,828 560.5,831 559.8,840.1 559.1,848.8 558.5,850.7 558.1,848.4 557.7,846.1 557.3,843.8 556.8,841.5 556.3,839.2 555.7,836.9 555.2,834.6 554.6,832.4 553.8,830.1 552.9,828 551.8,825.9 550.4,824 549.1,822.1 547.8,820.1 546.5,818.2 545.2,816.2 543.8,814.3 542.3,812.5 540.8,810.8 539,809.2 537.2,807.7 535.3,806.3 533.4,804.9 531.7,803.3 530.2,801.5 528.8,799.6 527.6,797.6 526.4,795.6 525.3,793.5 524,791.5 522.7,789.6 521.2,785.3 519.6,777.9 517.8,771.2 516,768.2Z"/><path d="M516,764 517.9,762.5 519.8,758.7 521.8,754.6 523.8,752.5 525.7,752.1 527.7,751.7 529.8,751.5 531.8,751.2 533.8,751 535.8,750.8 537.9,750.6 540,750.6 542.1,750.7 544.2,751 546.2,751.6 548,752.8 549.4,754.4 550.5,756.3 551.3,758.2 552,760.2 552.7,762.2 553.4,764.3 554.2,766.3 554.9,768.3 555.5,770.3 556.2,772.3 556.8,774.4 557.4,776.5 557.9,778.5 558.4,780.6 558.8,782.7 559.3,784.8 559.7,786.9 560.1,789 560.4,791.1 560.7,795.8 560.9,804.6 561,813.6 561.3,818.9 561,827 560.5,829.2 559.9,836.4 559.2,843.2 558.7,844.5 558.3,842.2 557.9,839.9 557.5,837.7 557,835.4 556.5,833.1 556,830.8 555.4,828.6 554.8,826.3 554.1,824.1 553.2,822 552.1,819.9 550.8,818 549.5,816.1 548.3,814.1 547.1,812.1 545.8,810.2 544.5,808.3 543.1,806.4 541.5,804.7 539.8,803.2 537.9,801.9 536,800.5 534.1,799.2 532.4,797.8 530.8,796.2 529.3,794.5 528,792.8 526.8,791 525.5,789.2 524.2,787.4 522.8,785.7 521.2,782.1 519.6,775.9 517.8,770.3 516,767.8Z"/><path d="M516,764.3 517.9,763.1 519.8,760.1 521.7,756.9 523.7,755.3 525.6,755.1 527.6,754.9 529.5,754.8 531.5,754.7 533.4,754.6 535.4,754.6 537.4,754.6 539.5,754.7 541.6,754.9 543.7,755.3 545.7,756 547.5,757.1 548.9,758.8 550,760.6 550.8,762.6 551.6,764.6 552.4,766.6 553.1,768.6 553.9,770.6 554.6,772.6 555.4,774.6 556,776.7 556.6,778.8 557.2,780.8 557.7,782.9 558.2,785 558.7,787.1 559.1,789.2 559.5,791.4 559.9,793.5 560.3,795.6 560.6,799.8 560.8,807.2 561,814.9 561.2,819.6 561,826.1 560.6,827.3 560,832.7 559.4,837.7 558.9,838.3 558.5,836.1 558.1,833.8 557.7,831.5 557.2,829.3 556.7,827 556.2,824.8 555.6,822.5 555,820.3 554.3,818.1 553.5,816 552.4,813.9 551.2,812 550,810.1 548.8,808.1 547.7,806.1 546.5,804.2 545.2,802.2 543.8,800.4 542.3,798.7 540.5,797.2 538.6,796 536.7,794.8 534.8,793.6 533,792.3 531.4,791 529.8,789.5 528.5,788 527.1,786.4 525.8,784.8 524.4,783.3 522.9,781.9 521.3,778.9 519.6,773.9 517.8,769.4 516,767.3Z"/><path d="M516,764.7 517.9,763.8 519.8,761.6 521.7,759.2 523.6,758.1 525.5,758 527.4,758 529.3,758.1 531.1,758.2 533,758.3 535,758.4 537,758.5 539,758.8 541.1,759.1 543.1,759.6 545.1,760.3 546.9,761.5 548.4,763.1 549.5,765 550.4,766.9 551.2,768.9 552,771 552.8,773 553.6,775 554.4,776.9 555.2,779 555.8,781 556.4,783.1 557,785.2 557.6,787.3 558.1,789.4 558.5,791.6 559,793.7 559.4,795.8 559.8,797.9 560.1,800.1 560.5,803.8 560.7,809.9 560.9,816.2 561.2,820.3 561.1,825.1 560.6,825.5 560.1,829 559.6,832.2 559.1,832.1 558.7,829.9 558.3,827.6 557.9,825.4 557.4,823.2 556.9,820.9 556.4,818.7 555.9,816.5 555.3,814.3 554.6,812.1 553.8,810 552.7,807.9 551.6,806 550.4,804.1 549.3,802.1 548.2,800.1 547.1,798.1 545.9,796.2 544.6,794.4 543,792.7 541.3,791.2 539.3,790.1 537.4,789 535.5,787.9 533.6,786.9 531.9,785.7 530.4,784.4 528.9,783.1 527.5,781.8 526,780.5 524.6,779.2 523,778 521.4,775.7 519.6,771.9 517.8,768.5 516,766.9Z"/><path d="M516,765 517.9,764.4 519.7,763 521.6,761.5 523.5,760.9 525.4,761 527.2,761.2 529,761.4 530.8,761.7 532.7,762 534.6,762.2 536.5,762.5 538.5,762.8 540.6,763.3 542.6,763.8 544.6,764.6 546.4,765.9 547.8,767.5 549,769.4 549.9,771.3 550.8,773.3 551.6,775.3 552.4,777.3 553.3,779.3 554.2,781.3 555,783.3 555.7,785.4 556.3,787.5 556.9,789.6 557.4,791.7 557.9,793.8 558.4,796 558.8,798.1 559.2,800.3 559.6,802.4 560,804.6 560.3,807.8 560.6,812.6 560.9,817.5 561.2,820.9 561.1,824.2 560.7,823.7 560.2,825.3 559.7,826.7 559.3,825.9 558.9,823.7 558.5,821.5 558.1,819.3 557.6,817.1 557.2,814.8 556.6,812.6 556.1,810.4 555.5,808.3 554.8,806.1 554,804 553.1,802 552,800 550.9,798 549.8,796.1 548.8,794.1 547.7,792.1 546.6,790.2 545.3,788.3 543.8,786.6 542,785.3 540.1,784.2 538.1,783.2 536.2,782.3 534.3,781.4 532.5,780.4 530.9,779.4 529.3,778.3 527.8,777.2 526.3,776.1 524.7,775.1 523.1,774.2 521.4,772.5 519.7,769.9 517.8,767.6 516,766.5Z"/><path d="M516,765.3 517.9,765.1 519.7,764.5 521.6,763.8 523.4,763.7 525.2,764 527,764.3 528.7,764.7 530.5,765.2 532.3,765.6 534.1,766 536,766.5 538,766.9 540,767.5 542.1,768.1 544.1,769 545.8,770.2 547.3,771.9 548.5,773.7 549.5,775.7 550.4,777.7 551.2,779.7 552.1,781.7 553,783.6 553.9,785.6 554.8,787.7 555.5,789.7 556.1,791.8 556.7,794 557.2,796.1 557.7,798.2 558.2,800.4 558.7,802.6 559.1,804.7 559.5,806.9 559.9,809.1 560.2,811.7 560.5,815.3 560.8,818.8 561.2,821.6 561.1,823.2 560.7,821.9 560.3,821.6 559.9,821.2 559.5,819.7 559.1,817.5 558.7,815.3 558.3,813.1 557.8,810.9 557.4,808.7 556.9,806.6 556.3,804.4 555.7,802.2 555.1,800.1 554.3,798 553.4,796 552.4,794 551.3,792 550.4,790 549.4,788 548.4,786.1 547.3,784.1 546,782.3 544.5,780.6 542.8,779.3 540.8,778.3 538.8,777.4 536.8,776.7 534.9,775.9 533.1,775.1 531.4,774.3 529.8,773.5 528.1,772.6 526.5,771.8 524.9,771 523.2,770.3 521.5,769.3 519.7,767.9 517.8,766.7 516,766Z"/></g>
<path d="M372.5,974.9 372.5,974.1 372.5,973.1 372.6,971.9 372.6,970.6 372.6,969.1 372.7,967.6 372.7,966.1 372.7,964.6 372.8,963.2 372.8,961.9 372.8,960.8 372.9,959.7 372.9,958.7 372.9,957.8 373,956.8 373,955.9 373,954.8 373.1,953.7 373.1,952.4 373.2,950.9 373.2,949.3 373.2,947.5 373.2,945.5 373.2,943.5 373.2,941.4 373.2,939.2 373.3,937 373.3,934.8 373.3,932.6 373.4,930.5 373.4,928.4 373.5,926.2 373.6,924.1 373.6,921.9 373.7,919.7 373.8,917.6 373.9,915.4 374,913.4 374.1,911.4 374.2,909.4 374.2,907.6 374.3,905.8 374.4,904 374.5,902.3 374.5,900.6 374.6,899 374.7,897.3 374.8,895.8 374.8,894.2 374.9,892.6 375,891.1 375.1,889.6 375.2,888.1 375.3,886.7 375.4,885.3 375.5,883.8 375.6,882.4 375.7,881.1 375.8,879.7 375.9,878.4 376.2,877.1 376.4,875.9 376.6,874.6 376.9,873.4 377.1,872.2 377.4,871.1 377.7,870 378,868.9 378.2,867.9 378.5,867 378.9,866.2 379.2,865.5 379.5,864.7 379.8,864 380.2,863.3 380.6,862.5 381.1,861.8 381.7,861 382.4,860.4 383.2,859.7 384.1,859.2 385.1,858.8 386.1,858.6 387,858.4 387.8,858.3 388.6,858.2 389.4,858.2 390.1,858.1 390.7,858 391.3,857.9 391.8,857.7 392.4,857.5 392.9,857.2 393.5,857 394,856.7 394.6,856.4 395.1,856.1 395.7,855.8 396.3,855.5 397,855.1 397.7,854.7 398.4,854.3 399.2,853.8 400,853.3 400.8,852.8 401.6,852.3 402.4,851.8 403.2,851.3 404,850.7 404.7,850.2 405.5,849.7 406.2,849.1 406.9,848.6 407.7,848 408.4,847.4 409.1,846.8 409.8,846.2 410.6,845.6 411.3,845 412.1,844.4 412.8,843.8 413.5,843.2 414.2,842.6 415,841.9 415.7,841.3 416.4,840.6 417.2,840 417.9,839.4 418.7,838.7 419.4,838.1 420.2,837.4 421,836.7 421.7,836.1 422.5,835.5 423.2,834.8 424,834.2 424.7,833.6 425.5,832.9 426.2,832.3 426.9,831.6 427.6,830.9 428.3,830.2 429,829.4 429.7,828.7 430.4,827.9 431.1,827.2 431.8,826.4 432.5,825.6 433.2,824.8 433.9,824 434.7,823.1 435.4,822.2 436.2,821.4 436.9,820.5 437.6,819.6 438.3,818.8 439,817.9 439.6,817.1 440.1,816.3 440.6,815.5 440.9,814.8 441.3,814.1 441.6,813.4 441.9,812.5 442.2,811.6 442.5,810.7 442.9,809.6 443.4,808.5 443.9,807.2 444.6,806 445.2,804.9 445.8,803.8 446.5,802.6 447.2,801.3 448,800 448.8,798.8 449.7,797.5 450.6,796.2 451.6,795 452.6,793.7 453.8,792.6 455,791.5 456.3,790.5 457.5,789.5 458.7,788.7 459.9,787.9 461.1,787.1 462.1,786.4 463.1,785.7 463.9,785 464.7,784.4 465.4,783.8 466.1,783.2 466.8,782.5 467.7,781.7 468.6,780.9 469.7,780.1 470.9,779.3 472.2,778.5 473.7,777.8 475.3,777.2 477,776.8 478.6,776.5 480.2,776.2 481.8,776 483.3,775.8 484.6,775.6 485.8,775.4 486.8,775.3 487.6,775.1 488.4,774.9 489.1,774.7 489.7,774.5 490.1,774.3 490.4,774.2 490.7,774.1 491,773.9 491.3,773.7 491.7,773.5 492,773.2 492.4,773 492.7,772.7 493.2,772.2 493.7,771.7 494.3,771 494.9,770.3 495.6,769.5 496.4,768.8 497.3,768 498.2,767.2 499.1,766.6 500,766.1 500.8,765.6 501.6,765.2 502.4,764.9 503.2,764.6 503.9,764.3 504.6,764 505.3,763.8 505.9,763.6 506.5,763.4 507.2,763.2 507.9,763 508.6,762.8 509.4,762.6 510.2,762.4 511,762.2 511.9,762.1 512.8,762 513.8,762 514.7,762.1 515.6,762.2 516.5,762.4 517.3,762.6 518.1,762.8 518.9,763.1 519.6,763.3 520.4,763.6 521.1,763.9 521.7,764.2 522.4,764.6 523.1,764.9 523.8,765.3 524.5,765.8 525.2,766.2 525.9,766.7 526.7,767.2 527.4,767.8 528.1,768.4 528.8,769.1 529.5,770 530,771 530.5,771.8 530.8,772.6 531.1,773.4 531.3,774.1 531.5,774.6 531.7,775.1 531.9,775.5 532,775.8 532.3,776 532.6,776.3 533,776.6 533.4,776.9 533.9,777.2 534.5,777.4 535.1,777.7 535.8,778 536.4,778.4 537.1,778.8 537.8,779.1 538.4,779.4 539,779.7 539.6,780.1 540.2,780.4 540.7,780.7 541.3,781 541.8,781.2 542.4,781.5 542.9,781.7 543.4,781.8 543.9,782 544.5,782.1 545,782.2 545.6,782.3 546.2,782.4 546.8,782.5 547.4,782.6 548.1,782.8 548.7,782.9 549.1,782.9 549.6,783 550.1,783 550.7,783 551.3,783.1 552,783.2 552.7,783.3 553.5,783.6 554.3,783.9 555.1,784.4 555.8,784.9 556.4,785.5 556.9,786.1 557.4,786.7 557.8,787.3 558.3,787.9 558.6,788.6 559,789.2 559.3,789.8 559.7,790.5 560,791.1 560.3,791.9 560.7,792.6 561,793.3 561.3,794.1 561.6,795 561.9,795.9 562.2,796.8 562.5,797.8 562.8,799 563.1,800.2 563.4,801.5 563.7,802.9 564.1,804.4 564.4,805.9 564.8,807.5 565.1,809.1 565.4,810.7 565.7,812.3 566,813.8 566.3,815.2 566.5,816.7 566.8,818.1 567,819.5 567.3,820.9 567.5,822.4 567.7,824 568,825.7 568.2,827.6 568.4,829.6 568.6,831.7 568.7,834 568.8,836.4 569,838.9 569.1,841.4 569.2,844.1 569.3,846.7 569.5,849.4 569.6,852 569.8,854.7 570,857.4 570.1,860.1 570.3,862.8 570.5,865.6 570.7,868.4 570.9,871.2 571.1,874.1 571.3,877.1 571.5,880.1 571.8,883.1 572.1,886.2 572.4,889.4 572.7,892.7 573,896.1 573.3,899.5 573.7,902.9 574,906.3 574.4,909.7 574.7,913.1 575,916.5 575.3,919.9 575.6,923.5 575.8,927 576.1,930.6 576.4,934.2 576.6,937.6 576.9,941 577.1,944.2 577.4,947.3 577.6,950.1 577.8,952.7 578,955.1 578.2,957.4 578.3,959.6 578.5,961.6 578.6,963.5 578.8,965.3 578.9,966.9 579.1,968.5 579.3,970 579.5,971.4 579.7,972.6 579.9,973.8 580.1,974.8 580.3,975.7 580.5,976.6 580.8,977.3 581,977.9 581.2,978.4 581.4,978.9 581.6,979.3 581.7,979.6 581.7,979.5 581.4,979.2 580.8,978.7 580.2,978.4 579.8,978.3 579.7,978.3 580,978.3 580.4,978.3 580.7,978.4 581.1,978.4 581.8,978.3 582.6,978.2 583.5,978 584.6,977.8 585.7,977.6 586.9,977.4 588.2,977.3 589.5,977.1 590.9,977 592.2,976.9 593.6,976.9 595.1,976.8 596.6,976.7 598.1,976.7 599.7,976.6 601.4,976.6 603.1,976.5 604.9,976.5 606.8,976.5 609,976.4 611.3,976.4 613.7,976.4 616.1,976.4 618.5,976.3 620.6,976.3 622.6,976.3 624.2,976.3 625.4,976.4 625.6,981 624.3,981.1 622.7,981.2 620.7,981.3 618.6,981.4 616.3,981.5 613.9,981.6 611.5,981.7 609.2,981.8 607,982 605.1,982.1 603.4,982.2 601.7,982.4 600.1,982.6 598.6,982.7 597.1,982.9 595.6,983.1 594.2,983.3 592.9,983.5 591.6,983.7 590.5,983.9 589.4,984.1 588.4,984.4 587.4,984.7 586.4,985 585.5,985.4 584.5,985.7 583.6,986 582.6,986.3 581.6,986.6 580.6,986.7 579.9,986.7 579.2,986.7 578.4,986.6 577.4,986.3 576.2,985.8 575.3,984.9 574.6,984.1 574.2,983.4 573.9,982.8 573.6,982.1 573.3,981.3 573,980.5 572.8,979.5 572.5,978.6 572.3,977.5 572.1,976.4 571.9,975.2 571.7,973.9 571.5,972.5 571.3,971 571.1,969.4 570.9,967.8 570.7,966 570.6,964.2 570.4,962.3 570.2,960.2 570,958.1 569.8,955.8 569.6,953.3 569.4,950.7 569.2,947.9 568.9,944.9 568.7,941.7 568.4,938.3 568.1,934.8 567.8,931.3 567.5,927.7 567.2,924.2 566.9,920.7 566.6,917.3 566.3,913.9 566,910.5 565.6,907.1 565.3,903.7 564.9,900.3 564.5,896.9 564.2,893.6 563.8,890.3 563.5,887 563.2,883.9 562.9,880.8 562.7,877.8 562.4,874.8 562.1,871.9 561.9,869.1 561.7,866.2 561.4,863.5 561.2,860.7 561,858 560.8,855.3 560.6,852.6 560.5,849.9 560.3,847.2 560.2,844.5 560,841.9 559.9,839.4 559.7,837 559.6,834.6 559.4,832.5 559.2,830.4 559,828.6 558.8,826.8 558.6,825.3 558.4,823.8 558.2,822.4 558,821 557.7,819.7 557.5,818.3 557.2,816.9 557,815.4 556.7,813.9 556.5,812.4 556.2,810.8 555.9,809.3 555.6,807.7 555.3,806.3 555,804.8 554.7,803.5 554.5,802.2 554.2,801 554,800 553.8,799 553.6,798.2 553.4,797.4 553.2,796.7 553.1,796 552.9,795.4 552.7,794.8 552.5,794.2 552.3,793.5 552.1,792.9 551.9,792.3 551.8,791.8 551.6,791.3 551.5,790.9 551.3,790.5 551.2,790.2 551.1,789.9 551,789.7 550.9,789.6 550.9,789.5 550.8,789.4 550.7,789.2 550.4,789.1 550.1,789 549.6,788.8 549.1,788.7 548.6,788.5 547.9,788.3 547.3,788.1 546.8,788 546.3,787.8 545.7,787.7 545.1,787.5 544.5,787.4 543.9,787.2 543.2,787 542.5,786.8 541.8,786.6 541.1,786.3 540.4,786.1 539.8,785.8 539.1,785.5 538.5,785.1 537.8,784.8 537.2,784.5 536.6,784.1 536,783.8 535.4,783.5 534.9,783.2 534.3,783 533.8,782.9 533.2,782.7 532.5,782.4 531.8,782.2 531.1,782 530.3,781.6 529.6,781.3 528.8,780.8 528,780.2 527.2,779.5 526.5,778.8 525.9,778 525.4,777.3 524.9,776.7 524.5,776.1 524.1,775.6 523.8,775.2 523.5,775 523.2,774.9 522.9,774.7 522.5,774.4 522,774.2 521.6,774 521.1,773.7 520.5,773.5 520,773.3 519.4,773.1 518.8,772.9 518.3,772.8 517.7,772.6 517.2,772.4 516.7,772.3 516.2,772.2 515.7,772.1 515.3,772 514.8,772 514.5,772 514.1,772 513.8,772 513.5,772 513.2,772.1 512.9,772.2 512.5,772.3 512.1,772.4 511.7,772.5 511.2,772.7 510.6,772.9 510.1,773.1 509.5,773.4 508.9,773.6 508.3,773.9 507.8,774.1 507.2,774.3 506.8,774.5 506.3,774.8 505.9,775 505.5,775.3 505.1,775.5 504.8,775.8 504.5,776.1 504.1,776.4 503.7,776.9 503.2,777.5 502.6,778.2 502,779 501.3,779.8 500.5,780.6 499.7,781.4 498.8,782.2 497.9,782.8 497.2,783.2 496.5,783.7 495.7,784.1 494.9,784.5 494,784.8 493.2,785.1 492.3,785.4 491.4,785.6 490.4,785.9 489,786.2 487.6,786.5 486.2,786.7 484.7,786.9 483.3,787.1 481.9,787.3 480.6,787.5 479.5,787.7 478.6,787.9 477.9,788.2 477.4,788.5 476.8,788.8 476.3,789.1 475.7,789.6 475.1,790.1 474.4,790.7 473.7,791.4 472.8,792.2 471.8,793.1 470.7,794 469.5,794.8 468.4,795.6 467.2,796.3 466.1,797 465,797.8 463.9,798.5 462.9,799.2 461.9,799.9 461.1,800.6 460.4,801.3 459.6,802 458.8,802.9 458.1,803.8 457.3,804.7 456.5,805.8 455.8,806.8 455.1,807.9 454.4,808.9 453.7,810 453,811 452.5,811.8 452.1,812.6 451.6,813.4 451.2,814.2 450.8,815.2 450.4,816.1 449.8,817.2 449.3,818.2 448.6,819.4 447.8,820.5 447,821.5 446.1,822.5 445.3,823.4 444.4,824.3 443.4,825.1 442.5,826 441.6,826.8 440.8,827.5 439.9,828.3 439.1,829 438.2,829.8 437.4,830.5 436.6,831.2 435.7,831.9 434.9,832.7 434.1,833.3 433.2,834 432.4,834.7 431.5,835.3 430.7,836 429.9,836.7 429,837.3 428.2,837.9 427.4,838.5 426.5,839.1 425.7,839.7 424.9,840.2 424.1,840.8 423.3,841.4 422.6,841.9 421.8,842.5 421.1,843.1 420.3,843.7 419.5,844.4 418.8,845 418,845.6 417.2,846.2 416.5,846.8 415.7,847.4 414.9,848 414.2,848.6 413.4,849.2 412.7,849.8 411.9,850.4 411.2,850.9 410.4,851.5 409.6,852.1 408.8,852.7 408.1,853.2 407.3,853.8 406.5,854.4 405.6,854.9 404.8,855.5 404,856 403.1,856.5 402.3,857.1 401.5,857.6 400.7,858 399.9,858.5 399.2,858.9 398.5,859.3 397.8,859.7 397.2,860 396.6,860.3 396,860.7 395.4,861 394.7,861.2 394.1,861.5 393.5,861.8 392.7,862.1 391.9,862.4 391.1,862.7 390.3,862.9 389.5,863.1 388.7,863.3 388.1,863.5 387.5,863.7 387.1,863.9 386.9,864.1 386.8,864.3 386.8,864.5 386.7,864.7 386.7,864.9 386.7,865.2 386.6,865.6 386.6,866.1 386.5,866.7 386.5,867.4 386.4,868.2 386.3,869 386.1,869.9 385.9,870.8 385.7,871.7 385.6,872.7 385.4,873.8 385.2,874.9 385.1,876 384.9,877.2 384.8,878.4 384.7,879.6 384.5,880.8 384.3,882.1 384.1,883.3 383.9,884.7 383.7,886 383.6,887.4 383.4,888.9 383.2,890.3 383.1,891.8 382.9,893.4 382.7,894.9 382.5,896.4 382.3,898 382.1,899.6 381.9,901.2 381.7,902.9 381.5,904.6 381.2,906.3 381,908.1 380.8,910 380.6,911.9 380.4,913.9 380.2,915.9 380,918 379.8,920.1 379.6,922.3 379.4,924.4 379.2,926.6 379,928.7 378.8,930.7 378.7,932.8 378.6,935 378.5,937.1 378.4,939.3 378.3,941.5 378.2,943.6 378.1,945.6 378,947.6 377.9,949.4 377.8,951.1 377.8,952.6 377.7,953.9 377.6,955 377.6,956.1 377.5,957.1 377.5,958 377.4,959 377.3,959.9 377.3,961 377.2,962.1 377.1,963.4 377.1,964.8 377,966.2 376.9,967.8 376.8,969.3 376.7,970.7 376.7,972.1 376.6,973.3 376.5,974.3 376.5,975.1Z" fill="#000" fill-opacity="0.25" filter="url(#b0_6)"/>
<path d="M374.1,975 374.1,974.2 374.1,973.2 374.2,972 374.2,970.6 374.2,969.2 374.3,967.7 374.3,966.1 374.3,964.7 374.4,963.3 374.4,962 374.4,960.8 374.5,959.8 374.5,958.8 374.5,957.9 374.6,956.9 374.6,955.9 374.6,954.9 374.7,953.7 374.7,952.4 374.8,951 374.8,949.3 374.8,947.5 374.8,945.6 374.8,943.5 374.8,941.4 374.8,939.2 374.9,937 374.9,934.8 374.9,932.7 375,930.5 375,928.4 375.1,926.3 375.2,924.2 375.2,922 375.3,919.8 375.4,917.7 375.5,915.6 375.6,913.5 375.7,911.5 375.8,909.6 375.8,907.7 375.9,905.9 376,904.1 376.1,902.4 376.1,900.7 376.2,899.1 376.3,897.5 376.4,895.9 376.4,894.3 376.5,892.8 376.6,891.3 376.7,889.8 376.8,888.3 376.9,886.8 377,885.4 377.1,884 377.2,882.6 377.3,881.3 377.4,879.9 377.5,878.6 377.7,877.4 378,876.1 378.2,874.9 378.5,873.7 378.7,872.5 379,871.4 379.2,870.3 379.5,869.3 379.8,868.3 380.1,867.4 380.4,866.6 380.7,865.9 381,865.2 381.3,864.5 381.7,863.8 382,863.2 382.5,862.5 383,862 383.5,861.5 384.2,861 384.9,860.6 385.7,860.3 386.5,860.1 387.3,860 388.1,859.9 388.9,859.8 389.7,859.8 390.4,859.7 391.1,859.6 391.8,859.4 392.4,859.2 393,858.9 393.6,858.7 394.2,858.4 394.7,858.2 395.3,857.9 395.9,857.6 396.5,857.2 397.1,856.9 397.8,856.5 398.5,856.1 399.3,855.6 400,855.2 400.8,854.7 401.6,854.2 402.5,853.6 403.3,853.1 404.1,852.6 404.9,852 405.7,851.5 406.4,851 407.2,850.4 407.9,849.8 408.6,849.3 409.4,848.7 410.1,848.1 410.8,847.5 411.6,846.9 412.3,846.3 413.1,845.7 413.8,845 414.5,844.4 415.3,843.8 416,843.2 416.7,842.5 417.5,841.9 418.2,841.2 418.9,840.6 419.7,839.9 420.4,839.3 421.2,838.6 421.9,838 422.7,837.4 423.5,836.7 424.2,836.1 425,835.5 425.7,834.8 426.5,834.2 427.2,833.5 427.9,832.8 428.7,832.1 429.4,831.4 430.1,830.6 430.8,829.9 431.5,829.1 432.2,828.3 432.9,827.5 433.6,826.7 434.4,825.9 435.1,825.1 435.8,824.2 436.6,823.4 437.3,822.5 438.1,821.6 438.8,820.7 439.5,819.9 440.2,819 440.8,818.1 441.4,817.3 441.9,816.4 442.3,815.6 442.7,814.9 443,814 443.4,813.2 443.7,812.3 444,811.3 444.4,810.2 444.8,809.1 445.4,808 445.9,806.8 446.6,805.7 447.2,804.6 447.9,803.4 448.6,802.2 449.3,800.9 450.1,799.7 450.9,798.4 451.8,797.2 452.8,796 453.8,794.8 454.9,793.7 456.1,792.7 457.3,791.8 458.5,790.9 459.7,790 460.8,789.2 461.9,788.4 463,787.7 464,787 464.9,786.3 465.7,785.7 466.4,785 467.2,784.4 467.9,783.7 468.7,782.9 469.6,782.2 470.6,781.4 471.7,780.6 472.9,779.9 474.3,779.3 475.8,778.8 477.3,778.4 478.9,778 480.5,777.8 482,777.6 483.5,777.4 484.8,777.2 486.1,777 487.2,776.8 488,776.6 488.8,776.4 489.6,776.2 490.2,776 490.7,775.8 491.1,775.7 491.4,775.5 491.8,775.3 492.1,775.1 492.6,774.8 493,774.5 493.4,774.2 493.9,773.8 494.4,773.3 494.9,772.7 495.5,772.1 496.1,771.4 496.8,770.6 497.6,769.9 498.3,769.2 499.2,768.5 500,767.9 500.8,767.4 501.6,767 502.3,766.7 503.1,766.3 503.8,766 504.5,765.8 505.2,765.5 505.8,765.3 506.5,765.1 507.1,764.9 507.7,764.7 508.4,764.5 509.1,764.3 509.8,764.1 510.6,763.9 511.3,763.8 512.1,763.7 513,763.6 513.8,763.6 514.6,763.7 515.4,763.8 516.2,763.9 517,764.1 517.7,764.3 518.4,764.6 519.1,764.8 519.8,765.1 520.5,765.4 521.1,765.7 521.8,766.1 522.4,766.4 523.1,766.8 523.8,767.2 524.4,767.6 525.1,768.1 525.8,768.6 526.4,769.1 527.1,769.7 527.7,770.3 528.2,771.1 528.7,771.9 529.1,772.6 529.4,773.4 529.7,774.1 529.9,774.8 530.2,775.5 530.4,776 530.7,776.5 530.9,777 531.3,777.3 531.8,777.7 532.2,778 532.8,778.3 533.3,778.6 533.9,778.9 534.5,779.2 535.2,779.5 535.8,779.8 536.4,780.2 537,780.5 537.6,780.8 538.2,781.2 538.8,781.5 539.4,781.8 540,782.1 540.6,782.4 541.2,782.7 541.7,782.9 542.3,783.2 542.9,783.3 543.5,783.5 544.1,783.6 544.7,783.8 545.3,783.9 545.9,784 546.5,784.1 547.1,784.2 547.7,784.3 548.3,784.4 548.8,784.5 549.3,784.5 549.9,784.6 550.4,784.6 551,784.7 551.6,784.7 552.2,784.9 552.8,785 553.4,785.3 554.1,785.7 554.6,786.1 555.1,786.5 555.6,787 556,787.6 556.4,788.1 556.8,788.7 557.2,789.2 557.5,789.8 557.9,790.4 558.2,791.1 558.5,791.7 558.8,792.4 559.1,793.1 559.4,793.9 559.7,794.6 560,795.4 560.3,796.3 560.6,797.2 560.9,798.2 561.2,799.3 561.5,800.5 561.9,801.9 562.2,803.3 562.5,804.7 562.9,806.3 563.2,807.8 563.5,809.4 563.8,811 564.2,812.5 564.5,814.1 564.7,815.5 565,816.9 565.2,818.3 565.5,819.7 565.7,821.2 565.9,822.7 566.2,824.2 566.4,825.9 566.6,827.7 566.8,829.7 567,831.9 567.1,834.1 567.3,836.5 567.4,839 567.5,841.5 567.6,844.1 567.7,846.8 567.9,849.5 568,852.1 568.2,854.8 568.4,857.5 568.5,860.2 568.7,862.9 568.9,865.7 569.1,868.5 569.3,871.4 569.5,874.3 569.7,877.2 569.9,880.2 570.2,883.3 570.5,886.4 570.8,889.6 571.1,892.9 571.4,896.2 571.8,899.6 572.1,903 572.4,906.5 572.8,909.9 573.1,913.3 573.4,916.7 573.7,920.1 574,923.6 574.2,927.2 574.5,930.7 574.8,934.3 575,937.8 575.3,941.1 575.5,944.4 575.8,947.4 576,950.2 576.2,952.8 576.4,955.2 576.6,957.5 576.7,959.7 576.9,961.7 577,963.6 577.2,965.4 577.3,967.1 577.5,968.7 577.7,970.2 577.9,971.6 578.1,972.9 578.3,974.1 578.5,975.1 578.8,976.1 579,976.9 579.2,977.7 579.4,978.4 579.7,979 579.9,979.5 580.1,980 580.3,980.3 580.3,980.4 580.2,980.3 580,980.1 579.7,979.9 579.5,979.9 579.6,979.9 580,979.9 580.4,979.9 580.9,980 581.4,979.9 582.2,979.9 583,979.7 583.9,979.6 585,979.4 586.1,979.2 587.2,979 588.5,978.8 589.8,978.7 591,978.6 592.4,978.5 593.8,978.4 595.2,978.4 596.7,978.3 598.2,978.3 599.8,978.2 601.5,978.2 603.2,978.1 604.9,978.1 606.9,978.1 609,978 611.4,978 613.8,978 616.2,978 618.5,977.9 620.7,977.9 622.6,977.9 624.2,977.9 625.5,978 625.5,979.4 624.3,979.5 622.6,979.6 620.7,979.7 618.5,979.8 616.2,979.9 613.8,980 611.4,980.1 609.1,980.2 607,980.4 605.1,980.5 603.3,980.7 601.6,980.8 600,981 598.4,981.1 596.9,981.3 595.5,981.5 594.1,981.7 592.7,981.9 591.5,982.1 590.2,982.3 589.1,982.5 588.1,982.8 587,983.1 586,983.5 585.1,983.8 584.1,984.2 583.2,984.5 582.3,984.7 581.4,985 580.6,985.1 579.9,985.1 579.3,985.1 578.7,985 577.9,984.8 577.1,984.4 576.4,983.8 576,983.2 575.6,982.7 575.4,982.1 575.1,981.5 574.8,980.8 574.6,980 574.3,979.1 574.1,978.2 573.9,977.2 573.7,976.1 573.5,974.9 573.3,973.7 573.1,972.3 572.9,970.8 572.7,969.2 572.5,967.6 572.3,965.9 572.2,964 572,962.1 571.8,960.1 571.6,957.9 571.4,955.6 571.2,953.2 571,950.6 570.8,947.8 570.5,944.8 570.3,941.5 570,938.2 569.7,934.7 569.4,931.1 569.1,927.6 568.8,924 568.5,920.5 568.2,917.1 567.9,913.8 567.6,910.4 567.2,907 566.8,903.6 566.5,900.2 566.1,896.8 565.8,893.4 565.4,890.1 565.1,886.9 564.8,883.7 564.5,880.7 564.2,877.7 564,874.7 563.7,871.8 563.5,868.9 563.3,866.1 563,863.3 562.8,860.6 562.6,857.9 562.4,855.2 562.2,852.5 562.1,849.8 561.9,847.1 561.8,844.4 561.6,841.8 561.5,839.3 561.3,836.9 561.2,834.5 561,832.3 560.8,830.3 560.6,828.4 560.4,826.7 560.2,825.1 560,823.6 559.8,822.1 559.6,820.7 559.3,819.4 559.1,818 558.8,816.6 558.5,815.1 558.3,813.6 558,812.1 557.7,810.5 557.5,809 557.2,807.4 556.9,805.9 556.6,804.5 556.3,803.1 556,801.8 555.8,800.7 555.6,799.6 555.3,798.6 555.1,797.7 555,796.9 554.8,796.2 554.6,795.5 554.4,794.8 554.2,794.2 554,793.6 553.8,792.9 553.6,792.3 553.4,791.7 553.2,791.1 553,790.6 552.9,790.1 552.7,789.7 552.5,789.3 552.3,788.9 552.1,788.6 551.9,788.3 551.7,788.1 551.5,787.9 551.2,787.7 550.8,787.6 550.4,787.4 549.9,787.3 549.4,787.1 548.9,786.9 548.3,786.8 547.7,786.6 547.2,786.4 546.6,786.3 546.1,786.1 545.5,786 544.9,785.8 544.2,785.7 543.6,785.5 543,785.3 542.3,785.1 541.7,784.8 541.1,784.6 540.4,784.3 539.8,784 539.2,783.7 538.6,783.4 538,783.1 537.4,782.7 536.8,782.4 536.2,782.1 535.6,781.8 535,781.6 534.4,781.4 533.7,781.2 533.1,781 532.4,780.7 531.8,780.5 531.1,780.2 530.4,779.9 529.7,779.5 529.1,779 528.4,778.5 527.8,777.9 527.3,777.2 526.8,776.6 526.3,775.9 525.9,775.3 525.5,774.8 525.1,774.3 524.7,774 524.3,773.7 523.9,773.4 523.4,773.1 522.9,772.9 522.4,772.6 521.8,772.3 521.3,772.1 520.7,771.9 520.1,771.7 519.5,771.5 518.9,771.3 518.3,771.1 517.7,770.9 517.2,770.8 516.6,770.6 516.1,770.5 515.6,770.5 515.1,770.4 514.6,770.4 514.2,770.4 513.8,770.4 513.4,770.4 513,770.5 512.6,770.6 512.2,770.7 511.7,770.8 511.2,771 510.7,771.2 510.1,771.4 509.5,771.6 508.9,771.9 508.3,772.1 507.7,772.4 507.2,772.6 506.6,772.8 506.1,773.1 505.6,773.3 505.1,773.6 504.7,773.9 504.2,774.2 503.8,774.5 503.4,774.9 503,775.3 502.5,775.8 502,776.5 501.4,777.2 500.8,777.9 500.1,778.7 499.4,779.4 498.6,780.2 497.8,780.9 497.1,781.4 496.4,781.9 495.7,782.3 495,782.7 494.2,783 493.5,783.3 492.7,783.6 491.9,783.8 491,784.1 490,784.4 488.7,784.7 487.3,784.9 485.9,785.1 484.5,785.3 483.1,785.5 481.7,785.7 480.4,785.9 479.2,786.1 478.1,786.4 477.3,786.7 476.6,787 476,787.4 475.3,787.8 474.7,788.3 474.1,788.9 473.3,789.5 472.6,790.3 471.7,791 470.8,791.9 469.7,792.7 468.6,793.5 467.5,794.2 466.3,795 465.2,795.7 464,796.4 463,797.2 461.9,797.9 460.9,798.7 460,799.4 459.2,800.2 458.4,801 457.6,801.9 456.8,802.8 456,803.8 455.2,804.9 454.5,806 453.7,807 453,808.1 452.3,809.2 451.7,810.2 451.1,811 450.6,811.9 450.2,812.7 449.8,813.6 449.3,814.6 448.9,815.5 448.4,816.5 447.8,817.5 447.2,818.5 446.5,819.6 445.7,820.5 444.9,821.5 444.1,822.3 443.2,823.2 442.3,824 441.4,824.9 440.5,825.6 439.6,826.4 438.8,827.2 437.9,827.9 437.1,828.6 436.3,829.4 435.4,830.1 434.6,830.8 433.8,831.5 433,832.2 432.1,832.8 431.3,833.5 430.5,834.1 429.7,834.8 428.8,835.4 428,836.1 427.2,836.7 426.4,837.3 425.6,837.8 424.7,838.4 423.9,839 423.1,839.6 422.4,840.1 421.6,840.7 420.8,841.3 420,841.9 419.3,842.5 418.5,843.1 417.7,843.7 417,844.3 416.2,845 415.5,845.6 414.7,846.2 413.9,846.7 413.2,847.3 412.4,847.9 411.7,848.5 410.9,849.1 410.2,849.7 409.4,850.3 408.7,850.8 407.9,851.4 407.1,851.9 406.3,852.5 405.6,853 404.8,853.6 403.9,854.1 403.1,854.7 402.3,855.2 401.5,855.7 400.7,856.2 399.9,856.7 399.1,857.1 398.4,857.5 397.7,857.9 397.1,858.3 396.5,858.6 395.9,858.9 395.3,859.2 394.7,859.5 394.1,859.8 393.5,860 392.9,860.3 392.2,860.6 391.5,860.9 390.7,861.1 390,861.3 389.2,861.5 388.5,861.7 387.7,862 387.1,862.2 386.6,862.4 386.1,862.7 385.8,863 385.6,863.4 385.4,863.8 385.3,864.2 385.2,864.6 385.1,865.1 385.1,865.6 385,866.3 384.9,867 384.8,867.8 384.7,868.6 384.5,869.5 384.4,870.4 384.2,871.4 384,872.4 383.8,873.5 383.7,874.6 383.5,875.8 383.4,877 383.2,878.2 383.1,879.4 382.9,880.6 382.7,881.9 382.5,883.2 382.3,884.5 382.1,885.9 382,887.3 381.8,888.7 381.6,890.2 381.5,891.7 381.3,893.2 381.1,894.8 380.9,896.3 380.7,897.9 380.5,899.5 380.3,901.1 380.1,902.8 379.9,904.5 379.7,906.2 379.4,908 379.2,909.8 379,911.7 378.8,913.7 378.6,915.8 378.4,917.9 378.2,920 378,922.2 377.8,924.3 377.6,926.5 377.4,928.6 377.2,930.7 377.1,932.7 377,934.9 376.9,937.1 376.8,939.3 376.7,941.4 376.6,943.6 376.5,945.6 376.4,947.6 376.3,949.4 376.2,951 376.2,952.5 376.1,953.8 376,955 376,956 375.9,957 375.9,957.9 375.8,958.9 375.7,959.9 375.7,960.9 375.6,962 375.5,963.3 375.5,964.7 375.4,966.2 375.3,967.7 375.2,969.2 375.1,970.7 375.1,972 375,973.2 374.9,974.2 374.9,975Z" fill="#1a1718" fill-opacity="0.97" filter="url(#b0_5)"/>
<path d="M528.5,776 528.6,776.8 528.6,777.8 528.7,779 528.8,780.3 528.9,781.7 529,783 529.1,784.4 529.2,785.9 529.3,787.4 529.4,788.9 529.4,790.1 529.5,791" fill="none" stroke="#1a1718" stroke-opacity="0.5" stroke-width="1.4" stroke-linecap="round" stroke-linejoin="round" filter="url(#b0_5)"/>
<path d="M578,976 578.7,975.8 579.7,975.5 580.9,975.2 582.2,974.9 583.6,974.6 585,974.5 586.4,974.5 587.9,974.6 589.5,974.8 591.2,975 593,975.2 595,975.5 597.2,975.8 599.6,976.1 602.2,976.5 604.8,976.9 607.4,977.2 610,977.5 612.7,977.8 615.6,978 618.4,978.2 621.1,978.4 623.4,978.6 625,978.7" fill="none" stroke="#1a1718" stroke-opacity="0.9" stroke-width="1.3" stroke-linecap="round" stroke-linejoin="round" filter="url(#b0_5)"/>
<path d="M578,985 578.7,984.8 579.7,984.6 580.9,984.4 582.2,984.1 583.6,983.8 585,983.5 586.4,983.2 587.9,982.9 589.5,982.5 591.2,982.2 593,981.8 595,981.5 597.2,981.2 599.6,980.8 602.2,980.4 604.8,980.1 607.4,979.8 610,979.5 612.7,979.3 615.6,979.1 618.4,979 621.1,978.9 623.4,978.8 625,978.7" fill="none" stroke="#1a1718" stroke-opacity="0.9" stroke-width="1.3" stroke-linecap="round" stroke-linejoin="round" filter="url(#b0_5)"/>
</svg></body></html>
